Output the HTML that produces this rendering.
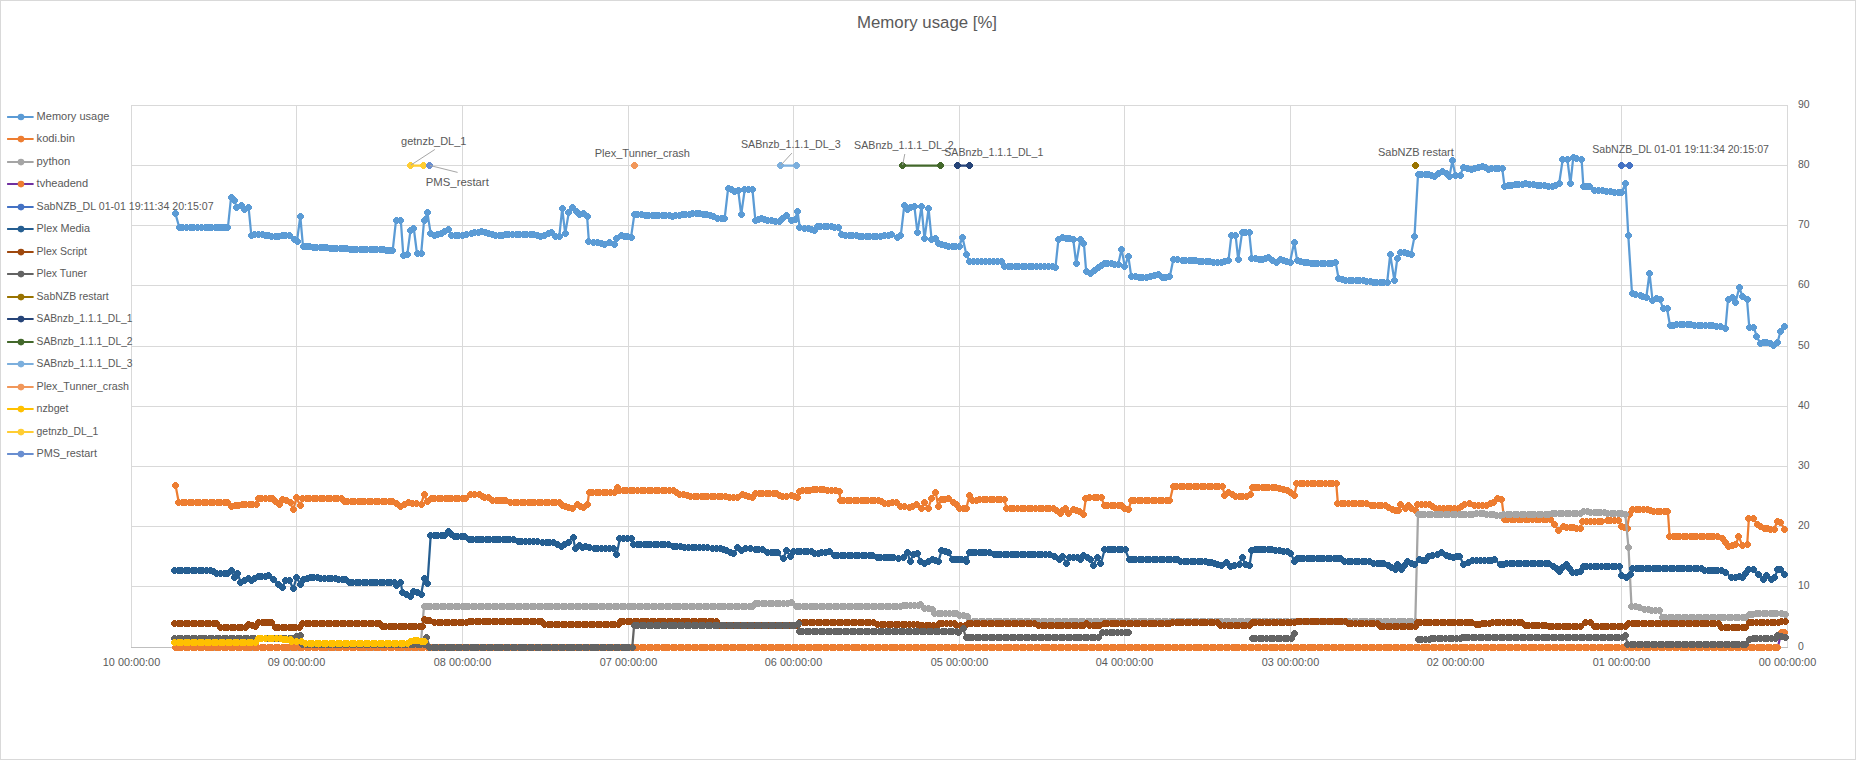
<!DOCTYPE html><html><head><meta charset="utf-8"><style>html,body{margin:0;padding:0;background:#fff;}svg{display:block;}text{font-family:"Liberation Sans", sans-serif;white-space:pre;}</style></head><body>
<svg width="1856" height="760" viewBox="0 0 1856 760">
<rect x="0" y="0" width="1856" height="760" fill="#fff"/>
<rect x="0.5" y="0.5" width="1855" height="759" fill="none" stroke="#D9D9D9" stroke-width="1"/>
<path d="M131 105.5H1788M131 165.5H1788M131 225.5H1788M131 285.5H1788M131 346.5H1788M131 406.5H1788M131 466.5H1788M131 526.5H1788M131 586.5H1788M131.5 105V648M296.5 105V648M462.5 105V648M628.5 105V648M793.5 105V648M959.5 105V648M1124.5 105V648M1290.5 105V648M1455.5 105V648M1621.5 105V648M1787.5 105V648" stroke="#D9D9D9" stroke-width="1" fill="none"/>
<path d="M131 647.5H1788" stroke="#BFBFBF" stroke-width="1" fill="none"/>
<text x="857" y="28.1" font-size="16.8" fill="#595959" text-anchor="start" textLength="140" lengthAdjust="spacingAndGlyphs">Memory usage [%]</text>
<text x="1798" y="108.3" font-size="10.2" fill="#595959" text-anchor="start" textLength="11.6" lengthAdjust="spacingAndGlyphs">90</text>
<text x="1798" y="168.3" font-size="10.2" fill="#595959" text-anchor="start" textLength="11.6" lengthAdjust="spacingAndGlyphs">80</text>
<text x="1798" y="228.3" font-size="10.2" fill="#595959" text-anchor="start" textLength="11.6" lengthAdjust="spacingAndGlyphs">70</text>
<text x="1798" y="288.3" font-size="10.2" fill="#595959" text-anchor="start" textLength="11.6" lengthAdjust="spacingAndGlyphs">60</text>
<text x="1798" y="349.3" font-size="10.2" fill="#595959" text-anchor="start" textLength="11.6" lengthAdjust="spacingAndGlyphs">50</text>
<text x="1798" y="409.3" font-size="10.2" fill="#595959" text-anchor="start" textLength="11.6" lengthAdjust="spacingAndGlyphs">40</text>
<text x="1798" y="469.3" font-size="10.2" fill="#595959" text-anchor="start" textLength="11.6" lengthAdjust="spacingAndGlyphs">30</text>
<text x="1798" y="529.3" font-size="10.2" fill="#595959" text-anchor="start" textLength="11.6" lengthAdjust="spacingAndGlyphs">20</text>
<text x="1798" y="589.3" font-size="10.2" fill="#595959" text-anchor="start" textLength="11.6" lengthAdjust="spacingAndGlyphs">10</text>
<text x="1798" y="650.3" font-size="10.2" fill="#595959" text-anchor="start" textLength="5.8" lengthAdjust="spacingAndGlyphs">0</text>
<text x="102.8" y="665.6" font-size="10.2" fill="#595959" text-anchor="start" textLength="57.4" lengthAdjust="spacingAndGlyphs">10 00:00:00</text>
<text x="267.8" y="665.6" font-size="10.2" fill="#595959" text-anchor="start" textLength="57.4" lengthAdjust="spacingAndGlyphs">09 00:00:00</text>
<text x="433.8" y="665.6" font-size="10.2" fill="#595959" text-anchor="start" textLength="57.4" lengthAdjust="spacingAndGlyphs">08 00:00:00</text>
<text x="599.8" y="665.6" font-size="10.2" fill="#595959" text-anchor="start" textLength="57.4" lengthAdjust="spacingAndGlyphs">07 00:00:00</text>
<text x="764.8" y="665.6" font-size="10.2" fill="#595959" text-anchor="start" textLength="57.4" lengthAdjust="spacingAndGlyphs">06 00:00:00</text>
<text x="930.8" y="665.6" font-size="10.2" fill="#595959" text-anchor="start" textLength="57.4" lengthAdjust="spacingAndGlyphs">05 00:00:00</text>
<text x="1095.8" y="665.6" font-size="10.2" fill="#595959" text-anchor="start" textLength="57.4" lengthAdjust="spacingAndGlyphs">04 00:00:00</text>
<text x="1261.8" y="665.6" font-size="10.2" fill="#595959" text-anchor="start" textLength="57.4" lengthAdjust="spacingAndGlyphs">03 00:00:00</text>
<text x="1426.8" y="665.6" font-size="10.2" fill="#595959" text-anchor="start" textLength="57.4" lengthAdjust="spacingAndGlyphs">02 00:00:00</text>
<text x="1592.8" y="665.6" font-size="10.2" fill="#595959" text-anchor="start" textLength="57.4" lengthAdjust="spacingAndGlyphs">01 00:00:00</text>
<text x="1758.8" y="665.6" font-size="10.2" fill="#595959" text-anchor="start" textLength="57.4" lengthAdjust="spacingAndGlyphs">00 00:00:00</text>
<polyline points="175.4,213.6 179.4,227.7 182.9,227.6 186.5,227.4 190,227.3 193.8,227.4 197.5,227.6 201.2,227.7 205,227.8 208.3,227.6 211.7,227.4 215,227.2 218.2,227.3 221.4,227.3 224.7,227.4 227.9,227.5 231.1,197 234.3,200.2 236.8,207.5 241.6,205.9 244.9,209.9 248.6,207.5 251.3,235 254.9,234.8 258.4,234.7 262,234.5 265.2,235 268.5,235.5 271.8,236 275,236.5 278.6,236.1 282.1,235.8 285.7,235.4 289.3,235 294.2,239.5 297,241 300.3,216.4 303,246.3 306.4,246.5 309.8,246.8 313.2,247 316.6,247.3 320,247.5 323.3,247.7 326.7,247.8 330,248 333.3,248.2 336.7,248.3 340,248.5 343.3,248.7 346.7,248.8 350,249 353.3,249.1 356.7,249.1 360,249.2 363.3,249.2 366.7,249.3 370,249.3 373.3,249.4 376.7,249.4 380,249.5 383.2,249.8 386.4,250.1 389.5,250.3 392.7,250.6 396,220.4 400.8,220.4 403.3,255.2 407.3,254.3 410.5,230.1 413.8,228.5 417,253.5 421.2,253.4 424.1,220.2 425.3,219 427.3,212.3 430.7,233.6 434.2,235 437.8,234 441.3,233 444.9,231.3 448.4,229.7 451.4,235 455.2,235.2 458.9,235.4 462.7,235.6 466.9,234.6 471,233.5 474.5,232.8 478.1,232.2 481.6,231.5 485.2,232.5 488.8,233.6 492.3,234.6 495.9,235.6 499.1,235.3 502.4,235.1 505.6,234.8 508.9,234.5 512.5,234.4 516,234.4 519.6,234.3 523.1,234.2 526.7,234.1 530.2,234.1 533.8,234 537.3,235.4 540.9,236.8 544.5,235.4 548,233.9 551.6,232.5 555.1,236.8 559.3,236.5 562.2,208.4 565.2,233.6 568.8,212.5 572.3,207.2 576.5,211.3 579.4,214.9 583.6,213.7 587.1,216.7 588.9,241.6 593.3,242.1 597.8,242.7 601.3,243.6 604.9,244.5 609.7,242.2 614.4,244.8 616.8,238.6 621.5,235.6 624.7,236.2 627.8,236.8 631,237.4 634.4,214.2 638,214.5 641.5,214.8 645.1,215 648.7,215.3 652.1,215.4 655.5,215.5 658.9,215.6 662.2,215.7 665.6,215.8 669,215.9 672.4,216 675.8,215.6 679.2,215.3 682.6,214.9 685.9,214.6 689.3,214.2 692.7,213.9 696.1,213.5 699.6,213.9 703.2,214.2 706.8,214.6 710.3,215 713.9,216.7 717.5,218.3 721,218.6 724.6,218.9 728.1,188.6 731.1,189.8 734.1,191 738.2,190.2 741.2,214.7 744.7,189.8 748.9,189 752.4,189.2 755.4,220.6 758.3,219.4 761.3,218.3 764.2,219.4 767.2,220.6 771.2,220.8 775.1,221 779.1,221.2 782.7,218.6 786.2,215.9 791,220 795.1,219.5 797.5,211.2 799.8,227.8 804.2,228.1 808.7,228.3 811.7,229.2 814.7,230.1 817,226 820.6,226.2 824.1,226.4 827.7,226.6 831.3,226.8 834.8,227 838.4,227.2 841.9,234.8 845.5,235.2 849.2,235.5 852.8,235.9 856.2,236 859.6,236.1 863,236.2 866.3,236.2 869.7,236.3 873.1,236.4 876.5,236.5 880.4,236.1 884.2,235.6 888,235.1 891.9,234.7 897.2,237.7 900.8,235.3 904.3,205.4 907.3,209.2 910.8,207.8 914.4,206.3 917.4,232.7 921.5,206.6 924.5,238.9 928.6,208.6 931.6,239.5 935.8,238.3 938.1,243 941.7,244 945.2,245 948.8,246 952.4,246 955.9,246 959.5,246 962.4,237.1 966.3,254.3 969.5,261.4 973.4,261.5 977.2,261.6 981.1,261.7 985,261.8 989,261.6 993,261.5 997,261.4 1001,261.2 1004.5,266 1008,266 1011.6,266 1015.1,266.1 1018.7,266.1 1022.2,266.1 1025.8,266.1 1029.3,266.1 1032.9,266.2 1036.5,266.2 1040,266.2 1044,266.2 1048,266.2 1052,266.2 1055.4,267.8 1058.4,239.6 1062.5,237.8 1066.1,238.2 1069.6,238.6 1073.2,239 1076.2,263.6 1080.3,239.6 1083.9,243.7 1086.2,271.6 1090.4,273.3 1094.2,270.4 1098.1,267.4 1101,265.6 1104,263.9 1107.5,263.9 1111.1,263.9 1114.7,264.2 1118.2,264.5 1121.6,249 1124.8,266.8 1128.3,256.2 1131.3,276.7 1135.2,276.9 1139,277.1 1142.8,277.3 1146.7,277.5 1150.6,276.5 1154.6,275.5 1158.5,274.5 1162.1,277.5 1165.9,277.1 1169.8,276.7 1173.4,259.1 1177.8,259.7 1182.2,260.3 1185.6,260.5 1189,260.6 1192.4,260.8 1195.8,261 1199.2,261.2 1202.6,261.3 1206,261.5 1209.8,261.8 1213.7,262.1 1217.6,262.4 1221.4,262.7 1225,261.5 1228.5,260.3 1231.4,235.4 1235.6,235.4 1238.2,259.7 1242.1,232.4 1245.7,232.4 1249.2,232.4 1251.9,258.5 1255.5,258.9 1259.2,259.3 1262.8,259.7 1265.8,258.8 1268.7,257.9 1272.6,260 1276.4,262.1 1280.6,259.7 1283.7,260.5 1286.9,261.3 1290,262.1 1294.2,242.3 1297.2,260.9 1300.8,261.8 1304.3,262.7 1307.7,262.9 1311.1,263 1314.5,263.2 1317.8,263.4 1321.2,263.6 1324.6,263.7 1328,263.9 1331.8,263.1 1335.7,262.4 1338.6,278.7 1342.2,279.6 1345.8,280.5 1349.3,280.5 1352.9,280.5 1356.4,280.5 1360,280.5 1363.5,280.5 1366.8,281.1 1370,281.6 1373.3,282.2 1376.6,282.8 1380.1,282.6 1383.7,282.4 1387.2,282.2 1390.2,254.4 1394.4,280.5 1397.3,258.5 1400.9,252 1404.3,252.8 1407.6,253.6 1411,254.4 1414.5,236.6 1418,174.9 1421.6,174.6 1425.2,174.3 1428.3,174.9 1431.5,175.5 1434.6,176.1 1438.8,173.7 1442.9,171.3 1446.2,173.7 1449.5,176.1 1452.4,160.7 1455.4,175.5 1460.1,175.5 1463.1,167.8 1467.2,168.4 1471.4,169 1474.9,168 1478.5,167 1482,166 1485,167.5 1488,169 1491.5,168.8 1495.1,168.7 1498.7,168.6 1502.2,168.4 1504.6,186.7 1508.2,185.8 1511.7,185 1515.2,184.7 1518.8,184.4 1522.4,184.1 1525.9,183.8 1529.6,184.2 1533.4,184.6 1537.1,185 1540.8,185.5 1544.5,185.9 1548.3,186.3 1552,186.7 1555.5,185.2 1559.1,183.8 1562.7,159.5 1567.4,159.5 1570.4,183.8 1573.3,157.1 1576.9,158.9 1581.6,159.5 1583.4,186.7 1586.7,186.4 1589.9,186.2 1594.7,190.9 1598.6,190.9 1602.6,191 1606.5,191 1610.5,191.6 1614.4,192.1 1618.4,192.7 1621.5,192.5 1625.5,183.8 1628.3,235.5 1632,293.3 1635,294.3 1640,295 1642.5,296.3 1646.3,297.5 1649.5,273 1652.5,300 1656.3,298.8 1660,299.5 1663,308.3 1667,308.3 1670,325.5 1673.3,325.2 1676.7,324.8 1680,324.5 1683.6,324.7 1687.3,324.8 1690.9,325 1694.5,325.2 1698.2,325.3 1701.8,325.5 1705.5,325.6 1709.1,325.8 1712.7,326 1716.4,326.1 1720,326.3 1725.5,328 1728,299.5 1732,297.5 1735.5,302.5 1739.3,287.5 1742.5,296.3 1747,299.5 1749.3,327.5 1753.8,327.5 1756.8,336.3 1760,343 1763.2,342.5 1766.3,342 1770,343.8 1773.8,345.5 1777.5,342.5 1780.5,331.3 1784.3,326.3" fill="none" stroke="#5B9BD5" stroke-width="2.25" stroke-linejoin="round" stroke-linecap="round"/>
<path d="M174 210h3v1h1v1h1v3h-1v1h-1v1h-3v-1h-1v-1h-1v-3h1v-1h1zM178 224h3v1h1v1h1v3h-1v1h-1v1h-3v-1h-1v-1h-1v-3h1v-1h1zM181 224h3v1h1v1h1v3h-1v1h-1v1h-3v-1h-1v-1h-1v-3h1v-1h1zM185 224h3v1h1v1h1v3h-1v1h-1v1h-3v-1h-1v-1h-1v-3h1v-1h1zM189 224h3v1h1v1h1v3h-1v1h-1v1h-3v-1h-1v-1h-1v-3h1v-1h1zM192 224h3v1h1v1h1v3h-1v1h-1v1h-3v-1h-1v-1h-1v-3h1v-1h1zM196 224h3v1h1v1h1v3h-1v1h-1v1h-3v-1h-1v-1h-1v-3h1v-1h1zM200 224h3v1h1v1h1v3h-1v1h-1v1h-3v-1h-1v-1h-1v-3h1v-1h1zM204 224h3v1h1v1h1v3h-1v1h-1v1h-3v-1h-1v-1h-1v-3h1v-1h1zM207 224h3v1h1v1h1v3h-1v1h-1v1h-3v-1h-1v-1h-1v-3h1v-1h1zM210 224h3v1h1v1h1v3h-1v1h-1v1h-3v-1h-1v-1h-1v-3h1v-1h1zM214 224h3v1h1v1h1v3h-1v1h-1v1h-3v-1h-1v-1h-1v-3h1v-1h1zM217 224h3v1h1v1h1v3h-1v1h-1v1h-3v-1h-1v-1h-1v-3h1v-1h1zM220 224h3v1h1v1h1v3h-1v1h-1v1h-3v-1h-1v-1h-1v-3h1v-1h1zM223 224h3v1h1v1h1v3h-1v1h-1v1h-3v-1h-1v-1h-1v-3h1v-1h1zM226 224h3v1h1v1h1v3h-1v1h-1v1h-3v-1h-1v-1h-1v-3h1v-1h1zM230 194h3v1h1v1h1v3h-1v1h-1v1h-3v-1h-1v-1h-1v-3h1v-1h1zM233 197h3v1h1v1h1v3h-1v1h-1v1h-3v-1h-1v-1h-1v-3h1v-1h1zM235 204h3v1h1v1h1v3h-1v1h-1v1h-3v-1h-1v-1h-1v-3h1v-1h1zM240 202h3v1h1v1h1v3h-1v1h-1v1h-3v-1h-1v-1h-1v-3h1v-1h1zM243 206h3v1h1v1h1v3h-1v1h-1v1h-3v-1h-1v-1h-1v-3h1v-1h1zM247 204h3v1h1v1h1v3h-1v1h-1v1h-3v-1h-1v-1h-1v-3h1v-1h1zM250 232h3v1h1v1h1v3h-1v1h-1v1h-3v-1h-1v-1h-1v-3h1v-1h1zM253 231h3v1h1v1h1v3h-1v1h-1v1h-3v-1h-1v-1h-1v-3h1v-1h1zM257 231h3v1h1v1h1v3h-1v1h-1v1h-3v-1h-1v-1h-1v-3h1v-1h1zM261 231h3v1h1v1h1v3h-1v1h-1v1h-3v-1h-1v-1h-1v-3h1v-1h1zM264 232h3v1h1v1h1v3h-1v1h-1v1h-3v-1h-1v-1h-1v-3h1v-1h1zM267 232h3v1h1v1h1v3h-1v1h-1v1h-3v-1h-1v-1h-1v-3h1v-1h1zM270 233h3v1h1v1h1v3h-1v1h-1v1h-3v-1h-1v-1h-1v-3h1v-1h1zM274 233h3v1h1v1h1v3h-1v1h-1v1h-3v-1h-1v-1h-1v-3h1v-1h1zM277 233h3v1h1v1h1v3h-1v1h-1v1h-3v-1h-1v-1h-1v-3h1v-1h1zM281 232h3v1h1v1h1v3h-1v1h-1v1h-3v-1h-1v-1h-1v-3h1v-1h1zM284 232h3v1h1v1h1v3h-1v1h-1v1h-3v-1h-1v-1h-1v-3h1v-1h1zM288 232h3v1h1v1h1v3h-1v1h-1v1h-3v-1h-1v-1h-1v-3h1v-1h1zM293 236h3v1h1v1h1v3h-1v1h-1v1h-3v-1h-1v-1h-1v-3h1v-1h1zM296 238h3v1h1v1h1v3h-1v1h-1v1h-3v-1h-1v-1h-1v-3h1v-1h1zM299 213h3v1h1v1h1v3h-1v1h-1v1h-3v-1h-1v-1h-1v-3h1v-1h1zM302 243h3v1h1v1h1v3h-1v1h-1v1h-3v-1h-1v-1h-1v-3h1v-1h1zM305 243h3v1h1v1h1v3h-1v1h-1v1h-3v-1h-1v-1h-1v-3h1v-1h1zM308 243h3v1h1v1h1v3h-1v1h-1v1h-3v-1h-1v-1h-1v-3h1v-1h1zM312 244h3v1h1v1h1v3h-1v1h-1v1h-3v-1h-1v-1h-1v-3h1v-1h1zM315 244h3v1h1v1h1v3h-1v1h-1v1h-3v-1h-1v-1h-1v-3h1v-1h1zM319 244h3v1h1v1h1v3h-1v1h-1v1h-3v-1h-1v-1h-1v-3h1v-1h1zM322 244h3v1h1v1h1v3h-1v1h-1v1h-3v-1h-1v-1h-1v-3h1v-1h1zM325 244h3v1h1v1h1v3h-1v1h-1v1h-3v-1h-1v-1h-1v-3h1v-1h1zM329 245h3v1h1v1h1v3h-1v1h-1v1h-3v-1h-1v-1h-1v-3h1v-1h1zM332 245h3v1h1v1h1v3h-1v1h-1v1h-3v-1h-1v-1h-1v-3h1v-1h1zM335 245h3v1h1v1h1v3h-1v1h-1v1h-3v-1h-1v-1h-1v-3h1v-1h1zM339 245h3v1h1v1h1v3h-1v1h-1v1h-3v-1h-1v-1h-1v-3h1v-1h1zM342 245h3v1h1v1h1v3h-1v1h-1v1h-3v-1h-1v-1h-1v-3h1v-1h1zM345 245h3v1h1v1h1v3h-1v1h-1v1h-3v-1h-1v-1h-1v-3h1v-1h1zM349 246h3v1h1v1h1v3h-1v1h-1v1h-3v-1h-1v-1h-1v-3h1v-1h1zM352 246h3v1h1v1h1v3h-1v1h-1v1h-3v-1h-1v-1h-1v-3h1v-1h1zM355 246h3v1h1v1h1v3h-1v1h-1v1h-3v-1h-1v-1h-1v-3h1v-1h1zM359 246h3v1h1v1h1v3h-1v1h-1v1h-3v-1h-1v-1h-1v-3h1v-1h1zM362 246h3v1h1v1h1v3h-1v1h-1v1h-3v-1h-1v-1h-1v-3h1v-1h1zM365 246h3v1h1v1h1v3h-1v1h-1v1h-3v-1h-1v-1h-1v-3h1v-1h1zM369 246h3v1h1v1h1v3h-1v1h-1v1h-3v-1h-1v-1h-1v-3h1v-1h1zM372 246h3v1h1v1h1v3h-1v1h-1v1h-3v-1h-1v-1h-1v-3h1v-1h1zM375 246h3v1h1v1h1v3h-1v1h-1v1h-3v-1h-1v-1h-1v-3h1v-1h1zM379 246h3v1h1v1h1v3h-1v1h-1v1h-3v-1h-1v-1h-1v-3h1v-1h1zM382 246h3v1h1v1h1v3h-1v1h-1v1h-3v-1h-1v-1h-1v-3h1v-1h1zM385 247h3v1h1v1h1v3h-1v1h-1v1h-3v-1h-1v-1h-1v-3h1v-1h1zM388 247h3v1h1v1h1v3h-1v1h-1v1h-3v-1h-1v-1h-1v-3h1v-1h1zM391 247h3v1h1v1h1v3h-1v1h-1v1h-3v-1h-1v-1h-1v-3h1v-1h1zM395 217h3v1h1v1h1v3h-1v1h-1v1h-3v-1h-1v-1h-1v-3h1v-1h1zM399 217h3v1h1v1h1v3h-1v1h-1v1h-3v-1h-1v-1h-1v-3h1v-1h1zM402 252h3v1h1v1h1v3h-1v1h-1v1h-3v-1h-1v-1h-1v-3h1v-1h1zM406 251h3v1h1v1h1v3h-1v1h-1v1h-3v-1h-1v-1h-1v-3h1v-1h1zM409 227h3v1h1v1h1v3h-1v1h-1v1h-3v-1h-1v-1h-1v-3h1v-1h1zM412 225h3v1h1v1h1v3h-1v1h-1v1h-3v-1h-1v-1h-1v-3h1v-1h1zM416 250h3v1h1v1h1v3h-1v1h-1v1h-3v-1h-1v-1h-1v-3h1v-1h1zM420 250h3v1h1v1h1v3h-1v1h-1v1h-3v-1h-1v-1h-1v-3h1v-1h1zM423 217h3v1h1v1h1v3h-1v1h-1v1h-3v-1h-1v-1h-1v-3h1v-1h1zM424 216h3v1h1v1h1v3h-1v1h-1v1h-3v-1h-1v-1h-1v-3h1v-1h1zM426 209h3v1h1v1h1v3h-1v1h-1v1h-3v-1h-1v-1h-1v-3h1v-1h1zM429 230h3v1h1v1h1v3h-1v1h-1v1h-3v-1h-1v-1h-1v-3h1v-1h1zM433 232h3v1h1v1h1v3h-1v1h-1v1h-3v-1h-1v-1h-1v-3h1v-1h1zM436 231h3v1h1v1h1v3h-1v1h-1v1h-3v-1h-1v-1h-1v-3h1v-1h1zM440 230h3v1h1v1h1v3h-1v1h-1v1h-3v-1h-1v-1h-1v-3h1v-1h1zM443 228h3v1h1v1h1v3h-1v1h-1v1h-3v-1h-1v-1h-1v-3h1v-1h1zM447 226h3v1h1v1h1v3h-1v1h-1v1h-3v-1h-1v-1h-1v-3h1v-1h1zM450 232h3v1h1v1h1v3h-1v1h-1v1h-3v-1h-1v-1h-1v-3h1v-1h1zM454 232h3v1h1v1h1v3h-1v1h-1v1h-3v-1h-1v-1h-1v-3h1v-1h1zM457 232h3v1h1v1h1v3h-1v1h-1v1h-3v-1h-1v-1h-1v-3h1v-1h1zM461 232h3v1h1v1h1v3h-1v1h-1v1h-3v-1h-1v-1h-1v-3h1v-1h1zM465 231h3v1h1v1h1v3h-1v1h-1v1h-3v-1h-1v-1h-1v-3h1v-1h1zM470 230h3v1h1v1h1v3h-1v1h-1v1h-3v-1h-1v-1h-1v-3h1v-1h1zM473 229h3v1h1v1h1v3h-1v1h-1v1h-3v-1h-1v-1h-1v-3h1v-1h1zM477 229h3v1h1v1h1v3h-1v1h-1v1h-3v-1h-1v-1h-1v-3h1v-1h1zM480 228h3v1h1v1h1v3h-1v1h-1v1h-3v-1h-1v-1h-1v-3h1v-1h1zM484 229h3v1h1v1h1v3h-1v1h-1v1h-3v-1h-1v-1h-1v-3h1v-1h1zM487 230h3v1h1v1h1v3h-1v1h-1v1h-3v-1h-1v-1h-1v-3h1v-1h1zM491 231h3v1h1v1h1v3h-1v1h-1v1h-3v-1h-1v-1h-1v-3h1v-1h1zM494 232h3v1h1v1h1v3h-1v1h-1v1h-3v-1h-1v-1h-1v-3h1v-1h1zM498 232h3v1h1v1h1v3h-1v1h-1v1h-3v-1h-1v-1h-1v-3h1v-1h1zM501 232h3v1h1v1h1v3h-1v1h-1v1h-3v-1h-1v-1h-1v-3h1v-1h1zM504 231h3v1h1v1h1v3h-1v1h-1v1h-3v-1h-1v-1h-1v-3h1v-1h1zM507 231h3v1h1v1h1v3h-1v1h-1v1h-3v-1h-1v-1h-1v-3h1v-1h1zM511 231h3v1h1v1h1v3h-1v1h-1v1h-3v-1h-1v-1h-1v-3h1v-1h1zM515 231h3v1h1v1h1v3h-1v1h-1v1h-3v-1h-1v-1h-1v-3h1v-1h1zM518 231h3v1h1v1h1v3h-1v1h-1v1h-3v-1h-1v-1h-1v-3h1v-1h1zM522 231h3v1h1v1h1v3h-1v1h-1v1h-3v-1h-1v-1h-1v-3h1v-1h1zM525 231h3v1h1v1h1v3h-1v1h-1v1h-3v-1h-1v-1h-1v-3h1v-1h1zM529 231h3v1h1v1h1v3h-1v1h-1v1h-3v-1h-1v-1h-1v-3h1v-1h1zM532 231h3v1h1v1h1v3h-1v1h-1v1h-3v-1h-1v-1h-1v-3h1v-1h1zM536 232h3v1h1v1h1v3h-1v1h-1v1h-3v-1h-1v-1h-1v-3h1v-1h1zM539 233h3v1h1v1h1v3h-1v1h-1v1h-3v-1h-1v-1h-1v-3h1v-1h1zM543 232h3v1h1v1h1v3h-1v1h-1v1h-3v-1h-1v-1h-1v-3h1v-1h1zM547 230h3v1h1v1h1v3h-1v1h-1v1h-3v-1h-1v-1h-1v-3h1v-1h1zM550 229h3v1h1v1h1v3h-1v1h-1v1h-3v-1h-1v-1h-1v-3h1v-1h1zM554 233h3v1h1v1h1v3h-1v1h-1v1h-3v-1h-1v-1h-1v-3h1v-1h1zM558 233h3v1h1v1h1v3h-1v1h-1v1h-3v-1h-1v-1h-1v-3h1v-1h1zM561 205h3v1h1v1h1v3h-1v1h-1v1h-3v-1h-1v-1h-1v-3h1v-1h1zM564 230h3v1h1v1h1v3h-1v1h-1v1h-3v-1h-1v-1h-1v-3h1v-1h1zM567 209h3v1h1v1h1v3h-1v1h-1v1h-3v-1h-1v-1h-1v-3h1v-1h1zM571 204h3v1h1v1h1v3h-1v1h-1v1h-3v-1h-1v-1h-1v-3h1v-1h1zM575 208h3v1h1v1h1v3h-1v1h-1v1h-3v-1h-1v-1h-1v-3h1v-1h1zM578 211h3v1h1v1h1v3h-1v1h-1v1h-3v-1h-1v-1h-1v-3h1v-1h1zM582 210h3v1h1v1h1v3h-1v1h-1v1h-3v-1h-1v-1h-1v-3h1v-1h1zM586 213h3v1h1v1h1v3h-1v1h-1v1h-3v-1h-1v-1h-1v-3h1v-1h1zM587 238h3v1h1v1h1v3h-1v1h-1v1h-3v-1h-1v-1h-1v-3h1v-1h1zM592 239h3v1h1v1h1v3h-1v1h-1v1h-3v-1h-1v-1h-1v-3h1v-1h1zM596 239h3v1h1v1h1v3h-1v1h-1v1h-3v-1h-1v-1h-1v-3h1v-1h1zM600 240h3v1h1v1h1v3h-1v1h-1v1h-3v-1h-1v-1h-1v-3h1v-1h1zM603 241h3v1h1v1h1v3h-1v1h-1v1h-3v-1h-1v-1h-1v-3h1v-1h1zM608 239h3v1h1v1h1v3h-1v1h-1v1h-3v-1h-1v-1h-1v-3h1v-1h1zM613 241h3v1h1v1h1v3h-1v1h-1v1h-3v-1h-1v-1h-1v-3h1v-1h1zM615 235h3v1h1v1h1v3h-1v1h-1v1h-3v-1h-1v-1h-1v-3h1v-1h1zM620 232h3v1h1v1h1v3h-1v1h-1v1h-3v-1h-1v-1h-1v-3h1v-1h1zM623 233h3v1h1v1h1v3h-1v1h-1v1h-3v-1h-1v-1h-1v-3h1v-1h1zM626 233h3v1h1v1h1v3h-1v1h-1v1h-3v-1h-1v-1h-1v-3h1v-1h1zM630 234h3v1h1v1h1v3h-1v1h-1v1h-3v-1h-1v-1h-1v-3h1v-1h1zM633 211h3v1h1v1h1v3h-1v1h-1v1h-3v-1h-1v-1h-1v-3h1v-1h1zM636 211h3v1h1v1h1v3h-1v1h-1v1h-3v-1h-1v-1h-1v-3h1v-1h1zM640 211h3v1h1v1h1v3h-1v1h-1v1h-3v-1h-1v-1h-1v-3h1v-1h1zM644 212h3v1h1v1h1v3h-1v1h-1v1h-3v-1h-1v-1h-1v-3h1v-1h1zM647 212h3v1h1v1h1v3h-1v1h-1v1h-3v-1h-1v-1h-1v-3h1v-1h1zM651 212h3v1h1v1h1v3h-1v1h-1v1h-3v-1h-1v-1h-1v-3h1v-1h1zM654 212h3v1h1v1h1v3h-1v1h-1v1h-3v-1h-1v-1h-1v-3h1v-1h1zM657 212h3v1h1v1h1v3h-1v1h-1v1h-3v-1h-1v-1h-1v-3h1v-1h1zM661 212h3v1h1v1h1v3h-1v1h-1v1h-3v-1h-1v-1h-1v-3h1v-1h1zM664 212h3v1h1v1h1v3h-1v1h-1v1h-3v-1h-1v-1h-1v-3h1v-1h1zM668 212h3v1h1v1h1v3h-1v1h-1v1h-3v-1h-1v-1h-1v-3h1v-1h1zM671 213h3v1h1v1h1v3h-1v1h-1v1h-3v-1h-1v-1h-1v-3h1v-1h1zM674 212h3v1h1v1h1v3h-1v1h-1v1h-3v-1h-1v-1h-1v-3h1v-1h1zM678 212h3v1h1v1h1v3h-1v1h-1v1h-3v-1h-1v-1h-1v-3h1v-1h1zM681 211h3v1h1v1h1v3h-1v1h-1v1h-3v-1h-1v-1h-1v-3h1v-1h1zM684 211h3v1h1v1h1v3h-1v1h-1v1h-3v-1h-1v-1h-1v-3h1v-1h1zM688 211h3v1h1v1h1v3h-1v1h-1v1h-3v-1h-1v-1h-1v-3h1v-1h1zM691 210h3v1h1v1h1v3h-1v1h-1v1h-3v-1h-1v-1h-1v-3h1v-1h1zM695 210h3v1h1v1h1v3h-1v1h-1v1h-3v-1h-1v-1h-1v-3h1v-1h1zM698 210h3v1h1v1h1v3h-1v1h-1v1h-3v-1h-1v-1h-1v-3h1v-1h1zM702 211h3v1h1v1h1v3h-1v1h-1v1h-3v-1h-1v-1h-1v-3h1v-1h1zM705 211h3v1h1v1h1v3h-1v1h-1v1h-3v-1h-1v-1h-1v-3h1v-1h1zM709 212h3v1h1v1h1v3h-1v1h-1v1h-3v-1h-1v-1h-1v-3h1v-1h1zM712 213h3v1h1v1h1v3h-1v1h-1v1h-3v-1h-1v-1h-1v-3h1v-1h1zM716 215h3v1h1v1h1v3h-1v1h-1v1h-3v-1h-1v-1h-1v-3h1v-1h1zM720 215h3v1h1v1h1v3h-1v1h-1v1h-3v-1h-1v-1h-1v-3h1v-1h1zM723 215h3v1h1v1h1v3h-1v1h-1v1h-3v-1h-1v-1h-1v-3h1v-1h1zM727 185h3v1h1v1h1v3h-1v1h-1v1h-3v-1h-1v-1h-1v-3h1v-1h1zM730 186h3v1h1v1h1v3h-1v1h-1v1h-3v-1h-1v-1h-1v-3h1v-1h1zM733 188h3v1h1v1h1v3h-1v1h-1v1h-3v-1h-1v-1h-1v-3h1v-1h1zM737 187h3v1h1v1h1v3h-1v1h-1v1h-3v-1h-1v-1h-1v-3h1v-1h1zM740 211h3v1h1v1h1v3h-1v1h-1v1h-3v-1h-1v-1h-1v-3h1v-1h1zM743 186h3v1h1v1h1v3h-1v1h-1v1h-3v-1h-1v-1h-1v-3h1v-1h1zM747 186h3v1h1v1h1v3h-1v1h-1v1h-3v-1h-1v-1h-1v-3h1v-1h1zM751 186h3v1h1v1h1v3h-1v1h-1v1h-3v-1h-1v-1h-1v-3h1v-1h1zM754 217h3v1h1v1h1v3h-1v1h-1v1h-3v-1h-1v-1h-1v-3h1v-1h1zM757 216h3v1h1v1h1v3h-1v1h-1v1h-3v-1h-1v-1h-1v-3h1v-1h1zM760 215h3v1h1v1h1v3h-1v1h-1v1h-3v-1h-1v-1h-1v-3h1v-1h1zM763 216h3v1h1v1h1v3h-1v1h-1v1h-3v-1h-1v-1h-1v-3h1v-1h1zM766 217h3v1h1v1h1v3h-1v1h-1v1h-3v-1h-1v-1h-1v-3h1v-1h1zM770 217h3v1h1v1h1v3h-1v1h-1v1h-3v-1h-1v-1h-1v-3h1v-1h1zM774 218h3v1h1v1h1v3h-1v1h-1v1h-3v-1h-1v-1h-1v-3h1v-1h1zM778 218h3v1h1v1h1v3h-1v1h-1v1h-3v-1h-1v-1h-1v-3h1v-1h1zM781 215h3v1h1v1h1v3h-1v1h-1v1h-3v-1h-1v-1h-1v-3h1v-1h1zM785 212h3v1h1v1h1v3h-1v1h-1v1h-3v-1h-1v-1h-1v-3h1v-1h1zM790 217h3v1h1v1h1v3h-1v1h-1v1h-3v-1h-1v-1h-1v-3h1v-1h1zM794 216h3v1h1v1h1v3h-1v1h-1v1h-3v-1h-1v-1h-1v-3h1v-1h1zM796 208h3v1h1v1h1v3h-1v1h-1v1h-3v-1h-1v-1h-1v-3h1v-1h1zM798 224h3v1h1v1h1v3h-1v1h-1v1h-3v-1h-1v-1h-1v-3h1v-1h1zM803 225h3v1h1v1h1v3h-1v1h-1v1h-3v-1h-1v-1h-1v-3h1v-1h1zM807 225h3v1h1v1h1v3h-1v1h-1v1h-3v-1h-1v-1h-1v-3h1v-1h1zM810 226h3v1h1v1h1v3h-1v1h-1v1h-3v-1h-1v-1h-1v-3h1v-1h1zM813 227h3v1h1v1h1v3h-1v1h-1v1h-3v-1h-1v-1h-1v-3h1v-1h1zM816 223h3v1h1v1h1v3h-1v1h-1v1h-3v-1h-1v-1h-1v-3h1v-1h1zM819 223h3v1h1v1h1v3h-1v1h-1v1h-3v-1h-1v-1h-1v-3h1v-1h1zM823 223h3v1h1v1h1v3h-1v1h-1v1h-3v-1h-1v-1h-1v-3h1v-1h1zM826 223h3v1h1v1h1v3h-1v1h-1v1h-3v-1h-1v-1h-1v-3h1v-1h1zM830 223h3v1h1v1h1v3h-1v1h-1v1h-3v-1h-1v-1h-1v-3h1v-1h1zM833 224h3v1h1v1h1v3h-1v1h-1v1h-3v-1h-1v-1h-1v-3h1v-1h1zM837 224h3v1h1v1h1v3h-1v1h-1v1h-3v-1h-1v-1h-1v-3h1v-1h1zM840 231h3v1h1v1h1v3h-1v1h-1v1h-3v-1h-1v-1h-1v-3h1v-1h1zM844 232h3v1h1v1h1v3h-1v1h-1v1h-3v-1h-1v-1h-1v-3h1v-1h1zM848 232h3v1h1v1h1v3h-1v1h-1v1h-3v-1h-1v-1h-1v-3h1v-1h1zM851 232h3v1h1v1h1v3h-1v1h-1v1h-3v-1h-1v-1h-1v-3h1v-1h1zM855 232h3v1h1v1h1v3h-1v1h-1v1h-3v-1h-1v-1h-1v-3h1v-1h1zM858 233h3v1h1v1h1v3h-1v1h-1v1h-3v-1h-1v-1h-1v-3h1v-1h1zM861 233h3v1h1v1h1v3h-1v1h-1v1h-3v-1h-1v-1h-1v-3h1v-1h1zM865 233h3v1h1v1h1v3h-1v1h-1v1h-3v-1h-1v-1h-1v-3h1v-1h1zM868 233h3v1h1v1h1v3h-1v1h-1v1h-3v-1h-1v-1h-1v-3h1v-1h1zM872 233h3v1h1v1h1v3h-1v1h-1v1h-3v-1h-1v-1h-1v-3h1v-1h1zM875 233h3v1h1v1h1v3h-1v1h-1v1h-3v-1h-1v-1h-1v-3h1v-1h1zM879 233h3v1h1v1h1v3h-1v1h-1v1h-3v-1h-1v-1h-1v-3h1v-1h1zM883 232h3v1h1v1h1v3h-1v1h-1v1h-3v-1h-1v-1h-1v-3h1v-1h1zM887 232h3v1h1v1h1v3h-1v1h-1v1h-3v-1h-1v-1h-1v-3h1v-1h1zM890 231h3v1h1v1h1v3h-1v1h-1v1h-3v-1h-1v-1h-1v-3h1v-1h1zM896 234h3v1h1v1h1v3h-1v1h-1v1h-3v-1h-1v-1h-1v-3h1v-1h1zM899 232h3v1h1v1h1v3h-1v1h-1v1h-3v-1h-1v-1h-1v-3h1v-1h1zM903 202h3v1h1v1h1v3h-1v1h-1v1h-3v-1h-1v-1h-1v-3h1v-1h1zM906 206h3v1h1v1h1v3h-1v1h-1v1h-3v-1h-1v-1h-1v-3h1v-1h1zM909 204h3v1h1v1h1v3h-1v1h-1v1h-3v-1h-1v-1h-1v-3h1v-1h1zM913 203h3v1h1v1h1v3h-1v1h-1v1h-3v-1h-1v-1h-1v-3h1v-1h1zM916 229h3v1h1v1h1v3h-1v1h-1v1h-3v-1h-1v-1h-1v-3h1v-1h1zM920 203h3v1h1v1h1v3h-1v1h-1v1h-3v-1h-1v-1h-1v-3h1v-1h1zM923 235h3v1h1v1h1v3h-1v1h-1v1h-3v-1h-1v-1h-1v-3h1v-1h1zM927 205h3v1h1v1h1v3h-1v1h-1v1h-3v-1h-1v-1h-1v-3h1v-1h1zM930 236h3v1h1v1h1v3h-1v1h-1v1h-3v-1h-1v-1h-1v-3h1v-1h1zM934 235h3v1h1v1h1v3h-1v1h-1v1h-3v-1h-1v-1h-1v-3h1v-1h1zM937 240h3v1h1v1h1v3h-1v1h-1v1h-3v-1h-1v-1h-1v-3h1v-1h1zM940 241h3v1h1v1h1v3h-1v1h-1v1h-3v-1h-1v-1h-1v-3h1v-1h1zM944 242h3v1h1v1h1v3h-1v1h-1v1h-3v-1h-1v-1h-1v-3h1v-1h1zM947 243h3v1h1v1h1v3h-1v1h-1v1h-3v-1h-1v-1h-1v-3h1v-1h1zM951 243h3v1h1v1h1v3h-1v1h-1v1h-3v-1h-1v-1h-1v-3h1v-1h1zM954 243h3v1h1v1h1v3h-1v1h-1v1h-3v-1h-1v-1h-1v-3h1v-1h1zM958 243h3v1h1v1h1v3h-1v1h-1v1h-3v-1h-1v-1h-1v-3h1v-1h1zM961 234h3v1h1v1h1v3h-1v1h-1v1h-3v-1h-1v-1h-1v-3h1v-1h1zM965 251h3v1h1v1h1v3h-1v1h-1v1h-3v-1h-1v-1h-1v-3h1v-1h1zM968 258h3v1h1v1h1v3h-1v1h-1v1h-3v-1h-1v-1h-1v-3h1v-1h1zM972 258h3v1h1v1h1v3h-1v1h-1v1h-3v-1h-1v-1h-1v-3h1v-1h1zM976 258h3v1h1v1h1v3h-1v1h-1v1h-3v-1h-1v-1h-1v-3h1v-1h1zM980 258h3v1h1v1h1v3h-1v1h-1v1h-3v-1h-1v-1h-1v-3h1v-1h1zM984 258h3v1h1v1h1v3h-1v1h-1v1h-3v-1h-1v-1h-1v-3h1v-1h1zM988 258h3v1h1v1h1v3h-1v1h-1v1h-3v-1h-1v-1h-1v-3h1v-1h1zM992 258h3v1h1v1h1v3h-1v1h-1v1h-3v-1h-1v-1h-1v-3h1v-1h1zM996 258h3v1h1v1h1v3h-1v1h-1v1h-3v-1h-1v-1h-1v-3h1v-1h1zM1000 258h3v1h1v1h1v3h-1v1h-1v1h-3v-1h-1v-1h-1v-3h1v-1h1zM1003 263h3v1h1v1h1v3h-1v1h-1v1h-3v-1h-1v-1h-1v-3h1v-1h1zM1007 263h3v1h1v1h1v3h-1v1h-1v1h-3v-1h-1v-1h-1v-3h1v-1h1zM1010 263h3v1h1v1h1v3h-1v1h-1v1h-3v-1h-1v-1h-1v-3h1v-1h1zM1014 263h3v1h1v1h1v3h-1v1h-1v1h-3v-1h-1v-1h-1v-3h1v-1h1zM1017 263h3v1h1v1h1v3h-1v1h-1v1h-3v-1h-1v-1h-1v-3h1v-1h1zM1021 263h3v1h1v1h1v3h-1v1h-1v1h-3v-1h-1v-1h-1v-3h1v-1h1zM1024 263h3v1h1v1h1v3h-1v1h-1v1h-3v-1h-1v-1h-1v-3h1v-1h1zM1028 263h3v1h1v1h1v3h-1v1h-1v1h-3v-1h-1v-1h-1v-3h1v-1h1zM1031 263h3v1h1v1h1v3h-1v1h-1v1h-3v-1h-1v-1h-1v-3h1v-1h1zM1035 263h3v1h1v1h1v3h-1v1h-1v1h-3v-1h-1v-1h-1v-3h1v-1h1zM1039 263h3v1h1v1h1v3h-1v1h-1v1h-3v-1h-1v-1h-1v-3h1v-1h1zM1043 263h3v1h1v1h1v3h-1v1h-1v1h-3v-1h-1v-1h-1v-3h1v-1h1zM1047 263h3v1h1v1h1v3h-1v1h-1v1h-3v-1h-1v-1h-1v-3h1v-1h1zM1051 263h3v1h1v1h1v3h-1v1h-1v1h-3v-1h-1v-1h-1v-3h1v-1h1zM1054 264h3v1h1v1h1v3h-1v1h-1v1h-3v-1h-1v-1h-1v-3h1v-1h1zM1057 236h3v1h1v1h1v3h-1v1h-1v1h-3v-1h-1v-1h-1v-3h1v-1h1zM1061 234h3v1h1v1h1v3h-1v1h-1v1h-3v-1h-1v-1h-1v-3h1v-1h1zM1065 235h3v1h1v1h1v3h-1v1h-1v1h-3v-1h-1v-1h-1v-3h1v-1h1zM1068 235h3v1h1v1h1v3h-1v1h-1v1h-3v-1h-1v-1h-1v-3h1v-1h1zM1072 236h3v1h1v1h1v3h-1v1h-1v1h-3v-1h-1v-1h-1v-3h1v-1h1zM1075 260h3v1h1v1h1v3h-1v1h-1v1h-3v-1h-1v-1h-1v-3h1v-1h1zM1079 236h3v1h1v1h1v3h-1v1h-1v1h-3v-1h-1v-1h-1v-3h1v-1h1zM1082 240h3v1h1v1h1v3h-1v1h-1v1h-3v-1h-1v-1h-1v-3h1v-1h1zM1085 268h3v1h1v1h1v3h-1v1h-1v1h-3v-1h-1v-1h-1v-3h1v-1h1zM1089 270h3v1h1v1h1v3h-1v1h-1v1h-3v-1h-1v-1h-1v-3h1v-1h1zM1093 267h3v1h1v1h1v3h-1v1h-1v1h-3v-1h-1v-1h-1v-3h1v-1h1zM1097 264h3v1h1v1h1v3h-1v1h-1v1h-3v-1h-1v-1h-1v-3h1v-1h1zM1100 262h3v1h1v1h1v3h-1v1h-1v1h-3v-1h-1v-1h-1v-3h1v-1h1zM1103 260h3v1h1v1h1v3h-1v1h-1v1h-3v-1h-1v-1h-1v-3h1v-1h1zM1106 260h3v1h1v1h1v3h-1v1h-1v1h-3v-1h-1v-1h-1v-3h1v-1h1zM1110 260h3v1h1v1h1v3h-1v1h-1v1h-3v-1h-1v-1h-1v-3h1v-1h1zM1113 261h3v1h1v1h1v3h-1v1h-1v1h-3v-1h-1v-1h-1v-3h1v-1h1zM1117 261h3v1h1v1h1v3h-1v1h-1v1h-3v-1h-1v-1h-1v-3h1v-1h1zM1120 246h3v1h1v1h1v3h-1v1h-1v1h-3v-1h-1v-1h-1v-3h1v-1h1zM1123 263h3v1h1v1h1v3h-1v1h-1v1h-3v-1h-1v-1h-1v-3h1v-1h1zM1127 253h3v1h1v1h1v3h-1v1h-1v1h-3v-1h-1v-1h-1v-3h1v-1h1zM1130 273h3v1h1v1h1v3h-1v1h-1v1h-3v-1h-1v-1h-1v-3h1v-1h1zM1134 273h3v1h1v1h1v3h-1v1h-1v1h-3v-1h-1v-1h-1v-3h1v-1h1zM1138 274h3v1h1v1h1v3h-1v1h-1v1h-3v-1h-1v-1h-1v-3h1v-1h1zM1141 274h3v1h1v1h1v3h-1v1h-1v1h-3v-1h-1v-1h-1v-3h1v-1h1zM1145 274h3v1h1v1h1v3h-1v1h-1v1h-3v-1h-1v-1h-1v-3h1v-1h1zM1149 273h3v1h1v1h1v3h-1v1h-1v1h-3v-1h-1v-1h-1v-3h1v-1h1zM1153 272h3v1h1v1h1v3h-1v1h-1v1h-3v-1h-1v-1h-1v-3h1v-1h1zM1157 271h3v1h1v1h1v3h-1v1h-1v1h-3v-1h-1v-1h-1v-3h1v-1h1zM1161 274h3v1h1v1h1v3h-1v1h-1v1h-3v-1h-1v-1h-1v-3h1v-1h1zM1164 274h3v1h1v1h1v3h-1v1h-1v1h-3v-1h-1v-1h-1v-3h1v-1h1zM1168 273h3v1h1v1h1v3h-1v1h-1v1h-3v-1h-1v-1h-1v-3h1v-1h1zM1172 256h3v1h1v1h1v3h-1v1h-1v1h-3v-1h-1v-1h-1v-3h1v-1h1zM1176 256h3v1h1v1h1v3h-1v1h-1v1h-3v-1h-1v-1h-1v-3h1v-1h1zM1181 257h3v1h1v1h1v3h-1v1h-1v1h-3v-1h-1v-1h-1v-3h1v-1h1zM1184 257h3v1h1v1h1v3h-1v1h-1v1h-3v-1h-1v-1h-1v-3h1v-1h1zM1188 257h3v1h1v1h1v3h-1v1h-1v1h-3v-1h-1v-1h-1v-3h1v-1h1zM1191 257h3v1h1v1h1v3h-1v1h-1v1h-3v-1h-1v-1h-1v-3h1v-1h1zM1194 257h3v1h1v1h1v3h-1v1h-1v1h-3v-1h-1v-1h-1v-3h1v-1h1zM1198 258h3v1h1v1h1v3h-1v1h-1v1h-3v-1h-1v-1h-1v-3h1v-1h1zM1201 258h3v1h1v1h1v3h-1v1h-1v1h-3v-1h-1v-1h-1v-3h1v-1h1zM1205 258h3v1h1v1h1v3h-1v1h-1v1h-3v-1h-1v-1h-1v-3h1v-1h1zM1208 258h3v1h1v1h1v3h-1v1h-1v1h-3v-1h-1v-1h-1v-3h1v-1h1zM1212 259h3v1h1v1h1v3h-1v1h-1v1h-3v-1h-1v-1h-1v-3h1v-1h1zM1216 259h3v1h1v1h1v3h-1v1h-1v1h-3v-1h-1v-1h-1v-3h1v-1h1zM1220 259h3v1h1v1h1v3h-1v1h-1v1h-3v-1h-1v-1h-1v-3h1v-1h1zM1223 258h3v1h1v1h1v3h-1v1h-1v1h-3v-1h-1v-1h-1v-3h1v-1h1zM1227 257h3v1h1v1h1v3h-1v1h-1v1h-3v-1h-1v-1h-1v-3h1v-1h1zM1230 232h3v1h1v1h1v3h-1v1h-1v1h-3v-1h-1v-1h-1v-3h1v-1h1zM1234 232h3v1h1v1h1v3h-1v1h-1v1h-3v-1h-1v-1h-1v-3h1v-1h1zM1237 256h3v1h1v1h1v3h-1v1h-1v1h-3v-1h-1v-1h-1v-3h1v-1h1zM1241 229h3v1h1v1h1v3h-1v1h-1v1h-3v-1h-1v-1h-1v-3h1v-1h1zM1244 229h3v1h1v1h1v3h-1v1h-1v1h-3v-1h-1v-1h-1v-3h1v-1h1zM1248 229h3v1h1v1h1v3h-1v1h-1v1h-3v-1h-1v-1h-1v-3h1v-1h1zM1250 255h3v1h1v1h1v3h-1v1h-1v1h-3v-1h-1v-1h-1v-3h1v-1h1zM1254 255h3v1h1v1h1v3h-1v1h-1v1h-3v-1h-1v-1h-1v-3h1v-1h1zM1258 256h3v1h1v1h1v3h-1v1h-1v1h-3v-1h-1v-1h-1v-3h1v-1h1zM1261 256h3v1h1v1h1v3h-1v1h-1v1h-3v-1h-1v-1h-1v-3h1v-1h1zM1264 255h3v1h1v1h1v3h-1v1h-1v1h-3v-1h-1v-1h-1v-3h1v-1h1zM1267 254h3v1h1v1h1v3h-1v1h-1v1h-3v-1h-1v-1h-1v-3h1v-1h1zM1271 257h3v1h1v1h1v3h-1v1h-1v1h-3v-1h-1v-1h-1v-3h1v-1h1zM1275 259h3v1h1v1h1v3h-1v1h-1v1h-3v-1h-1v-1h-1v-3h1v-1h1zM1279 256h3v1h1v1h1v3h-1v1h-1v1h-3v-1h-1v-1h-1v-3h1v-1h1zM1282 257h3v1h1v1h1v3h-1v1h-1v1h-3v-1h-1v-1h-1v-3h1v-1h1zM1285 258h3v1h1v1h1v3h-1v1h-1v1h-3v-1h-1v-1h-1v-3h1v-1h1zM1289 259h3v1h1v1h1v3h-1v1h-1v1h-3v-1h-1v-1h-1v-3h1v-1h1zM1293 239h3v1h1v1h1v3h-1v1h-1v1h-3v-1h-1v-1h-1v-3h1v-1h1zM1296 257h3v1h1v1h1v3h-1v1h-1v1h-3v-1h-1v-1h-1v-3h1v-1h1zM1299 258h3v1h1v1h1v3h-1v1h-1v1h-3v-1h-1v-1h-1v-3h1v-1h1zM1303 259h3v1h1v1h1v3h-1v1h-1v1h-3v-1h-1v-1h-1v-3h1v-1h1zM1306 259h3v1h1v1h1v3h-1v1h-1v1h-3v-1h-1v-1h-1v-3h1v-1h1zM1310 260h3v1h1v1h1v3h-1v1h-1v1h-3v-1h-1v-1h-1v-3h1v-1h1zM1313 260h3v1h1v1h1v3h-1v1h-1v1h-3v-1h-1v-1h-1v-3h1v-1h1zM1316 260h3v1h1v1h1v3h-1v1h-1v1h-3v-1h-1v-1h-1v-3h1v-1h1zM1320 260h3v1h1v1h1v3h-1v1h-1v1h-3v-1h-1v-1h-1v-3h1v-1h1zM1323 260h3v1h1v1h1v3h-1v1h-1v1h-3v-1h-1v-1h-1v-3h1v-1h1zM1327 260h3v1h1v1h1v3h-1v1h-1v1h-3v-1h-1v-1h-1v-3h1v-1h1zM1330 260h3v1h1v1h1v3h-1v1h-1v1h-3v-1h-1v-1h-1v-3h1v-1h1zM1334 259h3v1h1v1h1v3h-1v1h-1v1h-3v-1h-1v-1h-1v-3h1v-1h1zM1337 275h3v1h1v1h1v3h-1v1h-1v1h-3v-1h-1v-1h-1v-3h1v-1h1zM1341 276h3v1h1v1h1v3h-1v1h-1v1h-3v-1h-1v-1h-1v-3h1v-1h1zM1344 277h3v1h1v1h1v3h-1v1h-1v1h-3v-1h-1v-1h-1v-3h1v-1h1zM1348 277h3v1h1v1h1v3h-1v1h-1v1h-3v-1h-1v-1h-1v-3h1v-1h1zM1351 277h3v1h1v1h1v3h-1v1h-1v1h-3v-1h-1v-1h-1v-3h1v-1h1zM1355 277h3v1h1v1h1v3h-1v1h-1v1h-3v-1h-1v-1h-1v-3h1v-1h1zM1358 277h3v1h1v1h1v3h-1v1h-1v1h-3v-1h-1v-1h-1v-3h1v-1h1zM1362 277h3v1h1v1h1v3h-1v1h-1v1h-3v-1h-1v-1h-1v-3h1v-1h1zM1365 278h3v1h1v1h1v3h-1v1h-1v1h-3v-1h-1v-1h-1v-3h1v-1h1zM1369 278h3v1h1v1h1v3h-1v1h-1v1h-3v-1h-1v-1h-1v-3h1v-1h1zM1372 279h3v1h1v1h1v3h-1v1h-1v1h-3v-1h-1v-1h-1v-3h1v-1h1zM1375 279h3v1h1v1h1v3h-1v1h-1v1h-3v-1h-1v-1h-1v-3h1v-1h1zM1379 279h3v1h1v1h1v3h-1v1h-1v1h-3v-1h-1v-1h-1v-3h1v-1h1zM1382 279h3v1h1v1h1v3h-1v1h-1v1h-3v-1h-1v-1h-1v-3h1v-1h1zM1386 279h3v1h1v1h1v3h-1v1h-1v1h-3v-1h-1v-1h-1v-3h1v-1h1zM1389 251h3v1h1v1h1v3h-1v1h-1v1h-3v-1h-1v-1h-1v-3h1v-1h1zM1393 277h3v1h1v1h1v3h-1v1h-1v1h-3v-1h-1v-1h-1v-3h1v-1h1zM1396 255h3v1h1v1h1v3h-1v1h-1v1h-3v-1h-1v-1h-1v-3h1v-1h1zM1399 249h3v1h1v1h1v3h-1v1h-1v1h-3v-1h-1v-1h-1v-3h1v-1h1zM1403 249h3v1h1v1h1v3h-1v1h-1v1h-3v-1h-1v-1h-1v-3h1v-1h1zM1406 250h3v1h1v1h1v3h-1v1h-1v1h-3v-1h-1v-1h-1v-3h1v-1h1zM1410 251h3v1h1v1h1v3h-1v1h-1v1h-3v-1h-1v-1h-1v-3h1v-1h1zM1413 233h3v1h1v1h1v3h-1v1h-1v1h-3v-1h-1v-1h-1v-3h1v-1h1zM1417 171h3v1h1v1h1v3h-1v1h-1v1h-3v-1h-1v-1h-1v-3h1v-1h1zM1420 171h3v1h1v1h1v3h-1v1h-1v1h-3v-1h-1v-1h-1v-3h1v-1h1zM1424 171h3v1h1v1h1v3h-1v1h-1v1h-3v-1h-1v-1h-1v-3h1v-1h1zM1427 171h3v1h1v1h1v3h-1v1h-1v1h-3v-1h-1v-1h-1v-3h1v-1h1zM1430 172h3v1h1v1h1v3h-1v1h-1v1h-3v-1h-1v-1h-1v-3h1v-1h1zM1433 173h3v1h1v1h1v3h-1v1h-1v1h-3v-1h-1v-1h-1v-3h1v-1h1zM1437 170h3v1h1v1h1v3h-1v1h-1v1h-3v-1h-1v-1h-1v-3h1v-1h1zM1441 168h3v1h1v1h1v3h-1v1h-1v1h-3v-1h-1v-1h-1v-3h1v-1h1zM1445 170h3v1h1v1h1v3h-1v1h-1v1h-3v-1h-1v-1h-1v-3h1v-1h1zM1448 173h3v1h1v1h1v3h-1v1h-1v1h-3v-1h-1v-1h-1v-3h1v-1h1zM1451 157h3v1h1v1h1v3h-1v1h-1v1h-3v-1h-1v-1h-1v-3h1v-1h1zM1454 172h3v1h1v1h1v3h-1v1h-1v1h-3v-1h-1v-1h-1v-3h1v-1h1zM1459 172h3v1h1v1h1v3h-1v1h-1v1h-3v-1h-1v-1h-1v-3h1v-1h1zM1462 164h3v1h1v1h1v3h-1v1h-1v1h-3v-1h-1v-1h-1v-3h1v-1h1zM1466 165h3v1h1v1h1v3h-1v1h-1v1h-3v-1h-1v-1h-1v-3h1v-1h1zM1470 166h3v1h1v1h1v3h-1v1h-1v1h-3v-1h-1v-1h-1v-3h1v-1h1zM1473 165h3v1h1v1h1v3h-1v1h-1v1h-3v-1h-1v-1h-1v-3h1v-1h1zM1477 164h3v1h1v1h1v3h-1v1h-1v1h-3v-1h-1v-1h-1v-3h1v-1h1zM1481 163h3v1h1v1h1v3h-1v1h-1v1h-3v-1h-1v-1h-1v-3h1v-1h1zM1484 164h3v1h1v1h1v3h-1v1h-1v1h-3v-1h-1v-1h-1v-3h1v-1h1zM1487 166h3v1h1v1h1v3h-1v1h-1v1h-3v-1h-1v-1h-1v-3h1v-1h1zM1490 165h3v1h1v1h1v3h-1v1h-1v1h-3v-1h-1v-1h-1v-3h1v-1h1zM1494 165h3v1h1v1h1v3h-1v1h-1v1h-3v-1h-1v-1h-1v-3h1v-1h1zM1497 165h3v1h1v1h1v3h-1v1h-1v1h-3v-1h-1v-1h-1v-3h1v-1h1zM1501 165h3v1h1v1h1v3h-1v1h-1v1h-3v-1h-1v-1h-1v-3h1v-1h1zM1503 183h3v1h1v1h1v3h-1v1h-1v1h-3v-1h-1v-1h-1v-3h1v-1h1zM1507 182h3v1h1v1h1v3h-1v1h-1v1h-3v-1h-1v-1h-1v-3h1v-1h1zM1510 182h3v1h1v1h1v3h-1v1h-1v1h-3v-1h-1v-1h-1v-3h1v-1h1zM1514 181h3v1h1v1h1v3h-1v1h-1v1h-3v-1h-1v-1h-1v-3h1v-1h1zM1517 181h3v1h1v1h1v3h-1v1h-1v1h-3v-1h-1v-1h-1v-3h1v-1h1zM1521 181h3v1h1v1h1v3h-1v1h-1v1h-3v-1h-1v-1h-1v-3h1v-1h1zM1524 180h3v1h1v1h1v3h-1v1h-1v1h-3v-1h-1v-1h-1v-3h1v-1h1zM1528 181h3v1h1v1h1v3h-1v1h-1v1h-3v-1h-1v-1h-1v-3h1v-1h1zM1532 181h3v1h1v1h1v3h-1v1h-1v1h-3v-1h-1v-1h-1v-3h1v-1h1zM1536 182h3v1h1v1h1v3h-1v1h-1v1h-3v-1h-1v-1h-1v-3h1v-1h1zM1539 182h3v1h1v1h1v3h-1v1h-1v1h-3v-1h-1v-1h-1v-3h1v-1h1zM1543 182h3v1h1v1h1v3h-1v1h-1v1h-3v-1h-1v-1h-1v-3h1v-1h1zM1547 183h3v1h1v1h1v3h-1v1h-1v1h-3v-1h-1v-1h-1v-3h1v-1h1zM1551 183h3v1h1v1h1v3h-1v1h-1v1h-3v-1h-1v-1h-1v-3h1v-1h1zM1554 182h3v1h1v1h1v3h-1v1h-1v1h-3v-1h-1v-1h-1v-3h1v-1h1zM1558 180h3v1h1v1h1v3h-1v1h-1v1h-3v-1h-1v-1h-1v-3h1v-1h1zM1561 156h3v1h1v1h1v3h-1v1h-1v1h-3v-1h-1v-1h-1v-3h1v-1h1zM1566 156h3v1h1v1h1v3h-1v1h-1v1h-3v-1h-1v-1h-1v-3h1v-1h1zM1569 180h3v1h1v1h1v3h-1v1h-1v1h-3v-1h-1v-1h-1v-3h1v-1h1zM1572 154h3v1h1v1h1v3h-1v1h-1v1h-3v-1h-1v-1h-1v-3h1v-1h1zM1575 155h3v1h1v1h1v3h-1v1h-1v1h-3v-1h-1v-1h-1v-3h1v-1h1zM1580 156h3v1h1v1h1v3h-1v1h-1v1h-3v-1h-1v-1h-1v-3h1v-1h1zM1582 183h3v1h1v1h1v3h-1v1h-1v1h-3v-1h-1v-1h-1v-3h1v-1h1zM1585 183h3v1h1v1h1v3h-1v1h-1v1h-3v-1h-1v-1h-1v-3h1v-1h1zM1588 183h3v1h1v1h1v3h-1v1h-1v1h-3v-1h-1v-1h-1v-3h1v-1h1zM1593 187h3v1h1v1h1v3h-1v1h-1v1h-3v-1h-1v-1h-1v-3h1v-1h1zM1597 187h3v1h1v1h1v3h-1v1h-1v1h-3v-1h-1v-1h-1v-3h1v-1h1zM1601 187h3v1h1v1h1v3h-1v1h-1v1h-3v-1h-1v-1h-1v-3h1v-1h1zM1605 188h3v1h1v1h1v3h-1v1h-1v1h-3v-1h-1v-1h-1v-3h1v-1h1zM1609 188h3v1h1v1h1v3h-1v1h-1v1h-3v-1h-1v-1h-1v-3h1v-1h1zM1613 189h3v1h1v1h1v3h-1v1h-1v1h-3v-1h-1v-1h-1v-3h1v-1h1zM1617 189h3v1h1v1h1v3h-1v1h-1v1h-3v-1h-1v-1h-1v-3h1v-1h1zM1620 189h3v1h1v1h1v3h-1v1h-1v1h-3v-1h-1v-1h-1v-3h1v-1h1zM1624 180h3v1h1v1h1v3h-1v1h-1v1h-3v-1h-1v-1h-1v-3h1v-1h1zM1627 232h3v1h1v1h1v3h-1v1h-1v1h-3v-1h-1v-1h-1v-3h1v-1h1zM1631 290h3v1h1v1h1v3h-1v1h-1v1h-3v-1h-1v-1h-1v-3h1v-1h1zM1634 291h3v1h1v1h1v3h-1v1h-1v1h-3v-1h-1v-1h-1v-3h1v-1h1zM1639 292h3v1h1v1h1v3h-1v1h-1v1h-3v-1h-1v-1h-1v-3h1v-1h1zM1641 293h3v1h1v1h1v3h-1v1h-1v1h-3v-1h-1v-1h-1v-3h1v-1h1zM1645 294h3v1h1v1h1v3h-1v1h-1v1h-3v-1h-1v-1h-1v-3h1v-1h1zM1648 270h3v1h1v1h1v3h-1v1h-1v1h-3v-1h-1v-1h-1v-3h1v-1h1zM1651 297h3v1h1v1h1v3h-1v1h-1v1h-3v-1h-1v-1h-1v-3h1v-1h1zM1655 295h3v1h1v1h1v3h-1v1h-1v1h-3v-1h-1v-1h-1v-3h1v-1h1zM1659 296h3v1h1v1h1v3h-1v1h-1v1h-3v-1h-1v-1h-1v-3h1v-1h1zM1662 305h3v1h1v1h1v3h-1v1h-1v1h-3v-1h-1v-1h-1v-3h1v-1h1zM1666 305h3v1h1v1h1v3h-1v1h-1v1h-3v-1h-1v-1h-1v-3h1v-1h1zM1669 322h3v1h1v1h1v3h-1v1h-1v1h-3v-1h-1v-1h-1v-3h1v-1h1zM1672 322h3v1h1v1h1v3h-1v1h-1v1h-3v-1h-1v-1h-1v-3h1v-1h1zM1675 321h3v1h1v1h1v3h-1v1h-1v1h-3v-1h-1v-1h-1v-3h1v-1h1zM1679 321h3v1h1v1h1v3h-1v1h-1v1h-3v-1h-1v-1h-1v-3h1v-1h1zM1682 321h3v1h1v1h1v3h-1v1h-1v1h-3v-1h-1v-1h-1v-3h1v-1h1zM1686 321h3v1h1v1h1v3h-1v1h-1v1h-3v-1h-1v-1h-1v-3h1v-1h1zM1689 321h3v1h1v1h1v3h-1v1h-1v1h-3v-1h-1v-1h-1v-3h1v-1h1zM1693 322h3v1h1v1h1v3h-1v1h-1v1h-3v-1h-1v-1h-1v-3h1v-1h1zM1697 322h3v1h1v1h1v3h-1v1h-1v1h-3v-1h-1v-1h-1v-3h1v-1h1zM1700 322h3v1h1v1h1v3h-1v1h-1v1h-3v-1h-1v-1h-1v-3h1v-1h1zM1704 322h3v1h1v1h1v3h-1v1h-1v1h-3v-1h-1v-1h-1v-3h1v-1h1zM1708 322h3v1h1v1h1v3h-1v1h-1v1h-3v-1h-1v-1h-1v-3h1v-1h1zM1711 322h3v1h1v1h1v3h-1v1h-1v1h-3v-1h-1v-1h-1v-3h1v-1h1zM1715 323h3v1h1v1h1v3h-1v1h-1v1h-3v-1h-1v-1h-1v-3h1v-1h1zM1719 323h3v1h1v1h1v3h-1v1h-1v1h-3v-1h-1v-1h-1v-3h1v-1h1zM1724 325h3v1h1v1h1v3h-1v1h-1v1h-3v-1h-1v-1h-1v-3h1v-1h1zM1727 296h3v1h1v1h1v3h-1v1h-1v1h-3v-1h-1v-1h-1v-3h1v-1h1zM1731 294h3v1h1v1h1v3h-1v1h-1v1h-3v-1h-1v-1h-1v-3h1v-1h1zM1734 299h3v1h1v1h1v3h-1v1h-1v1h-3v-1h-1v-1h-1v-3h1v-1h1zM1738 284h3v1h1v1h1v3h-1v1h-1v1h-3v-1h-1v-1h-1v-3h1v-1h1zM1741 293h3v1h1v1h1v3h-1v1h-1v1h-3v-1h-1v-1h-1v-3h1v-1h1zM1746 296h3v1h1v1h1v3h-1v1h-1v1h-3v-1h-1v-1h-1v-3h1v-1h1zM1748 324h3v1h1v1h1v3h-1v1h-1v1h-3v-1h-1v-1h-1v-3h1v-1h1zM1752 324h3v1h1v1h1v3h-1v1h-1v1h-3v-1h-1v-1h-1v-3h1v-1h1zM1755 333h3v1h1v1h1v3h-1v1h-1v1h-3v-1h-1v-1h-1v-3h1v-1h1zM1759 340h3v1h1v1h1v3h-1v1h-1v1h-3v-1h-1v-1h-1v-3h1v-1h1zM1762 339h3v1h1v1h1v3h-1v1h-1v1h-3v-1h-1v-1h-1v-3h1v-1h1zM1765 339h3v1h1v1h1v3h-1v1h-1v1h-3v-1h-1v-1h-1v-3h1v-1h1zM1769 340h3v1h1v1h1v3h-1v1h-1v1h-3v-1h-1v-1h-1v-3h1v-1h1zM1772 342h3v1h1v1h1v3h-1v1h-1v1h-3v-1h-1v-1h-1v-3h1v-1h1zM1776 339h3v1h1v1h1v3h-1v1h-1v1h-3v-1h-1v-1h-1v-3h1v-1h1zM1779 328h3v1h1v1h1v3h-1v1h-1v1h-3v-1h-1v-1h-1v-3h1v-1h1zM1783 323h3v1h1v1h1v3h-1v1h-1v1h-3v-1h-1v-1h-1v-3h1v-1h1z" fill="#5B9BD5"/>
<polyline points="175.6,485.6 178.8,502.5 182.3,502.5 185.8,502.5 189.3,502.5 192.8,502.5 196.3,502.5 199.8,502.5 203.3,502.5 206.8,502.5 210.3,502.5 213.8,502.5 217.3,502.5 220.8,502.5 224.3,502.5 227.8,502.5 231.4,506.2 235.1,505.7 238.7,505.3 242.4,504.8 245.8,504.7 249.3,504.6 252.8,504.4 256.2,504.3 258,498.9 261.7,498.9 265.4,498.9 269,498.9 272.7,498.9 275.9,501.6 279.1,504.3 282.3,499.3 286.1,500.9 290,502.5 293.3,509.4 296.5,497.9 300.1,505.3 302.9,498.6 306.4,498.6 309.8,498.6 313.3,498.5 316.8,498.5 320.2,498.5 323.7,498.5 327.1,498.5 330.6,498.5 334.1,498.4 337.5,498.4 341,498.4 344.2,501.2 347.7,501.2 351.1,501.2 354.6,501.2 358.1,501.2 361.5,501.2 365,501.2 368.4,501.2 371.9,501.2 375.4,501.2 378.8,501.2 382.3,501.2 385.8,501.2 389.2,501.2 392.7,501.2 396.4,503.9 400,506.5 404.4,504.5 408.9,502.5 412.9,503 417,503.6 421,504.1 424.3,494.1 427,501.7 431.5,498.4 434.9,498.4 438.3,498.4 441.7,498.4 445.1,498.4 448.5,498.4 451.9,498.4 455.3,498.4 458.7,498.4 462.1,498.4 465.5,498.4 470.3,494.7 474.8,494.7 479.2,494.7 482,496.1 484.9,497.6 488.1,497.6 492.9,500.9 496.1,500.9 499.4,500.9 502.6,500.9 505.9,500.9 510.7,502.8 514.2,502.8 517.6,502.8 521.1,502.8 524.6,502.8 528,502.8 531.5,502.8 535,502.8 538.4,502.8 541.9,502.8 545.3,502.8 548.8,502.8 552.3,502.8 555.7,502.8 559.2,502.8 562.4,505.7 565.6,506.5 568.9,507.3 572.1,508.1 577,504.9 580.2,506.1 583.5,507.3 587.5,504.9 589.1,492 592.7,492 596.2,492.1 599.8,492.1 603.3,492.2 606.9,492.2 610.4,492.3 614,492.3 617.3,487.1 619.7,490.4 623.3,490.4 626.8,490.4 630.4,490.4 633.9,490.4 637.5,490.4 641,490.4 644.6,490.4 648.1,490.4 651.7,490.4 655.2,490.4 658.8,490.4 662.3,490.4 665.9,490.4 669.4,490.4 673,490.4 676.2,492.4 679.5,494.4 683.3,494.9 687,495.5 690.8,496 694.2,496 697.6,496 701,496 704.4,496 707.9,496 711.3,496 714.7,496 718.1,496 721.5,496 725.5,496.8 729.6,497.6 733.7,497.6 737.7,497.6 742.5,494.4 745.7,495.5 749,496.5 752.2,497.6 755.5,493.6 759,493.6 762.5,493.6 766,493.6 769.5,493.6 773,493.6 776.5,493.6 779.7,495.2 782.9,496.8 787,496 791,495.2 794.2,496.4 797.5,497.6 799.1,491.2 802.6,490.9 806.1,490.5 809.6,490.2 813.1,489.9 816.6,489.5 820.1,489.2 824,489.6 827.9,490 831.7,490.4 835.6,490.8 839.5,491.2 840.3,500.5 843.8,500.5 847.2,500.5 850.7,500.5 854.1,500.5 857.6,500.5 861,500.5 864.5,500.5 867.9,500.5 871.4,500.5 874.8,500.5 878.3,500.5 881.5,501.9 884.8,503.3 888.6,503.1 892.3,503 896.1,502.8 900.9,506.5 905,506.9 909,507.3 912.6,506.1 916.2,504.9 921,508.1 924.2,502.8 928.3,508.1 931.5,498.4 935.6,492 938.3,506.5 941.2,499.2 944.9,499 948.5,498.9 953.3,502.5 956.6,504.1 959.8,508.6 963,508.6 966.3,508.6 969.5,495.2 972.7,500.1 976.2,500 979.7,499.9 983.2,499.8 986.7,499.7 990.3,499.6 993.8,499.5 997.3,499.4 1000.8,499.3 1004.3,499.2 1006.7,508.9 1010.3,508.9 1013.9,508.9 1017.5,508.9 1021.1,508.9 1024.7,508.9 1028.3,508.9 1031.9,508.9 1035.5,508.9 1039.1,508.9 1042.7,508.9 1046.3,508.9 1049.9,508.9 1053.5,508.9 1056.8,510.9 1060,513 1062.8,510.6 1065.7,508.1 1068.9,513 1073.7,509.8 1076.6,510.6 1079.4,511.4 1083.5,514.6 1085.9,498.4 1090,497.9 1094,497.3 1097.6,497.3 1101.2,497.3 1104.5,505.7 1107.9,505.7 1111.3,505.7 1114.6,505.7 1118,505.7 1121.4,505.7 1124.7,508.9 1128.7,509.8 1131.1,500.5 1134.6,500.5 1138.2,500.5 1141.7,500.5 1145.2,500.5 1148.7,500.5 1152.3,500.5 1155.8,500.5 1159.3,500.5 1162.8,500.5 1166.4,500.5 1169.9,500.5 1173.2,486.3 1176.7,486.3 1180.2,486.3 1183.7,486.3 1187.2,486.3 1190.7,486.3 1194.2,486.3 1197.8,486.3 1201.3,486.3 1204.8,486.3 1208.3,486.3 1211.8,486.3 1215.3,486.3 1218.8,486.3 1222.3,486.3 1224.8,495.2 1228.8,492 1232,494 1235.3,496 1239.1,496 1242.8,496 1246.6,496 1250.6,494.1 1252.2,487.9 1255.6,487.9 1258.9,487.9 1262.3,487.9 1265.6,487.9 1269,487.9 1272.3,487.9 1275.7,487.9 1279.5,488.7 1283.2,489.6 1287,490.4 1290.7,492.8 1294.3,495.2 1296.7,483.9 1300.3,483.9 1303.9,483.9 1307.5,483.9 1311.1,483.9 1314.7,483.9 1318.3,483.9 1321.9,483.9 1325.5,483.9 1329.1,483.9 1332.7,483.9 1336.3,483.9 1337.9,503.8 1341.4,503.8 1345,503.8 1348.5,503.8 1352.1,503.8 1355.6,503.8 1359.1,503.8 1362.7,503.8 1366.2,503.8 1371,505.7 1374.7,505.7 1378.3,505.7 1381.9,505.7 1385.6,505.7 1388.8,507.8 1392,509.8 1395.2,510.2 1398.5,510.6 1400.9,504.9 1405,508.9 1408.2,505.7 1411.8,508.1 1415.5,510.6 1417.9,504.9 1421.7,504.9 1425.4,504.9 1429.2,504.9 1432.5,506.5 1435.7,508.1 1439.5,508.1 1443.2,508.1 1447,508.1 1450.8,508.1 1454.5,508.1 1458.3,508.1 1461.5,506.1 1464.8,504.1 1469.6,503.3 1474.5,505.7 1478.6,505.5 1482.6,505.2 1486.7,505 1490.1,503.8 1493.4,502.5 1497.5,498.4 1501.7,499.7 1504.2,519.3 1507.7,519.3 1511.3,519.3 1514.8,519.3 1518.4,519.3 1521.9,519.3 1525.4,519.3 1529,519.3 1532.5,519.3 1536,519.3 1539.6,519.3 1543.1,519.3 1546.7,519.3 1550.2,519.3 1554.3,524.7 1558.5,530.1 1563.5,526.8 1566.8,527.1 1570.2,527.4 1573.5,527.8 1576.9,528.1 1580.2,528.4 1582.7,521.8 1586.5,521.8 1590.4,521.8 1594.2,521.8 1598.1,521.8 1601.9,521.8 1607,520.9 1610.9,520.9 1614.7,520.9 1618.6,520.9 1621.1,526.8 1624,527.6 1627,528.4 1629.5,514.2 1632.8,509.2 1636.3,509.2 1639.9,509.2 1643.5,509.2 1647,509.2 1650.3,510.4 1653.7,511.7 1657.2,511.7 1660.8,511.7 1664.4,511.7 1667.9,511.7 1669.6,536 1673,536 1676.4,536 1679.8,536 1683.2,536 1686.6,536 1690,536 1693.4,536 1696.8,536 1700.2,536 1703.6,536 1707,536 1710.4,536 1713.8,536 1717.2,536 1722.2,538.5 1725.6,542.2 1728.9,546 1732.2,545.1 1735.6,544.3 1738.9,536.8 1742.2,545.1 1747.2,544.3 1748.9,518.4 1753.1,518.4 1757.3,524.3 1760.7,526.3 1764,528.4 1767.3,528.7 1770.7,529 1774,529.3 1777.3,521.8 1780.6,522.6 1784.8,529.3" fill="none" stroke="#ED7D31" stroke-width="2.25" stroke-linejoin="round" stroke-linecap="round"/>
<path d="M174 482h3v1h1v1h1v3h-1v1h-1v1h-3v-1h-1v-1h-1v-3h1v-1h1zM177 499h3v1h1v1h1v3h-1v1h-1v1h-3v-1h-1v-1h-1v-3h1v-1h1zM181 499h3v1h1v1h1v3h-1v1h-1v1h-3v-1h-1v-1h-1v-3h1v-1h1zM184 499h3v1h1v1h1v3h-1v1h-1v1h-3v-1h-1v-1h-1v-3h1v-1h1zM188 499h3v1h1v1h1v3h-1v1h-1v1h-3v-1h-1v-1h-1v-3h1v-1h1zM191 499h3v1h1v1h1v3h-1v1h-1v1h-3v-1h-1v-1h-1v-3h1v-1h1zM195 499h3v1h1v1h1v3h-1v1h-1v1h-3v-1h-1v-1h-1v-3h1v-1h1zM198 499h3v1h1v1h1v3h-1v1h-1v1h-3v-1h-1v-1h-1v-3h1v-1h1zM202 499h3v1h1v1h1v3h-1v1h-1v1h-3v-1h-1v-1h-1v-3h1v-1h1zM205 499h3v1h1v1h1v3h-1v1h-1v1h-3v-1h-1v-1h-1v-3h1v-1h1zM209 499h3v1h1v1h1v3h-1v1h-1v1h-3v-1h-1v-1h-1v-3h1v-1h1zM212 499h3v1h1v1h1v3h-1v1h-1v1h-3v-1h-1v-1h-1v-3h1v-1h1zM216 499h3v1h1v1h1v3h-1v1h-1v1h-3v-1h-1v-1h-1v-3h1v-1h1zM219 499h3v1h1v1h1v3h-1v1h-1v1h-3v-1h-1v-1h-1v-3h1v-1h1zM223 499h3v1h1v1h1v3h-1v1h-1v1h-3v-1h-1v-1h-1v-3h1v-1h1zM226 499h3v1h1v1h1v3h-1v1h-1v1h-3v-1h-1v-1h-1v-3h1v-1h1zM230 503h3v1h1v1h1v3h-1v1h-1v1h-3v-1h-1v-1h-1v-3h1v-1h1zM234 502h3v1h1v1h1v3h-1v1h-1v1h-3v-1h-1v-1h-1v-3h1v-1h1zM237 502h3v1h1v1h1v3h-1v1h-1v1h-3v-1h-1v-1h-1v-3h1v-1h1zM241 501h3v1h1v1h1v3h-1v1h-1v1h-3v-1h-1v-1h-1v-3h1v-1h1zM244 501h3v1h1v1h1v3h-1v1h-1v1h-3v-1h-1v-1h-1v-3h1v-1h1zM248 501h3v1h1v1h1v3h-1v1h-1v1h-3v-1h-1v-1h-1v-3h1v-1h1zM251 501h3v1h1v1h1v3h-1v1h-1v1h-3v-1h-1v-1h-1v-3h1v-1h1zM255 501h3v1h1v1h1v3h-1v1h-1v1h-3v-1h-1v-1h-1v-3h1v-1h1zM257 495h3v1h1v1h1v3h-1v1h-1v1h-3v-1h-1v-1h-1v-3h1v-1h1zM260 495h3v1h1v1h1v3h-1v1h-1v1h-3v-1h-1v-1h-1v-3h1v-1h1zM264 495h3v1h1v1h1v3h-1v1h-1v1h-3v-1h-1v-1h-1v-3h1v-1h1zM268 495h3v1h1v1h1v3h-1v1h-1v1h-3v-1h-1v-1h-1v-3h1v-1h1zM271 495h3v1h1v1h1v3h-1v1h-1v1h-3v-1h-1v-1h-1v-3h1v-1h1zM274 498h3v1h1v1h1v3h-1v1h-1v1h-3v-1h-1v-1h-1v-3h1v-1h1zM278 501h3v1h1v1h1v3h-1v1h-1v1h-3v-1h-1v-1h-1v-3h1v-1h1zM281 496h3v1h1v1h1v3h-1v1h-1v1h-3v-1h-1v-1h-1v-3h1v-1h1zM285 497h3v1h1v1h1v3h-1v1h-1v1h-3v-1h-1v-1h-1v-3h1v-1h1zM289 499h3v1h1v1h1v3h-1v1h-1v1h-3v-1h-1v-1h-1v-3h1v-1h1zM292 506h3v1h1v1h1v3h-1v1h-1v1h-3v-1h-1v-1h-1v-3h1v-1h1zM295 494h3v1h1v1h1v3h-1v1h-1v1h-3v-1h-1v-1h-1v-3h1v-1h1zM299 502h3v1h1v1h1v3h-1v1h-1v1h-3v-1h-1v-1h-1v-3h1v-1h1zM301 495h3v1h1v1h1v3h-1v1h-1v1h-3v-1h-1v-1h-1v-3h1v-1h1zM305 495h3v1h1v1h1v3h-1v1h-1v1h-3v-1h-1v-1h-1v-3h1v-1h1zM308 495h3v1h1v1h1v3h-1v1h-1v1h-3v-1h-1v-1h-1v-3h1v-1h1zM312 495h3v1h1v1h1v3h-1v1h-1v1h-3v-1h-1v-1h-1v-3h1v-1h1zM315 495h3v1h1v1h1v3h-1v1h-1v1h-3v-1h-1v-1h-1v-3h1v-1h1zM319 495h3v1h1v1h1v3h-1v1h-1v1h-3v-1h-1v-1h-1v-3h1v-1h1zM322 495h3v1h1v1h1v3h-1v1h-1v1h-3v-1h-1v-1h-1v-3h1v-1h1zM326 495h3v1h1v1h1v3h-1v1h-1v1h-3v-1h-1v-1h-1v-3h1v-1h1zM329 495h3v1h1v1h1v3h-1v1h-1v1h-3v-1h-1v-1h-1v-3h1v-1h1zM333 495h3v1h1v1h1v3h-1v1h-1v1h-3v-1h-1v-1h-1v-3h1v-1h1zM336 495h3v1h1v1h1v3h-1v1h-1v1h-3v-1h-1v-1h-1v-3h1v-1h1zM340 495h3v1h1v1h1v3h-1v1h-1v1h-3v-1h-1v-1h-1v-3h1v-1h1zM343 498h3v1h1v1h1v3h-1v1h-1v1h-3v-1h-1v-1h-1v-3h1v-1h1zM346 498h3v1h1v1h1v3h-1v1h-1v1h-3v-1h-1v-1h-1v-3h1v-1h1zM350 498h3v1h1v1h1v3h-1v1h-1v1h-3v-1h-1v-1h-1v-3h1v-1h1zM353 498h3v1h1v1h1v3h-1v1h-1v1h-3v-1h-1v-1h-1v-3h1v-1h1zM357 498h3v1h1v1h1v3h-1v1h-1v1h-3v-1h-1v-1h-1v-3h1v-1h1zM360 498h3v1h1v1h1v3h-1v1h-1v1h-3v-1h-1v-1h-1v-3h1v-1h1zM363 498h3v1h1v1h1v3h-1v1h-1v1h-3v-1h-1v-1h-1v-3h1v-1h1zM367 498h3v1h1v1h1v3h-1v1h-1v1h-3v-1h-1v-1h-1v-3h1v-1h1zM370 498h3v1h1v1h1v3h-1v1h-1v1h-3v-1h-1v-1h-1v-3h1v-1h1zM374 498h3v1h1v1h1v3h-1v1h-1v1h-3v-1h-1v-1h-1v-3h1v-1h1zM377 498h3v1h1v1h1v3h-1v1h-1v1h-3v-1h-1v-1h-1v-3h1v-1h1zM381 498h3v1h1v1h1v3h-1v1h-1v1h-3v-1h-1v-1h-1v-3h1v-1h1zM384 498h3v1h1v1h1v3h-1v1h-1v1h-3v-1h-1v-1h-1v-3h1v-1h1zM388 498h3v1h1v1h1v3h-1v1h-1v1h-3v-1h-1v-1h-1v-3h1v-1h1zM391 498h3v1h1v1h1v3h-1v1h-1v1h-3v-1h-1v-1h-1v-3h1v-1h1zM395 500h3v1h1v1h1v3h-1v1h-1v1h-3v-1h-1v-1h-1v-3h1v-1h1zM399 503h3v1h1v1h1v3h-1v1h-1v1h-3v-1h-1v-1h-1v-3h1v-1h1zM403 501h3v1h1v1h1v3h-1v1h-1v1h-3v-1h-1v-1h-1v-3h1v-1h1zM407 499h3v1h1v1h1v3h-1v1h-1v1h-3v-1h-1v-1h-1v-3h1v-1h1zM411 500h3v1h1v1h1v3h-1v1h-1v1h-3v-1h-1v-1h-1v-3h1v-1h1zM415 500h3v1h1v1h1v3h-1v1h-1v1h-3v-1h-1v-1h-1v-3h1v-1h1zM420 501h3v1h1v1h1v3h-1v1h-1v1h-3v-1h-1v-1h-1v-3h1v-1h1zM423 491h3v1h1v1h1v3h-1v1h-1v1h-3v-1h-1v-1h-1v-3h1v-1h1zM426 498h3v1h1v1h1v3h-1v1h-1v1h-3v-1h-1v-1h-1v-3h1v-1h1zM430 495h3v1h1v1h1v3h-1v1h-1v1h-3v-1h-1v-1h-1v-3h1v-1h1zM433 495h3v1h1v1h1v3h-1v1h-1v1h-3v-1h-1v-1h-1v-3h1v-1h1zM437 495h3v1h1v1h1v3h-1v1h-1v1h-3v-1h-1v-1h-1v-3h1v-1h1zM440 495h3v1h1v1h1v3h-1v1h-1v1h-3v-1h-1v-1h-1v-3h1v-1h1zM444 495h3v1h1v1h1v3h-1v1h-1v1h-3v-1h-1v-1h-1v-3h1v-1h1zM447 495h3v1h1v1h1v3h-1v1h-1v1h-3v-1h-1v-1h-1v-3h1v-1h1zM450 495h3v1h1v1h1v3h-1v1h-1v1h-3v-1h-1v-1h-1v-3h1v-1h1zM454 495h3v1h1v1h1v3h-1v1h-1v1h-3v-1h-1v-1h-1v-3h1v-1h1zM457 495h3v1h1v1h1v3h-1v1h-1v1h-3v-1h-1v-1h-1v-3h1v-1h1zM461 495h3v1h1v1h1v3h-1v1h-1v1h-3v-1h-1v-1h-1v-3h1v-1h1zM464 495h3v1h1v1h1v3h-1v1h-1v1h-3v-1h-1v-1h-1v-3h1v-1h1zM469 491h3v1h1v1h1v3h-1v1h-1v1h-3v-1h-1v-1h-1v-3h1v-1h1zM473 491h3v1h1v1h1v3h-1v1h-1v1h-3v-1h-1v-1h-1v-3h1v-1h1zM478 491h3v1h1v1h1v3h-1v1h-1v1h-3v-1h-1v-1h-1v-3h1v-1h1zM481 493h3v1h1v1h1v3h-1v1h-1v1h-3v-1h-1v-1h-1v-3h1v-1h1zM483 494h3v1h1v1h1v3h-1v1h-1v1h-3v-1h-1v-1h-1v-3h1v-1h1zM487 494h3v1h1v1h1v3h-1v1h-1v1h-3v-1h-1v-1h-1v-3h1v-1h1zM491 497h3v1h1v1h1v3h-1v1h-1v1h-3v-1h-1v-1h-1v-3h1v-1h1zM495 497h3v1h1v1h1v3h-1v1h-1v1h-3v-1h-1v-1h-1v-3h1v-1h1zM498 497h3v1h1v1h1v3h-1v1h-1v1h-3v-1h-1v-1h-1v-3h1v-1h1zM501 497h3v1h1v1h1v3h-1v1h-1v1h-3v-1h-1v-1h-1v-3h1v-1h1zM504 497h3v1h1v1h1v3h-1v1h-1v1h-3v-1h-1v-1h-1v-3h1v-1h1zM509 499h3v1h1v1h1v3h-1v1h-1v1h-3v-1h-1v-1h-1v-3h1v-1h1zM513 499h3v1h1v1h1v3h-1v1h-1v1h-3v-1h-1v-1h-1v-3h1v-1h1zM516 499h3v1h1v1h1v3h-1v1h-1v1h-3v-1h-1v-1h-1v-3h1v-1h1zM520 499h3v1h1v1h1v3h-1v1h-1v1h-3v-1h-1v-1h-1v-3h1v-1h1zM523 499h3v1h1v1h1v3h-1v1h-1v1h-3v-1h-1v-1h-1v-3h1v-1h1zM527 499h3v1h1v1h1v3h-1v1h-1v1h-3v-1h-1v-1h-1v-3h1v-1h1zM530 499h3v1h1v1h1v3h-1v1h-1v1h-3v-1h-1v-1h-1v-3h1v-1h1zM533 499h3v1h1v1h1v3h-1v1h-1v1h-3v-1h-1v-1h-1v-3h1v-1h1zM537 499h3v1h1v1h1v3h-1v1h-1v1h-3v-1h-1v-1h-1v-3h1v-1h1zM540 499h3v1h1v1h1v3h-1v1h-1v1h-3v-1h-1v-1h-1v-3h1v-1h1zM544 499h3v1h1v1h1v3h-1v1h-1v1h-3v-1h-1v-1h-1v-3h1v-1h1zM547 499h3v1h1v1h1v3h-1v1h-1v1h-3v-1h-1v-1h-1v-3h1v-1h1zM551 499h3v1h1v1h1v3h-1v1h-1v1h-3v-1h-1v-1h-1v-3h1v-1h1zM554 499h3v1h1v1h1v3h-1v1h-1v1h-3v-1h-1v-1h-1v-3h1v-1h1zM558 499h3v1h1v1h1v3h-1v1h-1v1h-3v-1h-1v-1h-1v-3h1v-1h1zM561 502h3v1h1v1h1v3h-1v1h-1v1h-3v-1h-1v-1h-1v-3h1v-1h1zM564 503h3v1h1v1h1v3h-1v1h-1v1h-3v-1h-1v-1h-1v-3h1v-1h1zM567 504h3v1h1v1h1v3h-1v1h-1v1h-3v-1h-1v-1h-1v-3h1v-1h1zM571 505h3v1h1v1h1v3h-1v1h-1v1h-3v-1h-1v-1h-1v-3h1v-1h1zM576 501h3v1h1v1h1v3h-1v1h-1v1h-3v-1h-1v-1h-1v-3h1v-1h1zM579 503h3v1h1v1h1v3h-1v1h-1v1h-3v-1h-1v-1h-1v-3h1v-1h1zM582 504h3v1h1v1h1v3h-1v1h-1v1h-3v-1h-1v-1h-1v-3h1v-1h1zM586 501h3v1h1v1h1v3h-1v1h-1v1h-3v-1h-1v-1h-1v-3h1v-1h1zM588 489h3v1h1v1h1v3h-1v1h-1v1h-3v-1h-1v-1h-1v-3h1v-1h1zM591 489h3v1h1v1h1v3h-1v1h-1v1h-3v-1h-1v-1h-1v-3h1v-1h1zM595 489h3v1h1v1h1v3h-1v1h-1v1h-3v-1h-1v-1h-1v-3h1v-1h1zM598 489h3v1h1v1h1v3h-1v1h-1v1h-3v-1h-1v-1h-1v-3h1v-1h1zM602 489h3v1h1v1h1v3h-1v1h-1v1h-3v-1h-1v-1h-1v-3h1v-1h1zM605 489h3v1h1v1h1v3h-1v1h-1v1h-3v-1h-1v-1h-1v-3h1v-1h1zM609 489h3v1h1v1h1v3h-1v1h-1v1h-3v-1h-1v-1h-1v-3h1v-1h1zM613 489h3v1h1v1h1v3h-1v1h-1v1h-3v-1h-1v-1h-1v-3h1v-1h1zM616 484h3v1h1v1h1v3h-1v1h-1v1h-3v-1h-1v-1h-1v-3h1v-1h1zM618 487h3v1h1v1h1v3h-1v1h-1v1h-3v-1h-1v-1h-1v-3h1v-1h1zM622 487h3v1h1v1h1v3h-1v1h-1v1h-3v-1h-1v-1h-1v-3h1v-1h1zM625 487h3v1h1v1h1v3h-1v1h-1v1h-3v-1h-1v-1h-1v-3h1v-1h1zM629 487h3v1h1v1h1v3h-1v1h-1v1h-3v-1h-1v-1h-1v-3h1v-1h1zM632 487h3v1h1v1h1v3h-1v1h-1v1h-3v-1h-1v-1h-1v-3h1v-1h1zM636 487h3v1h1v1h1v3h-1v1h-1v1h-3v-1h-1v-1h-1v-3h1v-1h1zM640 487h3v1h1v1h1v3h-1v1h-1v1h-3v-1h-1v-1h-1v-3h1v-1h1zM643 487h3v1h1v1h1v3h-1v1h-1v1h-3v-1h-1v-1h-1v-3h1v-1h1zM647 487h3v1h1v1h1v3h-1v1h-1v1h-3v-1h-1v-1h-1v-3h1v-1h1zM650 487h3v1h1v1h1v3h-1v1h-1v1h-3v-1h-1v-1h-1v-3h1v-1h1zM654 487h3v1h1v1h1v3h-1v1h-1v1h-3v-1h-1v-1h-1v-3h1v-1h1zM657 487h3v1h1v1h1v3h-1v1h-1v1h-3v-1h-1v-1h-1v-3h1v-1h1zM661 487h3v1h1v1h1v3h-1v1h-1v1h-3v-1h-1v-1h-1v-3h1v-1h1zM664 487h3v1h1v1h1v3h-1v1h-1v1h-3v-1h-1v-1h-1v-3h1v-1h1zM668 487h3v1h1v1h1v3h-1v1h-1v1h-3v-1h-1v-1h-1v-3h1v-1h1zM672 487h3v1h1v1h1v3h-1v1h-1v1h-3v-1h-1v-1h-1v-3h1v-1h1zM675 489h3v1h1v1h1v3h-1v1h-1v1h-3v-1h-1v-1h-1v-3h1v-1h1zM678 491h3v1h1v1h1v3h-1v1h-1v1h-3v-1h-1v-1h-1v-3h1v-1h1zM682 491h3v1h1v1h1v3h-1v1h-1v1h-3v-1h-1v-1h-1v-3h1v-1h1zM686 492h3v1h1v1h1v3h-1v1h-1v1h-3v-1h-1v-1h-1v-3h1v-1h1zM689 493h3v1h1v1h1v3h-1v1h-1v1h-3v-1h-1v-1h-1v-3h1v-1h1zM693 493h3v1h1v1h1v3h-1v1h-1v1h-3v-1h-1v-1h-1v-3h1v-1h1zM696 493h3v1h1v1h1v3h-1v1h-1v1h-3v-1h-1v-1h-1v-3h1v-1h1zM700 493h3v1h1v1h1v3h-1v1h-1v1h-3v-1h-1v-1h-1v-3h1v-1h1zM703 493h3v1h1v1h1v3h-1v1h-1v1h-3v-1h-1v-1h-1v-3h1v-1h1zM706 493h3v1h1v1h1v3h-1v1h-1v1h-3v-1h-1v-1h-1v-3h1v-1h1zM710 493h3v1h1v1h1v3h-1v1h-1v1h-3v-1h-1v-1h-1v-3h1v-1h1zM713 493h3v1h1v1h1v3h-1v1h-1v1h-3v-1h-1v-1h-1v-3h1v-1h1zM717 493h3v1h1v1h1v3h-1v1h-1v1h-3v-1h-1v-1h-1v-3h1v-1h1zM720 493h3v1h1v1h1v3h-1v1h-1v1h-3v-1h-1v-1h-1v-3h1v-1h1zM724 493h3v1h1v1h1v3h-1v1h-1v1h-3v-1h-1v-1h-1v-3h1v-1h1zM728 494h3v1h1v1h1v3h-1v1h-1v1h-3v-1h-1v-1h-1v-3h1v-1h1zM732 494h3v1h1v1h1v3h-1v1h-1v1h-3v-1h-1v-1h-1v-3h1v-1h1zM736 494h3v1h1v1h1v3h-1v1h-1v1h-3v-1h-1v-1h-1v-3h1v-1h1zM741 491h3v1h1v1h1v3h-1v1h-1v1h-3v-1h-1v-1h-1v-3h1v-1h1zM744 492h3v1h1v1h1v3h-1v1h-1v1h-3v-1h-1v-1h-1v-3h1v-1h1zM747 493h3v1h1v1h1v3h-1v1h-1v1h-3v-1h-1v-1h-1v-3h1v-1h1zM751 494h3v1h1v1h1v3h-1v1h-1v1h-3v-1h-1v-1h-1v-3h1v-1h1zM754 490h3v1h1v1h1v3h-1v1h-1v1h-3v-1h-1v-1h-1v-3h1v-1h1zM758 490h3v1h1v1h1v3h-1v1h-1v1h-3v-1h-1v-1h-1v-3h1v-1h1zM761 490h3v1h1v1h1v3h-1v1h-1v1h-3v-1h-1v-1h-1v-3h1v-1h1zM765 490h3v1h1v1h1v3h-1v1h-1v1h-3v-1h-1v-1h-1v-3h1v-1h1zM768 490h3v1h1v1h1v3h-1v1h-1v1h-3v-1h-1v-1h-1v-3h1v-1h1zM772 490h3v1h1v1h1v3h-1v1h-1v1h-3v-1h-1v-1h-1v-3h1v-1h1zM775 490h3v1h1v1h1v3h-1v1h-1v1h-3v-1h-1v-1h-1v-3h1v-1h1zM778 492h3v1h1v1h1v3h-1v1h-1v1h-3v-1h-1v-1h-1v-3h1v-1h1zM781 493h3v1h1v1h1v3h-1v1h-1v1h-3v-1h-1v-1h-1v-3h1v-1h1zM785 493h3v1h1v1h1v3h-1v1h-1v1h-3v-1h-1v-1h-1v-3h1v-1h1zM790 492h3v1h1v1h1v3h-1v1h-1v1h-3v-1h-1v-1h-1v-3h1v-1h1zM793 493h3v1h1v1h1v3h-1v1h-1v1h-3v-1h-1v-1h-1v-3h1v-1h1zM796 494h3v1h1v1h1v3h-1v1h-1v1h-3v-1h-1v-1h-1v-3h1v-1h1zM798 488h3v1h1v1h1v3h-1v1h-1v1h-3v-1h-1v-1h-1v-3h1v-1h1zM801 487h3v1h1v1h1v3h-1v1h-1v1h-3v-1h-1v-1h-1v-3h1v-1h1zM805 487h3v1h1v1h1v3h-1v1h-1v1h-3v-1h-1v-1h-1v-3h1v-1h1zM808 487h3v1h1v1h1v3h-1v1h-1v1h-3v-1h-1v-1h-1v-3h1v-1h1zM812 486h3v1h1v1h1v3h-1v1h-1v1h-3v-1h-1v-1h-1v-3h1v-1h1zM815 486h3v1h1v1h1v3h-1v1h-1v1h-3v-1h-1v-1h-1v-3h1v-1h1zM819 486h3v1h1v1h1v3h-1v1h-1v1h-3v-1h-1v-1h-1v-3h1v-1h1zM822 486h3v1h1v1h1v3h-1v1h-1v1h-3v-1h-1v-1h-1v-3h1v-1h1zM826 487h3v1h1v1h1v3h-1v1h-1v1h-3v-1h-1v-1h-1v-3h1v-1h1zM830 487h3v1h1v1h1v3h-1v1h-1v1h-3v-1h-1v-1h-1v-3h1v-1h1zM834 487h3v1h1v1h1v3h-1v1h-1v1h-3v-1h-1v-1h-1v-3h1v-1h1zM838 488h3v1h1v1h1v3h-1v1h-1v1h-3v-1h-1v-1h-1v-3h1v-1h1zM839 497h3v1h1v1h1v3h-1v1h-1v1h-3v-1h-1v-1h-1v-3h1v-1h1zM842 497h3v1h1v1h1v3h-1v1h-1v1h-3v-1h-1v-1h-1v-3h1v-1h1zM846 497h3v1h1v1h1v3h-1v1h-1v1h-3v-1h-1v-1h-1v-3h1v-1h1zM849 497h3v1h1v1h1v3h-1v1h-1v1h-3v-1h-1v-1h-1v-3h1v-1h1zM853 497h3v1h1v1h1v3h-1v1h-1v1h-3v-1h-1v-1h-1v-3h1v-1h1zM856 497h3v1h1v1h1v3h-1v1h-1v1h-3v-1h-1v-1h-1v-3h1v-1h1zM860 497h3v1h1v1h1v3h-1v1h-1v1h-3v-1h-1v-1h-1v-3h1v-1h1zM863 497h3v1h1v1h1v3h-1v1h-1v1h-3v-1h-1v-1h-1v-3h1v-1h1zM866 497h3v1h1v1h1v3h-1v1h-1v1h-3v-1h-1v-1h-1v-3h1v-1h1zM870 497h3v1h1v1h1v3h-1v1h-1v1h-3v-1h-1v-1h-1v-3h1v-1h1zM873 497h3v1h1v1h1v3h-1v1h-1v1h-3v-1h-1v-1h-1v-3h1v-1h1zM877 497h3v1h1v1h1v3h-1v1h-1v1h-3v-1h-1v-1h-1v-3h1v-1h1zM880 498h3v1h1v1h1v3h-1v1h-1v1h-3v-1h-1v-1h-1v-3h1v-1h1zM883 500h3v1h1v1h1v3h-1v1h-1v1h-3v-1h-1v-1h-1v-3h1v-1h1zM887 500h3v1h1v1h1v3h-1v1h-1v1h-3v-1h-1v-1h-1v-3h1v-1h1zM891 499h3v1h1v1h1v3h-1v1h-1v1h-3v-1h-1v-1h-1v-3h1v-1h1zM895 499h3v1h1v1h1v3h-1v1h-1v1h-3v-1h-1v-1h-1v-3h1v-1h1zM899 503h3v1h1v1h1v3h-1v1h-1v1h-3v-1h-1v-1h-1v-3h1v-1h1zM903 503h3v1h1v1h1v3h-1v1h-1v1h-3v-1h-1v-1h-1v-3h1v-1h1zM908 504h3v1h1v1h1v3h-1v1h-1v1h-3v-1h-1v-1h-1v-3h1v-1h1zM911 503h3v1h1v1h1v3h-1v1h-1v1h-3v-1h-1v-1h-1v-3h1v-1h1zM915 501h3v1h1v1h1v3h-1v1h-1v1h-3v-1h-1v-1h-1v-3h1v-1h1zM920 505h3v1h1v1h1v3h-1v1h-1v1h-3v-1h-1v-1h-1v-3h1v-1h1zM923 499h3v1h1v1h1v3h-1v1h-1v1h-3v-1h-1v-1h-1v-3h1v-1h1zM927 505h3v1h1v1h1v3h-1v1h-1v1h-3v-1h-1v-1h-1v-3h1v-1h1zM930 495h3v1h1v1h1v3h-1v1h-1v1h-3v-1h-1v-1h-1v-3h1v-1h1zM934 489h3v1h1v1h1v3h-1v1h-1v1h-3v-1h-1v-1h-1v-3h1v-1h1zM937 503h3v1h1v1h1v3h-1v1h-1v1h-3v-1h-1v-1h-1v-3h1v-1h1zM940 496h3v1h1v1h1v3h-1v1h-1v1h-3v-1h-1v-1h-1v-3h1v-1h1zM943 496h3v1h1v1h1v3h-1v1h-1v1h-3v-1h-1v-1h-1v-3h1v-1h1zM947 495h3v1h1v1h1v3h-1v1h-1v1h-3v-1h-1v-1h-1v-3h1v-1h1zM952 499h3v1h1v1h1v3h-1v1h-1v1h-3v-1h-1v-1h-1v-3h1v-1h1zM955 501h3v1h1v1h1v3h-1v1h-1v1h-3v-1h-1v-1h-1v-3h1v-1h1zM958 505h3v1h1v1h1v3h-1v1h-1v1h-3v-1h-1v-1h-1v-3h1v-1h1zM962 505h3v1h1v1h1v3h-1v1h-1v1h-3v-1h-1v-1h-1v-3h1v-1h1zM965 505h3v1h1v1h1v3h-1v1h-1v1h-3v-1h-1v-1h-1v-3h1v-1h1zM968 492h3v1h1v1h1v3h-1v1h-1v1h-3v-1h-1v-1h-1v-3h1v-1h1zM971 497h3v1h1v1h1v3h-1v1h-1v1h-3v-1h-1v-1h-1v-3h1v-1h1zM975 497h3v1h1v1h1v3h-1v1h-1v1h-3v-1h-1v-1h-1v-3h1v-1h1zM978 496h3v1h1v1h1v3h-1v1h-1v1h-3v-1h-1v-1h-1v-3h1v-1h1zM982 496h3v1h1v1h1v3h-1v1h-1v1h-3v-1h-1v-1h-1v-3h1v-1h1zM985 496h3v1h1v1h1v3h-1v1h-1v1h-3v-1h-1v-1h-1v-3h1v-1h1zM989 496h3v1h1v1h1v3h-1v1h-1v1h-3v-1h-1v-1h-1v-3h1v-1h1zM992 496h3v1h1v1h1v3h-1v1h-1v1h-3v-1h-1v-1h-1v-3h1v-1h1zM996 496h3v1h1v1h1v3h-1v1h-1v1h-3v-1h-1v-1h-1v-3h1v-1h1zM999 496h3v1h1v1h1v3h-1v1h-1v1h-3v-1h-1v-1h-1v-3h1v-1h1zM1003 496h3v1h1v1h1v3h-1v1h-1v1h-3v-1h-1v-1h-1v-3h1v-1h1zM1005 505h3v1h1v1h1v3h-1v1h-1v1h-3v-1h-1v-1h-1v-3h1v-1h1zM1009 505h3v1h1v1h1v3h-1v1h-1v1h-3v-1h-1v-1h-1v-3h1v-1h1zM1012 505h3v1h1v1h1v3h-1v1h-1v1h-3v-1h-1v-1h-1v-3h1v-1h1zM1016 505h3v1h1v1h1v3h-1v1h-1v1h-3v-1h-1v-1h-1v-3h1v-1h1zM1020 505h3v1h1v1h1v3h-1v1h-1v1h-3v-1h-1v-1h-1v-3h1v-1h1zM1023 505h3v1h1v1h1v3h-1v1h-1v1h-3v-1h-1v-1h-1v-3h1v-1h1zM1027 505h3v1h1v1h1v3h-1v1h-1v1h-3v-1h-1v-1h-1v-3h1v-1h1zM1030 505h3v1h1v1h1v3h-1v1h-1v1h-3v-1h-1v-1h-1v-3h1v-1h1zM1034 505h3v1h1v1h1v3h-1v1h-1v1h-3v-1h-1v-1h-1v-3h1v-1h1zM1038 505h3v1h1v1h1v3h-1v1h-1v1h-3v-1h-1v-1h-1v-3h1v-1h1zM1041 505h3v1h1v1h1v3h-1v1h-1v1h-3v-1h-1v-1h-1v-3h1v-1h1zM1045 505h3v1h1v1h1v3h-1v1h-1v1h-3v-1h-1v-1h-1v-3h1v-1h1zM1048 505h3v1h1v1h1v3h-1v1h-1v1h-3v-1h-1v-1h-1v-3h1v-1h1zM1052 505h3v1h1v1h1v3h-1v1h-1v1h-3v-1h-1v-1h-1v-3h1v-1h1zM1055 507h3v1h1v1h1v3h-1v1h-1v1h-3v-1h-1v-1h-1v-3h1v-1h1zM1059 510h3v1h1v1h1v3h-1v1h-1v1h-3v-1h-1v-1h-1v-3h1v-1h1zM1061 507h3v1h1v1h1v3h-1v1h-1v1h-3v-1h-1v-1h-1v-3h1v-1h1zM1064 505h3v1h1v1h1v3h-1v1h-1v1h-3v-1h-1v-1h-1v-3h1v-1h1zM1067 510h3v1h1v1h1v3h-1v1h-1v1h-3v-1h-1v-1h-1v-3h1v-1h1zM1072 506h3v1h1v1h1v3h-1v1h-1v1h-3v-1h-1v-1h-1v-3h1v-1h1zM1075 507h3v1h1v1h1v3h-1v1h-1v1h-3v-1h-1v-1h-1v-3h1v-1h1zM1078 508h3v1h1v1h1v3h-1v1h-1v1h-3v-1h-1v-1h-1v-3h1v-1h1zM1082 511h3v1h1v1h1v3h-1v1h-1v1h-3v-1h-1v-1h-1v-3h1v-1h1zM1084 495h3v1h1v1h1v3h-1v1h-1v1h-3v-1h-1v-1h-1v-3h1v-1h1zM1088 494h3v1h1v1h1v3h-1v1h-1v1h-3v-1h-1v-1h-1v-3h1v-1h1zM1093 494h3v1h1v1h1v3h-1v1h-1v1h-3v-1h-1v-1h-1v-3h1v-1h1zM1096 494h3v1h1v1h1v3h-1v1h-1v1h-3v-1h-1v-1h-1v-3h1v-1h1zM1100 494h3v1h1v1h1v3h-1v1h-1v1h-3v-1h-1v-1h-1v-3h1v-1h1zM1103 502h3v1h1v1h1v3h-1v1h-1v1h-3v-1h-1v-1h-1v-3h1v-1h1zM1106 502h3v1h1v1h1v3h-1v1h-1v1h-3v-1h-1v-1h-1v-3h1v-1h1zM1110 502h3v1h1v1h1v3h-1v1h-1v1h-3v-1h-1v-1h-1v-3h1v-1h1zM1113 502h3v1h1v1h1v3h-1v1h-1v1h-3v-1h-1v-1h-1v-3h1v-1h1zM1117 502h3v1h1v1h1v3h-1v1h-1v1h-3v-1h-1v-1h-1v-3h1v-1h1zM1120 502h3v1h1v1h1v3h-1v1h-1v1h-3v-1h-1v-1h-1v-3h1v-1h1zM1123 505h3v1h1v1h1v3h-1v1h-1v1h-3v-1h-1v-1h-1v-3h1v-1h1zM1127 506h3v1h1v1h1v3h-1v1h-1v1h-3v-1h-1v-1h-1v-3h1v-1h1zM1130 497h3v1h1v1h1v3h-1v1h-1v1h-3v-1h-1v-1h-1v-3h1v-1h1zM1133 497h3v1h1v1h1v3h-1v1h-1v1h-3v-1h-1v-1h-1v-3h1v-1h1zM1137 497h3v1h1v1h1v3h-1v1h-1v1h-3v-1h-1v-1h-1v-3h1v-1h1zM1140 497h3v1h1v1h1v3h-1v1h-1v1h-3v-1h-1v-1h-1v-3h1v-1h1zM1144 497h3v1h1v1h1v3h-1v1h-1v1h-3v-1h-1v-1h-1v-3h1v-1h1zM1147 497h3v1h1v1h1v3h-1v1h-1v1h-3v-1h-1v-1h-1v-3h1v-1h1zM1151 497h3v1h1v1h1v3h-1v1h-1v1h-3v-1h-1v-1h-1v-3h1v-1h1zM1154 497h3v1h1v1h1v3h-1v1h-1v1h-3v-1h-1v-1h-1v-3h1v-1h1zM1158 497h3v1h1v1h1v3h-1v1h-1v1h-3v-1h-1v-1h-1v-3h1v-1h1zM1161 497h3v1h1v1h1v3h-1v1h-1v1h-3v-1h-1v-1h-1v-3h1v-1h1zM1165 497h3v1h1v1h1v3h-1v1h-1v1h-3v-1h-1v-1h-1v-3h1v-1h1zM1168 497h3v1h1v1h1v3h-1v1h-1v1h-3v-1h-1v-1h-1v-3h1v-1h1zM1172 483h3v1h1v1h1v3h-1v1h-1v1h-3v-1h-1v-1h-1v-3h1v-1h1zM1175 483h3v1h1v1h1v3h-1v1h-1v1h-3v-1h-1v-1h-1v-3h1v-1h1zM1179 483h3v1h1v1h1v3h-1v1h-1v1h-3v-1h-1v-1h-1v-3h1v-1h1zM1182 483h3v1h1v1h1v3h-1v1h-1v1h-3v-1h-1v-1h-1v-3h1v-1h1zM1186 483h3v1h1v1h1v3h-1v1h-1v1h-3v-1h-1v-1h-1v-3h1v-1h1zM1189 483h3v1h1v1h1v3h-1v1h-1v1h-3v-1h-1v-1h-1v-3h1v-1h1zM1193 483h3v1h1v1h1v3h-1v1h-1v1h-3v-1h-1v-1h-1v-3h1v-1h1zM1196 483h3v1h1v1h1v3h-1v1h-1v1h-3v-1h-1v-1h-1v-3h1v-1h1zM1200 483h3v1h1v1h1v3h-1v1h-1v1h-3v-1h-1v-1h-1v-3h1v-1h1zM1203 483h3v1h1v1h1v3h-1v1h-1v1h-3v-1h-1v-1h-1v-3h1v-1h1zM1207 483h3v1h1v1h1v3h-1v1h-1v1h-3v-1h-1v-1h-1v-3h1v-1h1zM1210 483h3v1h1v1h1v3h-1v1h-1v1h-3v-1h-1v-1h-1v-3h1v-1h1zM1214 483h3v1h1v1h1v3h-1v1h-1v1h-3v-1h-1v-1h-1v-3h1v-1h1zM1217 483h3v1h1v1h1v3h-1v1h-1v1h-3v-1h-1v-1h-1v-3h1v-1h1zM1221 483h3v1h1v1h1v3h-1v1h-1v1h-3v-1h-1v-1h-1v-3h1v-1h1zM1223 492h3v1h1v1h1v3h-1v1h-1v1h-3v-1h-1v-1h-1v-3h1v-1h1zM1227 489h3v1h1v1h1v3h-1v1h-1v1h-3v-1h-1v-1h-1v-3h1v-1h1zM1231 491h3v1h1v1h1v3h-1v1h-1v1h-3v-1h-1v-1h-1v-3h1v-1h1zM1234 493h3v1h1v1h1v3h-1v1h-1v1h-3v-1h-1v-1h-1v-3h1v-1h1zM1238 493h3v1h1v1h1v3h-1v1h-1v1h-3v-1h-1v-1h-1v-3h1v-1h1zM1241 493h3v1h1v1h1v3h-1v1h-1v1h-3v-1h-1v-1h-1v-3h1v-1h1zM1245 493h3v1h1v1h1v3h-1v1h-1v1h-3v-1h-1v-1h-1v-3h1v-1h1zM1249 491h3v1h1v1h1v3h-1v1h-1v1h-3v-1h-1v-1h-1v-3h1v-1h1zM1251 484h3v1h1v1h1v3h-1v1h-1v1h-3v-1h-1v-1h-1v-3h1v-1h1zM1254 484h3v1h1v1h1v3h-1v1h-1v1h-3v-1h-1v-1h-1v-3h1v-1h1zM1257 484h3v1h1v1h1v3h-1v1h-1v1h-3v-1h-1v-1h-1v-3h1v-1h1zM1261 484h3v1h1v1h1v3h-1v1h-1v1h-3v-1h-1v-1h-1v-3h1v-1h1zM1264 484h3v1h1v1h1v3h-1v1h-1v1h-3v-1h-1v-1h-1v-3h1v-1h1zM1267 484h3v1h1v1h1v3h-1v1h-1v1h-3v-1h-1v-1h-1v-3h1v-1h1zM1271 484h3v1h1v1h1v3h-1v1h-1v1h-3v-1h-1v-1h-1v-3h1v-1h1zM1274 484h3v1h1v1h1v3h-1v1h-1v1h-3v-1h-1v-1h-1v-3h1v-1h1zM1278 485h3v1h1v1h1v3h-1v1h-1v1h-3v-1h-1v-1h-1v-3h1v-1h1zM1282 486h3v1h1v1h1v3h-1v1h-1v1h-3v-1h-1v-1h-1v-3h1v-1h1zM1286 487h3v1h1v1h1v3h-1v1h-1v1h-3v-1h-1v-1h-1v-3h1v-1h1zM1289 489h3v1h1v1h1v3h-1v1h-1v1h-3v-1h-1v-1h-1v-3h1v-1h1zM1293 492h3v1h1v1h1v3h-1v1h-1v1h-3v-1h-1v-1h-1v-3h1v-1h1zM1295 480h3v1h1v1h1v3h-1v1h-1v1h-3v-1h-1v-1h-1v-3h1v-1h1zM1299 480h3v1h1v1h1v3h-1v1h-1v1h-3v-1h-1v-1h-1v-3h1v-1h1zM1302 480h3v1h1v1h1v3h-1v1h-1v1h-3v-1h-1v-1h-1v-3h1v-1h1zM1306 480h3v1h1v1h1v3h-1v1h-1v1h-3v-1h-1v-1h-1v-3h1v-1h1zM1310 480h3v1h1v1h1v3h-1v1h-1v1h-3v-1h-1v-1h-1v-3h1v-1h1zM1313 480h3v1h1v1h1v3h-1v1h-1v1h-3v-1h-1v-1h-1v-3h1v-1h1zM1317 480h3v1h1v1h1v3h-1v1h-1v1h-3v-1h-1v-1h-1v-3h1v-1h1zM1320 480h3v1h1v1h1v3h-1v1h-1v1h-3v-1h-1v-1h-1v-3h1v-1h1zM1324 480h3v1h1v1h1v3h-1v1h-1v1h-3v-1h-1v-1h-1v-3h1v-1h1zM1328 480h3v1h1v1h1v3h-1v1h-1v1h-3v-1h-1v-1h-1v-3h1v-1h1zM1331 480h3v1h1v1h1v3h-1v1h-1v1h-3v-1h-1v-1h-1v-3h1v-1h1zM1335 480h3v1h1v1h1v3h-1v1h-1v1h-3v-1h-1v-1h-1v-3h1v-1h1zM1336 500h3v1h1v1h1v3h-1v1h-1v1h-3v-1h-1v-1h-1v-3h1v-1h1zM1340 500h3v1h1v1h1v3h-1v1h-1v1h-3v-1h-1v-1h-1v-3h1v-1h1zM1343 500h3v1h1v1h1v3h-1v1h-1v1h-3v-1h-1v-1h-1v-3h1v-1h1zM1347 500h3v1h1v1h1v3h-1v1h-1v1h-3v-1h-1v-1h-1v-3h1v-1h1zM1351 500h3v1h1v1h1v3h-1v1h-1v1h-3v-1h-1v-1h-1v-3h1v-1h1zM1354 500h3v1h1v1h1v3h-1v1h-1v1h-3v-1h-1v-1h-1v-3h1v-1h1zM1358 500h3v1h1v1h1v3h-1v1h-1v1h-3v-1h-1v-1h-1v-3h1v-1h1zM1361 500h3v1h1v1h1v3h-1v1h-1v1h-3v-1h-1v-1h-1v-3h1v-1h1zM1365 500h3v1h1v1h1v3h-1v1h-1v1h-3v-1h-1v-1h-1v-3h1v-1h1zM1370 502h3v1h1v1h1v3h-1v1h-1v1h-3v-1h-1v-1h-1v-3h1v-1h1zM1373 502h3v1h1v1h1v3h-1v1h-1v1h-3v-1h-1v-1h-1v-3h1v-1h1zM1377 502h3v1h1v1h1v3h-1v1h-1v1h-3v-1h-1v-1h-1v-3h1v-1h1zM1380 502h3v1h1v1h1v3h-1v1h-1v1h-3v-1h-1v-1h-1v-3h1v-1h1zM1384 502h3v1h1v1h1v3h-1v1h-1v1h-3v-1h-1v-1h-1v-3h1v-1h1zM1387 504h3v1h1v1h1v3h-1v1h-1v1h-3v-1h-1v-1h-1v-3h1v-1h1zM1391 506h3v1h1v1h1v3h-1v1h-1v1h-3v-1h-1v-1h-1v-3h1v-1h1zM1394 507h3v1h1v1h1v3h-1v1h-1v1h-3v-1h-1v-1h-1v-3h1v-1h1zM1397 507h3v1h1v1h1v3h-1v1h-1v1h-3v-1h-1v-1h-1v-3h1v-1h1zM1399 501h3v1h1v1h1v3h-1v1h-1v1h-3v-1h-1v-1h-1v-3h1v-1h1zM1404 505h3v1h1v1h1v3h-1v1h-1v1h-3v-1h-1v-1h-1v-3h1v-1h1zM1407 502h3v1h1v1h1v3h-1v1h-1v1h-3v-1h-1v-1h-1v-3h1v-1h1zM1410 505h3v1h1v1h1v3h-1v1h-1v1h-3v-1h-1v-1h-1v-3h1v-1h1zM1414 507h3v1h1v1h1v3h-1v1h-1v1h-3v-1h-1v-1h-1v-3h1v-1h1zM1416 501h3v1h1v1h1v3h-1v1h-1v1h-3v-1h-1v-1h-1v-3h1v-1h1zM1420 501h3v1h1v1h1v3h-1v1h-1v1h-3v-1h-1v-1h-1v-3h1v-1h1zM1424 501h3v1h1v1h1v3h-1v1h-1v1h-3v-1h-1v-1h-1v-3h1v-1h1zM1428 501h3v1h1v1h1v3h-1v1h-1v1h-3v-1h-1v-1h-1v-3h1v-1h1zM1431 503h3v1h1v1h1v3h-1v1h-1v1h-3v-1h-1v-1h-1v-3h1v-1h1zM1434 505h3v1h1v1h1v3h-1v1h-1v1h-3v-1h-1v-1h-1v-3h1v-1h1zM1438 505h3v1h1v1h1v3h-1v1h-1v1h-3v-1h-1v-1h-1v-3h1v-1h1zM1442 505h3v1h1v1h1v3h-1v1h-1v1h-3v-1h-1v-1h-1v-3h1v-1h1zM1446 505h3v1h1v1h1v3h-1v1h-1v1h-3v-1h-1v-1h-1v-3h1v-1h1zM1449 505h3v1h1v1h1v3h-1v1h-1v1h-3v-1h-1v-1h-1v-3h1v-1h1zM1453 505h3v1h1v1h1v3h-1v1h-1v1h-3v-1h-1v-1h-1v-3h1v-1h1zM1457 505h3v1h1v1h1v3h-1v1h-1v1h-3v-1h-1v-1h-1v-3h1v-1h1zM1460 503h3v1h1v1h1v3h-1v1h-1v1h-3v-1h-1v-1h-1v-3h1v-1h1zM1463 501h3v1h1v1h1v3h-1v1h-1v1h-3v-1h-1v-1h-1v-3h1v-1h1zM1468 500h3v1h1v1h1v3h-1v1h-1v1h-3v-1h-1v-1h-1v-3h1v-1h1zM1473 502h3v1h1v1h1v3h-1v1h-1v1h-3v-1h-1v-1h-1v-3h1v-1h1zM1477 502h3v1h1v1h1v3h-1v1h-1v1h-3v-1h-1v-1h-1v-3h1v-1h1zM1481 502h3v1h1v1h1v3h-1v1h-1v1h-3v-1h-1v-1h-1v-3h1v-1h1zM1485 502h3v1h1v1h1v3h-1v1h-1v1h-3v-1h-1v-1h-1v-3h1v-1h1zM1489 500h3v1h1v1h1v3h-1v1h-1v1h-3v-1h-1v-1h-1v-3h1v-1h1zM1492 499h3v1h1v1h1v3h-1v1h-1v1h-3v-1h-1v-1h-1v-3h1v-1h1zM1496 495h3v1h1v1h1v3h-1v1h-1v1h-3v-1h-1v-1h-1v-3h1v-1h1zM1500 496h3v1h1v1h1v3h-1v1h-1v1h-3v-1h-1v-1h-1v-3h1v-1h1zM1503 516h3v1h1v1h1v3h-1v1h-1v1h-3v-1h-1v-1h-1v-3h1v-1h1zM1506 516h3v1h1v1h1v3h-1v1h-1v1h-3v-1h-1v-1h-1v-3h1v-1h1zM1510 516h3v1h1v1h1v3h-1v1h-1v1h-3v-1h-1v-1h-1v-3h1v-1h1zM1513 516h3v1h1v1h1v3h-1v1h-1v1h-3v-1h-1v-1h-1v-3h1v-1h1zM1517 516h3v1h1v1h1v3h-1v1h-1v1h-3v-1h-1v-1h-1v-3h1v-1h1zM1520 516h3v1h1v1h1v3h-1v1h-1v1h-3v-1h-1v-1h-1v-3h1v-1h1zM1524 516h3v1h1v1h1v3h-1v1h-1v1h-3v-1h-1v-1h-1v-3h1v-1h1zM1527 516h3v1h1v1h1v3h-1v1h-1v1h-3v-1h-1v-1h-1v-3h1v-1h1zM1531 516h3v1h1v1h1v3h-1v1h-1v1h-3v-1h-1v-1h-1v-3h1v-1h1zM1535 516h3v1h1v1h1v3h-1v1h-1v1h-3v-1h-1v-1h-1v-3h1v-1h1zM1538 516h3v1h1v1h1v3h-1v1h-1v1h-3v-1h-1v-1h-1v-3h1v-1h1zM1542 516h3v1h1v1h1v3h-1v1h-1v1h-3v-1h-1v-1h-1v-3h1v-1h1zM1545 516h3v1h1v1h1v3h-1v1h-1v1h-3v-1h-1v-1h-1v-3h1v-1h1zM1549 516h3v1h1v1h1v3h-1v1h-1v1h-3v-1h-1v-1h-1v-3h1v-1h1zM1553 521h3v1h1v1h1v3h-1v1h-1v1h-3v-1h-1v-1h-1v-3h1v-1h1zM1557 527h3v1h1v1h1v3h-1v1h-1v1h-3v-1h-1v-1h-1v-3h1v-1h1zM1562 523h3v1h1v1h1v3h-1v1h-1v1h-3v-1h-1v-1h-1v-3h1v-1h1zM1565 524h3v1h1v1h1v3h-1v1h-1v1h-3v-1h-1v-1h-1v-3h1v-1h1zM1569 524h3v1h1v1h1v3h-1v1h-1v1h-3v-1h-1v-1h-1v-3h1v-1h1zM1572 524h3v1h1v1h1v3h-1v1h-1v1h-3v-1h-1v-1h-1v-3h1v-1h1zM1575 525h3v1h1v1h1v3h-1v1h-1v1h-3v-1h-1v-1h-1v-3h1v-1h1zM1579 525h3v1h1v1h1v3h-1v1h-1v1h-3v-1h-1v-1h-1v-3h1v-1h1zM1581 518h3v1h1v1h1v3h-1v1h-1v1h-3v-1h-1v-1h-1v-3h1v-1h1zM1585 518h3v1h1v1h1v3h-1v1h-1v1h-3v-1h-1v-1h-1v-3h1v-1h1zM1589 518h3v1h1v1h1v3h-1v1h-1v1h-3v-1h-1v-1h-1v-3h1v-1h1zM1593 518h3v1h1v1h1v3h-1v1h-1v1h-3v-1h-1v-1h-1v-3h1v-1h1zM1597 518h3v1h1v1h1v3h-1v1h-1v1h-3v-1h-1v-1h-1v-3h1v-1h1zM1600 518h3v1h1v1h1v3h-1v1h-1v1h-3v-1h-1v-1h-1v-3h1v-1h1zM1606 517h3v1h1v1h1v3h-1v1h-1v1h-3v-1h-1v-1h-1v-3h1v-1h1zM1609 517h3v1h1v1h1v3h-1v1h-1v1h-3v-1h-1v-1h-1v-3h1v-1h1zM1613 517h3v1h1v1h1v3h-1v1h-1v1h-3v-1h-1v-1h-1v-3h1v-1h1zM1617 517h3v1h1v1h1v3h-1v1h-1v1h-3v-1h-1v-1h-1v-3h1v-1h1zM1620 523h3v1h1v1h1v3h-1v1h-1v1h-3v-1h-1v-1h-1v-3h1v-1h1zM1623 524h3v1h1v1h1v3h-1v1h-1v1h-3v-1h-1v-1h-1v-3h1v-1h1zM1626 525h3v1h1v1h1v3h-1v1h-1v1h-3v-1h-1v-1h-1v-3h1v-1h1zM1628 511h3v1h1v1h1v3h-1v1h-1v1h-3v-1h-1v-1h-1v-3h1v-1h1zM1631 506h3v1h1v1h1v3h-1v1h-1v1h-3v-1h-1v-1h-1v-3h1v-1h1zM1635 506h3v1h1v1h1v3h-1v1h-1v1h-3v-1h-1v-1h-1v-3h1v-1h1zM1638 506h3v1h1v1h1v3h-1v1h-1v1h-3v-1h-1v-1h-1v-3h1v-1h1zM1642 506h3v1h1v1h1v3h-1v1h-1v1h-3v-1h-1v-1h-1v-3h1v-1h1zM1646 506h3v1h1v1h1v3h-1v1h-1v1h-3v-1h-1v-1h-1v-3h1v-1h1zM1649 507h3v1h1v1h1v3h-1v1h-1v1h-3v-1h-1v-1h-1v-3h1v-1h1zM1652 508h3v1h1v1h1v3h-1v1h-1v1h-3v-1h-1v-1h-1v-3h1v-1h1zM1656 508h3v1h1v1h1v3h-1v1h-1v1h-3v-1h-1v-1h-1v-3h1v-1h1zM1659 508h3v1h1v1h1v3h-1v1h-1v1h-3v-1h-1v-1h-1v-3h1v-1h1zM1663 508h3v1h1v1h1v3h-1v1h-1v1h-3v-1h-1v-1h-1v-3h1v-1h1zM1666 508h3v1h1v1h1v3h-1v1h-1v1h-3v-1h-1v-1h-1v-3h1v-1h1zM1668 533h3v1h1v1h1v3h-1v1h-1v1h-3v-1h-1v-1h-1v-3h1v-1h1zM1672 533h3v1h1v1h1v3h-1v1h-1v1h-3v-1h-1v-1h-1v-3h1v-1h1zM1675 533h3v1h1v1h1v3h-1v1h-1v1h-3v-1h-1v-1h-1v-3h1v-1h1zM1678 533h3v1h1v1h1v3h-1v1h-1v1h-3v-1h-1v-1h-1v-3h1v-1h1zM1682 533h3v1h1v1h1v3h-1v1h-1v1h-3v-1h-1v-1h-1v-3h1v-1h1zM1685 533h3v1h1v1h1v3h-1v1h-1v1h-3v-1h-1v-1h-1v-3h1v-1h1zM1689 533h3v1h1v1h1v3h-1v1h-1v1h-3v-1h-1v-1h-1v-3h1v-1h1zM1692 533h3v1h1v1h1v3h-1v1h-1v1h-3v-1h-1v-1h-1v-3h1v-1h1zM1695 533h3v1h1v1h1v3h-1v1h-1v1h-3v-1h-1v-1h-1v-3h1v-1h1zM1699 533h3v1h1v1h1v3h-1v1h-1v1h-3v-1h-1v-1h-1v-3h1v-1h1zM1702 533h3v1h1v1h1v3h-1v1h-1v1h-3v-1h-1v-1h-1v-3h1v-1h1zM1706 533h3v1h1v1h1v3h-1v1h-1v1h-3v-1h-1v-1h-1v-3h1v-1h1zM1709 533h3v1h1v1h1v3h-1v1h-1v1h-3v-1h-1v-1h-1v-3h1v-1h1zM1712 533h3v1h1v1h1v3h-1v1h-1v1h-3v-1h-1v-1h-1v-3h1v-1h1zM1716 533h3v1h1v1h1v3h-1v1h-1v1h-3v-1h-1v-1h-1v-3h1v-1h1zM1721 535h3v1h1v1h1v3h-1v1h-1v1h-3v-1h-1v-1h-1v-3h1v-1h1zM1724 539h3v1h1v1h1v3h-1v1h-1v1h-3v-1h-1v-1h-1v-3h1v-1h1zM1727 543h3v1h1v1h1v3h-1v1h-1v1h-3v-1h-1v-1h-1v-3h1v-1h1zM1731 542h3v1h1v1h1v3h-1v1h-1v1h-3v-1h-1v-1h-1v-3h1v-1h1zM1734 541h3v1h1v1h1v3h-1v1h-1v1h-3v-1h-1v-1h-1v-3h1v-1h1zM1737 533h3v1h1v1h1v3h-1v1h-1v1h-3v-1h-1v-1h-1v-3h1v-1h1zM1741 542h3v1h1v1h1v3h-1v1h-1v1h-3v-1h-1v-1h-1v-3h1v-1h1zM1746 541h3v1h1v1h1v3h-1v1h-1v1h-3v-1h-1v-1h-1v-3h1v-1h1zM1747 515h3v1h1v1h1v3h-1v1h-1v1h-3v-1h-1v-1h-1v-3h1v-1h1zM1752 515h3v1h1v1h1v3h-1v1h-1v1h-3v-1h-1v-1h-1v-3h1v-1h1zM1756 521h3v1h1v1h1v3h-1v1h-1v1h-3v-1h-1v-1h-1v-3h1v-1h1zM1759 523h3v1h1v1h1v3h-1v1h-1v1h-3v-1h-1v-1h-1v-3h1v-1h1zM1763 525h3v1h1v1h1v3h-1v1h-1v1h-3v-1h-1v-1h-1v-3h1v-1h1zM1766 525h3v1h1v1h1v3h-1v1h-1v1h-3v-1h-1v-1h-1v-3h1v-1h1zM1769 526h3v1h1v1h1v3h-1v1h-1v1h-3v-1h-1v-1h-1v-3h1v-1h1zM1773 526h3v1h1v1h1v3h-1v1h-1v1h-3v-1h-1v-1h-1v-3h1v-1h1zM1776 518h3v1h1v1h1v3h-1v1h-1v1h-3v-1h-1v-1h-1v-3h1v-1h1zM1779 519h3v1h1v1h1v3h-1v1h-1v1h-3v-1h-1v-1h-1v-3h1v-1h1zM1783 526h3v1h1v1h1v3h-1v1h-1v1h-3v-1h-1v-1h-1v-3h1v-1h1z" fill="#ED7D31"/>
<polyline points="175,647.5 178.5,647.5 181.9,647.5 185.4,647.5 188.8,647.5 192.3,647.5 195.7,647.5 199.2,647.5 202.7,647.5 206.1,647.5 209.6,647.5 213,647.5 216.5,647.5 220,647.5 223.4,647.5 226.9,647.5 230.3,647.5 233.8,647.5 237.2,647.5 240.7,647.5 244.2,647.5 247.6,647.5 251.1,647.5 254.5,647.5 258,647.5 261.4,647.5 264.9,647.5 268.4,647.5 271.8,647.5 275.3,647.5 278.7,647.5 282.2,647.5 285.6,647.5 289.1,647.5 292.6,647.5 296,647.5 299.5,647.5 302.9,647.5 306.4,647.5 309.9,647.5 313.3,647.5 316.8,647.5 320.2,647.5 323.7,647.5 327.1,647.5 330.6,647.5 334.1,647.5 337.5,647.5 341,647.5 344.4,647.5 347.9,647.5 351.3,647.5 354.8,647.5 358.3,647.5 361.7,647.5 365.2,647.5 368.6,647.5 372.1,647.5 375.5,647.5 379,647.5 382.5,647.5 385.9,647.5 389.4,647.5 392.8,647.5 396.3,647.5 399.8,647.5 403.2,647.5 406.7,647.5 410.1,647.5 413.6,647.5 417,647.5 420.5,647.5 424,606.4 427.5,606.4 430.9,606.4 434.4,606.4 437.8,606.4 441.3,606.4 444.8,606.4 448.2,606.4 451.7,606.4 455.1,606.4 458.6,606.4 462,606.4 465.5,606.4 469,606.4 472.4,606.4 475.9,606.4 479.3,606.4 482.8,606.4 486.3,606.4 489.7,606.4 493.2,606.4 496.6,606.4 500.1,606.4 503.6,606.4 507,606.3 510.5,606.3 513.9,606.3 517.4,606.3 520.9,606.3 524.3,606.3 527.8,606.3 531.2,606.3 534.7,606.3 538.1,606.3 541.6,606.3 545.1,606.3 548.5,606.3 552,606.3 555.4,606.3 558.9,606.3 562.4,606.3 565.8,606.3 569.3,606.3 572.7,606.3 576.2,606.3 579.7,606.3 583.1,606.3 586.6,606.3 590,606.3 593.5,606.3 596.9,606.3 600.4,606.3 603.9,606.3 607.3,606.3 610.8,606.3 614.2,606.3 617.7,606.3 621.2,606.3 624.6,606.3 628.1,606.3 631.5,606.3 635,606.3 638.5,606.3 641.9,606.3 645.4,606.3 648.8,606.3 652.3,606.3 655.7,606.3 659.2,606.3 662.7,606.3 666.1,606.3 669.6,606.3 673,606.2 676.5,606.2 680,606.2 683.4,606.2 686.9,606.2 690.3,606.2 693.8,606.2 697.3,606.2 700.7,606.2 704.2,606.2 707.6,606.2 711.1,606.2 714.6,606.2 718,606.2 721.5,606.2 724.9,606.2 728.4,606.2 731.8,606.2 735.3,606.2 738.8,606.2 742.2,606.2 745.7,606.2 749.1,606.2 752.6,606.2 755.5,603.8 759,603.8 762.4,603.8 765.9,603.8 769.3,603.8 772.8,603.8 776.2,603.8 779.6,603.8 783.1,603.8 787.5,603.1 791.8,602.4 796.2,606.7 799.7,606.7 803.1,606.7 806.6,606.6 810,606.6 813.5,606.6 817,606.6 820.4,606.5 823.9,606.5 827.3,606.5 830.8,606.5 834.3,606.4 837.7,606.4 841.2,606.4 844.6,606.4 848.1,606.4 851.6,606.3 855,606.3 858.5,606.3 861.9,606.3 865.4,606.2 868.9,606.2 872.3,606.2 875.8,606.2 879.2,606.1 882.7,606.1 886.2,606.1 889.6,606.1 893.1,606 896.5,606 900,606 903,605.1 906.8,605.1 910.5,605.1 914.2,605.1 918,605.1 920.5,604.6 924.9,608.3 928.8,608.9 932.6,609.5 934.3,613.4 938,613.4 941.8,613.4 945.5,613.4 949.3,613.4 953,613.4 956.8,613.4 959.2,615.1 963.4,615.5 967.5,616 969.9,621.5 973.4,621.5 976.8,621.5 980.3,621.5 983.7,621.5 987.2,621.5 990.6,621.5 994.1,621.5 997.5,621.5 1001,621.5 1004.4,621.5 1007.9,621.5 1011.3,621.5 1014.8,621.5 1018.2,621.5 1021.7,621.5 1025.1,621.5 1028.6,621.5 1032,621.5 1035.5,621.5 1039,621.5 1042.4,621.5 1045.9,621.5 1049.3,621.5 1052.8,621.5 1056.2,621.5 1059.7,621.5 1063.1,621.5 1066.6,621.5 1070,621.5 1073.5,621.5 1076.9,621.5 1080.4,621.5 1083.8,621.5 1087.3,621.5 1090.7,621.5 1094.2,621.5 1097.7,621.5 1101.1,621.5 1104.6,621.5 1108,621.5 1111.5,621.5 1114.9,621.5 1118.4,621.5 1121.8,621.5 1125.3,621.5 1128.7,621.5 1132.2,621.5 1135.6,621.5 1139.1,621.5 1142.5,621.5 1146,621.5 1149.4,621.5 1152.9,621.5 1156.3,621.5 1159.8,621.5 1163.3,621.5 1166.7,621.5 1170.2,621.5 1173.6,621.5 1177.1,621.5 1180.5,621.5 1184,621.5 1187.4,621.5 1190.9,621.5 1194.3,621.5 1197.8,621.5 1201.2,621.5 1204.7,621.5 1208.1,621.5 1211.6,621.5 1215,621.5 1218.5,621.5 1221.9,621.5 1225.4,621.5 1228.9,621.5 1232.3,621.5 1235.8,621.5 1239.2,621.5 1242.7,621.5 1246.1,621.5 1249.6,621.5 1253,621.5 1256.5,621.5 1259.9,621.5 1263.4,621.5 1266.8,621.5 1270.3,621.5 1273.7,621.5 1277.2,621.5 1280.6,621.5 1284.1,621.5 1287.5,621.5 1291,621.5 1294.5,621.5 1297.9,621.5 1301.4,621.5 1304.8,621.5 1308.3,621.5 1311.7,621.5 1315.2,621.5 1318.6,621.5 1322.1,621.5 1325.5,621.5 1329,621.5 1332.4,621.5 1335.9,621.5 1339.3,621.5 1342.8,621.5 1346.2,621.5 1349.7,621.5 1353.2,621.5 1356.6,621.5 1360.1,621.5 1363.5,621.5 1367,621.5 1370.4,621.5 1373.9,621.5 1377.3,621.5 1380.8,621.5 1384.2,621.5 1387.7,621.5 1391.1,621.5 1394.6,621.5 1398,621.5 1401.5,621.5 1404.9,621.5 1408.4,621.5 1411.8,621.5 1415.3,621.5 1418,514 1421.4,514 1424.8,514 1428.3,514 1431.7,514 1435.1,514 1438.5,514 1442,514 1445.4,514 1448.8,514 1452.2,514 1455.7,514 1459.1,514 1462.5,514 1466,514 1469.4,514 1472.8,514 1476.4,513.7 1480,513.4 1483.3,513.7 1486.7,514.1 1490,514.4 1493.4,514.8 1496.7,515.1 1500.2,515 1503.7,515 1507.1,514.9 1510.6,514.8 1514.1,514.7 1517.6,514.7 1521.1,514.6 1524.5,514.5 1528,514.5 1531.5,514.4 1535,514.3 1538.5,514.2 1541.9,514.2 1545.4,514.1 1548.9,514 1552.4,514 1555.8,513.9 1559.3,513.8 1562.8,513.8 1566.3,513.7 1569.8,513.6 1573.2,513.5 1576.7,513.5 1580.2,513.4 1583.6,511.7 1587.1,511.9 1590.5,512.1 1594,512.3 1597.5,512.5 1601,512.7 1604.4,513 1607.9,513.2 1611.4,513.4 1614.9,513.6 1618.3,513.8 1621.8,514 1625.3,514.2 1628.5,547.5 1631.5,606 1635.2,606.6 1639,607.2 1644.1,609.8 1648,609.9 1651.9,610 1655.8,610.2 1659.7,610.3 1662.2,617.6 1665.7,617.6 1669.2,617.6 1672.7,617.6 1676.2,617.6 1679.6,617.6 1683.1,617.6 1686.6,617.6 1690.1,617.6 1693.6,617.6 1697.1,617.6 1700.6,617.6 1704.1,617.6 1707.5,617.6 1711,617.6 1714.5,617.6 1718,617.6 1721.5,617.6 1725,617.6 1728.5,617.6 1732,617.6 1735.4,617.6 1738.9,617.6 1742.4,617.6 1745.9,617.6 1749.3,614.1 1752.8,614 1756.2,613.9 1759.7,613.8 1763.1,613.7 1766.5,613.6 1770,613.5 1773.5,613.4 1776.9,613.3 1781.2,613.7 1785.5,614.1" fill="none" stroke="#A5A5A5" stroke-width="2.25" stroke-linejoin="round" stroke-linecap="round"/>
<path d="M174 644h3v1h1v1h1v3h-1v1h-1v1h-3v-1h-1v-1h-1v-3h1v-1h1zM177 644h3v1h1v1h1v3h-1v1h-1v1h-3v-1h-1v-1h-1v-3h1v-1h1zM180 644h3v1h1v1h1v3h-1v1h-1v1h-3v-1h-1v-1h-1v-3h1v-1h1zM184 644h3v1h1v1h1v3h-1v1h-1v1h-3v-1h-1v-1h-1v-3h1v-1h1zM187 644h3v1h1v1h1v3h-1v1h-1v1h-3v-1h-1v-1h-1v-3h1v-1h1zM191 644h3v1h1v1h1v3h-1v1h-1v1h-3v-1h-1v-1h-1v-3h1v-1h1zM194 644h3v1h1v1h1v3h-1v1h-1v1h-3v-1h-1v-1h-1v-3h1v-1h1zM198 644h3v1h1v1h1v3h-1v1h-1v1h-3v-1h-1v-1h-1v-3h1v-1h1zM201 644h3v1h1v1h1v3h-1v1h-1v1h-3v-1h-1v-1h-1v-3h1v-1h1zM205 644h3v1h1v1h1v3h-1v1h-1v1h-3v-1h-1v-1h-1v-3h1v-1h1zM208 644h3v1h1v1h1v3h-1v1h-1v1h-3v-1h-1v-1h-1v-3h1v-1h1zM212 644h3v1h1v1h1v3h-1v1h-1v1h-3v-1h-1v-1h-1v-3h1v-1h1zM215 644h3v1h1v1h1v3h-1v1h-1v1h-3v-1h-1v-1h-1v-3h1v-1h1zM218 644h3v1h1v1h1v3h-1v1h-1v1h-3v-1h-1v-1h-1v-3h1v-1h1zM222 644h3v1h1v1h1v3h-1v1h-1v1h-3v-1h-1v-1h-1v-3h1v-1h1zM225 644h3v1h1v1h1v3h-1v1h-1v1h-3v-1h-1v-1h-1v-3h1v-1h1zM229 644h3v1h1v1h1v3h-1v1h-1v1h-3v-1h-1v-1h-1v-3h1v-1h1zM232 644h3v1h1v1h1v3h-1v1h-1v1h-3v-1h-1v-1h-1v-3h1v-1h1zM236 644h3v1h1v1h1v3h-1v1h-1v1h-3v-1h-1v-1h-1v-3h1v-1h1zM239 644h3v1h1v1h1v3h-1v1h-1v1h-3v-1h-1v-1h-1v-3h1v-1h1zM243 644h3v1h1v1h1v3h-1v1h-1v1h-3v-1h-1v-1h-1v-3h1v-1h1zM246 644h3v1h1v1h1v3h-1v1h-1v1h-3v-1h-1v-1h-1v-3h1v-1h1zM250 644h3v1h1v1h1v3h-1v1h-1v1h-3v-1h-1v-1h-1v-3h1v-1h1zM253 644h3v1h1v1h1v3h-1v1h-1v1h-3v-1h-1v-1h-1v-3h1v-1h1zM256 644h3v1h1v1h1v3h-1v1h-1v1h-3v-1h-1v-1h-1v-3h1v-1h1zM260 644h3v1h1v1h1v3h-1v1h-1v1h-3v-1h-1v-1h-1v-3h1v-1h1zM263 644h3v1h1v1h1v3h-1v1h-1v1h-3v-1h-1v-1h-1v-3h1v-1h1zM267 644h3v1h1v1h1v3h-1v1h-1v1h-3v-1h-1v-1h-1v-3h1v-1h1zM270 644h3v1h1v1h1v3h-1v1h-1v1h-3v-1h-1v-1h-1v-3h1v-1h1zM274 644h3v1h1v1h1v3h-1v1h-1v1h-3v-1h-1v-1h-1v-3h1v-1h1zM277 644h3v1h1v1h1v3h-1v1h-1v1h-3v-1h-1v-1h-1v-3h1v-1h1zM281 644h3v1h1v1h1v3h-1v1h-1v1h-3v-1h-1v-1h-1v-3h1v-1h1zM284 644h3v1h1v1h1v3h-1v1h-1v1h-3v-1h-1v-1h-1v-3h1v-1h1zM288 644h3v1h1v1h1v3h-1v1h-1v1h-3v-1h-1v-1h-1v-3h1v-1h1zM291 644h3v1h1v1h1v3h-1v1h-1v1h-3v-1h-1v-1h-1v-3h1v-1h1zM295 644h3v1h1v1h1v3h-1v1h-1v1h-3v-1h-1v-1h-1v-3h1v-1h1zM298 644h3v1h1v1h1v3h-1v1h-1v1h-3v-1h-1v-1h-1v-3h1v-1h1zM301 644h3v1h1v1h1v3h-1v1h-1v1h-3v-1h-1v-1h-1v-3h1v-1h1zM305 644h3v1h1v1h1v3h-1v1h-1v1h-3v-1h-1v-1h-1v-3h1v-1h1zM308 644h3v1h1v1h1v3h-1v1h-1v1h-3v-1h-1v-1h-1v-3h1v-1h1zM312 644h3v1h1v1h1v3h-1v1h-1v1h-3v-1h-1v-1h-1v-3h1v-1h1zM315 644h3v1h1v1h1v3h-1v1h-1v1h-3v-1h-1v-1h-1v-3h1v-1h1zM319 644h3v1h1v1h1v3h-1v1h-1v1h-3v-1h-1v-1h-1v-3h1v-1h1zM322 644h3v1h1v1h1v3h-1v1h-1v1h-3v-1h-1v-1h-1v-3h1v-1h1zM326 644h3v1h1v1h1v3h-1v1h-1v1h-3v-1h-1v-1h-1v-3h1v-1h1zM329 644h3v1h1v1h1v3h-1v1h-1v1h-3v-1h-1v-1h-1v-3h1v-1h1zM333 644h3v1h1v1h1v3h-1v1h-1v1h-3v-1h-1v-1h-1v-3h1v-1h1zM336 644h3v1h1v1h1v3h-1v1h-1v1h-3v-1h-1v-1h-1v-3h1v-1h1zM339 644h3v1h1v1h1v3h-1v1h-1v1h-3v-1h-1v-1h-1v-3h1v-1h1zM343 644h3v1h1v1h1v3h-1v1h-1v1h-3v-1h-1v-1h-1v-3h1v-1h1zM346 644h3v1h1v1h1v3h-1v1h-1v1h-3v-1h-1v-1h-1v-3h1v-1h1zM350 644h3v1h1v1h1v3h-1v1h-1v1h-3v-1h-1v-1h-1v-3h1v-1h1zM353 644h3v1h1v1h1v3h-1v1h-1v1h-3v-1h-1v-1h-1v-3h1v-1h1zM357 644h3v1h1v1h1v3h-1v1h-1v1h-3v-1h-1v-1h-1v-3h1v-1h1zM360 644h3v1h1v1h1v3h-1v1h-1v1h-3v-1h-1v-1h-1v-3h1v-1h1zM364 644h3v1h1v1h1v3h-1v1h-1v1h-3v-1h-1v-1h-1v-3h1v-1h1zM367 644h3v1h1v1h1v3h-1v1h-1v1h-3v-1h-1v-1h-1v-3h1v-1h1zM371 644h3v1h1v1h1v3h-1v1h-1v1h-3v-1h-1v-1h-1v-3h1v-1h1zM374 644h3v1h1v1h1v3h-1v1h-1v1h-3v-1h-1v-1h-1v-3h1v-1h1zM378 644h3v1h1v1h1v3h-1v1h-1v1h-3v-1h-1v-1h-1v-3h1v-1h1zM381 644h3v1h1v1h1v3h-1v1h-1v1h-3v-1h-1v-1h-1v-3h1v-1h1zM384 644h3v1h1v1h1v3h-1v1h-1v1h-3v-1h-1v-1h-1v-3h1v-1h1zM388 644h3v1h1v1h1v3h-1v1h-1v1h-3v-1h-1v-1h-1v-3h1v-1h1zM391 644h3v1h1v1h1v3h-1v1h-1v1h-3v-1h-1v-1h-1v-3h1v-1h1zM395 644h3v1h1v1h1v3h-1v1h-1v1h-3v-1h-1v-1h-1v-3h1v-1h1zM398 644h3v1h1v1h1v3h-1v1h-1v1h-3v-1h-1v-1h-1v-3h1v-1h1zM402 644h3v1h1v1h1v3h-1v1h-1v1h-3v-1h-1v-1h-1v-3h1v-1h1zM405 644h3v1h1v1h1v3h-1v1h-1v1h-3v-1h-1v-1h-1v-3h1v-1h1zM409 644h3v1h1v1h1v3h-1v1h-1v1h-3v-1h-1v-1h-1v-3h1v-1h1zM412 644h3v1h1v1h1v3h-1v1h-1v1h-3v-1h-1v-1h-1v-3h1v-1h1zM416 644h3v1h1v1h1v3h-1v1h-1v1h-3v-1h-1v-1h-1v-3h1v-1h1zM419 644h3v1h1v1h1v3h-1v1h-1v1h-3v-1h-1v-1h-1v-3h1v-1h1zM423 603h3v1h1v1h1v3h-1v1h-1v1h-3v-1h-1v-1h-1v-3h1v-1h1zM426 603h3v1h1v1h1v3h-1v1h-1v1h-3v-1h-1v-1h-1v-3h1v-1h1zM429 603h3v1h1v1h1v3h-1v1h-1v1h-3v-1h-1v-1h-1v-3h1v-1h1zM433 603h3v1h1v1h1v3h-1v1h-1v1h-3v-1h-1v-1h-1v-3h1v-1h1zM436 603h3v1h1v1h1v3h-1v1h-1v1h-3v-1h-1v-1h-1v-3h1v-1h1zM440 603h3v1h1v1h1v3h-1v1h-1v1h-3v-1h-1v-1h-1v-3h1v-1h1zM443 603h3v1h1v1h1v3h-1v1h-1v1h-3v-1h-1v-1h-1v-3h1v-1h1zM447 603h3v1h1v1h1v3h-1v1h-1v1h-3v-1h-1v-1h-1v-3h1v-1h1zM450 603h3v1h1v1h1v3h-1v1h-1v1h-3v-1h-1v-1h-1v-3h1v-1h1zM454 603h3v1h1v1h1v3h-1v1h-1v1h-3v-1h-1v-1h-1v-3h1v-1h1zM457 603h3v1h1v1h1v3h-1v1h-1v1h-3v-1h-1v-1h-1v-3h1v-1h1zM461 603h3v1h1v1h1v3h-1v1h-1v1h-3v-1h-1v-1h-1v-3h1v-1h1zM464 603h3v1h1v1h1v3h-1v1h-1v1h-3v-1h-1v-1h-1v-3h1v-1h1zM467 603h3v1h1v1h1v3h-1v1h-1v1h-3v-1h-1v-1h-1v-3h1v-1h1zM471 603h3v1h1v1h1v3h-1v1h-1v1h-3v-1h-1v-1h-1v-3h1v-1h1zM474 603h3v1h1v1h1v3h-1v1h-1v1h-3v-1h-1v-1h-1v-3h1v-1h1zM478 603h3v1h1v1h1v3h-1v1h-1v1h-3v-1h-1v-1h-1v-3h1v-1h1zM481 603h3v1h1v1h1v3h-1v1h-1v1h-3v-1h-1v-1h-1v-3h1v-1h1zM485 603h3v1h1v1h1v3h-1v1h-1v1h-3v-1h-1v-1h-1v-3h1v-1h1zM488 603h3v1h1v1h1v3h-1v1h-1v1h-3v-1h-1v-1h-1v-3h1v-1h1zM492 603h3v1h1v1h1v3h-1v1h-1v1h-3v-1h-1v-1h-1v-3h1v-1h1zM495 603h3v1h1v1h1v3h-1v1h-1v1h-3v-1h-1v-1h-1v-3h1v-1h1zM499 603h3v1h1v1h1v3h-1v1h-1v1h-3v-1h-1v-1h-1v-3h1v-1h1zM502 603h3v1h1v1h1v3h-1v1h-1v1h-3v-1h-1v-1h-1v-3h1v-1h1zM506 603h3v1h1v1h1v3h-1v1h-1v1h-3v-1h-1v-1h-1v-3h1v-1h1zM509 603h3v1h1v1h1v3h-1v1h-1v1h-3v-1h-1v-1h-1v-3h1v-1h1zM512 603h3v1h1v1h1v3h-1v1h-1v1h-3v-1h-1v-1h-1v-3h1v-1h1zM516 603h3v1h1v1h1v3h-1v1h-1v1h-3v-1h-1v-1h-1v-3h1v-1h1zM519 603h3v1h1v1h1v3h-1v1h-1v1h-3v-1h-1v-1h-1v-3h1v-1h1zM523 603h3v1h1v1h1v3h-1v1h-1v1h-3v-1h-1v-1h-1v-3h1v-1h1zM526 603h3v1h1v1h1v3h-1v1h-1v1h-3v-1h-1v-1h-1v-3h1v-1h1zM530 603h3v1h1v1h1v3h-1v1h-1v1h-3v-1h-1v-1h-1v-3h1v-1h1zM533 603h3v1h1v1h1v3h-1v1h-1v1h-3v-1h-1v-1h-1v-3h1v-1h1zM537 603h3v1h1v1h1v3h-1v1h-1v1h-3v-1h-1v-1h-1v-3h1v-1h1zM540 603h3v1h1v1h1v3h-1v1h-1v1h-3v-1h-1v-1h-1v-3h1v-1h1zM544 603h3v1h1v1h1v3h-1v1h-1v1h-3v-1h-1v-1h-1v-3h1v-1h1zM547 603h3v1h1v1h1v3h-1v1h-1v1h-3v-1h-1v-1h-1v-3h1v-1h1zM550 603h3v1h1v1h1v3h-1v1h-1v1h-3v-1h-1v-1h-1v-3h1v-1h1zM554 603h3v1h1v1h1v3h-1v1h-1v1h-3v-1h-1v-1h-1v-3h1v-1h1zM557 603h3v1h1v1h1v3h-1v1h-1v1h-3v-1h-1v-1h-1v-3h1v-1h1zM561 603h3v1h1v1h1v3h-1v1h-1v1h-3v-1h-1v-1h-1v-3h1v-1h1zM564 603h3v1h1v1h1v3h-1v1h-1v1h-3v-1h-1v-1h-1v-3h1v-1h1zM568 603h3v1h1v1h1v3h-1v1h-1v1h-3v-1h-1v-1h-1v-3h1v-1h1zM571 603h3v1h1v1h1v3h-1v1h-1v1h-3v-1h-1v-1h-1v-3h1v-1h1zM575 603h3v1h1v1h1v3h-1v1h-1v1h-3v-1h-1v-1h-1v-3h1v-1h1zM578 603h3v1h1v1h1v3h-1v1h-1v1h-3v-1h-1v-1h-1v-3h1v-1h1zM582 603h3v1h1v1h1v3h-1v1h-1v1h-3v-1h-1v-1h-1v-3h1v-1h1zM585 603h3v1h1v1h1v3h-1v1h-1v1h-3v-1h-1v-1h-1v-3h1v-1h1zM589 603h3v1h1v1h1v3h-1v1h-1v1h-3v-1h-1v-1h-1v-3h1v-1h1zM592 603h3v1h1v1h1v3h-1v1h-1v1h-3v-1h-1v-1h-1v-3h1v-1h1zM595 603h3v1h1v1h1v3h-1v1h-1v1h-3v-1h-1v-1h-1v-3h1v-1h1zM599 603h3v1h1v1h1v3h-1v1h-1v1h-3v-1h-1v-1h-1v-3h1v-1h1zM602 603h3v1h1v1h1v3h-1v1h-1v1h-3v-1h-1v-1h-1v-3h1v-1h1zM606 603h3v1h1v1h1v3h-1v1h-1v1h-3v-1h-1v-1h-1v-3h1v-1h1zM609 603h3v1h1v1h1v3h-1v1h-1v1h-3v-1h-1v-1h-1v-3h1v-1h1zM613 603h3v1h1v1h1v3h-1v1h-1v1h-3v-1h-1v-1h-1v-3h1v-1h1zM616 603h3v1h1v1h1v3h-1v1h-1v1h-3v-1h-1v-1h-1v-3h1v-1h1zM620 603h3v1h1v1h1v3h-1v1h-1v1h-3v-1h-1v-1h-1v-3h1v-1h1zM623 603h3v1h1v1h1v3h-1v1h-1v1h-3v-1h-1v-1h-1v-3h1v-1h1zM627 603h3v1h1v1h1v3h-1v1h-1v1h-3v-1h-1v-1h-1v-3h1v-1h1zM630 603h3v1h1v1h1v3h-1v1h-1v1h-3v-1h-1v-1h-1v-3h1v-1h1zM633 603h3v1h1v1h1v3h-1v1h-1v1h-3v-1h-1v-1h-1v-3h1v-1h1zM637 603h3v1h1v1h1v3h-1v1h-1v1h-3v-1h-1v-1h-1v-3h1v-1h1zM640 603h3v1h1v1h1v3h-1v1h-1v1h-3v-1h-1v-1h-1v-3h1v-1h1zM644 603h3v1h1v1h1v3h-1v1h-1v1h-3v-1h-1v-1h-1v-3h1v-1h1zM647 603h3v1h1v1h1v3h-1v1h-1v1h-3v-1h-1v-1h-1v-3h1v-1h1zM651 603h3v1h1v1h1v3h-1v1h-1v1h-3v-1h-1v-1h-1v-3h1v-1h1zM654 603h3v1h1v1h1v3h-1v1h-1v1h-3v-1h-1v-1h-1v-3h1v-1h1zM658 603h3v1h1v1h1v3h-1v1h-1v1h-3v-1h-1v-1h-1v-3h1v-1h1zM661 603h3v1h1v1h1v3h-1v1h-1v1h-3v-1h-1v-1h-1v-3h1v-1h1zM665 603h3v1h1v1h1v3h-1v1h-1v1h-3v-1h-1v-1h-1v-3h1v-1h1zM668 603h3v1h1v1h1v3h-1v1h-1v1h-3v-1h-1v-1h-1v-3h1v-1h1zM672 603h3v1h1v1h1v3h-1v1h-1v1h-3v-1h-1v-1h-1v-3h1v-1h1zM675 603h3v1h1v1h1v3h-1v1h-1v1h-3v-1h-1v-1h-1v-3h1v-1h1zM678 603h3v1h1v1h1v3h-1v1h-1v1h-3v-1h-1v-1h-1v-3h1v-1h1zM682 603h3v1h1v1h1v3h-1v1h-1v1h-3v-1h-1v-1h-1v-3h1v-1h1zM685 603h3v1h1v1h1v3h-1v1h-1v1h-3v-1h-1v-1h-1v-3h1v-1h1zM689 603h3v1h1v1h1v3h-1v1h-1v1h-3v-1h-1v-1h-1v-3h1v-1h1zM692 603h3v1h1v1h1v3h-1v1h-1v1h-3v-1h-1v-1h-1v-3h1v-1h1zM696 603h3v1h1v1h1v3h-1v1h-1v1h-3v-1h-1v-1h-1v-3h1v-1h1zM699 603h3v1h1v1h1v3h-1v1h-1v1h-3v-1h-1v-1h-1v-3h1v-1h1zM703 603h3v1h1v1h1v3h-1v1h-1v1h-3v-1h-1v-1h-1v-3h1v-1h1zM706 603h3v1h1v1h1v3h-1v1h-1v1h-3v-1h-1v-1h-1v-3h1v-1h1zM710 603h3v1h1v1h1v3h-1v1h-1v1h-3v-1h-1v-1h-1v-3h1v-1h1zM713 603h3v1h1v1h1v3h-1v1h-1v1h-3v-1h-1v-1h-1v-3h1v-1h1zM717 603h3v1h1v1h1v3h-1v1h-1v1h-3v-1h-1v-1h-1v-3h1v-1h1zM720 603h3v1h1v1h1v3h-1v1h-1v1h-3v-1h-1v-1h-1v-3h1v-1h1zM723 603h3v1h1v1h1v3h-1v1h-1v1h-3v-1h-1v-1h-1v-3h1v-1h1zM727 603h3v1h1v1h1v3h-1v1h-1v1h-3v-1h-1v-1h-1v-3h1v-1h1zM730 603h3v1h1v1h1v3h-1v1h-1v1h-3v-1h-1v-1h-1v-3h1v-1h1zM734 603h3v1h1v1h1v3h-1v1h-1v1h-3v-1h-1v-1h-1v-3h1v-1h1zM737 603h3v1h1v1h1v3h-1v1h-1v1h-3v-1h-1v-1h-1v-3h1v-1h1zM741 603h3v1h1v1h1v3h-1v1h-1v1h-3v-1h-1v-1h-1v-3h1v-1h1zM744 603h3v1h1v1h1v3h-1v1h-1v1h-3v-1h-1v-1h-1v-3h1v-1h1zM748 603h3v1h1v1h1v3h-1v1h-1v1h-3v-1h-1v-1h-1v-3h1v-1h1zM751 603h3v1h1v1h1v3h-1v1h-1v1h-3v-1h-1v-1h-1v-3h1v-1h1zM754 600h3v1h1v1h1v3h-1v1h-1v1h-3v-1h-1v-1h-1v-3h1v-1h1zM757 600h3v1h1v1h1v3h-1v1h-1v1h-3v-1h-1v-1h-1v-3h1v-1h1zM761 600h3v1h1v1h1v3h-1v1h-1v1h-3v-1h-1v-1h-1v-3h1v-1h1zM764 600h3v1h1v1h1v3h-1v1h-1v1h-3v-1h-1v-1h-1v-3h1v-1h1zM768 600h3v1h1v1h1v3h-1v1h-1v1h-3v-1h-1v-1h-1v-3h1v-1h1zM771 600h3v1h1v1h1v3h-1v1h-1v1h-3v-1h-1v-1h-1v-3h1v-1h1zM775 600h3v1h1v1h1v3h-1v1h-1v1h-3v-1h-1v-1h-1v-3h1v-1h1zM778 600h3v1h1v1h1v3h-1v1h-1v1h-3v-1h-1v-1h-1v-3h1v-1h1zM782 600h3v1h1v1h1v3h-1v1h-1v1h-3v-1h-1v-1h-1v-3h1v-1h1zM786 600h3v1h1v1h1v3h-1v1h-1v1h-3v-1h-1v-1h-1v-3h1v-1h1zM790 599h3v1h1v1h1v3h-1v1h-1v1h-3v-1h-1v-1h-1v-3h1v-1h1zM795 603h3v1h1v1h1v3h-1v1h-1v1h-3v-1h-1v-1h-1v-3h1v-1h1zM798 603h3v1h1v1h1v3h-1v1h-1v1h-3v-1h-1v-1h-1v-3h1v-1h1zM802 603h3v1h1v1h1v3h-1v1h-1v1h-3v-1h-1v-1h-1v-3h1v-1h1zM805 603h3v1h1v1h1v3h-1v1h-1v1h-3v-1h-1v-1h-1v-3h1v-1h1zM809 603h3v1h1v1h1v3h-1v1h-1v1h-3v-1h-1v-1h-1v-3h1v-1h1zM812 603h3v1h1v1h1v3h-1v1h-1v1h-3v-1h-1v-1h-1v-3h1v-1h1zM815 603h3v1h1v1h1v3h-1v1h-1v1h-3v-1h-1v-1h-1v-3h1v-1h1zM819 603h3v1h1v1h1v3h-1v1h-1v1h-3v-1h-1v-1h-1v-3h1v-1h1zM822 603h3v1h1v1h1v3h-1v1h-1v1h-3v-1h-1v-1h-1v-3h1v-1h1zM826 603h3v1h1v1h1v3h-1v1h-1v1h-3v-1h-1v-1h-1v-3h1v-1h1zM829 603h3v1h1v1h1v3h-1v1h-1v1h-3v-1h-1v-1h-1v-3h1v-1h1zM833 603h3v1h1v1h1v3h-1v1h-1v1h-3v-1h-1v-1h-1v-3h1v-1h1zM836 603h3v1h1v1h1v3h-1v1h-1v1h-3v-1h-1v-1h-1v-3h1v-1h1zM840 603h3v1h1v1h1v3h-1v1h-1v1h-3v-1h-1v-1h-1v-3h1v-1h1zM843 603h3v1h1v1h1v3h-1v1h-1v1h-3v-1h-1v-1h-1v-3h1v-1h1zM847 603h3v1h1v1h1v3h-1v1h-1v1h-3v-1h-1v-1h-1v-3h1v-1h1zM850 603h3v1h1v1h1v3h-1v1h-1v1h-3v-1h-1v-1h-1v-3h1v-1h1zM854 603h3v1h1v1h1v3h-1v1h-1v1h-3v-1h-1v-1h-1v-3h1v-1h1zM857 603h3v1h1v1h1v3h-1v1h-1v1h-3v-1h-1v-1h-1v-3h1v-1h1zM860 603h3v1h1v1h1v3h-1v1h-1v1h-3v-1h-1v-1h-1v-3h1v-1h1zM864 603h3v1h1v1h1v3h-1v1h-1v1h-3v-1h-1v-1h-1v-3h1v-1h1zM867 603h3v1h1v1h1v3h-1v1h-1v1h-3v-1h-1v-1h-1v-3h1v-1h1zM871 603h3v1h1v1h1v3h-1v1h-1v1h-3v-1h-1v-1h-1v-3h1v-1h1zM874 603h3v1h1v1h1v3h-1v1h-1v1h-3v-1h-1v-1h-1v-3h1v-1h1zM878 603h3v1h1v1h1v3h-1v1h-1v1h-3v-1h-1v-1h-1v-3h1v-1h1zM881 603h3v1h1v1h1v3h-1v1h-1v1h-3v-1h-1v-1h-1v-3h1v-1h1zM885 603h3v1h1v1h1v3h-1v1h-1v1h-3v-1h-1v-1h-1v-3h1v-1h1zM888 603h3v1h1v1h1v3h-1v1h-1v1h-3v-1h-1v-1h-1v-3h1v-1h1zM892 603h3v1h1v1h1v3h-1v1h-1v1h-3v-1h-1v-1h-1v-3h1v-1h1zM895 603h3v1h1v1h1v3h-1v1h-1v1h-3v-1h-1v-1h-1v-3h1v-1h1zM899 603h3v1h1v1h1v3h-1v1h-1v1h-3v-1h-1v-1h-1v-3h1v-1h1zM902 602h3v1h1v1h1v3h-1v1h-1v1h-3v-1h-1v-1h-1v-3h1v-1h1zM905 602h3v1h1v1h1v3h-1v1h-1v1h-3v-1h-1v-1h-1v-3h1v-1h1zM909 602h3v1h1v1h1v3h-1v1h-1v1h-3v-1h-1v-1h-1v-3h1v-1h1zM913 602h3v1h1v1h1v3h-1v1h-1v1h-3v-1h-1v-1h-1v-3h1v-1h1zM917 602h3v1h1v1h1v3h-1v1h-1v1h-3v-1h-1v-1h-1v-3h1v-1h1zM919 601h3v1h1v1h1v3h-1v1h-1v1h-3v-1h-1v-1h-1v-3h1v-1h1zM923 605h3v1h1v1h1v3h-1v1h-1v1h-3v-1h-1v-1h-1v-3h1v-1h1zM927 605h3v1h1v1h1v3h-1v1h-1v1h-3v-1h-1v-1h-1v-3h1v-1h1zM931 606h3v1h1v1h1v3h-1v1h-1v1h-3v-1h-1v-1h-1v-3h1v-1h1zM933 610h3v1h1v1h1v3h-1v1h-1v1h-3v-1h-1v-1h-1v-3h1v-1h1zM937 610h3v1h1v1h1v3h-1v1h-1v1h-3v-1h-1v-1h-1v-3h1v-1h1zM940 610h3v1h1v1h1v3h-1v1h-1v1h-3v-1h-1v-1h-1v-3h1v-1h1zM944 610h3v1h1v1h1v3h-1v1h-1v1h-3v-1h-1v-1h-1v-3h1v-1h1zM948 610h3v1h1v1h1v3h-1v1h-1v1h-3v-1h-1v-1h-1v-3h1v-1h1zM952 610h3v1h1v1h1v3h-1v1h-1v1h-3v-1h-1v-1h-1v-3h1v-1h1zM955 610h3v1h1v1h1v3h-1v1h-1v1h-3v-1h-1v-1h-1v-3h1v-1h1zM958 612h3v1h1v1h1v3h-1v1h-1v1h-3v-1h-1v-1h-1v-3h1v-1h1zM962 612h3v1h1v1h1v3h-1v1h-1v1h-3v-1h-1v-1h-1v-3h1v-1h1zM966 613h3v1h1v1h1v3h-1v1h-1v1h-3v-1h-1v-1h-1v-3h1v-1h1zM968 618h3v1h1v1h1v3h-1v1h-1v1h-3v-1h-1v-1h-1v-3h1v-1h1zM972 618h3v1h1v1h1v3h-1v1h-1v1h-3v-1h-1v-1h-1v-3h1v-1h1zM975 618h3v1h1v1h1v3h-1v1h-1v1h-3v-1h-1v-1h-1v-3h1v-1h1zM979 618h3v1h1v1h1v3h-1v1h-1v1h-3v-1h-1v-1h-1v-3h1v-1h1zM982 618h3v1h1v1h1v3h-1v1h-1v1h-3v-1h-1v-1h-1v-3h1v-1h1zM986 618h3v1h1v1h1v3h-1v1h-1v1h-3v-1h-1v-1h-1v-3h1v-1h1zM989 618h3v1h1v1h1v3h-1v1h-1v1h-3v-1h-1v-1h-1v-3h1v-1h1zM993 618h3v1h1v1h1v3h-1v1h-1v1h-3v-1h-1v-1h-1v-3h1v-1h1zM996 618h3v1h1v1h1v3h-1v1h-1v1h-3v-1h-1v-1h-1v-3h1v-1h1zM999 618h3v1h1v1h1v3h-1v1h-1v1h-3v-1h-1v-1h-1v-3h1v-1h1zM1003 618h3v1h1v1h1v3h-1v1h-1v1h-3v-1h-1v-1h-1v-3h1v-1h1zM1006 618h3v1h1v1h1v3h-1v1h-1v1h-3v-1h-1v-1h-1v-3h1v-1h1zM1010 618h3v1h1v1h1v3h-1v1h-1v1h-3v-1h-1v-1h-1v-3h1v-1h1zM1013 618h3v1h1v1h1v3h-1v1h-1v1h-3v-1h-1v-1h-1v-3h1v-1h1zM1017 618h3v1h1v1h1v3h-1v1h-1v1h-3v-1h-1v-1h-1v-3h1v-1h1zM1020 618h3v1h1v1h1v3h-1v1h-1v1h-3v-1h-1v-1h-1v-3h1v-1h1zM1024 618h3v1h1v1h1v3h-1v1h-1v1h-3v-1h-1v-1h-1v-3h1v-1h1zM1027 618h3v1h1v1h1v3h-1v1h-1v1h-3v-1h-1v-1h-1v-3h1v-1h1zM1031 618h3v1h1v1h1v3h-1v1h-1v1h-3v-1h-1v-1h-1v-3h1v-1h1zM1034 618h3v1h1v1h1v3h-1v1h-1v1h-3v-1h-1v-1h-1v-3h1v-1h1zM1037 618h3v1h1v1h1v3h-1v1h-1v1h-3v-1h-1v-1h-1v-3h1v-1h1zM1041 618h3v1h1v1h1v3h-1v1h-1v1h-3v-1h-1v-1h-1v-3h1v-1h1zM1044 618h3v1h1v1h1v3h-1v1h-1v1h-3v-1h-1v-1h-1v-3h1v-1h1zM1048 618h3v1h1v1h1v3h-1v1h-1v1h-3v-1h-1v-1h-1v-3h1v-1h1zM1051 618h3v1h1v1h1v3h-1v1h-1v1h-3v-1h-1v-1h-1v-3h1v-1h1zM1055 618h3v1h1v1h1v3h-1v1h-1v1h-3v-1h-1v-1h-1v-3h1v-1h1zM1058 618h3v1h1v1h1v3h-1v1h-1v1h-3v-1h-1v-1h-1v-3h1v-1h1zM1062 618h3v1h1v1h1v3h-1v1h-1v1h-3v-1h-1v-1h-1v-3h1v-1h1zM1065 618h3v1h1v1h1v3h-1v1h-1v1h-3v-1h-1v-1h-1v-3h1v-1h1zM1069 618h3v1h1v1h1v3h-1v1h-1v1h-3v-1h-1v-1h-1v-3h1v-1h1zM1072 618h3v1h1v1h1v3h-1v1h-1v1h-3v-1h-1v-1h-1v-3h1v-1h1zM1075 618h3v1h1v1h1v3h-1v1h-1v1h-3v-1h-1v-1h-1v-3h1v-1h1zM1079 618h3v1h1v1h1v3h-1v1h-1v1h-3v-1h-1v-1h-1v-3h1v-1h1zM1082 618h3v1h1v1h1v3h-1v1h-1v1h-3v-1h-1v-1h-1v-3h1v-1h1zM1086 618h3v1h1v1h1v3h-1v1h-1v1h-3v-1h-1v-1h-1v-3h1v-1h1zM1089 618h3v1h1v1h1v3h-1v1h-1v1h-3v-1h-1v-1h-1v-3h1v-1h1zM1093 618h3v1h1v1h1v3h-1v1h-1v1h-3v-1h-1v-1h-1v-3h1v-1h1zM1096 618h3v1h1v1h1v3h-1v1h-1v1h-3v-1h-1v-1h-1v-3h1v-1h1zM1100 618h3v1h1v1h1v3h-1v1h-1v1h-3v-1h-1v-1h-1v-3h1v-1h1zM1103 618h3v1h1v1h1v3h-1v1h-1v1h-3v-1h-1v-1h-1v-3h1v-1h1zM1107 618h3v1h1v1h1v3h-1v1h-1v1h-3v-1h-1v-1h-1v-3h1v-1h1zM1110 618h3v1h1v1h1v3h-1v1h-1v1h-3v-1h-1v-1h-1v-3h1v-1h1zM1113 618h3v1h1v1h1v3h-1v1h-1v1h-3v-1h-1v-1h-1v-3h1v-1h1zM1117 618h3v1h1v1h1v3h-1v1h-1v1h-3v-1h-1v-1h-1v-3h1v-1h1zM1120 618h3v1h1v1h1v3h-1v1h-1v1h-3v-1h-1v-1h-1v-3h1v-1h1zM1124 618h3v1h1v1h1v3h-1v1h-1v1h-3v-1h-1v-1h-1v-3h1v-1h1zM1127 618h3v1h1v1h1v3h-1v1h-1v1h-3v-1h-1v-1h-1v-3h1v-1h1zM1131 618h3v1h1v1h1v3h-1v1h-1v1h-3v-1h-1v-1h-1v-3h1v-1h1zM1134 618h3v1h1v1h1v3h-1v1h-1v1h-3v-1h-1v-1h-1v-3h1v-1h1zM1138 618h3v1h1v1h1v3h-1v1h-1v1h-3v-1h-1v-1h-1v-3h1v-1h1zM1141 618h3v1h1v1h1v3h-1v1h-1v1h-3v-1h-1v-1h-1v-3h1v-1h1zM1144 618h3v1h1v1h1v3h-1v1h-1v1h-3v-1h-1v-1h-1v-3h1v-1h1zM1148 618h3v1h1v1h1v3h-1v1h-1v1h-3v-1h-1v-1h-1v-3h1v-1h1zM1151 618h3v1h1v1h1v3h-1v1h-1v1h-3v-1h-1v-1h-1v-3h1v-1h1zM1155 618h3v1h1v1h1v3h-1v1h-1v1h-3v-1h-1v-1h-1v-3h1v-1h1zM1158 618h3v1h1v1h1v3h-1v1h-1v1h-3v-1h-1v-1h-1v-3h1v-1h1zM1162 618h3v1h1v1h1v3h-1v1h-1v1h-3v-1h-1v-1h-1v-3h1v-1h1zM1165 618h3v1h1v1h1v3h-1v1h-1v1h-3v-1h-1v-1h-1v-3h1v-1h1zM1169 618h3v1h1v1h1v3h-1v1h-1v1h-3v-1h-1v-1h-1v-3h1v-1h1zM1172 618h3v1h1v1h1v3h-1v1h-1v1h-3v-1h-1v-1h-1v-3h1v-1h1zM1176 618h3v1h1v1h1v3h-1v1h-1v1h-3v-1h-1v-1h-1v-3h1v-1h1zM1179 618h3v1h1v1h1v3h-1v1h-1v1h-3v-1h-1v-1h-1v-3h1v-1h1zM1182 618h3v1h1v1h1v3h-1v1h-1v1h-3v-1h-1v-1h-1v-3h1v-1h1zM1186 618h3v1h1v1h1v3h-1v1h-1v1h-3v-1h-1v-1h-1v-3h1v-1h1zM1189 618h3v1h1v1h1v3h-1v1h-1v1h-3v-1h-1v-1h-1v-3h1v-1h1zM1193 618h3v1h1v1h1v3h-1v1h-1v1h-3v-1h-1v-1h-1v-3h1v-1h1zM1196 618h3v1h1v1h1v3h-1v1h-1v1h-3v-1h-1v-1h-1v-3h1v-1h1zM1200 618h3v1h1v1h1v3h-1v1h-1v1h-3v-1h-1v-1h-1v-3h1v-1h1zM1203 618h3v1h1v1h1v3h-1v1h-1v1h-3v-1h-1v-1h-1v-3h1v-1h1zM1207 618h3v1h1v1h1v3h-1v1h-1v1h-3v-1h-1v-1h-1v-3h1v-1h1zM1210 618h3v1h1v1h1v3h-1v1h-1v1h-3v-1h-1v-1h-1v-3h1v-1h1zM1214 618h3v1h1v1h1v3h-1v1h-1v1h-3v-1h-1v-1h-1v-3h1v-1h1zM1217 618h3v1h1v1h1v3h-1v1h-1v1h-3v-1h-1v-1h-1v-3h1v-1h1zM1220 618h3v1h1v1h1v3h-1v1h-1v1h-3v-1h-1v-1h-1v-3h1v-1h1zM1224 618h3v1h1v1h1v3h-1v1h-1v1h-3v-1h-1v-1h-1v-3h1v-1h1zM1227 618h3v1h1v1h1v3h-1v1h-1v1h-3v-1h-1v-1h-1v-3h1v-1h1zM1231 618h3v1h1v1h1v3h-1v1h-1v1h-3v-1h-1v-1h-1v-3h1v-1h1zM1234 618h3v1h1v1h1v3h-1v1h-1v1h-3v-1h-1v-1h-1v-3h1v-1h1zM1238 618h3v1h1v1h1v3h-1v1h-1v1h-3v-1h-1v-1h-1v-3h1v-1h1zM1241 618h3v1h1v1h1v3h-1v1h-1v1h-3v-1h-1v-1h-1v-3h1v-1h1zM1245 618h3v1h1v1h1v3h-1v1h-1v1h-3v-1h-1v-1h-1v-3h1v-1h1zM1248 618h3v1h1v1h1v3h-1v1h-1v1h-3v-1h-1v-1h-1v-3h1v-1h1zM1252 618h3v1h1v1h1v3h-1v1h-1v1h-3v-1h-1v-1h-1v-3h1v-1h1zM1255 618h3v1h1v1h1v3h-1v1h-1v1h-3v-1h-1v-1h-1v-3h1v-1h1zM1258 618h3v1h1v1h1v3h-1v1h-1v1h-3v-1h-1v-1h-1v-3h1v-1h1zM1262 618h3v1h1v1h1v3h-1v1h-1v1h-3v-1h-1v-1h-1v-3h1v-1h1zM1265 618h3v1h1v1h1v3h-1v1h-1v1h-3v-1h-1v-1h-1v-3h1v-1h1zM1269 618h3v1h1v1h1v3h-1v1h-1v1h-3v-1h-1v-1h-1v-3h1v-1h1zM1272 618h3v1h1v1h1v3h-1v1h-1v1h-3v-1h-1v-1h-1v-3h1v-1h1zM1276 618h3v1h1v1h1v3h-1v1h-1v1h-3v-1h-1v-1h-1v-3h1v-1h1zM1279 618h3v1h1v1h1v3h-1v1h-1v1h-3v-1h-1v-1h-1v-3h1v-1h1zM1283 618h3v1h1v1h1v3h-1v1h-1v1h-3v-1h-1v-1h-1v-3h1v-1h1zM1286 618h3v1h1v1h1v3h-1v1h-1v1h-3v-1h-1v-1h-1v-3h1v-1h1zM1290 618h3v1h1v1h1v3h-1v1h-1v1h-3v-1h-1v-1h-1v-3h1v-1h1zM1293 618h3v1h1v1h1v3h-1v1h-1v1h-3v-1h-1v-1h-1v-3h1v-1h1zM1296 618h3v1h1v1h1v3h-1v1h-1v1h-3v-1h-1v-1h-1v-3h1v-1h1zM1300 618h3v1h1v1h1v3h-1v1h-1v1h-3v-1h-1v-1h-1v-3h1v-1h1zM1303 618h3v1h1v1h1v3h-1v1h-1v1h-3v-1h-1v-1h-1v-3h1v-1h1zM1307 618h3v1h1v1h1v3h-1v1h-1v1h-3v-1h-1v-1h-1v-3h1v-1h1zM1310 618h3v1h1v1h1v3h-1v1h-1v1h-3v-1h-1v-1h-1v-3h1v-1h1zM1314 618h3v1h1v1h1v3h-1v1h-1v1h-3v-1h-1v-1h-1v-3h1v-1h1zM1317 618h3v1h1v1h1v3h-1v1h-1v1h-3v-1h-1v-1h-1v-3h1v-1h1zM1321 618h3v1h1v1h1v3h-1v1h-1v1h-3v-1h-1v-1h-1v-3h1v-1h1zM1324 618h3v1h1v1h1v3h-1v1h-1v1h-3v-1h-1v-1h-1v-3h1v-1h1zM1327 618h3v1h1v1h1v3h-1v1h-1v1h-3v-1h-1v-1h-1v-3h1v-1h1zM1331 618h3v1h1v1h1v3h-1v1h-1v1h-3v-1h-1v-1h-1v-3h1v-1h1zM1334 618h3v1h1v1h1v3h-1v1h-1v1h-3v-1h-1v-1h-1v-3h1v-1h1zM1338 618h3v1h1v1h1v3h-1v1h-1v1h-3v-1h-1v-1h-1v-3h1v-1h1zM1341 618h3v1h1v1h1v3h-1v1h-1v1h-3v-1h-1v-1h-1v-3h1v-1h1zM1345 618h3v1h1v1h1v3h-1v1h-1v1h-3v-1h-1v-1h-1v-3h1v-1h1zM1348 618h3v1h1v1h1v3h-1v1h-1v1h-3v-1h-1v-1h-1v-3h1v-1h1zM1352 618h3v1h1v1h1v3h-1v1h-1v1h-3v-1h-1v-1h-1v-3h1v-1h1zM1355 618h3v1h1v1h1v3h-1v1h-1v1h-3v-1h-1v-1h-1v-3h1v-1h1zM1359 618h3v1h1v1h1v3h-1v1h-1v1h-3v-1h-1v-1h-1v-3h1v-1h1zM1362 618h3v1h1v1h1v3h-1v1h-1v1h-3v-1h-1v-1h-1v-3h1v-1h1zM1365 618h3v1h1v1h1v3h-1v1h-1v1h-3v-1h-1v-1h-1v-3h1v-1h1zM1369 618h3v1h1v1h1v3h-1v1h-1v1h-3v-1h-1v-1h-1v-3h1v-1h1zM1372 618h3v1h1v1h1v3h-1v1h-1v1h-3v-1h-1v-1h-1v-3h1v-1h1zM1376 618h3v1h1v1h1v3h-1v1h-1v1h-3v-1h-1v-1h-1v-3h1v-1h1zM1379 618h3v1h1v1h1v3h-1v1h-1v1h-3v-1h-1v-1h-1v-3h1v-1h1zM1383 618h3v1h1v1h1v3h-1v1h-1v1h-3v-1h-1v-1h-1v-3h1v-1h1zM1386 618h3v1h1v1h1v3h-1v1h-1v1h-3v-1h-1v-1h-1v-3h1v-1h1zM1390 618h3v1h1v1h1v3h-1v1h-1v1h-3v-1h-1v-1h-1v-3h1v-1h1zM1393 618h3v1h1v1h1v3h-1v1h-1v1h-3v-1h-1v-1h-1v-3h1v-1h1zM1397 618h3v1h1v1h1v3h-1v1h-1v1h-3v-1h-1v-1h-1v-3h1v-1h1zM1400 618h3v1h1v1h1v3h-1v1h-1v1h-3v-1h-1v-1h-1v-3h1v-1h1zM1403 618h3v1h1v1h1v3h-1v1h-1v1h-3v-1h-1v-1h-1v-3h1v-1h1zM1407 618h3v1h1v1h1v3h-1v1h-1v1h-3v-1h-1v-1h-1v-3h1v-1h1zM1410 618h3v1h1v1h1v3h-1v1h-1v1h-3v-1h-1v-1h-1v-3h1v-1h1zM1414 618h3v1h1v1h1v3h-1v1h-1v1h-3v-1h-1v-1h-1v-3h1v-1h1zM1417 511h3v1h1v1h1v3h-1v1h-1v1h-3v-1h-1v-1h-1v-3h1v-1h1zM1420 511h3v1h1v1h1v3h-1v1h-1v1h-3v-1h-1v-1h-1v-3h1v-1h1zM1423 511h3v1h1v1h1v3h-1v1h-1v1h-3v-1h-1v-1h-1v-3h1v-1h1zM1427 511h3v1h1v1h1v3h-1v1h-1v1h-3v-1h-1v-1h-1v-3h1v-1h1zM1430 511h3v1h1v1h1v3h-1v1h-1v1h-3v-1h-1v-1h-1v-3h1v-1h1zM1434 511h3v1h1v1h1v3h-1v1h-1v1h-3v-1h-1v-1h-1v-3h1v-1h1zM1437 511h3v1h1v1h1v3h-1v1h-1v1h-3v-1h-1v-1h-1v-3h1v-1h1zM1440 511h3v1h1v1h1v3h-1v1h-1v1h-3v-1h-1v-1h-1v-3h1v-1h1zM1444 511h3v1h1v1h1v3h-1v1h-1v1h-3v-1h-1v-1h-1v-3h1v-1h1zM1447 511h3v1h1v1h1v3h-1v1h-1v1h-3v-1h-1v-1h-1v-3h1v-1h1zM1451 511h3v1h1v1h1v3h-1v1h-1v1h-3v-1h-1v-1h-1v-3h1v-1h1zM1454 511h3v1h1v1h1v3h-1v1h-1v1h-3v-1h-1v-1h-1v-3h1v-1h1zM1458 511h3v1h1v1h1v3h-1v1h-1v1h-3v-1h-1v-1h-1v-3h1v-1h1zM1461 511h3v1h1v1h1v3h-1v1h-1v1h-3v-1h-1v-1h-1v-3h1v-1h1zM1464 511h3v1h1v1h1v3h-1v1h-1v1h-3v-1h-1v-1h-1v-3h1v-1h1zM1468 511h3v1h1v1h1v3h-1v1h-1v1h-3v-1h-1v-1h-1v-3h1v-1h1zM1471 511h3v1h1v1h1v3h-1v1h-1v1h-3v-1h-1v-1h-1v-3h1v-1h1zM1475 510h3v1h1v1h1v3h-1v1h-1v1h-3v-1h-1v-1h-1v-3h1v-1h1zM1479 510h3v1h1v1h1v3h-1v1h-1v1h-3v-1h-1v-1h-1v-3h1v-1h1zM1482 510h3v1h1v1h1v3h-1v1h-1v1h-3v-1h-1v-1h-1v-3h1v-1h1zM1485 511h3v1h1v1h1v3h-1v1h-1v1h-3v-1h-1v-1h-1v-3h1v-1h1zM1489 511h3v1h1v1h1v3h-1v1h-1v1h-3v-1h-1v-1h-1v-3h1v-1h1zM1492 511h3v1h1v1h1v3h-1v1h-1v1h-3v-1h-1v-1h-1v-3h1v-1h1zM1495 512h3v1h1v1h1v3h-1v1h-1v1h-3v-1h-1v-1h-1v-3h1v-1h1zM1499 512h3v1h1v1h1v3h-1v1h-1v1h-3v-1h-1v-1h-1v-3h1v-1h1zM1502 511h3v1h1v1h1v3h-1v1h-1v1h-3v-1h-1v-1h-1v-3h1v-1h1zM1506 511h3v1h1v1h1v3h-1v1h-1v1h-3v-1h-1v-1h-1v-3h1v-1h1zM1509 511h3v1h1v1h1v3h-1v1h-1v1h-3v-1h-1v-1h-1v-3h1v-1h1zM1513 511h3v1h1v1h1v3h-1v1h-1v1h-3v-1h-1v-1h-1v-3h1v-1h1zM1516 511h3v1h1v1h1v3h-1v1h-1v1h-3v-1h-1v-1h-1v-3h1v-1h1zM1520 511h3v1h1v1h1v3h-1v1h-1v1h-3v-1h-1v-1h-1v-3h1v-1h1zM1523 511h3v1h1v1h1v3h-1v1h-1v1h-3v-1h-1v-1h-1v-3h1v-1h1zM1527 511h3v1h1v1h1v3h-1v1h-1v1h-3v-1h-1v-1h-1v-3h1v-1h1zM1530 511h3v1h1v1h1v3h-1v1h-1v1h-3v-1h-1v-1h-1v-3h1v-1h1zM1533 511h3v1h1v1h1v3h-1v1h-1v1h-3v-1h-1v-1h-1v-3h1v-1h1zM1537 511h3v1h1v1h1v3h-1v1h-1v1h-3v-1h-1v-1h-1v-3h1v-1h1zM1540 511h3v1h1v1h1v3h-1v1h-1v1h-3v-1h-1v-1h-1v-3h1v-1h1zM1544 511h3v1h1v1h1v3h-1v1h-1v1h-3v-1h-1v-1h-1v-3h1v-1h1zM1547 511h3v1h1v1h1v3h-1v1h-1v1h-3v-1h-1v-1h-1v-3h1v-1h1zM1551 510h3v1h1v1h1v3h-1v1h-1v1h-3v-1h-1v-1h-1v-3h1v-1h1zM1554 510h3v1h1v1h1v3h-1v1h-1v1h-3v-1h-1v-1h-1v-3h1v-1h1zM1558 510h3v1h1v1h1v3h-1v1h-1v1h-3v-1h-1v-1h-1v-3h1v-1h1zM1561 510h3v1h1v1h1v3h-1v1h-1v1h-3v-1h-1v-1h-1v-3h1v-1h1zM1565 510h3v1h1v1h1v3h-1v1h-1v1h-3v-1h-1v-1h-1v-3h1v-1h1zM1568 510h3v1h1v1h1v3h-1v1h-1v1h-3v-1h-1v-1h-1v-3h1v-1h1zM1572 510h3v1h1v1h1v3h-1v1h-1v1h-3v-1h-1v-1h-1v-3h1v-1h1zM1575 510h3v1h1v1h1v3h-1v1h-1v1h-3v-1h-1v-1h-1v-3h1v-1h1zM1579 510h3v1h1v1h1v3h-1v1h-1v1h-3v-1h-1v-1h-1v-3h1v-1h1zM1582 508h3v1h1v1h1v3h-1v1h-1v1h-3v-1h-1v-1h-1v-3h1v-1h1zM1586 508h3v1h1v1h1v3h-1v1h-1v1h-3v-1h-1v-1h-1v-3h1v-1h1zM1589 509h3v1h1v1h1v3h-1v1h-1v1h-3v-1h-1v-1h-1v-3h1v-1h1zM1593 509h3v1h1v1h1v3h-1v1h-1v1h-3v-1h-1v-1h-1v-3h1v-1h1zM1596 509h3v1h1v1h1v3h-1v1h-1v1h-3v-1h-1v-1h-1v-3h1v-1h1zM1599 509h3v1h1v1h1v3h-1v1h-1v1h-3v-1h-1v-1h-1v-3h1v-1h1zM1603 509h3v1h1v1h1v3h-1v1h-1v1h-3v-1h-1v-1h-1v-3h1v-1h1zM1606 510h3v1h1v1h1v3h-1v1h-1v1h-3v-1h-1v-1h-1v-3h1v-1h1zM1610 510h3v1h1v1h1v3h-1v1h-1v1h-3v-1h-1v-1h-1v-3h1v-1h1zM1613 510h3v1h1v1h1v3h-1v1h-1v1h-3v-1h-1v-1h-1v-3h1v-1h1zM1617 510h3v1h1v1h1v3h-1v1h-1v1h-3v-1h-1v-1h-1v-3h1v-1h1zM1620 510h3v1h1v1h1v3h-1v1h-1v1h-3v-1h-1v-1h-1v-3h1v-1h1zM1624 511h3v1h1v1h1v3h-1v1h-1v1h-3v-1h-1v-1h-1v-3h1v-1h1zM1627 544h3v1h1v1h1v3h-1v1h-1v1h-3v-1h-1v-1h-1v-3h1v-1h1zM1630 603h3v1h1v1h1v3h-1v1h-1v1h-3v-1h-1v-1h-1v-3h1v-1h1zM1634 603h3v1h1v1h1v3h-1v1h-1v1h-3v-1h-1v-1h-1v-3h1v-1h1zM1638 604h3v1h1v1h1v3h-1v1h-1v1h-3v-1h-1v-1h-1v-3h1v-1h1zM1643 606h3v1h1v1h1v3h-1v1h-1v1h-3v-1h-1v-1h-1v-3h1v-1h1zM1647 606h3v1h1v1h1v3h-1v1h-1v1h-3v-1h-1v-1h-1v-3h1v-1h1zM1650 607h3v1h1v1h1v3h-1v1h-1v1h-3v-1h-1v-1h-1v-3h1v-1h1zM1654 607h3v1h1v1h1v3h-1v1h-1v1h-3v-1h-1v-1h-1v-3h1v-1h1zM1658 607h3v1h1v1h1v3h-1v1h-1v1h-3v-1h-1v-1h-1v-3h1v-1h1zM1661 614h3v1h1v1h1v3h-1v1h-1v1h-3v-1h-1v-1h-1v-3h1v-1h1zM1664 614h3v1h1v1h1v3h-1v1h-1v1h-3v-1h-1v-1h-1v-3h1v-1h1zM1668 614h3v1h1v1h1v3h-1v1h-1v1h-3v-1h-1v-1h-1v-3h1v-1h1zM1671 614h3v1h1v1h1v3h-1v1h-1v1h-3v-1h-1v-1h-1v-3h1v-1h1zM1675 614h3v1h1v1h1v3h-1v1h-1v1h-3v-1h-1v-1h-1v-3h1v-1h1zM1678 614h3v1h1v1h1v3h-1v1h-1v1h-3v-1h-1v-1h-1v-3h1v-1h1zM1682 614h3v1h1v1h1v3h-1v1h-1v1h-3v-1h-1v-1h-1v-3h1v-1h1zM1685 614h3v1h1v1h1v3h-1v1h-1v1h-3v-1h-1v-1h-1v-3h1v-1h1zM1689 614h3v1h1v1h1v3h-1v1h-1v1h-3v-1h-1v-1h-1v-3h1v-1h1zM1692 614h3v1h1v1h1v3h-1v1h-1v1h-3v-1h-1v-1h-1v-3h1v-1h1zM1696 614h3v1h1v1h1v3h-1v1h-1v1h-3v-1h-1v-1h-1v-3h1v-1h1zM1699 614h3v1h1v1h1v3h-1v1h-1v1h-3v-1h-1v-1h-1v-3h1v-1h1zM1703 614h3v1h1v1h1v3h-1v1h-1v1h-3v-1h-1v-1h-1v-3h1v-1h1zM1706 614h3v1h1v1h1v3h-1v1h-1v1h-3v-1h-1v-1h-1v-3h1v-1h1zM1710 614h3v1h1v1h1v3h-1v1h-1v1h-3v-1h-1v-1h-1v-3h1v-1h1zM1713 614h3v1h1v1h1v3h-1v1h-1v1h-3v-1h-1v-1h-1v-3h1v-1h1zM1717 614h3v1h1v1h1v3h-1v1h-1v1h-3v-1h-1v-1h-1v-3h1v-1h1zM1720 614h3v1h1v1h1v3h-1v1h-1v1h-3v-1h-1v-1h-1v-3h1v-1h1zM1723 614h3v1h1v1h1v3h-1v1h-1v1h-3v-1h-1v-1h-1v-3h1v-1h1zM1727 614h3v1h1v1h1v3h-1v1h-1v1h-3v-1h-1v-1h-1v-3h1v-1h1zM1730 614h3v1h1v1h1v3h-1v1h-1v1h-3v-1h-1v-1h-1v-3h1v-1h1zM1734 614h3v1h1v1h1v3h-1v1h-1v1h-3v-1h-1v-1h-1v-3h1v-1h1zM1737 614h3v1h1v1h1v3h-1v1h-1v1h-3v-1h-1v-1h-1v-3h1v-1h1zM1741 614h3v1h1v1h1v3h-1v1h-1v1h-3v-1h-1v-1h-1v-3h1v-1h1zM1744 614h3v1h1v1h1v3h-1v1h-1v1h-3v-1h-1v-1h-1v-3h1v-1h1zM1748 611h3v1h1v1h1v3h-1v1h-1v1h-3v-1h-1v-1h-1v-3h1v-1h1zM1751 611h3v1h1v1h1v3h-1v1h-1v1h-3v-1h-1v-1h-1v-3h1v-1h1zM1755 610h3v1h1v1h1v3h-1v1h-1v1h-3v-1h-1v-1h-1v-3h1v-1h1zM1758 610h3v1h1v1h1v3h-1v1h-1v1h-3v-1h-1v-1h-1v-3h1v-1h1zM1762 610h3v1h1v1h1v3h-1v1h-1v1h-3v-1h-1v-1h-1v-3h1v-1h1zM1765 610h3v1h1v1h1v3h-1v1h-1v1h-3v-1h-1v-1h-1v-3h1v-1h1zM1769 610h3v1h1v1h1v3h-1v1h-1v1h-3v-1h-1v-1h-1v-3h1v-1h1zM1772 610h3v1h1v1h1v3h-1v1h-1v1h-3v-1h-1v-1h-1v-3h1v-1h1zM1775 610h3v1h1v1h1v3h-1v1h-1v1h-3v-1h-1v-1h-1v-3h1v-1h1zM1780 610h3v1h1v1h1v3h-1v1h-1v1h-3v-1h-1v-1h-1v-3h1v-1h1zM1784 611h3v1h1v1h1v3h-1v1h-1v1h-3v-1h-1v-1h-1v-3h1v-1h1z" fill="#A5A5A5"/>
<polyline points="175,647.5 178.5,647.5 181.9,647.5 185.4,647.5 188.8,647.5 192.3,647.5 195.7,647.5 199.2,647.5 202.6,647.5 206.1,647.5 209.5,647.5 213,647.5 216.5,647.5 219.9,647.5 223.4,647.5 226.8,647.5 230.3,647.5 233.7,647.5 237.2,647.5 240.6,647.5 244.1,647.5 247.5,647.5 251,647.5 254.4,647.5 257.9,647.5 261.4,647.5 264.8,647.5 268.3,647.5 271.7,647.5 275.2,647.5 278.6,647.5 282.1,647.5 285.5,647.5 289,647.5 292.4,647.5 295.9,647.5 299.4,647.5 302.8,647.5 306.3,647.5 309.7,647.5 313.2,647.5 316.6,647.5 320.1,647.5 323.5,647.5 327,647.5 330.4,647.5 333.9,647.5 337.4,647.5 340.8,647.5 344.3,647.5 347.7,647.5 351.2,647.5 354.6,647.5 358.1,647.5 361.5,647.5 365,647.5 368.4,647.5 371.9,647.5 375.4,647.5 378.8,647.5 382.3,647.5 385.7,647.5 389.2,647.5 392.6,647.5 396.1,647.5 399.5,647.5 403,647.5 406.4,647.5 409.9,647.5 413.3,647.5 416.8,647.5 420.3,647.5 423.7,647.5 427.2,647.5 430.6,647.5 434.1,647.5 437.5,647.5 441,647.5 444.4,647.5 447.9,647.5 451.3,647.5 454.8,647.5 458.3,647.5 461.7,647.5 465.2,647.5 468.6,647.5 472.1,647.5 475.5,647.5 479,647.5 482.4,647.5 485.9,647.5 489.3,647.5 492.8,647.5 496.3,647.5 499.7,647.5 503.2,647.5 506.6,647.5 510.1,647.5 513.5,647.5 517,647.5 520.4,647.5 523.9,647.5 527.3,647.5 530.8,647.5 534.2,647.5 537.7,647.5 541.2,647.5 544.6,647.5 548.1,647.5 551.5,647.5 555,647.5 558.4,647.5 561.9,647.5 565.3,647.5 568.8,647.5 572.2,647.5 575.7,647.5 579.2,647.5 582.6,647.5 586.1,647.5 589.5,647.5 593,647.5 596.4,647.5 599.9,647.5 603.3,647.5 606.8,647.5 610.2,647.5 613.7,647.5 617.2,647.5 620.6,647.5 624.1,647.5 627.5,647.5 631,647.5 634.4,647.5 637.9,647.5 641.3,647.5 644.8,647.5 648.2,647.5 651.7,647.5 655.1,647.5 658.6,647.5 662.1,647.5 665.5,647.5 669,647.5 672.4,647.5 675.9,647.5 679.3,647.5 682.8,647.5 686.2,647.5 689.7,647.5 693.1,647.5 696.6,647.5 700.1,647.5 703.5,647.5 707,647.5 710.4,647.5 713.9,647.5 717.3,647.5 720.8,647.5 724.2,647.5 727.7,647.5 731.1,647.5 734.6,647.5 738.1,647.5 741.5,647.5 745,647.5 748.4,647.5 751.9,647.5 755.3,647.5 758.8,647.5 762.2,647.5 765.7,647.5 769.1,647.5 772.6,647.5 776,647.5 779.5,647.5 783,647.5 786.4,647.5 789.9,647.5 793.3,647.5 796.8,647.5 800.2,647.5 803.7,647.5 807.1,647.5 810.6,647.5 814,647.5 817.5,647.5 821,647.5 824.4,647.5 827.9,647.5 831.3,647.5 834.8,647.5 838.2,647.5 841.7,647.5 845.1,647.5 848.6,647.5 852,647.5 855.5,647.5 859,647.5 862.4,647.5 865.9,647.5 869.3,647.5 872.8,647.5 876.2,647.5 879.7,647.5 883.1,647.5 886.6,647.5 890,647.5 893.5,647.5 897,647.5 900.4,647.5 903.9,647.5 907.3,647.5 910.8,647.5 914.2,647.5 917.7,647.5 921.1,647.5 924.6,647.5 928,647.5 931.5,647.5 934.9,647.5 938.4,647.5 941.9,647.5 945.3,647.5 948.8,647.5 952.2,647.5 955.7,647.5 959.1,647.5 962.6,647.5 966,647.5 969.5,647.5 972.9,647.5 976.4,647.5 979.9,647.5 983.3,647.5 986.8,647.5 990.2,647.5 993.7,647.5 997.1,647.5 1000.6,647.5 1004,647.5 1007.5,647.5 1010.9,647.5 1014.4,647.5 1017.9,647.5 1021.3,647.5 1024.8,647.5 1028.2,647.5 1031.7,647.5 1035.1,647.5 1038.6,647.5 1042,647.5 1045.5,647.5 1048.9,647.5 1052.4,647.5 1055.8,647.5 1059.3,647.5 1062.8,647.5 1066.2,647.5 1069.7,647.5 1073.1,647.5 1076.6,647.5 1080,647.5 1083.5,647.5 1086.9,647.5 1090.4,647.5 1093.8,647.5 1097.3,647.5 1100.8,647.5 1104.2,647.5 1107.7,647.5 1111.1,647.5 1114.6,647.5 1118,647.5 1121.5,647.5 1124.9,647.5 1128.4,647.5 1131.8,647.5 1135.3,647.5 1138.8,647.5 1142.2,647.5 1145.7,647.5 1149.1,647.5 1152.6,647.5 1156,647.5 1159.5,647.5 1162.9,647.5 1166.4,647.5 1169.8,647.5 1173.3,647.5 1176.8,647.5 1180.2,647.5 1183.7,647.5 1187.1,647.5 1190.6,647.5 1194,647.5 1197.5,647.5 1200.9,647.5 1204.4,647.5 1207.8,647.5 1211.3,647.5 1214.7,647.5 1218.2,647.5 1221.7,647.5 1225.1,647.5 1228.6,647.5 1232,647.5 1235.5,647.5 1238.9,647.5 1242.4,647.5 1245.8,647.5 1249.3,647.5 1252.7,647.5 1256.2,647.5 1259.7,647.5 1263.1,647.5 1266.6,647.5 1270,647.5 1273.5,647.5 1276.9,647.5 1280.4,647.5 1283.8,647.5 1287.3,647.5 1290.7,647.5 1294.2,647.5 1297.7,647.5 1301.1,647.5 1304.6,647.5 1308,647.5 1311.5,647.5 1314.9,647.5 1318.4,647.5 1321.8,647.5 1325.3,647.5 1328.7,647.5 1332.2,647.5 1335.6,647.5 1339.1,647.5 1342.6,647.5 1346,647.5 1349.5,647.5 1352.9,647.5 1356.4,647.5 1359.8,647.5 1363.3,647.5 1366.7,647.5 1370.2,647.5 1373.6,647.5 1377.1,647.5 1380.6,647.5 1384,647.5 1387.5,647.5 1390.9,647.5 1394.4,647.5 1397.8,647.5 1401.3,647.5 1404.7,647.5 1408.2,647.5 1411.6,647.5 1415.1,647.5 1418.6,647.5 1422,647.5 1425.5,647.5 1428.9,647.5 1432.4,647.5 1435.8,647.5 1439.3,647.5 1442.7,647.5 1446.2,647.5 1449.6,647.5 1453.1,647.5 1456.5,647.5 1460,647.5 1463.5,647.5 1466.9,647.5 1470.4,647.5 1473.8,647.5 1477.3,647.5 1480.7,647.5 1484.2,647.5 1487.6,647.5 1491.1,647.5 1494.5,647.5 1498,647.5 1501.5,647.5 1504.9,647.5 1508.4,647.5 1511.8,647.5 1515.3,647.5 1518.7,647.5 1522.2,647.5 1525.6,647.5 1529.1,647.5 1532.5,647.5 1536,647.5 1539.5,647.5 1542.9,647.5 1546.4,647.5 1549.8,647.5 1553.3,647.5 1556.7,647.5 1560.2,647.5 1563.6,647.5 1567.1,647.5 1570.5,647.5 1574,647.5 1577.5,647.5 1580.9,647.5 1584.4,647.5 1587.8,647.5 1591.3,647.5 1594.7,647.5 1598.2,647.5 1601.6,647.5 1605.1,647.5 1608.5,647.5 1612,647.5 1615.4,647.5 1618.9,647.5 1622.4,647.5 1625.8,647.5 1629.3,647.5 1632.7,647.5 1636.2,647.5 1639.6,647.5 1643.1,647.5 1646.5,647.5 1650,647.5 1653.4,647.5 1656.9,647.5 1660.4,647.5 1663.8,647.5 1667.3,647.5 1670.7,647.5 1674.2,647.5 1677.6,647.5 1681.1,647.5 1684.5,647.5 1688,647.5 1691.4,647.5 1694.9,647.5 1698.4,647.5 1701.8,647.5 1705.3,647.5 1708.7,647.5 1712.2,647.5 1715.6,647.5 1719.1,647.5 1722.5,647.5 1726,647.5 1729.4,647.5 1732.9,647.5 1736.3,647.5 1739.8,647.5 1743.3,647.5 1746.7,647.5 1750.2,647.5 1753.6,647.5 1757.1,647.5 1760.5,647.5 1764,647.5 1767.4,647.5 1770.9,647.5 1774.3,647.5 1777.8,647.5 1781.2,632.5 1784.6,632.5" fill="none" stroke="#7030A0" stroke-width="2.25" stroke-linejoin="round" stroke-linecap="round"/>
<path d="M174 644h3v1h1v1h1v3h-1v1h-1v1h-3v-1h-1v-1h-1v-3h1v-1h1zM177 644h3v1h1v1h1v3h-1v1h-1v1h-3v-1h-1v-1h-1v-3h1v-1h1zM180 644h3v1h1v1h1v3h-1v1h-1v1h-3v-1h-1v-1h-1v-3h1v-1h1zM184 644h3v1h1v1h1v3h-1v1h-1v1h-3v-1h-1v-1h-1v-3h1v-1h1zM187 644h3v1h1v1h1v3h-1v1h-1v1h-3v-1h-1v-1h-1v-3h1v-1h1zM191 644h3v1h1v1h1v3h-1v1h-1v1h-3v-1h-1v-1h-1v-3h1v-1h1zM194 644h3v1h1v1h1v3h-1v1h-1v1h-3v-1h-1v-1h-1v-3h1v-1h1zM198 644h3v1h1v1h1v3h-1v1h-1v1h-3v-1h-1v-1h-1v-3h1v-1h1zM201 644h3v1h1v1h1v3h-1v1h-1v1h-3v-1h-1v-1h-1v-3h1v-1h1zM205 644h3v1h1v1h1v3h-1v1h-1v1h-3v-1h-1v-1h-1v-3h1v-1h1zM208 644h3v1h1v1h1v3h-1v1h-1v1h-3v-1h-1v-1h-1v-3h1v-1h1zM211 644h3v1h1v1h1v3h-1v1h-1v1h-3v-1h-1v-1h-1v-3h1v-1h1zM215 644h3v1h1v1h1v3h-1v1h-1v1h-3v-1h-1v-1h-1v-3h1v-1h1zM218 644h3v1h1v1h1v3h-1v1h-1v1h-3v-1h-1v-1h-1v-3h1v-1h1zM222 644h3v1h1v1h1v3h-1v1h-1v1h-3v-1h-1v-1h-1v-3h1v-1h1zM225 644h3v1h1v1h1v3h-1v1h-1v1h-3v-1h-1v-1h-1v-3h1v-1h1zM229 644h3v1h1v1h1v3h-1v1h-1v1h-3v-1h-1v-1h-1v-3h1v-1h1zM232 644h3v1h1v1h1v3h-1v1h-1v1h-3v-1h-1v-1h-1v-3h1v-1h1zM236 644h3v1h1v1h1v3h-1v1h-1v1h-3v-1h-1v-1h-1v-3h1v-1h1zM239 644h3v1h1v1h1v3h-1v1h-1v1h-3v-1h-1v-1h-1v-3h1v-1h1zM243 644h3v1h1v1h1v3h-1v1h-1v1h-3v-1h-1v-1h-1v-3h1v-1h1zM246 644h3v1h1v1h1v3h-1v1h-1v1h-3v-1h-1v-1h-1v-3h1v-1h1zM249 644h3v1h1v1h1v3h-1v1h-1v1h-3v-1h-1v-1h-1v-3h1v-1h1zM253 644h3v1h1v1h1v3h-1v1h-1v1h-3v-1h-1v-1h-1v-3h1v-1h1zM256 644h3v1h1v1h1v3h-1v1h-1v1h-3v-1h-1v-1h-1v-3h1v-1h1zM260 644h3v1h1v1h1v3h-1v1h-1v1h-3v-1h-1v-1h-1v-3h1v-1h1zM263 644h3v1h1v1h1v3h-1v1h-1v1h-3v-1h-1v-1h-1v-3h1v-1h1zM267 644h3v1h1v1h1v3h-1v1h-1v1h-3v-1h-1v-1h-1v-3h1v-1h1zM270 644h3v1h1v1h1v3h-1v1h-1v1h-3v-1h-1v-1h-1v-3h1v-1h1zM274 644h3v1h1v1h1v3h-1v1h-1v1h-3v-1h-1v-1h-1v-3h1v-1h1zM277 644h3v1h1v1h1v3h-1v1h-1v1h-3v-1h-1v-1h-1v-3h1v-1h1zM281 644h3v1h1v1h1v3h-1v1h-1v1h-3v-1h-1v-1h-1v-3h1v-1h1zM284 644h3v1h1v1h1v3h-1v1h-1v1h-3v-1h-1v-1h-1v-3h1v-1h1zM287 644h3v1h1v1h1v3h-1v1h-1v1h-3v-1h-1v-1h-1v-3h1v-1h1zM291 644h3v1h1v1h1v3h-1v1h-1v1h-3v-1h-1v-1h-1v-3h1v-1h1zM294 644h3v1h1v1h1v3h-1v1h-1v1h-3v-1h-1v-1h-1v-3h1v-1h1zM298 644h3v1h1v1h1v3h-1v1h-1v1h-3v-1h-1v-1h-1v-3h1v-1h1zM301 644h3v1h1v1h1v3h-1v1h-1v1h-3v-1h-1v-1h-1v-3h1v-1h1zM305 644h3v1h1v1h1v3h-1v1h-1v1h-3v-1h-1v-1h-1v-3h1v-1h1zM308 644h3v1h1v1h1v3h-1v1h-1v1h-3v-1h-1v-1h-1v-3h1v-1h1zM312 644h3v1h1v1h1v3h-1v1h-1v1h-3v-1h-1v-1h-1v-3h1v-1h1zM315 644h3v1h1v1h1v3h-1v1h-1v1h-3v-1h-1v-1h-1v-3h1v-1h1zM319 644h3v1h1v1h1v3h-1v1h-1v1h-3v-1h-1v-1h-1v-3h1v-1h1zM322 644h3v1h1v1h1v3h-1v1h-1v1h-3v-1h-1v-1h-1v-3h1v-1h1zM325 644h3v1h1v1h1v3h-1v1h-1v1h-3v-1h-1v-1h-1v-3h1v-1h1zM329 644h3v1h1v1h1v3h-1v1h-1v1h-3v-1h-1v-1h-1v-3h1v-1h1zM332 644h3v1h1v1h1v3h-1v1h-1v1h-3v-1h-1v-1h-1v-3h1v-1h1zM336 644h3v1h1v1h1v3h-1v1h-1v1h-3v-1h-1v-1h-1v-3h1v-1h1zM339 644h3v1h1v1h1v3h-1v1h-1v1h-3v-1h-1v-1h-1v-3h1v-1h1zM343 644h3v1h1v1h1v3h-1v1h-1v1h-3v-1h-1v-1h-1v-3h1v-1h1zM346 644h3v1h1v1h1v3h-1v1h-1v1h-3v-1h-1v-1h-1v-3h1v-1h1zM350 644h3v1h1v1h1v3h-1v1h-1v1h-3v-1h-1v-1h-1v-3h1v-1h1zM353 644h3v1h1v1h1v3h-1v1h-1v1h-3v-1h-1v-1h-1v-3h1v-1h1zM357 644h3v1h1v1h1v3h-1v1h-1v1h-3v-1h-1v-1h-1v-3h1v-1h1zM360 644h3v1h1v1h1v3h-1v1h-1v1h-3v-1h-1v-1h-1v-3h1v-1h1zM363 644h3v1h1v1h1v3h-1v1h-1v1h-3v-1h-1v-1h-1v-3h1v-1h1zM367 644h3v1h1v1h1v3h-1v1h-1v1h-3v-1h-1v-1h-1v-3h1v-1h1zM370 644h3v1h1v1h1v3h-1v1h-1v1h-3v-1h-1v-1h-1v-3h1v-1h1zM374 644h3v1h1v1h1v3h-1v1h-1v1h-3v-1h-1v-1h-1v-3h1v-1h1zM377 644h3v1h1v1h1v3h-1v1h-1v1h-3v-1h-1v-1h-1v-3h1v-1h1zM381 644h3v1h1v1h1v3h-1v1h-1v1h-3v-1h-1v-1h-1v-3h1v-1h1zM384 644h3v1h1v1h1v3h-1v1h-1v1h-3v-1h-1v-1h-1v-3h1v-1h1zM388 644h3v1h1v1h1v3h-1v1h-1v1h-3v-1h-1v-1h-1v-3h1v-1h1zM391 644h3v1h1v1h1v3h-1v1h-1v1h-3v-1h-1v-1h-1v-3h1v-1h1zM395 644h3v1h1v1h1v3h-1v1h-1v1h-3v-1h-1v-1h-1v-3h1v-1h1zM398 644h3v1h1v1h1v3h-1v1h-1v1h-3v-1h-1v-1h-1v-3h1v-1h1zM401 644h3v1h1v1h1v3h-1v1h-1v1h-3v-1h-1v-1h-1v-3h1v-1h1zM405 644h3v1h1v1h1v3h-1v1h-1v1h-3v-1h-1v-1h-1v-3h1v-1h1zM408 644h3v1h1v1h1v3h-1v1h-1v1h-3v-1h-1v-1h-1v-3h1v-1h1zM412 644h3v1h1v1h1v3h-1v1h-1v1h-3v-1h-1v-1h-1v-3h1v-1h1zM415 644h3v1h1v1h1v3h-1v1h-1v1h-3v-1h-1v-1h-1v-3h1v-1h1zM419 644h3v1h1v1h1v3h-1v1h-1v1h-3v-1h-1v-1h-1v-3h1v-1h1zM422 644h3v1h1v1h1v3h-1v1h-1v1h-3v-1h-1v-1h-1v-3h1v-1h1zM426 644h3v1h1v1h1v3h-1v1h-1v1h-3v-1h-1v-1h-1v-3h1v-1h1zM429 644h3v1h1v1h1v3h-1v1h-1v1h-3v-1h-1v-1h-1v-3h1v-1h1zM433 644h3v1h1v1h1v3h-1v1h-1v1h-3v-1h-1v-1h-1v-3h1v-1h1zM436 644h3v1h1v1h1v3h-1v1h-1v1h-3v-1h-1v-1h-1v-3h1v-1h1zM439 644h3v1h1v1h1v3h-1v1h-1v1h-3v-1h-1v-1h-1v-3h1v-1h1zM443 644h3v1h1v1h1v3h-1v1h-1v1h-3v-1h-1v-1h-1v-3h1v-1h1zM446 644h3v1h1v1h1v3h-1v1h-1v1h-3v-1h-1v-1h-1v-3h1v-1h1zM450 644h3v1h1v1h1v3h-1v1h-1v1h-3v-1h-1v-1h-1v-3h1v-1h1zM453 644h3v1h1v1h1v3h-1v1h-1v1h-3v-1h-1v-1h-1v-3h1v-1h1zM457 644h3v1h1v1h1v3h-1v1h-1v1h-3v-1h-1v-1h-1v-3h1v-1h1zM460 644h3v1h1v1h1v3h-1v1h-1v1h-3v-1h-1v-1h-1v-3h1v-1h1zM464 644h3v1h1v1h1v3h-1v1h-1v1h-3v-1h-1v-1h-1v-3h1v-1h1zM467 644h3v1h1v1h1v3h-1v1h-1v1h-3v-1h-1v-1h-1v-3h1v-1h1zM471 644h3v1h1v1h1v3h-1v1h-1v1h-3v-1h-1v-1h-1v-3h1v-1h1zM474 644h3v1h1v1h1v3h-1v1h-1v1h-3v-1h-1v-1h-1v-3h1v-1h1zM477 644h3v1h1v1h1v3h-1v1h-1v1h-3v-1h-1v-1h-1v-3h1v-1h1zM481 644h3v1h1v1h1v3h-1v1h-1v1h-3v-1h-1v-1h-1v-3h1v-1h1zM484 644h3v1h1v1h1v3h-1v1h-1v1h-3v-1h-1v-1h-1v-3h1v-1h1zM488 644h3v1h1v1h1v3h-1v1h-1v1h-3v-1h-1v-1h-1v-3h1v-1h1zM491 644h3v1h1v1h1v3h-1v1h-1v1h-3v-1h-1v-1h-1v-3h1v-1h1zM495 644h3v1h1v1h1v3h-1v1h-1v1h-3v-1h-1v-1h-1v-3h1v-1h1zM498 644h3v1h1v1h1v3h-1v1h-1v1h-3v-1h-1v-1h-1v-3h1v-1h1zM502 644h3v1h1v1h1v3h-1v1h-1v1h-3v-1h-1v-1h-1v-3h1v-1h1zM505 644h3v1h1v1h1v3h-1v1h-1v1h-3v-1h-1v-1h-1v-3h1v-1h1zM509 644h3v1h1v1h1v3h-1v1h-1v1h-3v-1h-1v-1h-1v-3h1v-1h1zM512 644h3v1h1v1h1v3h-1v1h-1v1h-3v-1h-1v-1h-1v-3h1v-1h1zM515 644h3v1h1v1h1v3h-1v1h-1v1h-3v-1h-1v-1h-1v-3h1v-1h1zM519 644h3v1h1v1h1v3h-1v1h-1v1h-3v-1h-1v-1h-1v-3h1v-1h1zM522 644h3v1h1v1h1v3h-1v1h-1v1h-3v-1h-1v-1h-1v-3h1v-1h1zM526 644h3v1h1v1h1v3h-1v1h-1v1h-3v-1h-1v-1h-1v-3h1v-1h1zM529 644h3v1h1v1h1v3h-1v1h-1v1h-3v-1h-1v-1h-1v-3h1v-1h1zM533 644h3v1h1v1h1v3h-1v1h-1v1h-3v-1h-1v-1h-1v-3h1v-1h1zM536 644h3v1h1v1h1v3h-1v1h-1v1h-3v-1h-1v-1h-1v-3h1v-1h1zM540 644h3v1h1v1h1v3h-1v1h-1v1h-3v-1h-1v-1h-1v-3h1v-1h1zM543 644h3v1h1v1h1v3h-1v1h-1v1h-3v-1h-1v-1h-1v-3h1v-1h1zM547 644h3v1h1v1h1v3h-1v1h-1v1h-3v-1h-1v-1h-1v-3h1v-1h1zM550 644h3v1h1v1h1v3h-1v1h-1v1h-3v-1h-1v-1h-1v-3h1v-1h1zM553 644h3v1h1v1h1v3h-1v1h-1v1h-3v-1h-1v-1h-1v-3h1v-1h1zM557 644h3v1h1v1h1v3h-1v1h-1v1h-3v-1h-1v-1h-1v-3h1v-1h1zM560 644h3v1h1v1h1v3h-1v1h-1v1h-3v-1h-1v-1h-1v-3h1v-1h1zM564 644h3v1h1v1h1v3h-1v1h-1v1h-3v-1h-1v-1h-1v-3h1v-1h1zM567 644h3v1h1v1h1v3h-1v1h-1v1h-3v-1h-1v-1h-1v-3h1v-1h1zM571 644h3v1h1v1h1v3h-1v1h-1v1h-3v-1h-1v-1h-1v-3h1v-1h1zM574 644h3v1h1v1h1v3h-1v1h-1v1h-3v-1h-1v-1h-1v-3h1v-1h1zM578 644h3v1h1v1h1v3h-1v1h-1v1h-3v-1h-1v-1h-1v-3h1v-1h1zM581 644h3v1h1v1h1v3h-1v1h-1v1h-3v-1h-1v-1h-1v-3h1v-1h1zM585 644h3v1h1v1h1v3h-1v1h-1v1h-3v-1h-1v-1h-1v-3h1v-1h1zM588 644h3v1h1v1h1v3h-1v1h-1v1h-3v-1h-1v-1h-1v-3h1v-1h1zM591 644h3v1h1v1h1v3h-1v1h-1v1h-3v-1h-1v-1h-1v-3h1v-1h1zM595 644h3v1h1v1h1v3h-1v1h-1v1h-3v-1h-1v-1h-1v-3h1v-1h1zM598 644h3v1h1v1h1v3h-1v1h-1v1h-3v-1h-1v-1h-1v-3h1v-1h1zM602 644h3v1h1v1h1v3h-1v1h-1v1h-3v-1h-1v-1h-1v-3h1v-1h1zM605 644h3v1h1v1h1v3h-1v1h-1v1h-3v-1h-1v-1h-1v-3h1v-1h1zM609 644h3v1h1v1h1v3h-1v1h-1v1h-3v-1h-1v-1h-1v-3h1v-1h1zM612 644h3v1h1v1h1v3h-1v1h-1v1h-3v-1h-1v-1h-1v-3h1v-1h1zM616 644h3v1h1v1h1v3h-1v1h-1v1h-3v-1h-1v-1h-1v-3h1v-1h1zM619 644h3v1h1v1h1v3h-1v1h-1v1h-3v-1h-1v-1h-1v-3h1v-1h1zM623 644h3v1h1v1h1v3h-1v1h-1v1h-3v-1h-1v-1h-1v-3h1v-1h1zM626 644h3v1h1v1h1v3h-1v1h-1v1h-3v-1h-1v-1h-1v-3h1v-1h1zM629 644h3v1h1v1h1v3h-1v1h-1v1h-3v-1h-1v-1h-1v-3h1v-1h1zM633 644h3v1h1v1h1v3h-1v1h-1v1h-3v-1h-1v-1h-1v-3h1v-1h1zM636 644h3v1h1v1h1v3h-1v1h-1v1h-3v-1h-1v-1h-1v-3h1v-1h1zM640 644h3v1h1v1h1v3h-1v1h-1v1h-3v-1h-1v-1h-1v-3h1v-1h1zM643 644h3v1h1v1h1v3h-1v1h-1v1h-3v-1h-1v-1h-1v-3h1v-1h1zM647 644h3v1h1v1h1v3h-1v1h-1v1h-3v-1h-1v-1h-1v-3h1v-1h1zM650 644h3v1h1v1h1v3h-1v1h-1v1h-3v-1h-1v-1h-1v-3h1v-1h1zM654 644h3v1h1v1h1v3h-1v1h-1v1h-3v-1h-1v-1h-1v-3h1v-1h1zM657 644h3v1h1v1h1v3h-1v1h-1v1h-3v-1h-1v-1h-1v-3h1v-1h1zM661 644h3v1h1v1h1v3h-1v1h-1v1h-3v-1h-1v-1h-1v-3h1v-1h1zM664 644h3v1h1v1h1v3h-1v1h-1v1h-3v-1h-1v-1h-1v-3h1v-1h1zM667 644h3v1h1v1h1v3h-1v1h-1v1h-3v-1h-1v-1h-1v-3h1v-1h1zM671 644h3v1h1v1h1v3h-1v1h-1v1h-3v-1h-1v-1h-1v-3h1v-1h1zM674 644h3v1h1v1h1v3h-1v1h-1v1h-3v-1h-1v-1h-1v-3h1v-1h1zM678 644h3v1h1v1h1v3h-1v1h-1v1h-3v-1h-1v-1h-1v-3h1v-1h1zM681 644h3v1h1v1h1v3h-1v1h-1v1h-3v-1h-1v-1h-1v-3h1v-1h1zM685 644h3v1h1v1h1v3h-1v1h-1v1h-3v-1h-1v-1h-1v-3h1v-1h1zM688 644h3v1h1v1h1v3h-1v1h-1v1h-3v-1h-1v-1h-1v-3h1v-1h1zM692 644h3v1h1v1h1v3h-1v1h-1v1h-3v-1h-1v-1h-1v-3h1v-1h1zM695 644h3v1h1v1h1v3h-1v1h-1v1h-3v-1h-1v-1h-1v-3h1v-1h1zM699 644h3v1h1v1h1v3h-1v1h-1v1h-3v-1h-1v-1h-1v-3h1v-1h1zM702 644h3v1h1v1h1v3h-1v1h-1v1h-3v-1h-1v-1h-1v-3h1v-1h1zM705 644h3v1h1v1h1v3h-1v1h-1v1h-3v-1h-1v-1h-1v-3h1v-1h1zM709 644h3v1h1v1h1v3h-1v1h-1v1h-3v-1h-1v-1h-1v-3h1v-1h1zM712 644h3v1h1v1h1v3h-1v1h-1v1h-3v-1h-1v-1h-1v-3h1v-1h1zM716 644h3v1h1v1h1v3h-1v1h-1v1h-3v-1h-1v-1h-1v-3h1v-1h1zM719 644h3v1h1v1h1v3h-1v1h-1v1h-3v-1h-1v-1h-1v-3h1v-1h1zM723 644h3v1h1v1h1v3h-1v1h-1v1h-3v-1h-1v-1h-1v-3h1v-1h1zM726 644h3v1h1v1h1v3h-1v1h-1v1h-3v-1h-1v-1h-1v-3h1v-1h1zM730 644h3v1h1v1h1v3h-1v1h-1v1h-3v-1h-1v-1h-1v-3h1v-1h1zM733 644h3v1h1v1h1v3h-1v1h-1v1h-3v-1h-1v-1h-1v-3h1v-1h1zM737 644h3v1h1v1h1v3h-1v1h-1v1h-3v-1h-1v-1h-1v-3h1v-1h1zM740 644h3v1h1v1h1v3h-1v1h-1v1h-3v-1h-1v-1h-1v-3h1v-1h1zM743 644h3v1h1v1h1v3h-1v1h-1v1h-3v-1h-1v-1h-1v-3h1v-1h1zM747 644h3v1h1v1h1v3h-1v1h-1v1h-3v-1h-1v-1h-1v-3h1v-1h1zM750 644h3v1h1v1h1v3h-1v1h-1v1h-3v-1h-1v-1h-1v-3h1v-1h1zM754 644h3v1h1v1h1v3h-1v1h-1v1h-3v-1h-1v-1h-1v-3h1v-1h1zM757 644h3v1h1v1h1v3h-1v1h-1v1h-3v-1h-1v-1h-1v-3h1v-1h1zM761 644h3v1h1v1h1v3h-1v1h-1v1h-3v-1h-1v-1h-1v-3h1v-1h1zM764 644h3v1h1v1h1v3h-1v1h-1v1h-3v-1h-1v-1h-1v-3h1v-1h1zM768 644h3v1h1v1h1v3h-1v1h-1v1h-3v-1h-1v-1h-1v-3h1v-1h1zM771 644h3v1h1v1h1v3h-1v1h-1v1h-3v-1h-1v-1h-1v-3h1v-1h1zM775 644h3v1h1v1h1v3h-1v1h-1v1h-3v-1h-1v-1h-1v-3h1v-1h1zM778 644h3v1h1v1h1v3h-1v1h-1v1h-3v-1h-1v-1h-1v-3h1v-1h1zM781 644h3v1h1v1h1v3h-1v1h-1v1h-3v-1h-1v-1h-1v-3h1v-1h1zM785 644h3v1h1v1h1v3h-1v1h-1v1h-3v-1h-1v-1h-1v-3h1v-1h1zM788 644h3v1h1v1h1v3h-1v1h-1v1h-3v-1h-1v-1h-1v-3h1v-1h1zM792 644h3v1h1v1h1v3h-1v1h-1v1h-3v-1h-1v-1h-1v-3h1v-1h1zM795 644h3v1h1v1h1v3h-1v1h-1v1h-3v-1h-1v-1h-1v-3h1v-1h1zM799 644h3v1h1v1h1v3h-1v1h-1v1h-3v-1h-1v-1h-1v-3h1v-1h1zM802 644h3v1h1v1h1v3h-1v1h-1v1h-3v-1h-1v-1h-1v-3h1v-1h1zM806 644h3v1h1v1h1v3h-1v1h-1v1h-3v-1h-1v-1h-1v-3h1v-1h1zM809 644h3v1h1v1h1v3h-1v1h-1v1h-3v-1h-1v-1h-1v-3h1v-1h1zM813 644h3v1h1v1h1v3h-1v1h-1v1h-3v-1h-1v-1h-1v-3h1v-1h1zM816 644h3v1h1v1h1v3h-1v1h-1v1h-3v-1h-1v-1h-1v-3h1v-1h1zM819 644h3v1h1v1h1v3h-1v1h-1v1h-3v-1h-1v-1h-1v-3h1v-1h1zM823 644h3v1h1v1h1v3h-1v1h-1v1h-3v-1h-1v-1h-1v-3h1v-1h1zM826 644h3v1h1v1h1v3h-1v1h-1v1h-3v-1h-1v-1h-1v-3h1v-1h1zM830 644h3v1h1v1h1v3h-1v1h-1v1h-3v-1h-1v-1h-1v-3h1v-1h1zM833 644h3v1h1v1h1v3h-1v1h-1v1h-3v-1h-1v-1h-1v-3h1v-1h1zM837 644h3v1h1v1h1v3h-1v1h-1v1h-3v-1h-1v-1h-1v-3h1v-1h1zM840 644h3v1h1v1h1v3h-1v1h-1v1h-3v-1h-1v-1h-1v-3h1v-1h1zM844 644h3v1h1v1h1v3h-1v1h-1v1h-3v-1h-1v-1h-1v-3h1v-1h1zM847 644h3v1h1v1h1v3h-1v1h-1v1h-3v-1h-1v-1h-1v-3h1v-1h1zM851 644h3v1h1v1h1v3h-1v1h-1v1h-3v-1h-1v-1h-1v-3h1v-1h1zM854 644h3v1h1v1h1v3h-1v1h-1v1h-3v-1h-1v-1h-1v-3h1v-1h1zM857 644h3v1h1v1h1v3h-1v1h-1v1h-3v-1h-1v-1h-1v-3h1v-1h1zM861 644h3v1h1v1h1v3h-1v1h-1v1h-3v-1h-1v-1h-1v-3h1v-1h1zM864 644h3v1h1v1h1v3h-1v1h-1v1h-3v-1h-1v-1h-1v-3h1v-1h1zM868 644h3v1h1v1h1v3h-1v1h-1v1h-3v-1h-1v-1h-1v-3h1v-1h1zM871 644h3v1h1v1h1v3h-1v1h-1v1h-3v-1h-1v-1h-1v-3h1v-1h1zM875 644h3v1h1v1h1v3h-1v1h-1v1h-3v-1h-1v-1h-1v-3h1v-1h1zM878 644h3v1h1v1h1v3h-1v1h-1v1h-3v-1h-1v-1h-1v-3h1v-1h1zM882 644h3v1h1v1h1v3h-1v1h-1v1h-3v-1h-1v-1h-1v-3h1v-1h1zM885 644h3v1h1v1h1v3h-1v1h-1v1h-3v-1h-1v-1h-1v-3h1v-1h1zM889 644h3v1h1v1h1v3h-1v1h-1v1h-3v-1h-1v-1h-1v-3h1v-1h1zM892 644h3v1h1v1h1v3h-1v1h-1v1h-3v-1h-1v-1h-1v-3h1v-1h1zM895 644h3v1h1v1h1v3h-1v1h-1v1h-3v-1h-1v-1h-1v-3h1v-1h1zM899 644h3v1h1v1h1v3h-1v1h-1v1h-3v-1h-1v-1h-1v-3h1v-1h1zM902 644h3v1h1v1h1v3h-1v1h-1v1h-3v-1h-1v-1h-1v-3h1v-1h1zM906 644h3v1h1v1h1v3h-1v1h-1v1h-3v-1h-1v-1h-1v-3h1v-1h1zM909 644h3v1h1v1h1v3h-1v1h-1v1h-3v-1h-1v-1h-1v-3h1v-1h1zM913 644h3v1h1v1h1v3h-1v1h-1v1h-3v-1h-1v-1h-1v-3h1v-1h1zM916 644h3v1h1v1h1v3h-1v1h-1v1h-3v-1h-1v-1h-1v-3h1v-1h1zM920 644h3v1h1v1h1v3h-1v1h-1v1h-3v-1h-1v-1h-1v-3h1v-1h1zM923 644h3v1h1v1h1v3h-1v1h-1v1h-3v-1h-1v-1h-1v-3h1v-1h1zM927 644h3v1h1v1h1v3h-1v1h-1v1h-3v-1h-1v-1h-1v-3h1v-1h1zM930 644h3v1h1v1h1v3h-1v1h-1v1h-3v-1h-1v-1h-1v-3h1v-1h1zM933 644h3v1h1v1h1v3h-1v1h-1v1h-3v-1h-1v-1h-1v-3h1v-1h1zM937 644h3v1h1v1h1v3h-1v1h-1v1h-3v-1h-1v-1h-1v-3h1v-1h1zM940 644h3v1h1v1h1v3h-1v1h-1v1h-3v-1h-1v-1h-1v-3h1v-1h1zM944 644h3v1h1v1h1v3h-1v1h-1v1h-3v-1h-1v-1h-1v-3h1v-1h1zM947 644h3v1h1v1h1v3h-1v1h-1v1h-3v-1h-1v-1h-1v-3h1v-1h1zM951 644h3v1h1v1h1v3h-1v1h-1v1h-3v-1h-1v-1h-1v-3h1v-1h1zM954 644h3v1h1v1h1v3h-1v1h-1v1h-3v-1h-1v-1h-1v-3h1v-1h1zM958 644h3v1h1v1h1v3h-1v1h-1v1h-3v-1h-1v-1h-1v-3h1v-1h1zM961 644h3v1h1v1h1v3h-1v1h-1v1h-3v-1h-1v-1h-1v-3h1v-1h1zM965 644h3v1h1v1h1v3h-1v1h-1v1h-3v-1h-1v-1h-1v-3h1v-1h1zM968 644h3v1h1v1h1v3h-1v1h-1v1h-3v-1h-1v-1h-1v-3h1v-1h1zM971 644h3v1h1v1h1v3h-1v1h-1v1h-3v-1h-1v-1h-1v-3h1v-1h1zM975 644h3v1h1v1h1v3h-1v1h-1v1h-3v-1h-1v-1h-1v-3h1v-1h1zM978 644h3v1h1v1h1v3h-1v1h-1v1h-3v-1h-1v-1h-1v-3h1v-1h1zM982 644h3v1h1v1h1v3h-1v1h-1v1h-3v-1h-1v-1h-1v-3h1v-1h1zM985 644h3v1h1v1h1v3h-1v1h-1v1h-3v-1h-1v-1h-1v-3h1v-1h1zM989 644h3v1h1v1h1v3h-1v1h-1v1h-3v-1h-1v-1h-1v-3h1v-1h1zM992 644h3v1h1v1h1v3h-1v1h-1v1h-3v-1h-1v-1h-1v-3h1v-1h1zM996 644h3v1h1v1h1v3h-1v1h-1v1h-3v-1h-1v-1h-1v-3h1v-1h1zM999 644h3v1h1v1h1v3h-1v1h-1v1h-3v-1h-1v-1h-1v-3h1v-1h1zM1003 644h3v1h1v1h1v3h-1v1h-1v1h-3v-1h-1v-1h-1v-3h1v-1h1zM1006 644h3v1h1v1h1v3h-1v1h-1v1h-3v-1h-1v-1h-1v-3h1v-1h1zM1009 644h3v1h1v1h1v3h-1v1h-1v1h-3v-1h-1v-1h-1v-3h1v-1h1zM1013 644h3v1h1v1h1v3h-1v1h-1v1h-3v-1h-1v-1h-1v-3h1v-1h1zM1016 644h3v1h1v1h1v3h-1v1h-1v1h-3v-1h-1v-1h-1v-3h1v-1h1zM1020 644h3v1h1v1h1v3h-1v1h-1v1h-3v-1h-1v-1h-1v-3h1v-1h1zM1023 644h3v1h1v1h1v3h-1v1h-1v1h-3v-1h-1v-1h-1v-3h1v-1h1zM1027 644h3v1h1v1h1v3h-1v1h-1v1h-3v-1h-1v-1h-1v-3h1v-1h1zM1030 644h3v1h1v1h1v3h-1v1h-1v1h-3v-1h-1v-1h-1v-3h1v-1h1zM1034 644h3v1h1v1h1v3h-1v1h-1v1h-3v-1h-1v-1h-1v-3h1v-1h1zM1037 644h3v1h1v1h1v3h-1v1h-1v1h-3v-1h-1v-1h-1v-3h1v-1h1zM1041 644h3v1h1v1h1v3h-1v1h-1v1h-3v-1h-1v-1h-1v-3h1v-1h1zM1044 644h3v1h1v1h1v3h-1v1h-1v1h-3v-1h-1v-1h-1v-3h1v-1h1zM1047 644h3v1h1v1h1v3h-1v1h-1v1h-3v-1h-1v-1h-1v-3h1v-1h1zM1051 644h3v1h1v1h1v3h-1v1h-1v1h-3v-1h-1v-1h-1v-3h1v-1h1zM1054 644h3v1h1v1h1v3h-1v1h-1v1h-3v-1h-1v-1h-1v-3h1v-1h1zM1058 644h3v1h1v1h1v3h-1v1h-1v1h-3v-1h-1v-1h-1v-3h1v-1h1zM1061 644h3v1h1v1h1v3h-1v1h-1v1h-3v-1h-1v-1h-1v-3h1v-1h1zM1065 644h3v1h1v1h1v3h-1v1h-1v1h-3v-1h-1v-1h-1v-3h1v-1h1zM1068 644h3v1h1v1h1v3h-1v1h-1v1h-3v-1h-1v-1h-1v-3h1v-1h1zM1072 644h3v1h1v1h1v3h-1v1h-1v1h-3v-1h-1v-1h-1v-3h1v-1h1zM1075 644h3v1h1v1h1v3h-1v1h-1v1h-3v-1h-1v-1h-1v-3h1v-1h1zM1079 644h3v1h1v1h1v3h-1v1h-1v1h-3v-1h-1v-1h-1v-3h1v-1h1zM1082 644h3v1h1v1h1v3h-1v1h-1v1h-3v-1h-1v-1h-1v-3h1v-1h1zM1085 644h3v1h1v1h1v3h-1v1h-1v1h-3v-1h-1v-1h-1v-3h1v-1h1zM1089 644h3v1h1v1h1v3h-1v1h-1v1h-3v-1h-1v-1h-1v-3h1v-1h1zM1092 644h3v1h1v1h1v3h-1v1h-1v1h-3v-1h-1v-1h-1v-3h1v-1h1zM1096 644h3v1h1v1h1v3h-1v1h-1v1h-3v-1h-1v-1h-1v-3h1v-1h1zM1099 644h3v1h1v1h1v3h-1v1h-1v1h-3v-1h-1v-1h-1v-3h1v-1h1zM1103 644h3v1h1v1h1v3h-1v1h-1v1h-3v-1h-1v-1h-1v-3h1v-1h1zM1106 644h3v1h1v1h1v3h-1v1h-1v1h-3v-1h-1v-1h-1v-3h1v-1h1zM1110 644h3v1h1v1h1v3h-1v1h-1v1h-3v-1h-1v-1h-1v-3h1v-1h1zM1113 644h3v1h1v1h1v3h-1v1h-1v1h-3v-1h-1v-1h-1v-3h1v-1h1zM1117 644h3v1h1v1h1v3h-1v1h-1v1h-3v-1h-1v-1h-1v-3h1v-1h1zM1120 644h3v1h1v1h1v3h-1v1h-1v1h-3v-1h-1v-1h-1v-3h1v-1h1zM1123 644h3v1h1v1h1v3h-1v1h-1v1h-3v-1h-1v-1h-1v-3h1v-1h1zM1127 644h3v1h1v1h1v3h-1v1h-1v1h-3v-1h-1v-1h-1v-3h1v-1h1zM1130 644h3v1h1v1h1v3h-1v1h-1v1h-3v-1h-1v-1h-1v-3h1v-1h1zM1134 644h3v1h1v1h1v3h-1v1h-1v1h-3v-1h-1v-1h-1v-3h1v-1h1zM1137 644h3v1h1v1h1v3h-1v1h-1v1h-3v-1h-1v-1h-1v-3h1v-1h1zM1141 644h3v1h1v1h1v3h-1v1h-1v1h-3v-1h-1v-1h-1v-3h1v-1h1zM1144 644h3v1h1v1h1v3h-1v1h-1v1h-3v-1h-1v-1h-1v-3h1v-1h1zM1148 644h3v1h1v1h1v3h-1v1h-1v1h-3v-1h-1v-1h-1v-3h1v-1h1zM1151 644h3v1h1v1h1v3h-1v1h-1v1h-3v-1h-1v-1h-1v-3h1v-1h1zM1155 644h3v1h1v1h1v3h-1v1h-1v1h-3v-1h-1v-1h-1v-3h1v-1h1zM1158 644h3v1h1v1h1v3h-1v1h-1v1h-3v-1h-1v-1h-1v-3h1v-1h1zM1161 644h3v1h1v1h1v3h-1v1h-1v1h-3v-1h-1v-1h-1v-3h1v-1h1zM1165 644h3v1h1v1h1v3h-1v1h-1v1h-3v-1h-1v-1h-1v-3h1v-1h1zM1168 644h3v1h1v1h1v3h-1v1h-1v1h-3v-1h-1v-1h-1v-3h1v-1h1zM1172 644h3v1h1v1h1v3h-1v1h-1v1h-3v-1h-1v-1h-1v-3h1v-1h1zM1175 644h3v1h1v1h1v3h-1v1h-1v1h-3v-1h-1v-1h-1v-3h1v-1h1zM1179 644h3v1h1v1h1v3h-1v1h-1v1h-3v-1h-1v-1h-1v-3h1v-1h1zM1182 644h3v1h1v1h1v3h-1v1h-1v1h-3v-1h-1v-1h-1v-3h1v-1h1zM1186 644h3v1h1v1h1v3h-1v1h-1v1h-3v-1h-1v-1h-1v-3h1v-1h1zM1189 644h3v1h1v1h1v3h-1v1h-1v1h-3v-1h-1v-1h-1v-3h1v-1h1zM1193 644h3v1h1v1h1v3h-1v1h-1v1h-3v-1h-1v-1h-1v-3h1v-1h1zM1196 644h3v1h1v1h1v3h-1v1h-1v1h-3v-1h-1v-1h-1v-3h1v-1h1zM1199 644h3v1h1v1h1v3h-1v1h-1v1h-3v-1h-1v-1h-1v-3h1v-1h1zM1203 644h3v1h1v1h1v3h-1v1h-1v1h-3v-1h-1v-1h-1v-3h1v-1h1zM1206 644h3v1h1v1h1v3h-1v1h-1v1h-3v-1h-1v-1h-1v-3h1v-1h1zM1210 644h3v1h1v1h1v3h-1v1h-1v1h-3v-1h-1v-1h-1v-3h1v-1h1zM1213 644h3v1h1v1h1v3h-1v1h-1v1h-3v-1h-1v-1h-1v-3h1v-1h1zM1217 644h3v1h1v1h1v3h-1v1h-1v1h-3v-1h-1v-1h-1v-3h1v-1h1zM1220 644h3v1h1v1h1v3h-1v1h-1v1h-3v-1h-1v-1h-1v-3h1v-1h1zM1224 644h3v1h1v1h1v3h-1v1h-1v1h-3v-1h-1v-1h-1v-3h1v-1h1zM1227 644h3v1h1v1h1v3h-1v1h-1v1h-3v-1h-1v-1h-1v-3h1v-1h1zM1231 644h3v1h1v1h1v3h-1v1h-1v1h-3v-1h-1v-1h-1v-3h1v-1h1zM1234 644h3v1h1v1h1v3h-1v1h-1v1h-3v-1h-1v-1h-1v-3h1v-1h1zM1237 644h3v1h1v1h1v3h-1v1h-1v1h-3v-1h-1v-1h-1v-3h1v-1h1zM1241 644h3v1h1v1h1v3h-1v1h-1v1h-3v-1h-1v-1h-1v-3h1v-1h1zM1244 644h3v1h1v1h1v3h-1v1h-1v1h-3v-1h-1v-1h-1v-3h1v-1h1zM1248 644h3v1h1v1h1v3h-1v1h-1v1h-3v-1h-1v-1h-1v-3h1v-1h1zM1251 644h3v1h1v1h1v3h-1v1h-1v1h-3v-1h-1v-1h-1v-3h1v-1h1zM1255 644h3v1h1v1h1v3h-1v1h-1v1h-3v-1h-1v-1h-1v-3h1v-1h1zM1258 644h3v1h1v1h1v3h-1v1h-1v1h-3v-1h-1v-1h-1v-3h1v-1h1zM1262 644h3v1h1v1h1v3h-1v1h-1v1h-3v-1h-1v-1h-1v-3h1v-1h1zM1265 644h3v1h1v1h1v3h-1v1h-1v1h-3v-1h-1v-1h-1v-3h1v-1h1zM1269 644h3v1h1v1h1v3h-1v1h-1v1h-3v-1h-1v-1h-1v-3h1v-1h1zM1272 644h3v1h1v1h1v3h-1v1h-1v1h-3v-1h-1v-1h-1v-3h1v-1h1zM1275 644h3v1h1v1h1v3h-1v1h-1v1h-3v-1h-1v-1h-1v-3h1v-1h1zM1279 644h3v1h1v1h1v3h-1v1h-1v1h-3v-1h-1v-1h-1v-3h1v-1h1zM1282 644h3v1h1v1h1v3h-1v1h-1v1h-3v-1h-1v-1h-1v-3h1v-1h1zM1286 644h3v1h1v1h1v3h-1v1h-1v1h-3v-1h-1v-1h-1v-3h1v-1h1zM1289 644h3v1h1v1h1v3h-1v1h-1v1h-3v-1h-1v-1h-1v-3h1v-1h1zM1293 644h3v1h1v1h1v3h-1v1h-1v1h-3v-1h-1v-1h-1v-3h1v-1h1zM1296 644h3v1h1v1h1v3h-1v1h-1v1h-3v-1h-1v-1h-1v-3h1v-1h1zM1300 644h3v1h1v1h1v3h-1v1h-1v1h-3v-1h-1v-1h-1v-3h1v-1h1zM1303 644h3v1h1v1h1v3h-1v1h-1v1h-3v-1h-1v-1h-1v-3h1v-1h1zM1307 644h3v1h1v1h1v3h-1v1h-1v1h-3v-1h-1v-1h-1v-3h1v-1h1zM1310 644h3v1h1v1h1v3h-1v1h-1v1h-3v-1h-1v-1h-1v-3h1v-1h1zM1313 644h3v1h1v1h1v3h-1v1h-1v1h-3v-1h-1v-1h-1v-3h1v-1h1zM1317 644h3v1h1v1h1v3h-1v1h-1v1h-3v-1h-1v-1h-1v-3h1v-1h1zM1320 644h3v1h1v1h1v3h-1v1h-1v1h-3v-1h-1v-1h-1v-3h1v-1h1zM1324 644h3v1h1v1h1v3h-1v1h-1v1h-3v-1h-1v-1h-1v-3h1v-1h1zM1327 644h3v1h1v1h1v3h-1v1h-1v1h-3v-1h-1v-1h-1v-3h1v-1h1zM1331 644h3v1h1v1h1v3h-1v1h-1v1h-3v-1h-1v-1h-1v-3h1v-1h1zM1334 644h3v1h1v1h1v3h-1v1h-1v1h-3v-1h-1v-1h-1v-3h1v-1h1zM1338 644h3v1h1v1h1v3h-1v1h-1v1h-3v-1h-1v-1h-1v-3h1v-1h1zM1341 644h3v1h1v1h1v3h-1v1h-1v1h-3v-1h-1v-1h-1v-3h1v-1h1zM1345 644h3v1h1v1h1v3h-1v1h-1v1h-3v-1h-1v-1h-1v-3h1v-1h1zM1348 644h3v1h1v1h1v3h-1v1h-1v1h-3v-1h-1v-1h-1v-3h1v-1h1zM1351 644h3v1h1v1h1v3h-1v1h-1v1h-3v-1h-1v-1h-1v-3h1v-1h1zM1355 644h3v1h1v1h1v3h-1v1h-1v1h-3v-1h-1v-1h-1v-3h1v-1h1zM1358 644h3v1h1v1h1v3h-1v1h-1v1h-3v-1h-1v-1h-1v-3h1v-1h1zM1362 644h3v1h1v1h1v3h-1v1h-1v1h-3v-1h-1v-1h-1v-3h1v-1h1zM1365 644h3v1h1v1h1v3h-1v1h-1v1h-3v-1h-1v-1h-1v-3h1v-1h1zM1369 644h3v1h1v1h1v3h-1v1h-1v1h-3v-1h-1v-1h-1v-3h1v-1h1zM1372 644h3v1h1v1h1v3h-1v1h-1v1h-3v-1h-1v-1h-1v-3h1v-1h1zM1376 644h3v1h1v1h1v3h-1v1h-1v1h-3v-1h-1v-1h-1v-3h1v-1h1zM1379 644h3v1h1v1h1v3h-1v1h-1v1h-3v-1h-1v-1h-1v-3h1v-1h1zM1383 644h3v1h1v1h1v3h-1v1h-1v1h-3v-1h-1v-1h-1v-3h1v-1h1zM1386 644h3v1h1v1h1v3h-1v1h-1v1h-3v-1h-1v-1h-1v-3h1v-1h1zM1389 644h3v1h1v1h1v3h-1v1h-1v1h-3v-1h-1v-1h-1v-3h1v-1h1zM1393 644h3v1h1v1h1v3h-1v1h-1v1h-3v-1h-1v-1h-1v-3h1v-1h1zM1396 644h3v1h1v1h1v3h-1v1h-1v1h-3v-1h-1v-1h-1v-3h1v-1h1zM1400 644h3v1h1v1h1v3h-1v1h-1v1h-3v-1h-1v-1h-1v-3h1v-1h1zM1403 644h3v1h1v1h1v3h-1v1h-1v1h-3v-1h-1v-1h-1v-3h1v-1h1zM1407 644h3v1h1v1h1v3h-1v1h-1v1h-3v-1h-1v-1h-1v-3h1v-1h1zM1410 644h3v1h1v1h1v3h-1v1h-1v1h-3v-1h-1v-1h-1v-3h1v-1h1zM1414 644h3v1h1v1h1v3h-1v1h-1v1h-3v-1h-1v-1h-1v-3h1v-1h1zM1417 644h3v1h1v1h1v3h-1v1h-1v1h-3v-1h-1v-1h-1v-3h1v-1h1zM1421 644h3v1h1v1h1v3h-1v1h-1v1h-3v-1h-1v-1h-1v-3h1v-1h1zM1424 644h3v1h1v1h1v3h-1v1h-1v1h-3v-1h-1v-1h-1v-3h1v-1h1zM1427 644h3v1h1v1h1v3h-1v1h-1v1h-3v-1h-1v-1h-1v-3h1v-1h1zM1431 644h3v1h1v1h1v3h-1v1h-1v1h-3v-1h-1v-1h-1v-3h1v-1h1zM1434 644h3v1h1v1h1v3h-1v1h-1v1h-3v-1h-1v-1h-1v-3h1v-1h1zM1438 644h3v1h1v1h1v3h-1v1h-1v1h-3v-1h-1v-1h-1v-3h1v-1h1zM1441 644h3v1h1v1h1v3h-1v1h-1v1h-3v-1h-1v-1h-1v-3h1v-1h1zM1445 644h3v1h1v1h1v3h-1v1h-1v1h-3v-1h-1v-1h-1v-3h1v-1h1zM1448 644h3v1h1v1h1v3h-1v1h-1v1h-3v-1h-1v-1h-1v-3h1v-1h1zM1452 644h3v1h1v1h1v3h-1v1h-1v1h-3v-1h-1v-1h-1v-3h1v-1h1zM1455 644h3v1h1v1h1v3h-1v1h-1v1h-3v-1h-1v-1h-1v-3h1v-1h1zM1459 644h3v1h1v1h1v3h-1v1h-1v1h-3v-1h-1v-1h-1v-3h1v-1h1zM1462 644h3v1h1v1h1v3h-1v1h-1v1h-3v-1h-1v-1h-1v-3h1v-1h1zM1465 644h3v1h1v1h1v3h-1v1h-1v1h-3v-1h-1v-1h-1v-3h1v-1h1zM1469 644h3v1h1v1h1v3h-1v1h-1v1h-3v-1h-1v-1h-1v-3h1v-1h1zM1472 644h3v1h1v1h1v3h-1v1h-1v1h-3v-1h-1v-1h-1v-3h1v-1h1zM1476 644h3v1h1v1h1v3h-1v1h-1v1h-3v-1h-1v-1h-1v-3h1v-1h1zM1479 644h3v1h1v1h1v3h-1v1h-1v1h-3v-1h-1v-1h-1v-3h1v-1h1zM1483 644h3v1h1v1h1v3h-1v1h-1v1h-3v-1h-1v-1h-1v-3h1v-1h1zM1486 644h3v1h1v1h1v3h-1v1h-1v1h-3v-1h-1v-1h-1v-3h1v-1h1zM1490 644h3v1h1v1h1v3h-1v1h-1v1h-3v-1h-1v-1h-1v-3h1v-1h1zM1493 644h3v1h1v1h1v3h-1v1h-1v1h-3v-1h-1v-1h-1v-3h1v-1h1zM1497 644h3v1h1v1h1v3h-1v1h-1v1h-3v-1h-1v-1h-1v-3h1v-1h1zM1500 644h3v1h1v1h1v3h-1v1h-1v1h-3v-1h-1v-1h-1v-3h1v-1h1zM1503 644h3v1h1v1h1v3h-1v1h-1v1h-3v-1h-1v-1h-1v-3h1v-1h1zM1507 644h3v1h1v1h1v3h-1v1h-1v1h-3v-1h-1v-1h-1v-3h1v-1h1zM1510 644h3v1h1v1h1v3h-1v1h-1v1h-3v-1h-1v-1h-1v-3h1v-1h1zM1514 644h3v1h1v1h1v3h-1v1h-1v1h-3v-1h-1v-1h-1v-3h1v-1h1zM1517 644h3v1h1v1h1v3h-1v1h-1v1h-3v-1h-1v-1h-1v-3h1v-1h1zM1521 644h3v1h1v1h1v3h-1v1h-1v1h-3v-1h-1v-1h-1v-3h1v-1h1zM1524 644h3v1h1v1h1v3h-1v1h-1v1h-3v-1h-1v-1h-1v-3h1v-1h1zM1528 644h3v1h1v1h1v3h-1v1h-1v1h-3v-1h-1v-1h-1v-3h1v-1h1zM1531 644h3v1h1v1h1v3h-1v1h-1v1h-3v-1h-1v-1h-1v-3h1v-1h1zM1534 644h3v1h1v1h1v3h-1v1h-1v1h-3v-1h-1v-1h-1v-3h1v-1h1zM1538 644h3v1h1v1h1v3h-1v1h-1v1h-3v-1h-1v-1h-1v-3h1v-1h1zM1541 644h3v1h1v1h1v3h-1v1h-1v1h-3v-1h-1v-1h-1v-3h1v-1h1zM1545 644h3v1h1v1h1v3h-1v1h-1v1h-3v-1h-1v-1h-1v-3h1v-1h1zM1548 644h3v1h1v1h1v3h-1v1h-1v1h-3v-1h-1v-1h-1v-3h1v-1h1zM1552 644h3v1h1v1h1v3h-1v1h-1v1h-3v-1h-1v-1h-1v-3h1v-1h1zM1555 644h3v1h1v1h1v3h-1v1h-1v1h-3v-1h-1v-1h-1v-3h1v-1h1zM1559 644h3v1h1v1h1v3h-1v1h-1v1h-3v-1h-1v-1h-1v-3h1v-1h1zM1562 644h3v1h1v1h1v3h-1v1h-1v1h-3v-1h-1v-1h-1v-3h1v-1h1zM1566 644h3v1h1v1h1v3h-1v1h-1v1h-3v-1h-1v-1h-1v-3h1v-1h1zM1569 644h3v1h1v1h1v3h-1v1h-1v1h-3v-1h-1v-1h-1v-3h1v-1h1zM1572 644h3v1h1v1h1v3h-1v1h-1v1h-3v-1h-1v-1h-1v-3h1v-1h1zM1576 644h3v1h1v1h1v3h-1v1h-1v1h-3v-1h-1v-1h-1v-3h1v-1h1zM1579 644h3v1h1v1h1v3h-1v1h-1v1h-3v-1h-1v-1h-1v-3h1v-1h1zM1583 644h3v1h1v1h1v3h-1v1h-1v1h-3v-1h-1v-1h-1v-3h1v-1h1zM1586 644h3v1h1v1h1v3h-1v1h-1v1h-3v-1h-1v-1h-1v-3h1v-1h1zM1590 644h3v1h1v1h1v3h-1v1h-1v1h-3v-1h-1v-1h-1v-3h1v-1h1zM1593 644h3v1h1v1h1v3h-1v1h-1v1h-3v-1h-1v-1h-1v-3h1v-1h1zM1597 644h3v1h1v1h1v3h-1v1h-1v1h-3v-1h-1v-1h-1v-3h1v-1h1zM1600 644h3v1h1v1h1v3h-1v1h-1v1h-3v-1h-1v-1h-1v-3h1v-1h1zM1604 644h3v1h1v1h1v3h-1v1h-1v1h-3v-1h-1v-1h-1v-3h1v-1h1zM1607 644h3v1h1v1h1v3h-1v1h-1v1h-3v-1h-1v-1h-1v-3h1v-1h1zM1610 644h3v1h1v1h1v3h-1v1h-1v1h-3v-1h-1v-1h-1v-3h1v-1h1zM1614 644h3v1h1v1h1v3h-1v1h-1v1h-3v-1h-1v-1h-1v-3h1v-1h1zM1617 644h3v1h1v1h1v3h-1v1h-1v1h-3v-1h-1v-1h-1v-3h1v-1h1zM1621 644h3v1h1v1h1v3h-1v1h-1v1h-3v-1h-1v-1h-1v-3h1v-1h1zM1624 644h3v1h1v1h1v3h-1v1h-1v1h-3v-1h-1v-1h-1v-3h1v-1h1zM1628 644h3v1h1v1h1v3h-1v1h-1v1h-3v-1h-1v-1h-1v-3h1v-1h1zM1631 644h3v1h1v1h1v3h-1v1h-1v1h-3v-1h-1v-1h-1v-3h1v-1h1zM1635 644h3v1h1v1h1v3h-1v1h-1v1h-3v-1h-1v-1h-1v-3h1v-1h1zM1638 644h3v1h1v1h1v3h-1v1h-1v1h-3v-1h-1v-1h-1v-3h1v-1h1zM1642 644h3v1h1v1h1v3h-1v1h-1v1h-3v-1h-1v-1h-1v-3h1v-1h1zM1645 644h3v1h1v1h1v3h-1v1h-1v1h-3v-1h-1v-1h-1v-3h1v-1h1zM1648 644h3v1h1v1h1v3h-1v1h-1v1h-3v-1h-1v-1h-1v-3h1v-1h1zM1652 644h3v1h1v1h1v3h-1v1h-1v1h-3v-1h-1v-1h-1v-3h1v-1h1zM1655 644h3v1h1v1h1v3h-1v1h-1v1h-3v-1h-1v-1h-1v-3h1v-1h1zM1659 644h3v1h1v1h1v3h-1v1h-1v1h-3v-1h-1v-1h-1v-3h1v-1h1zM1662 644h3v1h1v1h1v3h-1v1h-1v1h-3v-1h-1v-1h-1v-3h1v-1h1zM1666 644h3v1h1v1h1v3h-1v1h-1v1h-3v-1h-1v-1h-1v-3h1v-1h1zM1669 644h3v1h1v1h1v3h-1v1h-1v1h-3v-1h-1v-1h-1v-3h1v-1h1zM1673 644h3v1h1v1h1v3h-1v1h-1v1h-3v-1h-1v-1h-1v-3h1v-1h1zM1676 644h3v1h1v1h1v3h-1v1h-1v1h-3v-1h-1v-1h-1v-3h1v-1h1zM1680 644h3v1h1v1h1v3h-1v1h-1v1h-3v-1h-1v-1h-1v-3h1v-1h1zM1683 644h3v1h1v1h1v3h-1v1h-1v1h-3v-1h-1v-1h-1v-3h1v-1h1zM1686 644h3v1h1v1h1v3h-1v1h-1v1h-3v-1h-1v-1h-1v-3h1v-1h1zM1690 644h3v1h1v1h1v3h-1v1h-1v1h-3v-1h-1v-1h-1v-3h1v-1h1zM1693 644h3v1h1v1h1v3h-1v1h-1v1h-3v-1h-1v-1h-1v-3h1v-1h1zM1697 644h3v1h1v1h1v3h-1v1h-1v1h-3v-1h-1v-1h-1v-3h1v-1h1zM1700 644h3v1h1v1h1v3h-1v1h-1v1h-3v-1h-1v-1h-1v-3h1v-1h1zM1704 644h3v1h1v1h1v3h-1v1h-1v1h-3v-1h-1v-1h-1v-3h1v-1h1zM1707 644h3v1h1v1h1v3h-1v1h-1v1h-3v-1h-1v-1h-1v-3h1v-1h1zM1711 644h3v1h1v1h1v3h-1v1h-1v1h-3v-1h-1v-1h-1v-3h1v-1h1zM1714 644h3v1h1v1h1v3h-1v1h-1v1h-3v-1h-1v-1h-1v-3h1v-1h1zM1718 644h3v1h1v1h1v3h-1v1h-1v1h-3v-1h-1v-1h-1v-3h1v-1h1zM1721 644h3v1h1v1h1v3h-1v1h-1v1h-3v-1h-1v-1h-1v-3h1v-1h1zM1724 644h3v1h1v1h1v3h-1v1h-1v1h-3v-1h-1v-1h-1v-3h1v-1h1zM1728 644h3v1h1v1h1v3h-1v1h-1v1h-3v-1h-1v-1h-1v-3h1v-1h1zM1731 644h3v1h1v1h1v3h-1v1h-1v1h-3v-1h-1v-1h-1v-3h1v-1h1zM1735 644h3v1h1v1h1v3h-1v1h-1v1h-3v-1h-1v-1h-1v-3h1v-1h1zM1738 644h3v1h1v1h1v3h-1v1h-1v1h-3v-1h-1v-1h-1v-3h1v-1h1zM1742 644h3v1h1v1h1v3h-1v1h-1v1h-3v-1h-1v-1h-1v-3h1v-1h1zM1745 644h3v1h1v1h1v3h-1v1h-1v1h-3v-1h-1v-1h-1v-3h1v-1h1zM1749 644h3v1h1v1h1v3h-1v1h-1v1h-3v-1h-1v-1h-1v-3h1v-1h1zM1752 644h3v1h1v1h1v3h-1v1h-1v1h-3v-1h-1v-1h-1v-3h1v-1h1zM1756 644h3v1h1v1h1v3h-1v1h-1v1h-3v-1h-1v-1h-1v-3h1v-1h1zM1759 644h3v1h1v1h1v3h-1v1h-1v1h-3v-1h-1v-1h-1v-3h1v-1h1zM1762 644h3v1h1v1h1v3h-1v1h-1v1h-3v-1h-1v-1h-1v-3h1v-1h1zM1766 644h3v1h1v1h1v3h-1v1h-1v1h-3v-1h-1v-1h-1v-3h1v-1h1zM1769 644h3v1h1v1h1v3h-1v1h-1v1h-3v-1h-1v-1h-1v-3h1v-1h1zM1773 644h3v1h1v1h1v3h-1v1h-1v1h-3v-1h-1v-1h-1v-3h1v-1h1zM1776 644h3v1h1v1h1v3h-1v1h-1v1h-3v-1h-1v-1h-1v-3h1v-1h1zM1780 629h3v1h1v1h1v3h-1v1h-1v1h-3v-1h-1v-1h-1v-3h1v-1h1zM1783 629h3v1h1v1h1v3h-1v1h-1v1h-3v-1h-1v-1h-1v-3h1v-1h1z" fill="#ED7D31"/>
<polyline points="1621.8,165.5 1629.5,165.5" fill="none" stroke="#4472C4" stroke-width="2.25" stroke-linejoin="round" stroke-linecap="round"/>
<path d="M1620 162h3v1h1v1h1v3h-1v1h-1v1h-3v-1h-1v-1h-1v-3h1v-1h1zM1628 162h3v1h1v1h1v3h-1v1h-1v1h-3v-1h-1v-1h-1v-3h1v-1h1z" fill="#4472C4"/>
<polyline points="174.5,570.3 178.1,570.3 181.6,570.3 185.2,570.3 188.7,570.3 192.3,570.3 195.9,570.3 199.4,570.3 203,570.3 206.5,570.3 210.1,570.3 213.3,571.9 216.6,573.5 220.4,573.5 224.1,573.5 227.9,573.5 231.1,570.3 234.3,577.5 237.6,573.2 240.8,582.9 244.4,580.6 248.1,578.3 251.3,580.8 255,578.6 258.6,576.4 261.8,576.2 265.1,576.1 268.3,575.9 273.1,579.1 278,584 282.8,587.2 285.3,580.3 289.3,580.3 293.3,588.8 296.6,577 300.6,584.8 303.8,579.1 307.1,578.3 310.3,577.5 313.9,577.7 317.4,577.9 321,578.1 324.5,578.3 328.1,578.5 331.7,578.7 335.2,578.9 338.8,579.1 342.3,579.3 345.9,579.5 349.1,582.7 352.6,582.7 356.1,582.7 359.6,582.7 363,582.7 366.5,582.7 370,582.7 373.5,582.7 377,582.7 380.5,582.7 383.9,582.7 387.4,582.7 390.9,582.7 394.4,582.7 396.8,585.6 400.8,582.4 402.4,592.6 406.4,594.4 410.5,596.1 413.8,591.3 417.4,592.9 421,594.5 424.3,578.3 427.5,583.2 430.7,535.5 434.1,535.5 437.6,535.5 441.1,535.5 444.5,535.5 448.5,531.5 451.4,534 454.2,536.6 457.7,536.5 461.2,536.4 464.7,536.3 469.5,539.9 472.9,539.9 476.2,539.9 479.6,539.9 482.9,539.9 486.3,539.9 489.7,539.9 493,539.9 496.4,539.9 499.8,539.9 503.1,539.9 506.5,539.9 509.8,539.9 513.2,539.9 518,541.2 521.9,541.2 525.8,541.2 529.6,541.2 533.5,541.2 537.4,541.2 542.3,542 546.1,542 549.8,542 553.6,542 557.7,544 561.7,546 564.9,544 568.1,542 573,537.9 575.4,548.4 579.5,545.2 582.7,547.6 585.9,546 590,547.5 594,548.9 597.9,548.9 601.8,548.9 605.6,548.9 609.5,548.9 613.4,548.9 616.6,554.9 619.9,538.3 623.7,538.3 627.4,538.3 631.2,538.3 633.6,544.4 637.1,544.4 640.5,544.4 644,544.4 647.5,544.4 651,544.4 654.4,544.4 657.9,544.4 661.4,544.4 664.8,544.4 668.3,544.4 673.2,546 677,546.4 680.7,546.9 684.5,547.3 688.3,547.3 692,547.3 695.8,547.3 699.6,547.3 703.3,547.3 707.1,547.3 712,548.4 716,548.4 720.1,548.4 723.3,549.6 726.5,550.9 730.1,552.1 733.8,553.3 737.9,547.6 741.9,550.9 745.9,548.4 750.5,548.8 755,549.2 759,549.2 762.9,549.2 767.8,552.5 771,552.5 774.3,552.5 777.5,552.5 783.1,558.9 786.4,550.5 790.4,556.5 793.6,551.2 797.2,551.2 800.7,551.2 804.3,551.2 807.8,551.2 811.4,551.2 814.7,553.8 818.3,553.3 822,552.8 825.6,552.2 829.2,551.7 834,555.7 837.5,555.7 841.1,555.7 844.6,555.7 848.1,555.7 851.6,555.7 855.2,555.7 858.7,555.7 862.2,555.7 865.7,555.7 869.3,555.7 872.8,555.7 877.7,557 880.9,557 884.2,557 887.4,557 890.7,557 893.9,557 898.7,558.9 903.5,557.3 907.6,552.5 910,561.4 913.2,554.9 917.3,553.3 920.5,561.4 924.6,563.8 928.6,561.8 932.6,559.8 935.5,560.8 938.3,561.9 941.5,550.9 945.1,551.5 948.8,552.2 952,559.3 955.2,559.3 958.5,559.3 961.8,559.3 965,559.3 966.6,561.4 969,552.5 972.4,552.5 975.7,552.5 979.1,552.5 982.5,552.5 985.8,552.5 989.2,552.5 994.1,554.9 997.5,554.9 1000.9,554.9 1004.3,554.9 1007.7,554.9 1011.1,554.9 1014.5,554.9 1017.9,554.9 1021.2,554.9 1024.6,554.9 1028,554.9 1031.4,554.9 1034.8,554.9 1038.2,554.9 1041.6,554.9 1045,554.9 1049.8,554.1 1054.7,556.5 1059.5,559.8 1062.8,556.5 1066,563 1069.2,557.3 1073.2,557.3 1077.3,557.3 1080.6,559.8 1083.8,555.7 1087,557.4 1090.3,559 1093.2,565.7 1097.5,557 1100.8,563.8 1104.8,549.2 1108.2,549.2 1111.5,549.2 1114.9,549.2 1118.3,549.2 1121.6,549.2 1125,549.2 1129,559 1132.5,559 1135.9,559.1 1139.4,559.1 1142.9,559.1 1146.3,559.2 1149.8,559.2 1153.2,559.2 1156.7,559.3 1160.2,559.3 1163.6,559.4 1167.1,559.4 1170.6,559.4 1174,559.5 1177.5,559.5 1180.8,561.9 1184.3,561.9 1187.7,561.9 1191.2,561.9 1194.6,561.9 1198.1,561.9 1201.5,561.9 1205,561.9 1208.2,562.3 1211.5,562.6 1214.7,563 1218,564 1221.2,565.1 1226,562.2 1230.9,566.2 1235,565.4 1239,564.6 1242.2,557 1245.4,564.6 1249.5,565.7 1251.9,550.1 1255.1,549.9 1258.3,549.7 1261.6,549.6 1264.8,549.4 1268,549.2 1271.9,549.7 1275.8,550.2 1279.6,550.7 1283.5,551.2 1287.4,551.7 1290.7,553.3 1294.7,561.9 1297.1,558.1 1300.5,558.1 1303.8,558.1 1307.2,558.1 1310.5,558.1 1313.9,558.1 1317.3,558.1 1320.6,558.1 1324,558.1 1327.4,558.1 1330.7,558.1 1334.1,558.1 1337.4,558.1 1340.8,558.1 1344.8,561.9 1348.3,561.9 1351.7,561.9 1355.2,561.9 1358.7,561.9 1362.2,561.9 1365.6,561.9 1369.1,561.9 1373.9,563 1377.1,563 1380.4,563 1383.6,563 1388.5,565.4 1391.8,567.2 1395,569 1397.4,564.1 1401.4,569 1404.7,565.5 1407.9,561.9 1411.1,563.2 1414.3,564.6 1419.2,559.8 1422.5,560.3 1425.7,560.9 1428.1,556 1432.5,555 1437,554.1 1441.8,552.5 1446.7,555.7 1449.9,556.5 1453.1,557.3 1456.3,556.6 1459.6,556 1463.6,564.6 1468,562.8 1472.5,560.9 1476.4,560.9 1480.3,560.9 1484.1,560.9 1488,560.9 1491.9,560.9 1494.4,559.3 1500,564.1 1503.5,564 1506.9,563.9 1510.4,563.9 1513.9,563.8 1517.3,563.7 1520.8,563.6 1524.2,563.5 1527.7,563.5 1531.2,563.4 1534.6,563.3 1538.1,563.2 1541.6,563.2 1545,563.1 1548.5,563 1553.3,566.2 1556.2,568.7 1559,571.1 1562.7,567.9 1566.3,564.6 1569.5,568.7 1572.7,572.7 1576.8,572.3 1580.8,571.9 1583.2,566.2 1586.8,566.2 1590.5,566.3 1594.1,566.3 1597.8,566.4 1601.4,566.4 1605,566.4 1608.7,566.5 1612.3,566.5 1616,566.6 1619.6,566.6 1621.2,575.9 1626.1,577.5 1630.1,574.3 1632.6,568.6 1636,568.6 1639.4,568.6 1642.9,568.6 1646.3,568.6 1649.7,568.6 1653.1,568.6 1656.5,568.6 1660,568.6 1663.4,568.6 1666.8,568.5 1670.2,568.5 1673.6,568.5 1677.1,568.5 1680.5,568.5 1683.9,568.5 1687.3,568.5 1690.7,568.5 1694.2,568.5 1697.6,568.5 1701,568.5 1704.7,570.4 1708,570.4 1711.3,570.4 1714.7,570.4 1718,570.4 1721.3,570.4 1725.9,572.2 1731.4,577.8 1735.6,577.1 1739.7,576.4 1742.5,577.8 1745.7,573.8 1748.9,569.9 1753.5,569.9 1758.1,574.5 1763.6,579.1 1766.4,575.5 1771,579.1 1774.7,577.3 1777.5,569.9 1780.7,569.9 1784.4,574.5" fill="none" stroke="#255E91" stroke-width="2.25" stroke-linejoin="round" stroke-linecap="round"/>
<path d="M173 567h3v1h1v1h1v3h-1v1h-1v1h-3v-1h-1v-1h-1v-3h1v-1h1zM177 567h3v1h1v1h1v3h-1v1h-1v1h-3v-1h-1v-1h-1v-3h1v-1h1zM180 567h3v1h1v1h1v3h-1v1h-1v1h-3v-1h-1v-1h-1v-3h1v-1h1zM184 567h3v1h1v1h1v3h-1v1h-1v1h-3v-1h-1v-1h-1v-3h1v-1h1zM187 567h3v1h1v1h1v3h-1v1h-1v1h-3v-1h-1v-1h-1v-3h1v-1h1zM191 567h3v1h1v1h1v3h-1v1h-1v1h-3v-1h-1v-1h-1v-3h1v-1h1zM194 567h3v1h1v1h1v3h-1v1h-1v1h-3v-1h-1v-1h-1v-3h1v-1h1zM198 567h3v1h1v1h1v3h-1v1h-1v1h-3v-1h-1v-1h-1v-3h1v-1h1zM201 567h3v1h1v1h1v3h-1v1h-1v1h-3v-1h-1v-1h-1v-3h1v-1h1zM205 567h3v1h1v1h1v3h-1v1h-1v1h-3v-1h-1v-1h-1v-3h1v-1h1zM209 567h3v1h1v1h1v3h-1v1h-1v1h-3v-1h-1v-1h-1v-3h1v-1h1zM212 568h3v1h1v1h1v3h-1v1h-1v1h-3v-1h-1v-1h-1v-3h1v-1h1zM215 570h3v1h1v1h1v3h-1v1h-1v1h-3v-1h-1v-1h-1v-3h1v-1h1zM219 570h3v1h1v1h1v3h-1v1h-1v1h-3v-1h-1v-1h-1v-3h1v-1h1zM223 570h3v1h1v1h1v3h-1v1h-1v1h-3v-1h-1v-1h-1v-3h1v-1h1zM226 570h3v1h1v1h1v3h-1v1h-1v1h-3v-1h-1v-1h-1v-3h1v-1h1zM230 567h3v1h1v1h1v3h-1v1h-1v1h-3v-1h-1v-1h-1v-3h1v-1h1zM233 574h3v1h1v1h1v3h-1v1h-1v1h-3v-1h-1v-1h-1v-3h1v-1h1zM236 570h3v1h1v1h1v3h-1v1h-1v1h-3v-1h-1v-1h-1v-3h1v-1h1zM239 579h3v1h1v1h1v3h-1v1h-1v1h-3v-1h-1v-1h-1v-3h1v-1h1zM243 577h3v1h1v1h1v3h-1v1h-1v1h-3v-1h-1v-1h-1v-3h1v-1h1zM247 575h3v1h1v1h1v3h-1v1h-1v1h-3v-1h-1v-1h-1v-3h1v-1h1zM250 577h3v1h1v1h1v3h-1v1h-1v1h-3v-1h-1v-1h-1v-3h1v-1h1zM253 575h3v1h1v1h1v3h-1v1h-1v1h-3v-1h-1v-1h-1v-3h1v-1h1zM257 573h3v1h1v1h1v3h-1v1h-1v1h-3v-1h-1v-1h-1v-3h1v-1h1zM260 573h3v1h1v1h1v3h-1v1h-1v1h-3v-1h-1v-1h-1v-3h1v-1h1zM264 573h3v1h1v1h1v3h-1v1h-1v1h-3v-1h-1v-1h-1v-3h1v-1h1zM267 572h3v1h1v1h1v3h-1v1h-1v1h-3v-1h-1v-1h-1v-3h1v-1h1zM272 576h3v1h1v1h1v3h-1v1h-1v1h-3v-1h-1v-1h-1v-3h1v-1h1zM277 581h3v1h1v1h1v3h-1v1h-1v1h-3v-1h-1v-1h-1v-3h1v-1h1zM281 584h3v1h1v1h1v3h-1v1h-1v1h-3v-1h-1v-1h-1v-3h1v-1h1zM284 577h3v1h1v1h1v3h-1v1h-1v1h-3v-1h-1v-1h-1v-3h1v-1h1zM288 577h3v1h1v1h1v3h-1v1h-1v1h-3v-1h-1v-1h-1v-3h1v-1h1zM292 585h3v1h1v1h1v3h-1v1h-1v1h-3v-1h-1v-1h-1v-3h1v-1h1zM295 574h3v1h1v1h1v3h-1v1h-1v1h-3v-1h-1v-1h-1v-3h1v-1h1zM299 581h3v1h1v1h1v3h-1v1h-1v1h-3v-1h-1v-1h-1v-3h1v-1h1zM302 576h3v1h1v1h1v3h-1v1h-1v1h-3v-1h-1v-1h-1v-3h1v-1h1zM306 575h3v1h1v1h1v3h-1v1h-1v1h-3v-1h-1v-1h-1v-3h1v-1h1zM309 574h3v1h1v1h1v3h-1v1h-1v1h-3v-1h-1v-1h-1v-3h1v-1h1zM312 574h3v1h1v1h1v3h-1v1h-1v1h-3v-1h-1v-1h-1v-3h1v-1h1zM316 574h3v1h1v1h1v3h-1v1h-1v1h-3v-1h-1v-1h-1v-3h1v-1h1zM319 575h3v1h1v1h1v3h-1v1h-1v1h-3v-1h-1v-1h-1v-3h1v-1h1zM323 575h3v1h1v1h1v3h-1v1h-1v1h-3v-1h-1v-1h-1v-3h1v-1h1zM327 575h3v1h1v1h1v3h-1v1h-1v1h-3v-1h-1v-1h-1v-3h1v-1h1zM330 575h3v1h1v1h1v3h-1v1h-1v1h-3v-1h-1v-1h-1v-3h1v-1h1zM334 575h3v1h1v1h1v3h-1v1h-1v1h-3v-1h-1v-1h-1v-3h1v-1h1zM337 576h3v1h1v1h1v3h-1v1h-1v1h-3v-1h-1v-1h-1v-3h1v-1h1zM341 576h3v1h1v1h1v3h-1v1h-1v1h-3v-1h-1v-1h-1v-3h1v-1h1zM344 576h3v1h1v1h1v3h-1v1h-1v1h-3v-1h-1v-1h-1v-3h1v-1h1zM348 579h3v1h1v1h1v3h-1v1h-1v1h-3v-1h-1v-1h-1v-3h1v-1h1zM351 579h3v1h1v1h1v3h-1v1h-1v1h-3v-1h-1v-1h-1v-3h1v-1h1zM355 579h3v1h1v1h1v3h-1v1h-1v1h-3v-1h-1v-1h-1v-3h1v-1h1zM358 579h3v1h1v1h1v3h-1v1h-1v1h-3v-1h-1v-1h-1v-3h1v-1h1zM362 579h3v1h1v1h1v3h-1v1h-1v1h-3v-1h-1v-1h-1v-3h1v-1h1zM365 579h3v1h1v1h1v3h-1v1h-1v1h-3v-1h-1v-1h-1v-3h1v-1h1zM369 579h3v1h1v1h1v3h-1v1h-1v1h-3v-1h-1v-1h-1v-3h1v-1h1zM372 579h3v1h1v1h1v3h-1v1h-1v1h-3v-1h-1v-1h-1v-3h1v-1h1zM375 579h3v1h1v1h1v3h-1v1h-1v1h-3v-1h-1v-1h-1v-3h1v-1h1zM379 579h3v1h1v1h1v3h-1v1h-1v1h-3v-1h-1v-1h-1v-3h1v-1h1zM382 579h3v1h1v1h1v3h-1v1h-1v1h-3v-1h-1v-1h-1v-3h1v-1h1zM386 579h3v1h1v1h1v3h-1v1h-1v1h-3v-1h-1v-1h-1v-3h1v-1h1zM389 579h3v1h1v1h1v3h-1v1h-1v1h-3v-1h-1v-1h-1v-3h1v-1h1zM393 579h3v1h1v1h1v3h-1v1h-1v1h-3v-1h-1v-1h-1v-3h1v-1h1zM395 582h3v1h1v1h1v3h-1v1h-1v1h-3v-1h-1v-1h-1v-3h1v-1h1zM399 579h3v1h1v1h1v3h-1v1h-1v1h-3v-1h-1v-1h-1v-3h1v-1h1zM401 589h3v1h1v1h1v3h-1v1h-1v1h-3v-1h-1v-1h-1v-3h1v-1h1zM405 591h3v1h1v1h1v3h-1v1h-1v1h-3v-1h-1v-1h-1v-3h1v-1h1zM409 593h3v1h1v1h1v3h-1v1h-1v1h-3v-1h-1v-1h-1v-3h1v-1h1zM412 588h3v1h1v1h1v3h-1v1h-1v1h-3v-1h-1v-1h-1v-3h1v-1h1zM416 589h3v1h1v1h1v3h-1v1h-1v1h-3v-1h-1v-1h-1v-3h1v-1h1zM420 591h3v1h1v1h1v3h-1v1h-1v1h-3v-1h-1v-1h-1v-3h1v-1h1zM423 575h3v1h1v1h1v3h-1v1h-1v1h-3v-1h-1v-1h-1v-3h1v-1h1zM426 580h3v1h1v1h1v3h-1v1h-1v1h-3v-1h-1v-1h-1v-3h1v-1h1zM429 532h3v1h1v1h1v3h-1v1h-1v1h-3v-1h-1v-1h-1v-3h1v-1h1zM433 532h3v1h1v1h1v3h-1v1h-1v1h-3v-1h-1v-1h-1v-3h1v-1h1zM436 532h3v1h1v1h1v3h-1v1h-1v1h-3v-1h-1v-1h-1v-3h1v-1h1zM440 532h3v1h1v1h1v3h-1v1h-1v1h-3v-1h-1v-1h-1v-3h1v-1h1zM443 532h3v1h1v1h1v3h-1v1h-1v1h-3v-1h-1v-1h-1v-3h1v-1h1zM447 528h3v1h1v1h1v3h-1v1h-1v1h-3v-1h-1v-1h-1v-3h1v-1h1zM450 531h3v1h1v1h1v3h-1v1h-1v1h-3v-1h-1v-1h-1v-3h1v-1h1zM453 533h3v1h1v1h1v3h-1v1h-1v1h-3v-1h-1v-1h-1v-3h1v-1h1zM456 533h3v1h1v1h1v3h-1v1h-1v1h-3v-1h-1v-1h-1v-3h1v-1h1zM460 533h3v1h1v1h1v3h-1v1h-1v1h-3v-1h-1v-1h-1v-3h1v-1h1zM463 533h3v1h1v1h1v3h-1v1h-1v1h-3v-1h-1v-1h-1v-3h1v-1h1zM468 536h3v1h1v1h1v3h-1v1h-1v1h-3v-1h-1v-1h-1v-3h1v-1h1zM471 536h3v1h1v1h1v3h-1v1h-1v1h-3v-1h-1v-1h-1v-3h1v-1h1zM475 536h3v1h1v1h1v3h-1v1h-1v1h-3v-1h-1v-1h-1v-3h1v-1h1zM478 536h3v1h1v1h1v3h-1v1h-1v1h-3v-1h-1v-1h-1v-3h1v-1h1zM481 536h3v1h1v1h1v3h-1v1h-1v1h-3v-1h-1v-1h-1v-3h1v-1h1zM485 536h3v1h1v1h1v3h-1v1h-1v1h-3v-1h-1v-1h-1v-3h1v-1h1zM488 536h3v1h1v1h1v3h-1v1h-1v1h-3v-1h-1v-1h-1v-3h1v-1h1zM492 536h3v1h1v1h1v3h-1v1h-1v1h-3v-1h-1v-1h-1v-3h1v-1h1zM495 536h3v1h1v1h1v3h-1v1h-1v1h-3v-1h-1v-1h-1v-3h1v-1h1zM498 536h3v1h1v1h1v3h-1v1h-1v1h-3v-1h-1v-1h-1v-3h1v-1h1zM502 536h3v1h1v1h1v3h-1v1h-1v1h-3v-1h-1v-1h-1v-3h1v-1h1zM505 536h3v1h1v1h1v3h-1v1h-1v1h-3v-1h-1v-1h-1v-3h1v-1h1zM508 536h3v1h1v1h1v3h-1v1h-1v1h-3v-1h-1v-1h-1v-3h1v-1h1zM512 536h3v1h1v1h1v3h-1v1h-1v1h-3v-1h-1v-1h-1v-3h1v-1h1zM517 538h3v1h1v1h1v3h-1v1h-1v1h-3v-1h-1v-1h-1v-3h1v-1h1zM520 538h3v1h1v1h1v3h-1v1h-1v1h-3v-1h-1v-1h-1v-3h1v-1h1zM524 538h3v1h1v1h1v3h-1v1h-1v1h-3v-1h-1v-1h-1v-3h1v-1h1zM528 538h3v1h1v1h1v3h-1v1h-1v1h-3v-1h-1v-1h-1v-3h1v-1h1zM532 538h3v1h1v1h1v3h-1v1h-1v1h-3v-1h-1v-1h-1v-3h1v-1h1zM536 538h3v1h1v1h1v3h-1v1h-1v1h-3v-1h-1v-1h-1v-3h1v-1h1zM541 539h3v1h1v1h1v3h-1v1h-1v1h-3v-1h-1v-1h-1v-3h1v-1h1zM545 539h3v1h1v1h1v3h-1v1h-1v1h-3v-1h-1v-1h-1v-3h1v-1h1zM548 539h3v1h1v1h1v3h-1v1h-1v1h-3v-1h-1v-1h-1v-3h1v-1h1zM552 539h3v1h1v1h1v3h-1v1h-1v1h-3v-1h-1v-1h-1v-3h1v-1h1zM556 541h3v1h1v1h1v3h-1v1h-1v1h-3v-1h-1v-1h-1v-3h1v-1h1zM560 543h3v1h1v1h1v3h-1v1h-1v1h-3v-1h-1v-1h-1v-3h1v-1h1zM563 541h3v1h1v1h1v3h-1v1h-1v1h-3v-1h-1v-1h-1v-3h1v-1h1zM567 539h3v1h1v1h1v3h-1v1h-1v1h-3v-1h-1v-1h-1v-3h1v-1h1zM572 534h3v1h1v1h1v3h-1v1h-1v1h-3v-1h-1v-1h-1v-3h1v-1h1zM574 545h3v1h1v1h1v3h-1v1h-1v1h-3v-1h-1v-1h-1v-3h1v-1h1zM578 542h3v1h1v1h1v3h-1v1h-1v1h-3v-1h-1v-1h-1v-3h1v-1h1zM581 544h3v1h1v1h1v3h-1v1h-1v1h-3v-1h-1v-1h-1v-3h1v-1h1zM584 543h3v1h1v1h1v3h-1v1h-1v1h-3v-1h-1v-1h-1v-3h1v-1h1zM588 544h3v1h1v1h1v3h-1v1h-1v1h-3v-1h-1v-1h-1v-3h1v-1h1zM593 545h3v1h1v1h1v3h-1v1h-1v1h-3v-1h-1v-1h-1v-3h1v-1h1zM596 545h3v1h1v1h1v3h-1v1h-1v1h-3v-1h-1v-1h-1v-3h1v-1h1zM600 545h3v1h1v1h1v3h-1v1h-1v1h-3v-1h-1v-1h-1v-3h1v-1h1zM604 545h3v1h1v1h1v3h-1v1h-1v1h-3v-1h-1v-1h-1v-3h1v-1h1zM608 545h3v1h1v1h1v3h-1v1h-1v1h-3v-1h-1v-1h-1v-3h1v-1h1zM612 545h3v1h1v1h1v3h-1v1h-1v1h-3v-1h-1v-1h-1v-3h1v-1h1zM615 551h3v1h1v1h1v3h-1v1h-1v1h-3v-1h-1v-1h-1v-3h1v-1h1zM618 535h3v1h1v1h1v3h-1v1h-1v1h-3v-1h-1v-1h-1v-3h1v-1h1zM622 535h3v1h1v1h1v3h-1v1h-1v1h-3v-1h-1v-1h-1v-3h1v-1h1zM626 535h3v1h1v1h1v3h-1v1h-1v1h-3v-1h-1v-1h-1v-3h1v-1h1zM630 535h3v1h1v1h1v3h-1v1h-1v1h-3v-1h-1v-1h-1v-3h1v-1h1zM632 541h3v1h1v1h1v3h-1v1h-1v1h-3v-1h-1v-1h-1v-3h1v-1h1zM636 541h3v1h1v1h1v3h-1v1h-1v1h-3v-1h-1v-1h-1v-3h1v-1h1zM639 541h3v1h1v1h1v3h-1v1h-1v1h-3v-1h-1v-1h-1v-3h1v-1h1zM643 541h3v1h1v1h1v3h-1v1h-1v1h-3v-1h-1v-1h-1v-3h1v-1h1zM646 541h3v1h1v1h1v3h-1v1h-1v1h-3v-1h-1v-1h-1v-3h1v-1h1zM649 541h3v1h1v1h1v3h-1v1h-1v1h-3v-1h-1v-1h-1v-3h1v-1h1zM653 541h3v1h1v1h1v3h-1v1h-1v1h-3v-1h-1v-1h-1v-3h1v-1h1zM656 541h3v1h1v1h1v3h-1v1h-1v1h-3v-1h-1v-1h-1v-3h1v-1h1zM660 541h3v1h1v1h1v3h-1v1h-1v1h-3v-1h-1v-1h-1v-3h1v-1h1zM663 541h3v1h1v1h1v3h-1v1h-1v1h-3v-1h-1v-1h-1v-3h1v-1h1zM667 541h3v1h1v1h1v3h-1v1h-1v1h-3v-1h-1v-1h-1v-3h1v-1h1zM672 543h3v1h1v1h1v3h-1v1h-1v1h-3v-1h-1v-1h-1v-3h1v-1h1zM675 543h3v1h1v1h1v3h-1v1h-1v1h-3v-1h-1v-1h-1v-3h1v-1h1zM679 543h3v1h1v1h1v3h-1v1h-1v1h-3v-1h-1v-1h-1v-3h1v-1h1zM683 544h3v1h1v1h1v3h-1v1h-1v1h-3v-1h-1v-1h-1v-3h1v-1h1zM687 544h3v1h1v1h1v3h-1v1h-1v1h-3v-1h-1v-1h-1v-3h1v-1h1zM691 544h3v1h1v1h1v3h-1v1h-1v1h-3v-1h-1v-1h-1v-3h1v-1h1zM694 544h3v1h1v1h1v3h-1v1h-1v1h-3v-1h-1v-1h-1v-3h1v-1h1zM698 544h3v1h1v1h1v3h-1v1h-1v1h-3v-1h-1v-1h-1v-3h1v-1h1zM702 544h3v1h1v1h1v3h-1v1h-1v1h-3v-1h-1v-1h-1v-3h1v-1h1zM706 544h3v1h1v1h1v3h-1v1h-1v1h-3v-1h-1v-1h-1v-3h1v-1h1zM711 545h3v1h1v1h1v3h-1v1h-1v1h-3v-1h-1v-1h-1v-3h1v-1h1zM715 545h3v1h1v1h1v3h-1v1h-1v1h-3v-1h-1v-1h-1v-3h1v-1h1zM719 545h3v1h1v1h1v3h-1v1h-1v1h-3v-1h-1v-1h-1v-3h1v-1h1zM722 546h3v1h1v1h1v3h-1v1h-1v1h-3v-1h-1v-1h-1v-3h1v-1h1zM725 547h3v1h1v1h1v3h-1v1h-1v1h-3v-1h-1v-1h-1v-3h1v-1h1zM729 549h3v1h1v1h1v3h-1v1h-1v1h-3v-1h-1v-1h-1v-3h1v-1h1zM732 550h3v1h1v1h1v3h-1v1h-1v1h-3v-1h-1v-1h-1v-3h1v-1h1zM736 544h3v1h1v1h1v3h-1v1h-1v1h-3v-1h-1v-1h-1v-3h1v-1h1zM740 547h3v1h1v1h1v3h-1v1h-1v1h-3v-1h-1v-1h-1v-3h1v-1h1zM744 545h3v1h1v1h1v3h-1v1h-1v1h-3v-1h-1v-1h-1v-3h1v-1h1zM749 545h3v1h1v1h1v3h-1v1h-1v1h-3v-1h-1v-1h-1v-3h1v-1h1zM754 546h3v1h1v1h1v3h-1v1h-1v1h-3v-1h-1v-1h-1v-3h1v-1h1zM757 546h3v1h1v1h1v3h-1v1h-1v1h-3v-1h-1v-1h-1v-3h1v-1h1zM761 546h3v1h1v1h1v3h-1v1h-1v1h-3v-1h-1v-1h-1v-3h1v-1h1zM766 549h3v1h1v1h1v3h-1v1h-1v1h-3v-1h-1v-1h-1v-3h1v-1h1zM770 549h3v1h1v1h1v3h-1v1h-1v1h-3v-1h-1v-1h-1v-3h1v-1h1zM773 549h3v1h1v1h1v3h-1v1h-1v1h-3v-1h-1v-1h-1v-3h1v-1h1zM776 549h3v1h1v1h1v3h-1v1h-1v1h-3v-1h-1v-1h-1v-3h1v-1h1zM782 555h3v1h1v1h1v3h-1v1h-1v1h-3v-1h-1v-1h-1v-3h1v-1h1zM785 547h3v1h1v1h1v3h-1v1h-1v1h-3v-1h-1v-1h-1v-3h1v-1h1zM789 553h3v1h1v1h1v3h-1v1h-1v1h-3v-1h-1v-1h-1v-3h1v-1h1zM792 548h3v1h1v1h1v3h-1v1h-1v1h-3v-1h-1v-1h-1v-3h1v-1h1zM796 548h3v1h1v1h1v3h-1v1h-1v1h-3v-1h-1v-1h-1v-3h1v-1h1zM799 548h3v1h1v1h1v3h-1v1h-1v1h-3v-1h-1v-1h-1v-3h1v-1h1zM803 548h3v1h1v1h1v3h-1v1h-1v1h-3v-1h-1v-1h-1v-3h1v-1h1zM806 548h3v1h1v1h1v3h-1v1h-1v1h-3v-1h-1v-1h-1v-3h1v-1h1zM810 548h3v1h1v1h1v3h-1v1h-1v1h-3v-1h-1v-1h-1v-3h1v-1h1zM813 550h3v1h1v1h1v3h-1v1h-1v1h-3v-1h-1v-1h-1v-3h1v-1h1zM817 550h3v1h1v1h1v3h-1v1h-1v1h-3v-1h-1v-1h-1v-3h1v-1h1zM820 549h3v1h1v1h1v3h-1v1h-1v1h-3v-1h-1v-1h-1v-3h1v-1h1zM824 549h3v1h1v1h1v3h-1v1h-1v1h-3v-1h-1v-1h-1v-3h1v-1h1zM828 548h3v1h1v1h1v3h-1v1h-1v1h-3v-1h-1v-1h-1v-3h1v-1h1zM833 552h3v1h1v1h1v3h-1v1h-1v1h-3v-1h-1v-1h-1v-3h1v-1h1zM836 552h3v1h1v1h1v3h-1v1h-1v1h-3v-1h-1v-1h-1v-3h1v-1h1zM840 552h3v1h1v1h1v3h-1v1h-1v1h-3v-1h-1v-1h-1v-3h1v-1h1zM843 552h3v1h1v1h1v3h-1v1h-1v1h-3v-1h-1v-1h-1v-3h1v-1h1zM847 552h3v1h1v1h1v3h-1v1h-1v1h-3v-1h-1v-1h-1v-3h1v-1h1zM850 552h3v1h1v1h1v3h-1v1h-1v1h-3v-1h-1v-1h-1v-3h1v-1h1zM854 552h3v1h1v1h1v3h-1v1h-1v1h-3v-1h-1v-1h-1v-3h1v-1h1zM857 552h3v1h1v1h1v3h-1v1h-1v1h-3v-1h-1v-1h-1v-3h1v-1h1zM861 552h3v1h1v1h1v3h-1v1h-1v1h-3v-1h-1v-1h-1v-3h1v-1h1zM864 552h3v1h1v1h1v3h-1v1h-1v1h-3v-1h-1v-1h-1v-3h1v-1h1zM868 552h3v1h1v1h1v3h-1v1h-1v1h-3v-1h-1v-1h-1v-3h1v-1h1zM871 552h3v1h1v1h1v3h-1v1h-1v1h-3v-1h-1v-1h-1v-3h1v-1h1zM876 554h3v1h1v1h1v3h-1v1h-1v1h-3v-1h-1v-1h-1v-3h1v-1h1zM879 554h3v1h1v1h1v3h-1v1h-1v1h-3v-1h-1v-1h-1v-3h1v-1h1zM883 554h3v1h1v1h1v3h-1v1h-1v1h-3v-1h-1v-1h-1v-3h1v-1h1zM886 554h3v1h1v1h1v3h-1v1h-1v1h-3v-1h-1v-1h-1v-3h1v-1h1zM889 554h3v1h1v1h1v3h-1v1h-1v1h-3v-1h-1v-1h-1v-3h1v-1h1zM892 554h3v1h1v1h1v3h-1v1h-1v1h-3v-1h-1v-1h-1v-3h1v-1h1zM897 555h3v1h1v1h1v3h-1v1h-1v1h-3v-1h-1v-1h-1v-3h1v-1h1zM902 554h3v1h1v1h1v3h-1v1h-1v1h-3v-1h-1v-1h-1v-3h1v-1h1zM906 549h3v1h1v1h1v3h-1v1h-1v1h-3v-1h-1v-1h-1v-3h1v-1h1zM909 558h3v1h1v1h1v3h-1v1h-1v1h-3v-1h-1v-1h-1v-3h1v-1h1zM912 551h3v1h1v1h1v3h-1v1h-1v1h-3v-1h-1v-1h-1v-3h1v-1h1zM916 550h3v1h1v1h1v3h-1v1h-1v1h-3v-1h-1v-1h-1v-3h1v-1h1zM919 558h3v1h1v1h1v3h-1v1h-1v1h-3v-1h-1v-1h-1v-3h1v-1h1zM923 560h3v1h1v1h1v3h-1v1h-1v1h-3v-1h-1v-1h-1v-3h1v-1h1zM927 558h3v1h1v1h1v3h-1v1h-1v1h-3v-1h-1v-1h-1v-3h1v-1h1zM931 556h3v1h1v1h1v3h-1v1h-1v1h-3v-1h-1v-1h-1v-3h1v-1h1zM934 557h3v1h1v1h1v3h-1v1h-1v1h-3v-1h-1v-1h-1v-3h1v-1h1zM937 558h3v1h1v1h1v3h-1v1h-1v1h-3v-1h-1v-1h-1v-3h1v-1h1zM940 547h3v1h1v1h1v3h-1v1h-1v1h-3v-1h-1v-1h-1v-3h1v-1h1zM944 548h3v1h1v1h1v3h-1v1h-1v1h-3v-1h-1v-1h-1v-3h1v-1h1zM947 549h3v1h1v1h1v3h-1v1h-1v1h-3v-1h-1v-1h-1v-3h1v-1h1zM951 556h3v1h1v1h1v3h-1v1h-1v1h-3v-1h-1v-1h-1v-3h1v-1h1zM954 556h3v1h1v1h1v3h-1v1h-1v1h-3v-1h-1v-1h-1v-3h1v-1h1zM957 556h3v1h1v1h1v3h-1v1h-1v1h-3v-1h-1v-1h-1v-3h1v-1h1zM960 556h3v1h1v1h1v3h-1v1h-1v1h-3v-1h-1v-1h-1v-3h1v-1h1zM964 556h3v1h1v1h1v3h-1v1h-1v1h-3v-1h-1v-1h-1v-3h1v-1h1zM965 558h3v1h1v1h1v3h-1v1h-1v1h-3v-1h-1v-1h-1v-3h1v-1h1zM968 549h3v1h1v1h1v3h-1v1h-1v1h-3v-1h-1v-1h-1v-3h1v-1h1zM971 549h3v1h1v1h1v3h-1v1h-1v1h-3v-1h-1v-1h-1v-3h1v-1h1zM974 549h3v1h1v1h1v3h-1v1h-1v1h-3v-1h-1v-1h-1v-3h1v-1h1zM978 549h3v1h1v1h1v3h-1v1h-1v1h-3v-1h-1v-1h-1v-3h1v-1h1zM981 549h3v1h1v1h1v3h-1v1h-1v1h-3v-1h-1v-1h-1v-3h1v-1h1zM984 549h3v1h1v1h1v3h-1v1h-1v1h-3v-1h-1v-1h-1v-3h1v-1h1zM988 549h3v1h1v1h1v3h-1v1h-1v1h-3v-1h-1v-1h-1v-3h1v-1h1zM993 551h3v1h1v1h1v3h-1v1h-1v1h-3v-1h-1v-1h-1v-3h1v-1h1zM996 551h3v1h1v1h1v3h-1v1h-1v1h-3v-1h-1v-1h-1v-3h1v-1h1zM999 551h3v1h1v1h1v3h-1v1h-1v1h-3v-1h-1v-1h-1v-3h1v-1h1zM1003 551h3v1h1v1h1v3h-1v1h-1v1h-3v-1h-1v-1h-1v-3h1v-1h1zM1006 551h3v1h1v1h1v3h-1v1h-1v1h-3v-1h-1v-1h-1v-3h1v-1h1zM1010 551h3v1h1v1h1v3h-1v1h-1v1h-3v-1h-1v-1h-1v-3h1v-1h1zM1013 551h3v1h1v1h1v3h-1v1h-1v1h-3v-1h-1v-1h-1v-3h1v-1h1zM1016 551h3v1h1v1h1v3h-1v1h-1v1h-3v-1h-1v-1h-1v-3h1v-1h1zM1020 551h3v1h1v1h1v3h-1v1h-1v1h-3v-1h-1v-1h-1v-3h1v-1h1zM1023 551h3v1h1v1h1v3h-1v1h-1v1h-3v-1h-1v-1h-1v-3h1v-1h1zM1027 551h3v1h1v1h1v3h-1v1h-1v1h-3v-1h-1v-1h-1v-3h1v-1h1zM1030 551h3v1h1v1h1v3h-1v1h-1v1h-3v-1h-1v-1h-1v-3h1v-1h1zM1033 551h3v1h1v1h1v3h-1v1h-1v1h-3v-1h-1v-1h-1v-3h1v-1h1zM1037 551h3v1h1v1h1v3h-1v1h-1v1h-3v-1h-1v-1h-1v-3h1v-1h1zM1040 551h3v1h1v1h1v3h-1v1h-1v1h-3v-1h-1v-1h-1v-3h1v-1h1zM1044 551h3v1h1v1h1v3h-1v1h-1v1h-3v-1h-1v-1h-1v-3h1v-1h1zM1048 551h3v1h1v1h1v3h-1v1h-1v1h-3v-1h-1v-1h-1v-3h1v-1h1zM1053 553h3v1h1v1h1v3h-1v1h-1v1h-3v-1h-1v-1h-1v-3h1v-1h1zM1058 556h3v1h1v1h1v3h-1v1h-1v1h-3v-1h-1v-1h-1v-3h1v-1h1zM1061 553h3v1h1v1h1v3h-1v1h-1v1h-3v-1h-1v-1h-1v-3h1v-1h1zM1065 560h3v1h1v1h1v3h-1v1h-1v1h-3v-1h-1v-1h-1v-3h1v-1h1zM1068 554h3v1h1v1h1v3h-1v1h-1v1h-3v-1h-1v-1h-1v-3h1v-1h1zM1072 554h3v1h1v1h1v3h-1v1h-1v1h-3v-1h-1v-1h-1v-3h1v-1h1zM1076 554h3v1h1v1h1v3h-1v1h-1v1h-3v-1h-1v-1h-1v-3h1v-1h1zM1079 556h3v1h1v1h1v3h-1v1h-1v1h-3v-1h-1v-1h-1v-3h1v-1h1zM1082 552h3v1h1v1h1v3h-1v1h-1v1h-3v-1h-1v-1h-1v-3h1v-1h1zM1086 554h3v1h1v1h1v3h-1v1h-1v1h-3v-1h-1v-1h-1v-3h1v-1h1zM1089 556h3v1h1v1h1v3h-1v1h-1v1h-3v-1h-1v-1h-1v-3h1v-1h1zM1092 562h3v1h1v1h1v3h-1v1h-1v1h-3v-1h-1v-1h-1v-3h1v-1h1zM1096 554h3v1h1v1h1v3h-1v1h-1v1h-3v-1h-1v-1h-1v-3h1v-1h1zM1099 560h3v1h1v1h1v3h-1v1h-1v1h-3v-1h-1v-1h-1v-3h1v-1h1zM1103 546h3v1h1v1h1v3h-1v1h-1v1h-3v-1h-1v-1h-1v-3h1v-1h1zM1107 546h3v1h1v1h1v3h-1v1h-1v1h-3v-1h-1v-1h-1v-3h1v-1h1zM1110 546h3v1h1v1h1v3h-1v1h-1v1h-3v-1h-1v-1h-1v-3h1v-1h1zM1113 546h3v1h1v1h1v3h-1v1h-1v1h-3v-1h-1v-1h-1v-3h1v-1h1zM1117 546h3v1h1v1h1v3h-1v1h-1v1h-3v-1h-1v-1h-1v-3h1v-1h1zM1120 546h3v1h1v1h1v3h-1v1h-1v1h-3v-1h-1v-1h-1v-3h1v-1h1zM1124 546h3v1h1v1h1v3h-1v1h-1v1h-3v-1h-1v-1h-1v-3h1v-1h1zM1128 556h3v1h1v1h1v3h-1v1h-1v1h-3v-1h-1v-1h-1v-3h1v-1h1zM1131 556h3v1h1v1h1v3h-1v1h-1v1h-3v-1h-1v-1h-1v-3h1v-1h1zM1134 556h3v1h1v1h1v3h-1v1h-1v1h-3v-1h-1v-1h-1v-3h1v-1h1zM1138 556h3v1h1v1h1v3h-1v1h-1v1h-3v-1h-1v-1h-1v-3h1v-1h1zM1141 556h3v1h1v1h1v3h-1v1h-1v1h-3v-1h-1v-1h-1v-3h1v-1h1zM1145 556h3v1h1v1h1v3h-1v1h-1v1h-3v-1h-1v-1h-1v-3h1v-1h1zM1148 556h3v1h1v1h1v3h-1v1h-1v1h-3v-1h-1v-1h-1v-3h1v-1h1zM1152 556h3v1h1v1h1v3h-1v1h-1v1h-3v-1h-1v-1h-1v-3h1v-1h1zM1155 556h3v1h1v1h1v3h-1v1h-1v1h-3v-1h-1v-1h-1v-3h1v-1h1zM1159 556h3v1h1v1h1v3h-1v1h-1v1h-3v-1h-1v-1h-1v-3h1v-1h1zM1162 556h3v1h1v1h1v3h-1v1h-1v1h-3v-1h-1v-1h-1v-3h1v-1h1zM1166 556h3v1h1v1h1v3h-1v1h-1v1h-3v-1h-1v-1h-1v-3h1v-1h1zM1169 556h3v1h1v1h1v3h-1v1h-1v1h-3v-1h-1v-1h-1v-3h1v-1h1zM1173 556h3v1h1v1h1v3h-1v1h-1v1h-3v-1h-1v-1h-1v-3h1v-1h1zM1176 556h3v1h1v1h1v3h-1v1h-1v1h-3v-1h-1v-1h-1v-3h1v-1h1zM1179 558h3v1h1v1h1v3h-1v1h-1v1h-3v-1h-1v-1h-1v-3h1v-1h1zM1183 558h3v1h1v1h1v3h-1v1h-1v1h-3v-1h-1v-1h-1v-3h1v-1h1zM1186 558h3v1h1v1h1v3h-1v1h-1v1h-3v-1h-1v-1h-1v-3h1v-1h1zM1190 558h3v1h1v1h1v3h-1v1h-1v1h-3v-1h-1v-1h-1v-3h1v-1h1zM1193 558h3v1h1v1h1v3h-1v1h-1v1h-3v-1h-1v-1h-1v-3h1v-1h1zM1197 558h3v1h1v1h1v3h-1v1h-1v1h-3v-1h-1v-1h-1v-3h1v-1h1zM1200 558h3v1h1v1h1v3h-1v1h-1v1h-3v-1h-1v-1h-1v-3h1v-1h1zM1204 558h3v1h1v1h1v3h-1v1h-1v1h-3v-1h-1v-1h-1v-3h1v-1h1zM1207 559h3v1h1v1h1v3h-1v1h-1v1h-3v-1h-1v-1h-1v-3h1v-1h1zM1210 559h3v1h1v1h1v3h-1v1h-1v1h-3v-1h-1v-1h-1v-3h1v-1h1zM1213 560h3v1h1v1h1v3h-1v1h-1v1h-3v-1h-1v-1h-1v-3h1v-1h1zM1216 561h3v1h1v1h1v3h-1v1h-1v1h-3v-1h-1v-1h-1v-3h1v-1h1zM1220 562h3v1h1v1h1v3h-1v1h-1v1h-3v-1h-1v-1h-1v-3h1v-1h1zM1225 559h3v1h1v1h1v3h-1v1h-1v1h-3v-1h-1v-1h-1v-3h1v-1h1zM1229 563h3v1h1v1h1v3h-1v1h-1v1h-3v-1h-1v-1h-1v-3h1v-1h1zM1233 562h3v1h1v1h1v3h-1v1h-1v1h-3v-1h-1v-1h-1v-3h1v-1h1zM1238 561h3v1h1v1h1v3h-1v1h-1v1h-3v-1h-1v-1h-1v-3h1v-1h1zM1241 554h3v1h1v1h1v3h-1v1h-1v1h-3v-1h-1v-1h-1v-3h1v-1h1zM1244 561h3v1h1v1h1v3h-1v1h-1v1h-3v-1h-1v-1h-1v-3h1v-1h1zM1248 562h3v1h1v1h1v3h-1v1h-1v1h-3v-1h-1v-1h-1v-3h1v-1h1zM1250 547h3v1h1v1h1v3h-1v1h-1v1h-3v-1h-1v-1h-1v-3h1v-1h1zM1254 546h3v1h1v1h1v3h-1v1h-1v1h-3v-1h-1v-1h-1v-3h1v-1h1zM1257 546h3v1h1v1h1v3h-1v1h-1v1h-3v-1h-1v-1h-1v-3h1v-1h1zM1260 546h3v1h1v1h1v3h-1v1h-1v1h-3v-1h-1v-1h-1v-3h1v-1h1zM1263 546h3v1h1v1h1v3h-1v1h-1v1h-3v-1h-1v-1h-1v-3h1v-1h1zM1267 546h3v1h1v1h1v3h-1v1h-1v1h-3v-1h-1v-1h-1v-3h1v-1h1zM1270 546h3v1h1v1h1v3h-1v1h-1v1h-3v-1h-1v-1h-1v-3h1v-1h1zM1274 547h3v1h1v1h1v3h-1v1h-1v1h-3v-1h-1v-1h-1v-3h1v-1h1zM1278 547h3v1h1v1h1v3h-1v1h-1v1h-3v-1h-1v-1h-1v-3h1v-1h1zM1282 548h3v1h1v1h1v3h-1v1h-1v1h-3v-1h-1v-1h-1v-3h1v-1h1zM1286 548h3v1h1v1h1v3h-1v1h-1v1h-3v-1h-1v-1h-1v-3h1v-1h1zM1289 550h3v1h1v1h1v3h-1v1h-1v1h-3v-1h-1v-1h-1v-3h1v-1h1zM1293 558h3v1h1v1h1v3h-1v1h-1v1h-3v-1h-1v-1h-1v-3h1v-1h1zM1296 555h3v1h1v1h1v3h-1v1h-1v1h-3v-1h-1v-1h-1v-3h1v-1h1zM1299 555h3v1h1v1h1v3h-1v1h-1v1h-3v-1h-1v-1h-1v-3h1v-1h1zM1302 555h3v1h1v1h1v3h-1v1h-1v1h-3v-1h-1v-1h-1v-3h1v-1h1zM1306 555h3v1h1v1h1v3h-1v1h-1v1h-3v-1h-1v-1h-1v-3h1v-1h1zM1309 555h3v1h1v1h1v3h-1v1h-1v1h-3v-1h-1v-1h-1v-3h1v-1h1zM1312 555h3v1h1v1h1v3h-1v1h-1v1h-3v-1h-1v-1h-1v-3h1v-1h1zM1316 555h3v1h1v1h1v3h-1v1h-1v1h-3v-1h-1v-1h-1v-3h1v-1h1zM1319 555h3v1h1v1h1v3h-1v1h-1v1h-3v-1h-1v-1h-1v-3h1v-1h1zM1322 555h3v1h1v1h1v3h-1v1h-1v1h-3v-1h-1v-1h-1v-3h1v-1h1zM1326 555h3v1h1v1h1v3h-1v1h-1v1h-3v-1h-1v-1h-1v-3h1v-1h1zM1329 555h3v1h1v1h1v3h-1v1h-1v1h-3v-1h-1v-1h-1v-3h1v-1h1zM1333 555h3v1h1v1h1v3h-1v1h-1v1h-3v-1h-1v-1h-1v-3h1v-1h1zM1336 555h3v1h1v1h1v3h-1v1h-1v1h-3v-1h-1v-1h-1v-3h1v-1h1zM1339 555h3v1h1v1h1v3h-1v1h-1v1h-3v-1h-1v-1h-1v-3h1v-1h1zM1343 558h3v1h1v1h1v3h-1v1h-1v1h-3v-1h-1v-1h-1v-3h1v-1h1zM1347 558h3v1h1v1h1v3h-1v1h-1v1h-3v-1h-1v-1h-1v-3h1v-1h1zM1350 558h3v1h1v1h1v3h-1v1h-1v1h-3v-1h-1v-1h-1v-3h1v-1h1zM1354 558h3v1h1v1h1v3h-1v1h-1v1h-3v-1h-1v-1h-1v-3h1v-1h1zM1357 558h3v1h1v1h1v3h-1v1h-1v1h-3v-1h-1v-1h-1v-3h1v-1h1zM1361 558h3v1h1v1h1v3h-1v1h-1v1h-3v-1h-1v-1h-1v-3h1v-1h1zM1364 558h3v1h1v1h1v3h-1v1h-1v1h-3v-1h-1v-1h-1v-3h1v-1h1zM1368 558h3v1h1v1h1v3h-1v1h-1v1h-3v-1h-1v-1h-1v-3h1v-1h1zM1372 560h3v1h1v1h1v3h-1v1h-1v1h-3v-1h-1v-1h-1v-3h1v-1h1zM1376 560h3v1h1v1h1v3h-1v1h-1v1h-3v-1h-1v-1h-1v-3h1v-1h1zM1379 560h3v1h1v1h1v3h-1v1h-1v1h-3v-1h-1v-1h-1v-3h1v-1h1zM1382 560h3v1h1v1h1v3h-1v1h-1v1h-3v-1h-1v-1h-1v-3h1v-1h1zM1387 562h3v1h1v1h1v3h-1v1h-1v1h-3v-1h-1v-1h-1v-3h1v-1h1zM1390 564h3v1h1v1h1v3h-1v1h-1v1h-3v-1h-1v-1h-1v-3h1v-1h1zM1394 566h3v1h1v1h1v3h-1v1h-1v1h-3v-1h-1v-1h-1v-3h1v-1h1zM1396 561h3v1h1v1h1v3h-1v1h-1v1h-3v-1h-1v-1h-1v-3h1v-1h1zM1400 566h3v1h1v1h1v3h-1v1h-1v1h-3v-1h-1v-1h-1v-3h1v-1h1zM1403 562h3v1h1v1h1v3h-1v1h-1v1h-3v-1h-1v-1h-1v-3h1v-1h1zM1406 558h3v1h1v1h1v3h-1v1h-1v1h-3v-1h-1v-1h-1v-3h1v-1h1zM1410 560h3v1h1v1h1v3h-1v1h-1v1h-3v-1h-1v-1h-1v-3h1v-1h1zM1413 561h3v1h1v1h1v3h-1v1h-1v1h-3v-1h-1v-1h-1v-3h1v-1h1zM1418 556h3v1h1v1h1v3h-1v1h-1v1h-3v-1h-1v-1h-1v-3h1v-1h1zM1421 557h3v1h1v1h1v3h-1v1h-1v1h-3v-1h-1v-1h-1v-3h1v-1h1zM1424 557h3v1h1v1h1v3h-1v1h-1v1h-3v-1h-1v-1h-1v-3h1v-1h1zM1427 553h3v1h1v1h1v3h-1v1h-1v1h-3v-1h-1v-1h-1v-3h1v-1h1zM1431 552h3v1h1v1h1v3h-1v1h-1v1h-3v-1h-1v-1h-1v-3h1v-1h1zM1436 551h3v1h1v1h1v3h-1v1h-1v1h-3v-1h-1v-1h-1v-3h1v-1h1zM1440 549h3v1h1v1h1v3h-1v1h-1v1h-3v-1h-1v-1h-1v-3h1v-1h1zM1445 552h3v1h1v1h1v3h-1v1h-1v1h-3v-1h-1v-1h-1v-3h1v-1h1zM1448 553h3v1h1v1h1v3h-1v1h-1v1h-3v-1h-1v-1h-1v-3h1v-1h1zM1452 554h3v1h1v1h1v3h-1v1h-1v1h-3v-1h-1v-1h-1v-3h1v-1h1zM1455 553h3v1h1v1h1v3h-1v1h-1v1h-3v-1h-1v-1h-1v-3h1v-1h1zM1458 553h3v1h1v1h1v3h-1v1h-1v1h-3v-1h-1v-1h-1v-3h1v-1h1zM1462 561h3v1h1v1h1v3h-1v1h-1v1h-3v-1h-1v-1h-1v-3h1v-1h1zM1467 559h3v1h1v1h1v3h-1v1h-1v1h-3v-1h-1v-1h-1v-3h1v-1h1zM1471 557h3v1h1v1h1v3h-1v1h-1v1h-3v-1h-1v-1h-1v-3h1v-1h1zM1475 557h3v1h1v1h1v3h-1v1h-1v1h-3v-1h-1v-1h-1v-3h1v-1h1zM1479 557h3v1h1v1h1v3h-1v1h-1v1h-3v-1h-1v-1h-1v-3h1v-1h1zM1483 557h3v1h1v1h1v3h-1v1h-1v1h-3v-1h-1v-1h-1v-3h1v-1h1zM1487 557h3v1h1v1h1v3h-1v1h-1v1h-3v-1h-1v-1h-1v-3h1v-1h1zM1490 557h3v1h1v1h1v3h-1v1h-1v1h-3v-1h-1v-1h-1v-3h1v-1h1zM1493 556h3v1h1v1h1v3h-1v1h-1v1h-3v-1h-1v-1h-1v-3h1v-1h1zM1499 561h3v1h1v1h1v3h-1v1h-1v1h-3v-1h-1v-1h-1v-3h1v-1h1zM1502 561h3v1h1v1h1v3h-1v1h-1v1h-3v-1h-1v-1h-1v-3h1v-1h1zM1505 560h3v1h1v1h1v3h-1v1h-1v1h-3v-1h-1v-1h-1v-3h1v-1h1zM1509 560h3v1h1v1h1v3h-1v1h-1v1h-3v-1h-1v-1h-1v-3h1v-1h1zM1512 560h3v1h1v1h1v3h-1v1h-1v1h-3v-1h-1v-1h-1v-3h1v-1h1zM1516 560h3v1h1v1h1v3h-1v1h-1v1h-3v-1h-1v-1h-1v-3h1v-1h1zM1519 560h3v1h1v1h1v3h-1v1h-1v1h-3v-1h-1v-1h-1v-3h1v-1h1zM1523 560h3v1h1v1h1v3h-1v1h-1v1h-3v-1h-1v-1h-1v-3h1v-1h1zM1526 560h3v1h1v1h1v3h-1v1h-1v1h-3v-1h-1v-1h-1v-3h1v-1h1zM1530 560h3v1h1v1h1v3h-1v1h-1v1h-3v-1h-1v-1h-1v-3h1v-1h1zM1533 560h3v1h1v1h1v3h-1v1h-1v1h-3v-1h-1v-1h-1v-3h1v-1h1zM1537 560h3v1h1v1h1v3h-1v1h-1v1h-3v-1h-1v-1h-1v-3h1v-1h1zM1540 560h3v1h1v1h1v3h-1v1h-1v1h-3v-1h-1v-1h-1v-3h1v-1h1zM1544 560h3v1h1v1h1v3h-1v1h-1v1h-3v-1h-1v-1h-1v-3h1v-1h1zM1547 560h3v1h1v1h1v3h-1v1h-1v1h-3v-1h-1v-1h-1v-3h1v-1h1zM1552 563h3v1h1v1h1v3h-1v1h-1v1h-3v-1h-1v-1h-1v-3h1v-1h1zM1555 565h3v1h1v1h1v3h-1v1h-1v1h-3v-1h-1v-1h-1v-3h1v-1h1zM1558 568h3v1h1v1h1v3h-1v1h-1v1h-3v-1h-1v-1h-1v-3h1v-1h1zM1561 564h3v1h1v1h1v3h-1v1h-1v1h-3v-1h-1v-1h-1v-3h1v-1h1zM1565 561h3v1h1v1h1v3h-1v1h-1v1h-3v-1h-1v-1h-1v-3h1v-1h1zM1568 565h3v1h1v1h1v3h-1v1h-1v1h-3v-1h-1v-1h-1v-3h1v-1h1zM1571 569h3v1h1v1h1v3h-1v1h-1v1h-3v-1h-1v-1h-1v-3h1v-1h1zM1575 569h3v1h1v1h1v3h-1v1h-1v1h-3v-1h-1v-1h-1v-3h1v-1h1zM1579 568h3v1h1v1h1v3h-1v1h-1v1h-3v-1h-1v-1h-1v-3h1v-1h1zM1582 563h3v1h1v1h1v3h-1v1h-1v1h-3v-1h-1v-1h-1v-3h1v-1h1zM1585 563h3v1h1v1h1v3h-1v1h-1v1h-3v-1h-1v-1h-1v-3h1v-1h1zM1589 563h3v1h1v1h1v3h-1v1h-1v1h-3v-1h-1v-1h-1v-3h1v-1h1zM1593 563h3v1h1v1h1v3h-1v1h-1v1h-3v-1h-1v-1h-1v-3h1v-1h1zM1596 563h3v1h1v1h1v3h-1v1h-1v1h-3v-1h-1v-1h-1v-3h1v-1h1zM1600 563h3v1h1v1h1v3h-1v1h-1v1h-3v-1h-1v-1h-1v-3h1v-1h1zM1604 563h3v1h1v1h1v3h-1v1h-1v1h-3v-1h-1v-1h-1v-3h1v-1h1zM1607 563h3v1h1v1h1v3h-1v1h-1v1h-3v-1h-1v-1h-1v-3h1v-1h1zM1611 563h3v1h1v1h1v3h-1v1h-1v1h-3v-1h-1v-1h-1v-3h1v-1h1zM1614 563h3v1h1v1h1v3h-1v1h-1v1h-3v-1h-1v-1h-1v-3h1v-1h1zM1618 563h3v1h1v1h1v3h-1v1h-1v1h-3v-1h-1v-1h-1v-3h1v-1h1zM1620 572h3v1h1v1h1v3h-1v1h-1v1h-3v-1h-1v-1h-1v-3h1v-1h1zM1625 574h3v1h1v1h1v3h-1v1h-1v1h-3v-1h-1v-1h-1v-3h1v-1h1zM1629 571h3v1h1v1h1v3h-1v1h-1v1h-3v-1h-1v-1h-1v-3h1v-1h1zM1631 565h3v1h1v1h1v3h-1v1h-1v1h-3v-1h-1v-1h-1v-3h1v-1h1zM1635 565h3v1h1v1h1v3h-1v1h-1v1h-3v-1h-1v-1h-1v-3h1v-1h1zM1638 565h3v1h1v1h1v3h-1v1h-1v1h-3v-1h-1v-1h-1v-3h1v-1h1zM1641 565h3v1h1v1h1v3h-1v1h-1v1h-3v-1h-1v-1h-1v-3h1v-1h1zM1645 565h3v1h1v1h1v3h-1v1h-1v1h-3v-1h-1v-1h-1v-3h1v-1h1zM1648 565h3v1h1v1h1v3h-1v1h-1v1h-3v-1h-1v-1h-1v-3h1v-1h1zM1652 565h3v1h1v1h1v3h-1v1h-1v1h-3v-1h-1v-1h-1v-3h1v-1h1zM1655 565h3v1h1v1h1v3h-1v1h-1v1h-3v-1h-1v-1h-1v-3h1v-1h1zM1658 565h3v1h1v1h1v3h-1v1h-1v1h-3v-1h-1v-1h-1v-3h1v-1h1zM1662 565h3v1h1v1h1v3h-1v1h-1v1h-3v-1h-1v-1h-1v-3h1v-1h1zM1665 565h3v1h1v1h1v3h-1v1h-1v1h-3v-1h-1v-1h-1v-3h1v-1h1zM1669 565h3v1h1v1h1v3h-1v1h-1v1h-3v-1h-1v-1h-1v-3h1v-1h1zM1672 565h3v1h1v1h1v3h-1v1h-1v1h-3v-1h-1v-1h-1v-3h1v-1h1zM1676 565h3v1h1v1h1v3h-1v1h-1v1h-3v-1h-1v-1h-1v-3h1v-1h1zM1679 565h3v1h1v1h1v3h-1v1h-1v1h-3v-1h-1v-1h-1v-3h1v-1h1zM1682 565h3v1h1v1h1v3h-1v1h-1v1h-3v-1h-1v-1h-1v-3h1v-1h1zM1686 565h3v1h1v1h1v3h-1v1h-1v1h-3v-1h-1v-1h-1v-3h1v-1h1zM1689 565h3v1h1v1h1v3h-1v1h-1v1h-3v-1h-1v-1h-1v-3h1v-1h1zM1693 565h3v1h1v1h1v3h-1v1h-1v1h-3v-1h-1v-1h-1v-3h1v-1h1zM1696 565h3v1h1v1h1v3h-1v1h-1v1h-3v-1h-1v-1h-1v-3h1v-1h1zM1700 565h3v1h1v1h1v3h-1v1h-1v1h-3v-1h-1v-1h-1v-3h1v-1h1zM1703 567h3v1h1v1h1v3h-1v1h-1v1h-3v-1h-1v-1h-1v-3h1v-1h1zM1707 567h3v1h1v1h1v3h-1v1h-1v1h-3v-1h-1v-1h-1v-3h1v-1h1zM1710 567h3v1h1v1h1v3h-1v1h-1v1h-3v-1h-1v-1h-1v-3h1v-1h1zM1713 567h3v1h1v1h1v3h-1v1h-1v1h-3v-1h-1v-1h-1v-3h1v-1h1zM1716 567h3v1h1v1h1v3h-1v1h-1v1h-3v-1h-1v-1h-1v-3h1v-1h1zM1720 567h3v1h1v1h1v3h-1v1h-1v1h-3v-1h-1v-1h-1v-3h1v-1h1zM1724 569h3v1h1v1h1v3h-1v1h-1v1h-3v-1h-1v-1h-1v-3h1v-1h1zM1730 574h3v1h1v1h1v3h-1v1h-1v1h-3v-1h-1v-1h-1v-3h1v-1h1zM1734 574h3v1h1v1h1v3h-1v1h-1v1h-3v-1h-1v-1h-1v-3h1v-1h1zM1738 573h3v1h1v1h1v3h-1v1h-1v1h-3v-1h-1v-1h-1v-3h1v-1h1zM1741 574h3v1h1v1h1v3h-1v1h-1v1h-3v-1h-1v-1h-1v-3h1v-1h1zM1744 570h3v1h1v1h1v3h-1v1h-1v1h-3v-1h-1v-1h-1v-3h1v-1h1zM1747 566h3v1h1v1h1v3h-1v1h-1v1h-3v-1h-1v-1h-1v-3h1v-1h1zM1752 566h3v1h1v1h1v3h-1v1h-1v1h-3v-1h-1v-1h-1v-3h1v-1h1zM1757 571h3v1h1v1h1v3h-1v1h-1v1h-3v-1h-1v-1h-1v-3h1v-1h1zM1762 576h3v1h1v1h1v3h-1v1h-1v1h-3v-1h-1v-1h-1v-3h1v-1h1zM1765 572h3v1h1v1h1v3h-1v1h-1v1h-3v-1h-1v-1h-1v-3h1v-1h1zM1770 576h3v1h1v1h1v3h-1v1h-1v1h-3v-1h-1v-1h-1v-3h1v-1h1zM1773 574h3v1h1v1h1v3h-1v1h-1v1h-3v-1h-1v-1h-1v-3h1v-1h1zM1776 566h3v1h1v1h1v3h-1v1h-1v1h-3v-1h-1v-1h-1v-3h1v-1h1zM1779 566h3v1h1v1h1v3h-1v1h-1v1h-3v-1h-1v-1h-1v-3h1v-1h1zM1783 571h3v1h1v1h1v3h-1v1h-1v1h-3v-1h-1v-1h-1v-3h1v-1h1z" fill="#255E91"/>
<polyline points="174.7,623.4 178.2,623.4 181.7,623.4 185.2,623.4 188.7,623.4 192.2,623.4 195.8,623.4 199.3,623.4 202.8,623.4 206.3,623.4 209.8,623.4 213.3,623.4 216.8,623.4 220.5,627 224,627 227.6,627 231.1,627 234.6,627 238.1,627 241.7,627 245.2,627 248.8,624.3 252.1,625.2 255.3,626.1 258.9,622 262.1,622 265.3,622 268.5,622 271.7,622 275.4,627 278.8,627 282.2,627 285.6,627 289,627 292.4,627 295.8,627 299.2,627 302.9,623.4 306.4,623.4 309.9,623.4 313.3,623.4 316.8,623.4 320.3,623.4 323.8,623.4 327.3,623.4 330.8,623.4 334.2,623.4 337.7,623.4 341.2,623.4 344.7,623.4 348.2,623.4 351.6,623.4 355.1,623.4 358.6,623.4 362.1,623.4 365.6,623.4 369.1,623.4 372.5,623.4 376,623.4 379.5,623.4 382.3,626.6 385.7,626.6 389,626.6 392.4,626.6 395.7,626.6 399.1,626.6 402.5,626.6 405.8,626.6 409.2,626.6 412.5,626.6 415.9,626.6 419.2,626.6 422.6,626.6 424,619.7 426.9,620.2 429.9,620.6 434.5,622.5 438.1,622.5 441.6,622.5 445.2,622.5 448.7,622.5 452.3,622.5 455.8,622.5 459.4,622.5 462.9,622.5 466.5,622.5 469.3,621.6 472.7,621.6 476.2,621.6 479.6,621.6 483.1,621.5 486.5,621.5 490,621.5 493.4,621.5 496.8,621.5 500.3,621.5 503.7,621.5 507.2,621.4 510.6,621.4 514.1,621.4 517.5,621.4 520.9,621.4 524.4,621.4 527.8,621.4 531.3,621.3 534.7,621.3 538.2,621.3 541.6,621.3 544.6,624.6 548.1,624.6 551.6,624.6 555.1,624.6 558.6,624.6 562.1,624.6 565.6,624.6 569.1,624.6 572.6,624.6 576.1,624.6 579.6,624.6 583.1,624.6 586.6,624.6 590.1,624.6 593.6,624.6 597.1,624.6 600.6,624.6 604.1,624.6 607.6,624.6 611.1,624.6 614.6,624.6 618.1,624.6 620.5,621.3 623.9,621.3 627.3,621.3 630.8,621.3 634.2,621.3 637.6,621.3 641,621.3 644.4,621.3 647.8,621.4 651.3,621.4 654.7,621.4 658.1,621.4 661.5,621.4 664.9,621.4 668.4,621.4 671.8,621.4 675.2,621.4 678.6,621.4 682,621.4 685.4,621.4 688.9,621.4 692.3,621.5 695.7,621.5 699.1,621.5 702.5,621.5 705.9,621.5 709.4,621.5 712.8,621.5 716.2,621.5 719.5,625.5 723,625.5 726.5,625.5 730.1,625.5 733.6,625.5 737.1,625.5 740.6,625.5 744.2,625.5 747.7,625.5 751.2,625.5 754.7,625.5 758.2,625.5 761.8,625.5 765.3,625.5 768.8,625.5 772.3,625.5 775.9,625.5 779.4,625.5 782.9,625.5 786.4,625.5 790,625.5 793.5,625.5 797,625.5 799.5,622.5 803,622.5 806.5,622.5 810,622.4 813.6,622.4 817.1,622.4 820.6,622.4 824.1,622.3 827.6,622.3 831.1,622.3 834.6,622.3 838.2,622.2 841.7,622.2 845.2,622.2 848.7,622.2 852.2,622.1 855.7,622.1 859.2,622.1 862.8,622.1 866.3,622 869.8,622 873.3,622 877.7,624.9 881.2,624.9 884.8,624.8 888.3,624.8 891.8,624.8 895.3,624.7 898.9,624.7 902.4,624.6 905.9,624.6 909.6,624.6 913.3,624.6 917,624.6 919,625.7 922.6,625.7 926.2,625.7 929.8,625.7 933.4,625.7 937,625.7 939,623.7 942.9,623.7 946.8,623.7 950.6,623.7 954.5,623.7 956.8,625.7 961,625.7 965.1,625.7 968.1,623.7 971.6,623.7 975.1,623.7 978.6,623.7 982.1,623.7 985.5,623.7 989,623.7 992.5,623.7 996,623.7 999.5,623.7 1003,623.7 1006.5,623.7 1010,623.7 1013.5,623.7 1017,623.7 1020.4,623.7 1023.9,623.7 1027.4,623.7 1030.9,623.7 1034.4,623.7 1038.7,625.4 1042.2,625.4 1045.6,625.4 1049.1,625.4 1052.6,625.4 1056,625.4 1059.5,625.4 1063,625.4 1066.5,625.4 1069.9,625.4 1073.4,625.4 1076.9,625.4 1080.3,625.4 1083.8,625.4 1086.7,623.2 1089.7,625.4 1093.1,625.4 1096.4,625.4 1099.8,625.4 1104.2,623.4 1107.6,623.4 1111.1,623.4 1114.5,623.4 1118,623.4 1121.4,623.3 1124.9,623.3 1128.3,623.3 1131.8,623.3 1135.2,623.3 1138.7,623.3 1142.1,623.3 1145.6,623.3 1149,623.3 1152.5,623.3 1155.9,623.2 1159.4,623.2 1162.8,623.2 1166.3,623.2 1169.7,623.2 1172.6,622 1176,622 1179.5,622 1182.9,622 1186.4,622 1189.8,622 1193.2,622 1196.7,622 1200.1,622 1203.5,622 1207,622 1210.4,622 1213.9,622 1217.3,622 1220.9,625.6 1224.5,625.6 1228,625.6 1231.5,625.6 1235.1,625.6 1238.7,625.6 1242.2,625.6 1245.8,625.6 1249.3,625.6 1252.2,622.7 1255.7,622.7 1259.2,622.7 1262.8,622.7 1266.3,622.7 1269.8,622.7 1273.3,622.7 1276.8,622.7 1280.3,622.7 1283.9,622.7 1287.4,622.7 1290.9,622.7 1294.4,622.7 1297.3,621.7 1300.7,621.7 1304.2,621.7 1307.6,621.7 1311,621.7 1314.4,621.7 1317.9,621.7 1321.3,621.7 1324.7,621.7 1328.2,621.7 1331.6,621.7 1335,621.7 1338.4,621.7 1341.9,621.7 1345.3,621.7 1348.2,623.8 1351.8,623.8 1355.5,623.8 1359.1,623.8 1362.8,623.8 1366.4,623.8 1370,623.8 1373.7,623.8 1377.3,623.8 1380.2,626.4 1383.7,626.4 1387.2,626.4 1390.7,626.4 1394.2,626.4 1397.7,626.4 1401.1,626.4 1404.6,626.4 1408.1,626.4 1411.6,626.4 1415.1,626.4 1417.3,622.7 1420.7,622.7 1424.1,622.7 1427.5,622.7 1431,622.7 1434.4,622.7 1437.8,622.7 1441.2,622.7 1444.6,622.7 1448,622.7 1451.4,622.7 1454.8,622.7 1458.2,622.7 1461.7,622.7 1465.1,622.7 1468.5,622.7 1471.9,622.7 1476.2,624.6 1479.4,624.2 1482.7,623.9 1485.9,623.5 1489.2,623.2 1492.4,622.8 1496.1,622.8 1499.7,622.8 1503.4,622.8 1507.1,622.8 1510.7,622.8 1514.4,622.8 1518,622.8 1521.7,622.8 1525.2,625.3 1528.6,625.4 1532.1,625.5 1535.5,625.6 1539,625.7 1542.4,625.8 1545.9,625.9 1549.3,626 1552.8,626.1 1556.2,626.2 1559.6,626.2 1563.1,626.2 1566.5,626.2 1570,626.2 1573.4,626.2 1576.9,626.2 1580.3,626.2 1585.5,622.8 1590.7,622.8 1594.1,626.2 1597.6,626.2 1601,626.2 1604.5,626.2 1607.9,626.2 1611.4,626.2 1614.8,626.2 1618.3,626.2 1621.7,626.2 1625.2,626.2 1628.6,623.6 1632,623.6 1635.5,623.6 1638.9,623.6 1642.4,623.6 1645.8,623.6 1649.3,623.6 1652.8,623.6 1656.2,623.6 1659.6,623.6 1663.1,623.6 1666.5,623.6 1670,623.6 1673.4,623.6 1676.9,623.6 1680.3,623.6 1683.8,623.6 1687.2,623.6 1690.7,623.6 1694.1,623.6 1697.6,623.6 1701,623.6 1704.5,623.6 1708,623.6 1711.4,623.6 1714.8,623.6 1718.3,623.6 1721.7,627.1 1725.2,627.1 1728.6,627.1 1732.1,627.1 1735.5,627.1 1739,627.1 1742.4,627.1 1745.9,627.1 1749.3,622.8 1752.9,622.7 1756.5,622.6 1760.2,622.5 1763.8,622.4 1767.4,622.3 1771,622.3 1774.6,622.2 1778.3,622.1 1781.9,622 1785.5,621.9" fill="none" stroke="#9E480E" stroke-width="2.25" stroke-linejoin="round" stroke-linecap="round"/>
<path d="M173 620h3v1h1v1h1v3h-1v1h-1v1h-3v-1h-1v-1h-1v-3h1v-1h1zM177 620h3v1h1v1h1v3h-1v1h-1v1h-3v-1h-1v-1h-1v-3h1v-1h1zM180 620h3v1h1v1h1v3h-1v1h-1v1h-3v-1h-1v-1h-1v-3h1v-1h1zM184 620h3v1h1v1h1v3h-1v1h-1v1h-3v-1h-1v-1h-1v-3h1v-1h1zM187 620h3v1h1v1h1v3h-1v1h-1v1h-3v-1h-1v-1h-1v-3h1v-1h1zM191 620h3v1h1v1h1v3h-1v1h-1v1h-3v-1h-1v-1h-1v-3h1v-1h1zM194 620h3v1h1v1h1v3h-1v1h-1v1h-3v-1h-1v-1h-1v-3h1v-1h1zM198 620h3v1h1v1h1v3h-1v1h-1v1h-3v-1h-1v-1h-1v-3h1v-1h1zM201 620h3v1h1v1h1v3h-1v1h-1v1h-3v-1h-1v-1h-1v-3h1v-1h1zM205 620h3v1h1v1h1v3h-1v1h-1v1h-3v-1h-1v-1h-1v-3h1v-1h1zM208 620h3v1h1v1h1v3h-1v1h-1v1h-3v-1h-1v-1h-1v-3h1v-1h1zM212 620h3v1h1v1h1v3h-1v1h-1v1h-3v-1h-1v-1h-1v-3h1v-1h1zM215 620h3v1h1v1h1v3h-1v1h-1v1h-3v-1h-1v-1h-1v-3h1v-1h1zM219 624h3v1h1v1h1v3h-1v1h-1v1h-3v-1h-1v-1h-1v-3h1v-1h1zM223 624h3v1h1v1h1v3h-1v1h-1v1h-3v-1h-1v-1h-1v-3h1v-1h1zM226 624h3v1h1v1h1v3h-1v1h-1v1h-3v-1h-1v-1h-1v-3h1v-1h1zM230 624h3v1h1v1h1v3h-1v1h-1v1h-3v-1h-1v-1h-1v-3h1v-1h1zM233 624h3v1h1v1h1v3h-1v1h-1v1h-3v-1h-1v-1h-1v-3h1v-1h1zM237 624h3v1h1v1h1v3h-1v1h-1v1h-3v-1h-1v-1h-1v-3h1v-1h1zM240 624h3v1h1v1h1v3h-1v1h-1v1h-3v-1h-1v-1h-1v-3h1v-1h1zM244 624h3v1h1v1h1v3h-1v1h-1v1h-3v-1h-1v-1h-1v-3h1v-1h1zM247 621h3v1h1v1h1v3h-1v1h-1v1h-3v-1h-1v-1h-1v-3h1v-1h1zM251 622h3v1h1v1h1v3h-1v1h-1v1h-3v-1h-1v-1h-1v-3h1v-1h1zM254 623h3v1h1v1h1v3h-1v1h-1v1h-3v-1h-1v-1h-1v-3h1v-1h1zM257 619h3v1h1v1h1v3h-1v1h-1v1h-3v-1h-1v-1h-1v-3h1v-1h1zM261 619h3v1h1v1h1v3h-1v1h-1v1h-3v-1h-1v-1h-1v-3h1v-1h1zM264 619h3v1h1v1h1v3h-1v1h-1v1h-3v-1h-1v-1h-1v-3h1v-1h1zM267 619h3v1h1v1h1v3h-1v1h-1v1h-3v-1h-1v-1h-1v-3h1v-1h1zM270 619h3v1h1v1h1v3h-1v1h-1v1h-3v-1h-1v-1h-1v-3h1v-1h1zM274 624h3v1h1v1h1v3h-1v1h-1v1h-3v-1h-1v-1h-1v-3h1v-1h1zM277 624h3v1h1v1h1v3h-1v1h-1v1h-3v-1h-1v-1h-1v-3h1v-1h1zM281 624h3v1h1v1h1v3h-1v1h-1v1h-3v-1h-1v-1h-1v-3h1v-1h1zM284 624h3v1h1v1h1v3h-1v1h-1v1h-3v-1h-1v-1h-1v-3h1v-1h1zM288 624h3v1h1v1h1v3h-1v1h-1v1h-3v-1h-1v-1h-1v-3h1v-1h1zM291 624h3v1h1v1h1v3h-1v1h-1v1h-3v-1h-1v-1h-1v-3h1v-1h1zM294 624h3v1h1v1h1v3h-1v1h-1v1h-3v-1h-1v-1h-1v-3h1v-1h1zM298 624h3v1h1v1h1v3h-1v1h-1v1h-3v-1h-1v-1h-1v-3h1v-1h1zM301 620h3v1h1v1h1v3h-1v1h-1v1h-3v-1h-1v-1h-1v-3h1v-1h1zM305 620h3v1h1v1h1v3h-1v1h-1v1h-3v-1h-1v-1h-1v-3h1v-1h1zM308 620h3v1h1v1h1v3h-1v1h-1v1h-3v-1h-1v-1h-1v-3h1v-1h1zM312 620h3v1h1v1h1v3h-1v1h-1v1h-3v-1h-1v-1h-1v-3h1v-1h1zM315 620h3v1h1v1h1v3h-1v1h-1v1h-3v-1h-1v-1h-1v-3h1v-1h1zM319 620h3v1h1v1h1v3h-1v1h-1v1h-3v-1h-1v-1h-1v-3h1v-1h1zM322 620h3v1h1v1h1v3h-1v1h-1v1h-3v-1h-1v-1h-1v-3h1v-1h1zM326 620h3v1h1v1h1v3h-1v1h-1v1h-3v-1h-1v-1h-1v-3h1v-1h1zM329 620h3v1h1v1h1v3h-1v1h-1v1h-3v-1h-1v-1h-1v-3h1v-1h1zM333 620h3v1h1v1h1v3h-1v1h-1v1h-3v-1h-1v-1h-1v-3h1v-1h1zM336 620h3v1h1v1h1v3h-1v1h-1v1h-3v-1h-1v-1h-1v-3h1v-1h1zM340 620h3v1h1v1h1v3h-1v1h-1v1h-3v-1h-1v-1h-1v-3h1v-1h1zM343 620h3v1h1v1h1v3h-1v1h-1v1h-3v-1h-1v-1h-1v-3h1v-1h1zM347 620h3v1h1v1h1v3h-1v1h-1v1h-3v-1h-1v-1h-1v-3h1v-1h1zM350 620h3v1h1v1h1v3h-1v1h-1v1h-3v-1h-1v-1h-1v-3h1v-1h1zM354 620h3v1h1v1h1v3h-1v1h-1v1h-3v-1h-1v-1h-1v-3h1v-1h1zM357 620h3v1h1v1h1v3h-1v1h-1v1h-3v-1h-1v-1h-1v-3h1v-1h1zM361 620h3v1h1v1h1v3h-1v1h-1v1h-3v-1h-1v-1h-1v-3h1v-1h1zM364 620h3v1h1v1h1v3h-1v1h-1v1h-3v-1h-1v-1h-1v-3h1v-1h1zM368 620h3v1h1v1h1v3h-1v1h-1v1h-3v-1h-1v-1h-1v-3h1v-1h1zM371 620h3v1h1v1h1v3h-1v1h-1v1h-3v-1h-1v-1h-1v-3h1v-1h1zM375 620h3v1h1v1h1v3h-1v1h-1v1h-3v-1h-1v-1h-1v-3h1v-1h1zM378 620h3v1h1v1h1v3h-1v1h-1v1h-3v-1h-1v-1h-1v-3h1v-1h1zM381 623h3v1h1v1h1v3h-1v1h-1v1h-3v-1h-1v-1h-1v-3h1v-1h1zM384 623h3v1h1v1h1v3h-1v1h-1v1h-3v-1h-1v-1h-1v-3h1v-1h1zM388 623h3v1h1v1h1v3h-1v1h-1v1h-3v-1h-1v-1h-1v-3h1v-1h1zM391 623h3v1h1v1h1v3h-1v1h-1v1h-3v-1h-1v-1h-1v-3h1v-1h1zM394 623h3v1h1v1h1v3h-1v1h-1v1h-3v-1h-1v-1h-1v-3h1v-1h1zM398 623h3v1h1v1h1v3h-1v1h-1v1h-3v-1h-1v-1h-1v-3h1v-1h1zM401 623h3v1h1v1h1v3h-1v1h-1v1h-3v-1h-1v-1h-1v-3h1v-1h1zM404 623h3v1h1v1h1v3h-1v1h-1v1h-3v-1h-1v-1h-1v-3h1v-1h1zM408 623h3v1h1v1h1v3h-1v1h-1v1h-3v-1h-1v-1h-1v-3h1v-1h1zM411 623h3v1h1v1h1v3h-1v1h-1v1h-3v-1h-1v-1h-1v-3h1v-1h1zM414 623h3v1h1v1h1v3h-1v1h-1v1h-3v-1h-1v-1h-1v-3h1v-1h1zM418 623h3v1h1v1h1v3h-1v1h-1v1h-3v-1h-1v-1h-1v-3h1v-1h1zM421 623h3v1h1v1h1v3h-1v1h-1v1h-3v-1h-1v-1h-1v-3h1v-1h1zM423 616h3v1h1v1h1v3h-1v1h-1v1h-3v-1h-1v-1h-1v-3h1v-1h1zM425 617h3v1h1v1h1v3h-1v1h-1v1h-3v-1h-1v-1h-1v-3h1v-1h1zM428 617h3v1h1v1h1v3h-1v1h-1v1h-3v-1h-1v-1h-1v-3h1v-1h1zM433 619h3v1h1v1h1v3h-1v1h-1v1h-3v-1h-1v-1h-1v-3h1v-1h1zM437 619h3v1h1v1h1v3h-1v1h-1v1h-3v-1h-1v-1h-1v-3h1v-1h1zM440 619h3v1h1v1h1v3h-1v1h-1v1h-3v-1h-1v-1h-1v-3h1v-1h1zM444 619h3v1h1v1h1v3h-1v1h-1v1h-3v-1h-1v-1h-1v-3h1v-1h1zM447 619h3v1h1v1h1v3h-1v1h-1v1h-3v-1h-1v-1h-1v-3h1v-1h1zM451 619h3v1h1v1h1v3h-1v1h-1v1h-3v-1h-1v-1h-1v-3h1v-1h1zM454 619h3v1h1v1h1v3h-1v1h-1v1h-3v-1h-1v-1h-1v-3h1v-1h1zM458 619h3v1h1v1h1v3h-1v1h-1v1h-3v-1h-1v-1h-1v-3h1v-1h1zM461 619h3v1h1v1h1v3h-1v1h-1v1h-3v-1h-1v-1h-1v-3h1v-1h1zM465 619h3v1h1v1h1v3h-1v1h-1v1h-3v-1h-1v-1h-1v-3h1v-1h1zM468 618h3v1h1v1h1v3h-1v1h-1v1h-3v-1h-1v-1h-1v-3h1v-1h1zM471 618h3v1h1v1h1v3h-1v1h-1v1h-3v-1h-1v-1h-1v-3h1v-1h1zM475 618h3v1h1v1h1v3h-1v1h-1v1h-3v-1h-1v-1h-1v-3h1v-1h1zM478 618h3v1h1v1h1v3h-1v1h-1v1h-3v-1h-1v-1h-1v-3h1v-1h1zM482 618h3v1h1v1h1v3h-1v1h-1v1h-3v-1h-1v-1h-1v-3h1v-1h1zM485 618h3v1h1v1h1v3h-1v1h-1v1h-3v-1h-1v-1h-1v-3h1v-1h1zM488 618h3v1h1v1h1v3h-1v1h-1v1h-3v-1h-1v-1h-1v-3h1v-1h1zM492 618h3v1h1v1h1v3h-1v1h-1v1h-3v-1h-1v-1h-1v-3h1v-1h1zM495 618h3v1h1v1h1v3h-1v1h-1v1h-3v-1h-1v-1h-1v-3h1v-1h1zM499 618h3v1h1v1h1v3h-1v1h-1v1h-3v-1h-1v-1h-1v-3h1v-1h1zM502 618h3v1h1v1h1v3h-1v1h-1v1h-3v-1h-1v-1h-1v-3h1v-1h1zM506 618h3v1h1v1h1v3h-1v1h-1v1h-3v-1h-1v-1h-1v-3h1v-1h1zM509 618h3v1h1v1h1v3h-1v1h-1v1h-3v-1h-1v-1h-1v-3h1v-1h1zM513 618h3v1h1v1h1v3h-1v1h-1v1h-3v-1h-1v-1h-1v-3h1v-1h1zM516 618h3v1h1v1h1v3h-1v1h-1v1h-3v-1h-1v-1h-1v-3h1v-1h1zM519 618h3v1h1v1h1v3h-1v1h-1v1h-3v-1h-1v-1h-1v-3h1v-1h1zM523 618h3v1h1v1h1v3h-1v1h-1v1h-3v-1h-1v-1h-1v-3h1v-1h1zM526 618h3v1h1v1h1v3h-1v1h-1v1h-3v-1h-1v-1h-1v-3h1v-1h1zM530 618h3v1h1v1h1v3h-1v1h-1v1h-3v-1h-1v-1h-1v-3h1v-1h1zM533 618h3v1h1v1h1v3h-1v1h-1v1h-3v-1h-1v-1h-1v-3h1v-1h1zM537 618h3v1h1v1h1v3h-1v1h-1v1h-3v-1h-1v-1h-1v-3h1v-1h1zM540 618h3v1h1v1h1v3h-1v1h-1v1h-3v-1h-1v-1h-1v-3h1v-1h1zM543 621h3v1h1v1h1v3h-1v1h-1v1h-3v-1h-1v-1h-1v-3h1v-1h1zM547 621h3v1h1v1h1v3h-1v1h-1v1h-3v-1h-1v-1h-1v-3h1v-1h1zM550 621h3v1h1v1h1v3h-1v1h-1v1h-3v-1h-1v-1h-1v-3h1v-1h1zM554 621h3v1h1v1h1v3h-1v1h-1v1h-3v-1h-1v-1h-1v-3h1v-1h1zM557 621h3v1h1v1h1v3h-1v1h-1v1h-3v-1h-1v-1h-1v-3h1v-1h1zM561 621h3v1h1v1h1v3h-1v1h-1v1h-3v-1h-1v-1h-1v-3h1v-1h1zM564 621h3v1h1v1h1v3h-1v1h-1v1h-3v-1h-1v-1h-1v-3h1v-1h1zM568 621h3v1h1v1h1v3h-1v1h-1v1h-3v-1h-1v-1h-1v-3h1v-1h1zM571 621h3v1h1v1h1v3h-1v1h-1v1h-3v-1h-1v-1h-1v-3h1v-1h1zM575 621h3v1h1v1h1v3h-1v1h-1v1h-3v-1h-1v-1h-1v-3h1v-1h1zM578 621h3v1h1v1h1v3h-1v1h-1v1h-3v-1h-1v-1h-1v-3h1v-1h1zM582 621h3v1h1v1h1v3h-1v1h-1v1h-3v-1h-1v-1h-1v-3h1v-1h1zM585 621h3v1h1v1h1v3h-1v1h-1v1h-3v-1h-1v-1h-1v-3h1v-1h1zM589 621h3v1h1v1h1v3h-1v1h-1v1h-3v-1h-1v-1h-1v-3h1v-1h1zM592 621h3v1h1v1h1v3h-1v1h-1v1h-3v-1h-1v-1h-1v-3h1v-1h1zM596 621h3v1h1v1h1v3h-1v1h-1v1h-3v-1h-1v-1h-1v-3h1v-1h1zM599 621h3v1h1v1h1v3h-1v1h-1v1h-3v-1h-1v-1h-1v-3h1v-1h1zM603 621h3v1h1v1h1v3h-1v1h-1v1h-3v-1h-1v-1h-1v-3h1v-1h1zM606 621h3v1h1v1h1v3h-1v1h-1v1h-3v-1h-1v-1h-1v-3h1v-1h1zM610 621h3v1h1v1h1v3h-1v1h-1v1h-3v-1h-1v-1h-1v-3h1v-1h1zM613 621h3v1h1v1h1v3h-1v1h-1v1h-3v-1h-1v-1h-1v-3h1v-1h1zM617 621h3v1h1v1h1v3h-1v1h-1v1h-3v-1h-1v-1h-1v-3h1v-1h1zM619 618h3v1h1v1h1v3h-1v1h-1v1h-3v-1h-1v-1h-1v-3h1v-1h1zM622 618h3v1h1v1h1v3h-1v1h-1v1h-3v-1h-1v-1h-1v-3h1v-1h1zM626 618h3v1h1v1h1v3h-1v1h-1v1h-3v-1h-1v-1h-1v-3h1v-1h1zM629 618h3v1h1v1h1v3h-1v1h-1v1h-3v-1h-1v-1h-1v-3h1v-1h1zM633 618h3v1h1v1h1v3h-1v1h-1v1h-3v-1h-1v-1h-1v-3h1v-1h1zM636 618h3v1h1v1h1v3h-1v1h-1v1h-3v-1h-1v-1h-1v-3h1v-1h1zM640 618h3v1h1v1h1v3h-1v1h-1v1h-3v-1h-1v-1h-1v-3h1v-1h1zM643 618h3v1h1v1h1v3h-1v1h-1v1h-3v-1h-1v-1h-1v-3h1v-1h1zM646 618h3v1h1v1h1v3h-1v1h-1v1h-3v-1h-1v-1h-1v-3h1v-1h1zM650 618h3v1h1v1h1v3h-1v1h-1v1h-3v-1h-1v-1h-1v-3h1v-1h1zM653 618h3v1h1v1h1v3h-1v1h-1v1h-3v-1h-1v-1h-1v-3h1v-1h1zM657 618h3v1h1v1h1v3h-1v1h-1v1h-3v-1h-1v-1h-1v-3h1v-1h1zM660 618h3v1h1v1h1v3h-1v1h-1v1h-3v-1h-1v-1h-1v-3h1v-1h1zM663 618h3v1h1v1h1v3h-1v1h-1v1h-3v-1h-1v-1h-1v-3h1v-1h1zM667 618h3v1h1v1h1v3h-1v1h-1v1h-3v-1h-1v-1h-1v-3h1v-1h1zM670 618h3v1h1v1h1v3h-1v1h-1v1h-3v-1h-1v-1h-1v-3h1v-1h1zM674 618h3v1h1v1h1v3h-1v1h-1v1h-3v-1h-1v-1h-1v-3h1v-1h1zM677 618h3v1h1v1h1v3h-1v1h-1v1h-3v-1h-1v-1h-1v-3h1v-1h1zM681 618h3v1h1v1h1v3h-1v1h-1v1h-3v-1h-1v-1h-1v-3h1v-1h1zM684 618h3v1h1v1h1v3h-1v1h-1v1h-3v-1h-1v-1h-1v-3h1v-1h1zM687 618h3v1h1v1h1v3h-1v1h-1v1h-3v-1h-1v-1h-1v-3h1v-1h1zM691 618h3v1h1v1h1v3h-1v1h-1v1h-3v-1h-1v-1h-1v-3h1v-1h1zM694 618h3v1h1v1h1v3h-1v1h-1v1h-3v-1h-1v-1h-1v-3h1v-1h1zM698 618h3v1h1v1h1v3h-1v1h-1v1h-3v-1h-1v-1h-1v-3h1v-1h1zM701 618h3v1h1v1h1v3h-1v1h-1v1h-3v-1h-1v-1h-1v-3h1v-1h1zM704 618h3v1h1v1h1v3h-1v1h-1v1h-3v-1h-1v-1h-1v-3h1v-1h1zM708 618h3v1h1v1h1v3h-1v1h-1v1h-3v-1h-1v-1h-1v-3h1v-1h1zM711 618h3v1h1v1h1v3h-1v1h-1v1h-3v-1h-1v-1h-1v-3h1v-1h1zM715 618h3v1h1v1h1v3h-1v1h-1v1h-3v-1h-1v-1h-1v-3h1v-1h1zM718 622h3v1h1v1h1v3h-1v1h-1v1h-3v-1h-1v-1h-1v-3h1v-1h1zM722 622h3v1h1v1h1v3h-1v1h-1v1h-3v-1h-1v-1h-1v-3h1v-1h1zM725 622h3v1h1v1h1v3h-1v1h-1v1h-3v-1h-1v-1h-1v-3h1v-1h1zM729 622h3v1h1v1h1v3h-1v1h-1v1h-3v-1h-1v-1h-1v-3h1v-1h1zM732 622h3v1h1v1h1v3h-1v1h-1v1h-3v-1h-1v-1h-1v-3h1v-1h1zM736 622h3v1h1v1h1v3h-1v1h-1v1h-3v-1h-1v-1h-1v-3h1v-1h1zM739 622h3v1h1v1h1v3h-1v1h-1v1h-3v-1h-1v-1h-1v-3h1v-1h1zM743 622h3v1h1v1h1v3h-1v1h-1v1h-3v-1h-1v-1h-1v-3h1v-1h1zM746 622h3v1h1v1h1v3h-1v1h-1v1h-3v-1h-1v-1h-1v-3h1v-1h1zM750 622h3v1h1v1h1v3h-1v1h-1v1h-3v-1h-1v-1h-1v-3h1v-1h1zM753 622h3v1h1v1h1v3h-1v1h-1v1h-3v-1h-1v-1h-1v-3h1v-1h1zM757 622h3v1h1v1h1v3h-1v1h-1v1h-3v-1h-1v-1h-1v-3h1v-1h1zM760 622h3v1h1v1h1v3h-1v1h-1v1h-3v-1h-1v-1h-1v-3h1v-1h1zM764 622h3v1h1v1h1v3h-1v1h-1v1h-3v-1h-1v-1h-1v-3h1v-1h1zM767 622h3v1h1v1h1v3h-1v1h-1v1h-3v-1h-1v-1h-1v-3h1v-1h1zM771 622h3v1h1v1h1v3h-1v1h-1v1h-3v-1h-1v-1h-1v-3h1v-1h1zM774 622h3v1h1v1h1v3h-1v1h-1v1h-3v-1h-1v-1h-1v-3h1v-1h1zM778 622h3v1h1v1h1v3h-1v1h-1v1h-3v-1h-1v-1h-1v-3h1v-1h1zM781 622h3v1h1v1h1v3h-1v1h-1v1h-3v-1h-1v-1h-1v-3h1v-1h1zM785 622h3v1h1v1h1v3h-1v1h-1v1h-3v-1h-1v-1h-1v-3h1v-1h1zM788 622h3v1h1v1h1v3h-1v1h-1v1h-3v-1h-1v-1h-1v-3h1v-1h1zM792 622h3v1h1v1h1v3h-1v1h-1v1h-3v-1h-1v-1h-1v-3h1v-1h1zM796 622h3v1h1v1h1v3h-1v1h-1v1h-3v-1h-1v-1h-1v-3h1v-1h1zM798 619h3v1h1v1h1v3h-1v1h-1v1h-3v-1h-1v-1h-1v-3h1v-1h1zM802 619h3v1h1v1h1v3h-1v1h-1v1h-3v-1h-1v-1h-1v-3h1v-1h1zM805 619h3v1h1v1h1v3h-1v1h-1v1h-3v-1h-1v-1h-1v-3h1v-1h1zM809 619h3v1h1v1h1v3h-1v1h-1v1h-3v-1h-1v-1h-1v-3h1v-1h1zM812 619h3v1h1v1h1v3h-1v1h-1v1h-3v-1h-1v-1h-1v-3h1v-1h1zM816 619h3v1h1v1h1v3h-1v1h-1v1h-3v-1h-1v-1h-1v-3h1v-1h1zM819 619h3v1h1v1h1v3h-1v1h-1v1h-3v-1h-1v-1h-1v-3h1v-1h1zM823 619h3v1h1v1h1v3h-1v1h-1v1h-3v-1h-1v-1h-1v-3h1v-1h1zM826 619h3v1h1v1h1v3h-1v1h-1v1h-3v-1h-1v-1h-1v-3h1v-1h1zM830 619h3v1h1v1h1v3h-1v1h-1v1h-3v-1h-1v-1h-1v-3h1v-1h1zM833 619h3v1h1v1h1v3h-1v1h-1v1h-3v-1h-1v-1h-1v-3h1v-1h1zM837 619h3v1h1v1h1v3h-1v1h-1v1h-3v-1h-1v-1h-1v-3h1v-1h1zM840 619h3v1h1v1h1v3h-1v1h-1v1h-3v-1h-1v-1h-1v-3h1v-1h1zM844 619h3v1h1v1h1v3h-1v1h-1v1h-3v-1h-1v-1h-1v-3h1v-1h1zM847 619h3v1h1v1h1v3h-1v1h-1v1h-3v-1h-1v-1h-1v-3h1v-1h1zM851 619h3v1h1v1h1v3h-1v1h-1v1h-3v-1h-1v-1h-1v-3h1v-1h1zM854 619h3v1h1v1h1v3h-1v1h-1v1h-3v-1h-1v-1h-1v-3h1v-1h1zM858 619h3v1h1v1h1v3h-1v1h-1v1h-3v-1h-1v-1h-1v-3h1v-1h1zM861 619h3v1h1v1h1v3h-1v1h-1v1h-3v-1h-1v-1h-1v-3h1v-1h1zM865 619h3v1h1v1h1v3h-1v1h-1v1h-3v-1h-1v-1h-1v-3h1v-1h1zM868 619h3v1h1v1h1v3h-1v1h-1v1h-3v-1h-1v-1h-1v-3h1v-1h1zM872 619h3v1h1v1h1v3h-1v1h-1v1h-3v-1h-1v-1h-1v-3h1v-1h1zM876 621h3v1h1v1h1v3h-1v1h-1v1h-3v-1h-1v-1h-1v-3h1v-1h1zM880 621h3v1h1v1h1v3h-1v1h-1v1h-3v-1h-1v-1h-1v-3h1v-1h1zM883 621h3v1h1v1h1v3h-1v1h-1v1h-3v-1h-1v-1h-1v-3h1v-1h1zM887 621h3v1h1v1h1v3h-1v1h-1v1h-3v-1h-1v-1h-1v-3h1v-1h1zM890 621h3v1h1v1h1v3h-1v1h-1v1h-3v-1h-1v-1h-1v-3h1v-1h1zM894 621h3v1h1v1h1v3h-1v1h-1v1h-3v-1h-1v-1h-1v-3h1v-1h1zM897 621h3v1h1v1h1v3h-1v1h-1v1h-3v-1h-1v-1h-1v-3h1v-1h1zM901 621h3v1h1v1h1v3h-1v1h-1v1h-3v-1h-1v-1h-1v-3h1v-1h1zM904 621h3v1h1v1h1v3h-1v1h-1v1h-3v-1h-1v-1h-1v-3h1v-1h1zM908 621h3v1h1v1h1v3h-1v1h-1v1h-3v-1h-1v-1h-1v-3h1v-1h1zM912 621h3v1h1v1h1v3h-1v1h-1v1h-3v-1h-1v-1h-1v-3h1v-1h1zM916 621h3v1h1v1h1v3h-1v1h-1v1h-3v-1h-1v-1h-1v-3h1v-1h1zM918 622h3v1h1v1h1v3h-1v1h-1v1h-3v-1h-1v-1h-1v-3h1v-1h1zM921 622h3v1h1v1h1v3h-1v1h-1v1h-3v-1h-1v-1h-1v-3h1v-1h1zM925 622h3v1h1v1h1v3h-1v1h-1v1h-3v-1h-1v-1h-1v-3h1v-1h1zM928 622h3v1h1v1h1v3h-1v1h-1v1h-3v-1h-1v-1h-1v-3h1v-1h1zM932 622h3v1h1v1h1v3h-1v1h-1v1h-3v-1h-1v-1h-1v-3h1v-1h1zM936 622h3v1h1v1h1v3h-1v1h-1v1h-3v-1h-1v-1h-1v-3h1v-1h1zM938 620h3v1h1v1h1v3h-1v1h-1v1h-3v-1h-1v-1h-1v-3h1v-1h1zM941 620h3v1h1v1h1v3h-1v1h-1v1h-3v-1h-1v-1h-1v-3h1v-1h1zM945 620h3v1h1v1h1v3h-1v1h-1v1h-3v-1h-1v-1h-1v-3h1v-1h1zM949 620h3v1h1v1h1v3h-1v1h-1v1h-3v-1h-1v-1h-1v-3h1v-1h1zM953 620h3v1h1v1h1v3h-1v1h-1v1h-3v-1h-1v-1h-1v-3h1v-1h1zM955 622h3v1h1v1h1v3h-1v1h-1v1h-3v-1h-1v-1h-1v-3h1v-1h1zM959 622h3v1h1v1h1v3h-1v1h-1v1h-3v-1h-1v-1h-1v-3h1v-1h1zM964 622h3v1h1v1h1v3h-1v1h-1v1h-3v-1h-1v-1h-1v-3h1v-1h1zM967 620h3v1h1v1h1v3h-1v1h-1v1h-3v-1h-1v-1h-1v-3h1v-1h1zM970 620h3v1h1v1h1v3h-1v1h-1v1h-3v-1h-1v-1h-1v-3h1v-1h1zM974 620h3v1h1v1h1v3h-1v1h-1v1h-3v-1h-1v-1h-1v-3h1v-1h1zM977 620h3v1h1v1h1v3h-1v1h-1v1h-3v-1h-1v-1h-1v-3h1v-1h1zM981 620h3v1h1v1h1v3h-1v1h-1v1h-3v-1h-1v-1h-1v-3h1v-1h1zM984 620h3v1h1v1h1v3h-1v1h-1v1h-3v-1h-1v-1h-1v-3h1v-1h1zM988 620h3v1h1v1h1v3h-1v1h-1v1h-3v-1h-1v-1h-1v-3h1v-1h1zM991 620h3v1h1v1h1v3h-1v1h-1v1h-3v-1h-1v-1h-1v-3h1v-1h1zM995 620h3v1h1v1h1v3h-1v1h-1v1h-3v-1h-1v-1h-1v-3h1v-1h1zM998 620h3v1h1v1h1v3h-1v1h-1v1h-3v-1h-1v-1h-1v-3h1v-1h1zM1001 620h3v1h1v1h1v3h-1v1h-1v1h-3v-1h-1v-1h-1v-3h1v-1h1zM1005 620h3v1h1v1h1v3h-1v1h-1v1h-3v-1h-1v-1h-1v-3h1v-1h1zM1008 620h3v1h1v1h1v3h-1v1h-1v1h-3v-1h-1v-1h-1v-3h1v-1h1zM1012 620h3v1h1v1h1v3h-1v1h-1v1h-3v-1h-1v-1h-1v-3h1v-1h1zM1015 620h3v1h1v1h1v3h-1v1h-1v1h-3v-1h-1v-1h-1v-3h1v-1h1zM1019 620h3v1h1v1h1v3h-1v1h-1v1h-3v-1h-1v-1h-1v-3h1v-1h1zM1022 620h3v1h1v1h1v3h-1v1h-1v1h-3v-1h-1v-1h-1v-3h1v-1h1zM1026 620h3v1h1v1h1v3h-1v1h-1v1h-3v-1h-1v-1h-1v-3h1v-1h1zM1029 620h3v1h1v1h1v3h-1v1h-1v1h-3v-1h-1v-1h-1v-3h1v-1h1zM1033 620h3v1h1v1h1v3h-1v1h-1v1h-3v-1h-1v-1h-1v-3h1v-1h1zM1037 622h3v1h1v1h1v3h-1v1h-1v1h-3v-1h-1v-1h-1v-3h1v-1h1zM1041 622h3v1h1v1h1v3h-1v1h-1v1h-3v-1h-1v-1h-1v-3h1v-1h1zM1044 622h3v1h1v1h1v3h-1v1h-1v1h-3v-1h-1v-1h-1v-3h1v-1h1zM1048 622h3v1h1v1h1v3h-1v1h-1v1h-3v-1h-1v-1h-1v-3h1v-1h1zM1051 622h3v1h1v1h1v3h-1v1h-1v1h-3v-1h-1v-1h-1v-3h1v-1h1zM1055 622h3v1h1v1h1v3h-1v1h-1v1h-3v-1h-1v-1h-1v-3h1v-1h1zM1058 622h3v1h1v1h1v3h-1v1h-1v1h-3v-1h-1v-1h-1v-3h1v-1h1zM1061 622h3v1h1v1h1v3h-1v1h-1v1h-3v-1h-1v-1h-1v-3h1v-1h1zM1065 622h3v1h1v1h1v3h-1v1h-1v1h-3v-1h-1v-1h-1v-3h1v-1h1zM1068 622h3v1h1v1h1v3h-1v1h-1v1h-3v-1h-1v-1h-1v-3h1v-1h1zM1072 622h3v1h1v1h1v3h-1v1h-1v1h-3v-1h-1v-1h-1v-3h1v-1h1zM1075 622h3v1h1v1h1v3h-1v1h-1v1h-3v-1h-1v-1h-1v-3h1v-1h1zM1079 622h3v1h1v1h1v3h-1v1h-1v1h-3v-1h-1v-1h-1v-3h1v-1h1zM1082 622h3v1h1v1h1v3h-1v1h-1v1h-3v-1h-1v-1h-1v-3h1v-1h1zM1085 620h3v1h1v1h1v3h-1v1h-1v1h-3v-1h-1v-1h-1v-3h1v-1h1zM1088 622h3v1h1v1h1v3h-1v1h-1v1h-3v-1h-1v-1h-1v-3h1v-1h1zM1092 622h3v1h1v1h1v3h-1v1h-1v1h-3v-1h-1v-1h-1v-3h1v-1h1zM1095 622h3v1h1v1h1v3h-1v1h-1v1h-3v-1h-1v-1h-1v-3h1v-1h1zM1098 622h3v1h1v1h1v3h-1v1h-1v1h-3v-1h-1v-1h-1v-3h1v-1h1zM1103 620h3v1h1v1h1v3h-1v1h-1v1h-3v-1h-1v-1h-1v-3h1v-1h1zM1106 620h3v1h1v1h1v3h-1v1h-1v1h-3v-1h-1v-1h-1v-3h1v-1h1zM1110 620h3v1h1v1h1v3h-1v1h-1v1h-3v-1h-1v-1h-1v-3h1v-1h1zM1113 620h3v1h1v1h1v3h-1v1h-1v1h-3v-1h-1v-1h-1v-3h1v-1h1zM1116 620h3v1h1v1h1v3h-1v1h-1v1h-3v-1h-1v-1h-1v-3h1v-1h1zM1120 620h3v1h1v1h1v3h-1v1h-1v1h-3v-1h-1v-1h-1v-3h1v-1h1zM1123 620h3v1h1v1h1v3h-1v1h-1v1h-3v-1h-1v-1h-1v-3h1v-1h1zM1127 620h3v1h1v1h1v3h-1v1h-1v1h-3v-1h-1v-1h-1v-3h1v-1h1zM1130 620h3v1h1v1h1v3h-1v1h-1v1h-3v-1h-1v-1h-1v-3h1v-1h1zM1134 620h3v1h1v1h1v3h-1v1h-1v1h-3v-1h-1v-1h-1v-3h1v-1h1zM1137 620h3v1h1v1h1v3h-1v1h-1v1h-3v-1h-1v-1h-1v-3h1v-1h1zM1141 620h3v1h1v1h1v3h-1v1h-1v1h-3v-1h-1v-1h-1v-3h1v-1h1zM1144 620h3v1h1v1h1v3h-1v1h-1v1h-3v-1h-1v-1h-1v-3h1v-1h1zM1148 620h3v1h1v1h1v3h-1v1h-1v1h-3v-1h-1v-1h-1v-3h1v-1h1zM1151 620h3v1h1v1h1v3h-1v1h-1v1h-3v-1h-1v-1h-1v-3h1v-1h1zM1154 620h3v1h1v1h1v3h-1v1h-1v1h-3v-1h-1v-1h-1v-3h1v-1h1zM1158 620h3v1h1v1h1v3h-1v1h-1v1h-3v-1h-1v-1h-1v-3h1v-1h1zM1161 620h3v1h1v1h1v3h-1v1h-1v1h-3v-1h-1v-1h-1v-3h1v-1h1zM1165 620h3v1h1v1h1v3h-1v1h-1v1h-3v-1h-1v-1h-1v-3h1v-1h1zM1168 620h3v1h1v1h1v3h-1v1h-1v1h-3v-1h-1v-1h-1v-3h1v-1h1zM1171 619h3v1h1v1h1v3h-1v1h-1v1h-3v-1h-1v-1h-1v-3h1v-1h1zM1175 619h3v1h1v1h1v3h-1v1h-1v1h-3v-1h-1v-1h-1v-3h1v-1h1zM1178 619h3v1h1v1h1v3h-1v1h-1v1h-3v-1h-1v-1h-1v-3h1v-1h1zM1181 619h3v1h1v1h1v3h-1v1h-1v1h-3v-1h-1v-1h-1v-3h1v-1h1zM1185 619h3v1h1v1h1v3h-1v1h-1v1h-3v-1h-1v-1h-1v-3h1v-1h1zM1188 619h3v1h1v1h1v3h-1v1h-1v1h-3v-1h-1v-1h-1v-3h1v-1h1zM1192 619h3v1h1v1h1v3h-1v1h-1v1h-3v-1h-1v-1h-1v-3h1v-1h1zM1195 619h3v1h1v1h1v3h-1v1h-1v1h-3v-1h-1v-1h-1v-3h1v-1h1zM1199 619h3v1h1v1h1v3h-1v1h-1v1h-3v-1h-1v-1h-1v-3h1v-1h1zM1202 619h3v1h1v1h1v3h-1v1h-1v1h-3v-1h-1v-1h-1v-3h1v-1h1zM1205 619h3v1h1v1h1v3h-1v1h-1v1h-3v-1h-1v-1h-1v-3h1v-1h1zM1209 619h3v1h1v1h1v3h-1v1h-1v1h-3v-1h-1v-1h-1v-3h1v-1h1zM1212 619h3v1h1v1h1v3h-1v1h-1v1h-3v-1h-1v-1h-1v-3h1v-1h1zM1216 619h3v1h1v1h1v3h-1v1h-1v1h-3v-1h-1v-1h-1v-3h1v-1h1zM1219 622h3v1h1v1h1v3h-1v1h-1v1h-3v-1h-1v-1h-1v-3h1v-1h1zM1223 622h3v1h1v1h1v3h-1v1h-1v1h-3v-1h-1v-1h-1v-3h1v-1h1zM1227 622h3v1h1v1h1v3h-1v1h-1v1h-3v-1h-1v-1h-1v-3h1v-1h1zM1230 622h3v1h1v1h1v3h-1v1h-1v1h-3v-1h-1v-1h-1v-3h1v-1h1zM1234 622h3v1h1v1h1v3h-1v1h-1v1h-3v-1h-1v-1h-1v-3h1v-1h1zM1237 622h3v1h1v1h1v3h-1v1h-1v1h-3v-1h-1v-1h-1v-3h1v-1h1zM1241 622h3v1h1v1h1v3h-1v1h-1v1h-3v-1h-1v-1h-1v-3h1v-1h1zM1244 622h3v1h1v1h1v3h-1v1h-1v1h-3v-1h-1v-1h-1v-3h1v-1h1zM1248 622h3v1h1v1h1v3h-1v1h-1v1h-3v-1h-1v-1h-1v-3h1v-1h1zM1251 619h3v1h1v1h1v3h-1v1h-1v1h-3v-1h-1v-1h-1v-3h1v-1h1zM1254 619h3v1h1v1h1v3h-1v1h-1v1h-3v-1h-1v-1h-1v-3h1v-1h1zM1258 619h3v1h1v1h1v3h-1v1h-1v1h-3v-1h-1v-1h-1v-3h1v-1h1zM1261 619h3v1h1v1h1v3h-1v1h-1v1h-3v-1h-1v-1h-1v-3h1v-1h1zM1265 619h3v1h1v1h1v3h-1v1h-1v1h-3v-1h-1v-1h-1v-3h1v-1h1zM1268 619h3v1h1v1h1v3h-1v1h-1v1h-3v-1h-1v-1h-1v-3h1v-1h1zM1272 619h3v1h1v1h1v3h-1v1h-1v1h-3v-1h-1v-1h-1v-3h1v-1h1zM1275 619h3v1h1v1h1v3h-1v1h-1v1h-3v-1h-1v-1h-1v-3h1v-1h1zM1279 619h3v1h1v1h1v3h-1v1h-1v1h-3v-1h-1v-1h-1v-3h1v-1h1zM1282 619h3v1h1v1h1v3h-1v1h-1v1h-3v-1h-1v-1h-1v-3h1v-1h1zM1286 619h3v1h1v1h1v3h-1v1h-1v1h-3v-1h-1v-1h-1v-3h1v-1h1zM1289 619h3v1h1v1h1v3h-1v1h-1v1h-3v-1h-1v-1h-1v-3h1v-1h1zM1293 619h3v1h1v1h1v3h-1v1h-1v1h-3v-1h-1v-1h-1v-3h1v-1h1zM1296 618h3v1h1v1h1v3h-1v1h-1v1h-3v-1h-1v-1h-1v-3h1v-1h1zM1299 618h3v1h1v1h1v3h-1v1h-1v1h-3v-1h-1v-1h-1v-3h1v-1h1zM1303 618h3v1h1v1h1v3h-1v1h-1v1h-3v-1h-1v-1h-1v-3h1v-1h1zM1306 618h3v1h1v1h1v3h-1v1h-1v1h-3v-1h-1v-1h-1v-3h1v-1h1zM1310 618h3v1h1v1h1v3h-1v1h-1v1h-3v-1h-1v-1h-1v-3h1v-1h1zM1313 618h3v1h1v1h1v3h-1v1h-1v1h-3v-1h-1v-1h-1v-3h1v-1h1zM1316 618h3v1h1v1h1v3h-1v1h-1v1h-3v-1h-1v-1h-1v-3h1v-1h1zM1320 618h3v1h1v1h1v3h-1v1h-1v1h-3v-1h-1v-1h-1v-3h1v-1h1zM1323 618h3v1h1v1h1v3h-1v1h-1v1h-3v-1h-1v-1h-1v-3h1v-1h1zM1327 618h3v1h1v1h1v3h-1v1h-1v1h-3v-1h-1v-1h-1v-3h1v-1h1zM1330 618h3v1h1v1h1v3h-1v1h-1v1h-3v-1h-1v-1h-1v-3h1v-1h1zM1334 618h3v1h1v1h1v3h-1v1h-1v1h-3v-1h-1v-1h-1v-3h1v-1h1zM1337 618h3v1h1v1h1v3h-1v1h-1v1h-3v-1h-1v-1h-1v-3h1v-1h1zM1340 618h3v1h1v1h1v3h-1v1h-1v1h-3v-1h-1v-1h-1v-3h1v-1h1zM1344 618h3v1h1v1h1v3h-1v1h-1v1h-3v-1h-1v-1h-1v-3h1v-1h1zM1347 620h3v1h1v1h1v3h-1v1h-1v1h-3v-1h-1v-1h-1v-3h1v-1h1zM1350 620h3v1h1v1h1v3h-1v1h-1v1h-3v-1h-1v-1h-1v-3h1v-1h1zM1354 620h3v1h1v1h1v3h-1v1h-1v1h-3v-1h-1v-1h-1v-3h1v-1h1zM1358 620h3v1h1v1h1v3h-1v1h-1v1h-3v-1h-1v-1h-1v-3h1v-1h1zM1361 620h3v1h1v1h1v3h-1v1h-1v1h-3v-1h-1v-1h-1v-3h1v-1h1zM1365 620h3v1h1v1h1v3h-1v1h-1v1h-3v-1h-1v-1h-1v-3h1v-1h1zM1369 620h3v1h1v1h1v3h-1v1h-1v1h-3v-1h-1v-1h-1v-3h1v-1h1zM1372 620h3v1h1v1h1v3h-1v1h-1v1h-3v-1h-1v-1h-1v-3h1v-1h1zM1376 620h3v1h1v1h1v3h-1v1h-1v1h-3v-1h-1v-1h-1v-3h1v-1h1zM1379 623h3v1h1v1h1v3h-1v1h-1v1h-3v-1h-1v-1h-1v-3h1v-1h1zM1382 623h3v1h1v1h1v3h-1v1h-1v1h-3v-1h-1v-1h-1v-3h1v-1h1zM1386 623h3v1h1v1h1v3h-1v1h-1v1h-3v-1h-1v-1h-1v-3h1v-1h1zM1389 623h3v1h1v1h1v3h-1v1h-1v1h-3v-1h-1v-1h-1v-3h1v-1h1zM1393 623h3v1h1v1h1v3h-1v1h-1v1h-3v-1h-1v-1h-1v-3h1v-1h1zM1396 623h3v1h1v1h1v3h-1v1h-1v1h-3v-1h-1v-1h-1v-3h1v-1h1zM1400 623h3v1h1v1h1v3h-1v1h-1v1h-3v-1h-1v-1h-1v-3h1v-1h1zM1403 623h3v1h1v1h1v3h-1v1h-1v1h-3v-1h-1v-1h-1v-3h1v-1h1zM1407 623h3v1h1v1h1v3h-1v1h-1v1h-3v-1h-1v-1h-1v-3h1v-1h1zM1410 623h3v1h1v1h1v3h-1v1h-1v1h-3v-1h-1v-1h-1v-3h1v-1h1zM1414 623h3v1h1v1h1v3h-1v1h-1v1h-3v-1h-1v-1h-1v-3h1v-1h1zM1416 619h3v1h1v1h1v3h-1v1h-1v1h-3v-1h-1v-1h-1v-3h1v-1h1zM1419 619h3v1h1v1h1v3h-1v1h-1v1h-3v-1h-1v-1h-1v-3h1v-1h1zM1423 619h3v1h1v1h1v3h-1v1h-1v1h-3v-1h-1v-1h-1v-3h1v-1h1zM1426 619h3v1h1v1h1v3h-1v1h-1v1h-3v-1h-1v-1h-1v-3h1v-1h1zM1429 619h3v1h1v1h1v3h-1v1h-1v1h-3v-1h-1v-1h-1v-3h1v-1h1zM1433 619h3v1h1v1h1v3h-1v1h-1v1h-3v-1h-1v-1h-1v-3h1v-1h1zM1436 619h3v1h1v1h1v3h-1v1h-1v1h-3v-1h-1v-1h-1v-3h1v-1h1zM1440 619h3v1h1v1h1v3h-1v1h-1v1h-3v-1h-1v-1h-1v-3h1v-1h1zM1443 619h3v1h1v1h1v3h-1v1h-1v1h-3v-1h-1v-1h-1v-3h1v-1h1zM1447 619h3v1h1v1h1v3h-1v1h-1v1h-3v-1h-1v-1h-1v-3h1v-1h1zM1450 619h3v1h1v1h1v3h-1v1h-1v1h-3v-1h-1v-1h-1v-3h1v-1h1zM1453 619h3v1h1v1h1v3h-1v1h-1v1h-3v-1h-1v-1h-1v-3h1v-1h1zM1457 619h3v1h1v1h1v3h-1v1h-1v1h-3v-1h-1v-1h-1v-3h1v-1h1zM1460 619h3v1h1v1h1v3h-1v1h-1v1h-3v-1h-1v-1h-1v-3h1v-1h1zM1464 619h3v1h1v1h1v3h-1v1h-1v1h-3v-1h-1v-1h-1v-3h1v-1h1zM1467 619h3v1h1v1h1v3h-1v1h-1v1h-3v-1h-1v-1h-1v-3h1v-1h1zM1470 619h3v1h1v1h1v3h-1v1h-1v1h-3v-1h-1v-1h-1v-3h1v-1h1zM1475 621h3v1h1v1h1v3h-1v1h-1v1h-3v-1h-1v-1h-1v-3h1v-1h1zM1478 621h3v1h1v1h1v3h-1v1h-1v1h-3v-1h-1v-1h-1v-3h1v-1h1zM1481 620h3v1h1v1h1v3h-1v1h-1v1h-3v-1h-1v-1h-1v-3h1v-1h1zM1484 620h3v1h1v1h1v3h-1v1h-1v1h-3v-1h-1v-1h-1v-3h1v-1h1zM1488 620h3v1h1v1h1v3h-1v1h-1v1h-3v-1h-1v-1h-1v-3h1v-1h1zM1491 619h3v1h1v1h1v3h-1v1h-1v1h-3v-1h-1v-1h-1v-3h1v-1h1zM1495 619h3v1h1v1h1v3h-1v1h-1v1h-3v-1h-1v-1h-1v-3h1v-1h1zM1498 619h3v1h1v1h1v3h-1v1h-1v1h-3v-1h-1v-1h-1v-3h1v-1h1zM1502 619h3v1h1v1h1v3h-1v1h-1v1h-3v-1h-1v-1h-1v-3h1v-1h1zM1506 619h3v1h1v1h1v3h-1v1h-1v1h-3v-1h-1v-1h-1v-3h1v-1h1zM1509 619h3v1h1v1h1v3h-1v1h-1v1h-3v-1h-1v-1h-1v-3h1v-1h1zM1513 619h3v1h1v1h1v3h-1v1h-1v1h-3v-1h-1v-1h-1v-3h1v-1h1zM1517 619h3v1h1v1h1v3h-1v1h-1v1h-3v-1h-1v-1h-1v-3h1v-1h1zM1520 619h3v1h1v1h1v3h-1v1h-1v1h-3v-1h-1v-1h-1v-3h1v-1h1zM1524 622h3v1h1v1h1v3h-1v1h-1v1h-3v-1h-1v-1h-1v-3h1v-1h1zM1527 622h3v1h1v1h1v3h-1v1h-1v1h-3v-1h-1v-1h-1v-3h1v-1h1zM1531 622h3v1h1v1h1v3h-1v1h-1v1h-3v-1h-1v-1h-1v-3h1v-1h1zM1534 622h3v1h1v1h1v3h-1v1h-1v1h-3v-1h-1v-1h-1v-3h1v-1h1zM1537 622h3v1h1v1h1v3h-1v1h-1v1h-3v-1h-1v-1h-1v-3h1v-1h1zM1541 622h3v1h1v1h1v3h-1v1h-1v1h-3v-1h-1v-1h-1v-3h1v-1h1zM1544 622h3v1h1v1h1v3h-1v1h-1v1h-3v-1h-1v-1h-1v-3h1v-1h1zM1548 623h3v1h1v1h1v3h-1v1h-1v1h-3v-1h-1v-1h-1v-3h1v-1h1zM1551 623h3v1h1v1h1v3h-1v1h-1v1h-3v-1h-1v-1h-1v-3h1v-1h1zM1555 623h3v1h1v1h1v3h-1v1h-1v1h-3v-1h-1v-1h-1v-3h1v-1h1zM1558 623h3v1h1v1h1v3h-1v1h-1v1h-3v-1h-1v-1h-1v-3h1v-1h1zM1562 623h3v1h1v1h1v3h-1v1h-1v1h-3v-1h-1v-1h-1v-3h1v-1h1zM1565 623h3v1h1v1h1v3h-1v1h-1v1h-3v-1h-1v-1h-1v-3h1v-1h1zM1568 623h3v1h1v1h1v3h-1v1h-1v1h-3v-1h-1v-1h-1v-3h1v-1h1zM1572 623h3v1h1v1h1v3h-1v1h-1v1h-3v-1h-1v-1h-1v-3h1v-1h1zM1575 623h3v1h1v1h1v3h-1v1h-1v1h-3v-1h-1v-1h-1v-3h1v-1h1zM1579 623h3v1h1v1h1v3h-1v1h-1v1h-3v-1h-1v-1h-1v-3h1v-1h1zM1584 619h3v1h1v1h1v3h-1v1h-1v1h-3v-1h-1v-1h-1v-3h1v-1h1zM1589 619h3v1h1v1h1v3h-1v1h-1v1h-3v-1h-1v-1h-1v-3h1v-1h1zM1593 623h3v1h1v1h1v3h-1v1h-1v1h-3v-1h-1v-1h-1v-3h1v-1h1zM1596 623h3v1h1v1h1v3h-1v1h-1v1h-3v-1h-1v-1h-1v-3h1v-1h1zM1600 623h3v1h1v1h1v3h-1v1h-1v1h-3v-1h-1v-1h-1v-3h1v-1h1zM1603 623h3v1h1v1h1v3h-1v1h-1v1h-3v-1h-1v-1h-1v-3h1v-1h1zM1606 623h3v1h1v1h1v3h-1v1h-1v1h-3v-1h-1v-1h-1v-3h1v-1h1zM1610 623h3v1h1v1h1v3h-1v1h-1v1h-3v-1h-1v-1h-1v-3h1v-1h1zM1613 623h3v1h1v1h1v3h-1v1h-1v1h-3v-1h-1v-1h-1v-3h1v-1h1zM1617 623h3v1h1v1h1v3h-1v1h-1v1h-3v-1h-1v-1h-1v-3h1v-1h1zM1620 623h3v1h1v1h1v3h-1v1h-1v1h-3v-1h-1v-1h-1v-3h1v-1h1zM1624 623h3v1h1v1h1v3h-1v1h-1v1h-3v-1h-1v-1h-1v-3h1v-1h1zM1627 620h3v1h1v1h1v3h-1v1h-1v1h-3v-1h-1v-1h-1v-3h1v-1h1zM1631 620h3v1h1v1h1v3h-1v1h-1v1h-3v-1h-1v-1h-1v-3h1v-1h1zM1634 620h3v1h1v1h1v3h-1v1h-1v1h-3v-1h-1v-1h-1v-3h1v-1h1zM1637 620h3v1h1v1h1v3h-1v1h-1v1h-3v-1h-1v-1h-1v-3h1v-1h1zM1641 620h3v1h1v1h1v3h-1v1h-1v1h-3v-1h-1v-1h-1v-3h1v-1h1zM1644 620h3v1h1v1h1v3h-1v1h-1v1h-3v-1h-1v-1h-1v-3h1v-1h1zM1648 620h3v1h1v1h1v3h-1v1h-1v1h-3v-1h-1v-1h-1v-3h1v-1h1zM1651 620h3v1h1v1h1v3h-1v1h-1v1h-3v-1h-1v-1h-1v-3h1v-1h1zM1655 620h3v1h1v1h1v3h-1v1h-1v1h-3v-1h-1v-1h-1v-3h1v-1h1zM1658 620h3v1h1v1h1v3h-1v1h-1v1h-3v-1h-1v-1h-1v-3h1v-1h1zM1662 620h3v1h1v1h1v3h-1v1h-1v1h-3v-1h-1v-1h-1v-3h1v-1h1zM1665 620h3v1h1v1h1v3h-1v1h-1v1h-3v-1h-1v-1h-1v-3h1v-1h1zM1669 620h3v1h1v1h1v3h-1v1h-1v1h-3v-1h-1v-1h-1v-3h1v-1h1zM1672 620h3v1h1v1h1v3h-1v1h-1v1h-3v-1h-1v-1h-1v-3h1v-1h1zM1675 620h3v1h1v1h1v3h-1v1h-1v1h-3v-1h-1v-1h-1v-3h1v-1h1zM1679 620h3v1h1v1h1v3h-1v1h-1v1h-3v-1h-1v-1h-1v-3h1v-1h1zM1682 620h3v1h1v1h1v3h-1v1h-1v1h-3v-1h-1v-1h-1v-3h1v-1h1zM1686 620h3v1h1v1h1v3h-1v1h-1v1h-3v-1h-1v-1h-1v-3h1v-1h1zM1689 620h3v1h1v1h1v3h-1v1h-1v1h-3v-1h-1v-1h-1v-3h1v-1h1zM1693 620h3v1h1v1h1v3h-1v1h-1v1h-3v-1h-1v-1h-1v-3h1v-1h1zM1696 620h3v1h1v1h1v3h-1v1h-1v1h-3v-1h-1v-1h-1v-3h1v-1h1zM1700 620h3v1h1v1h1v3h-1v1h-1v1h-3v-1h-1v-1h-1v-3h1v-1h1zM1703 620h3v1h1v1h1v3h-1v1h-1v1h-3v-1h-1v-1h-1v-3h1v-1h1zM1706 620h3v1h1v1h1v3h-1v1h-1v1h-3v-1h-1v-1h-1v-3h1v-1h1zM1710 620h3v1h1v1h1v3h-1v1h-1v1h-3v-1h-1v-1h-1v-3h1v-1h1zM1713 620h3v1h1v1h1v3h-1v1h-1v1h-3v-1h-1v-1h-1v-3h1v-1h1zM1717 620h3v1h1v1h1v3h-1v1h-1v1h-3v-1h-1v-1h-1v-3h1v-1h1zM1720 624h3v1h1v1h1v3h-1v1h-1v1h-3v-1h-1v-1h-1v-3h1v-1h1zM1724 624h3v1h1v1h1v3h-1v1h-1v1h-3v-1h-1v-1h-1v-3h1v-1h1zM1727 624h3v1h1v1h1v3h-1v1h-1v1h-3v-1h-1v-1h-1v-3h1v-1h1zM1731 624h3v1h1v1h1v3h-1v1h-1v1h-3v-1h-1v-1h-1v-3h1v-1h1zM1734 624h3v1h1v1h1v3h-1v1h-1v1h-3v-1h-1v-1h-1v-3h1v-1h1zM1737 624h3v1h1v1h1v3h-1v1h-1v1h-3v-1h-1v-1h-1v-3h1v-1h1zM1741 624h3v1h1v1h1v3h-1v1h-1v1h-3v-1h-1v-1h-1v-3h1v-1h1zM1744 624h3v1h1v1h1v3h-1v1h-1v1h-3v-1h-1v-1h-1v-3h1v-1h1zM1748 619h3v1h1v1h1v3h-1v1h-1v1h-3v-1h-1v-1h-1v-3h1v-1h1zM1751 619h3v1h1v1h1v3h-1v1h-1v1h-3v-1h-1v-1h-1v-3h1v-1h1zM1755 619h3v1h1v1h1v3h-1v1h-1v1h-3v-1h-1v-1h-1v-3h1v-1h1zM1759 619h3v1h1v1h1v3h-1v1h-1v1h-3v-1h-1v-1h-1v-3h1v-1h1zM1762 619h3v1h1v1h1v3h-1v1h-1v1h-3v-1h-1v-1h-1v-3h1v-1h1zM1766 619h3v1h1v1h1v3h-1v1h-1v1h-3v-1h-1v-1h-1v-3h1v-1h1zM1770 619h3v1h1v1h1v3h-1v1h-1v1h-3v-1h-1v-1h-1v-3h1v-1h1zM1773 619h3v1h1v1h1v3h-1v1h-1v1h-3v-1h-1v-1h-1v-3h1v-1h1zM1777 619h3v1h1v1h1v3h-1v1h-1v1h-3v-1h-1v-1h-1v-3h1v-1h1zM1780 618h3v1h1v1h1v3h-1v1h-1v1h-3v-1h-1v-1h-1v-3h1v-1h1zM1784 618h3v1h1v1h1v3h-1v1h-1v1h-3v-1h-1v-1h-1v-3h1v-1h1z" fill="#9E480E"/>
<polyline points="174.7,638.2 178.2,638.2 181.6,638.2 185.1,638.2 188.6,638.2 192.1,638.2 195.5,638.2 199,638.2 202.5,638.2 206,638.2 209.4,638.2 212.9,638.2 216.4,638.2 219.9,638.2 223.3,638.2 226.8,638.2 230.3,638.2 233.8,638.2 237.2,638.2 240.7,638.2 244.2,638.2 247.6,638.2 251.1,638.2 254.6,638.2 258.1,638.2 261.5,638.2 265,638.2 268.5,638.2 272,638.2 275.4,638.2 278.9,638.2 282.4,638.2 285.9,638.2 289.3,638.2 292.8,638.2 296.5,636.8 300.1,635.3 302.9,644.4 306.4,644.4 309.8,644.4 313.3,644.4 316.7,644.4 320.2,644.4 323.7,644.4 327.1,644.4 330.6,644.4 334,644.4 337.5,644.4 341,644.4 344.4,644.4 347.9,644.4 351.3,644.4 354.8,644.4 358.3,644.4 361.7,644.4 365.2,644.4 368.6,644.4 372.1,644.4 375.6,644.4 379,644.4 382.5,644.4 385.9,644.4 389.4,644.4 392.9,644.4 396.3,644.4 399.8,644.4 403.2,644.4 406.7,644.4 410.2,644.4 413.6,644.4 417.1,644.4 420.5,644.4 424,644.4 426.2,637.1 429.9,647.2 433.3,647.2 436.8,647.2 440.2,647.2 443.6,647.2 447.1,647.2 450.5,647.2 453.9,647.2 457.3,647.2 460.8,647.2 464.2,647.2 467.6,647.2 471.1,647.2 474.5,647.2 477.9,647.2 481.4,647.2 484.8,647.2 488.2,647.2 491.6,647.2 495.1,647.2 498.5,647.2 501.9,647.2 505.4,647.2 508.8,647.2 512.2,647.2 515.7,647.2 519.1,647.2 522.5,647.2 526,647.2 529.4,647.2 532.8,647.2 536.2,647.2 539.7,647.2 543.1,647.2 546.5,647.2 550,647.2 553.4,647.2 556.8,647.2 560.3,647.2 563.7,647.2 567.1,647.2 570.6,647.2 574,647.2 577.4,647.2 580.8,647.2 584.3,647.2 587.7,647.2 591.1,647.2 594.6,647.2 598,647.2 601.4,647.2 604.9,647.2 608.3,647.2 611.7,647.2 615.1,647.2 618.6,647.2 622,647.2 625.4,647.2 628.9,647.2 632.3,647.2 634.1,625.3 637.6,625.3 641.1,625.3 644.6,625.3 648.1,625.3 651.6,625.3 655,625.3 658.5,625.3 662,625.3 665.5,625.3 669,625.3 672.5,625.3 676,625.3 679.5,625.3 683,625.3 686.5,625.3 690,625.3 693.5,625.3 696.9,625.3 700.4,625.3 703.9,625.3 707.4,625.3 710.9,625.3 714.4,625.3 717.9,625.3 721.4,625.3 724.9,625.3 728.4,625.3 731.9,625.3 735.3,625.3 738.8,625.3 742.3,625.3 745.8,625.3 749.3,625.3 752.8,625.3 756.3,625.3 759.8,625.3 763.3,625.3 766.8,625.3 770.3,625.3 773.8,625.3 777.2,625.3 780.7,625.3 784.2,625.3 787.7,625.3 791.2,625.3 794.7,625.3 798.4,623.8 799.1,631.5 802.6,631.5 806.1,631.5 809.6,631.5 813.1,631.5 816.6,631.5 820,631.5 823.5,631.5 827,631.5 830.5,631.5 834,631.5 837.5,631.5 841,631.5 844.5,631.5 848,631.5 851.5,631.5 855,631.5 858.4,631.5 861.9,631.5 865.4,631.5 868.9,631.5 872.4,631.5 875.9,631.5 879.4,631.5 882.9,631.5 886.4,631.5 889.9,631.5 893.4,631.5 896.9,631.5 900.3,631.5 903.8,631.5 907.3,631.5 910.8,631.5 914.3,631.5 917.8,631.5 921.3,631.5 924.8,631.5 928.3,631.5 931.8,631.5 935.3,631.5 938.7,631.5 942.2,631.5 945.7,631.5 949.2,631.5 952.7,631.5 956.2,631.5 958.7,632.9 963.1,628.6 966,637.3 969.5,637.3 973,637.3 976.5,637.3 979.9,637.3 983.4,637.3 986.9,637.3 990.4,637.3 993.9,637.3 997.4,637.3 1000.8,637.3 1004.3,637.3 1007.8,637.3 1011.3,637.3 1014.8,637.3 1018.3,637.3 1021.7,637.3 1025.2,637.3 1028.7,637.3 1032.2,637.3 1035.7,637.3 1039.2,637.3 1042.7,637.3 1046.1,637.3 1049.6,637.3 1053.1,637.3 1056.6,637.3 1060.1,637.3 1063.6,637.3 1067,637.3 1070.5,637.3 1074,637.3 1077.5,637.3 1081,637.3 1084.5,637.3 1087.9,637.3 1091.4,637.3 1094.9,637.3 1098.4,637.3 1102.7,632.2 1106.4,632.2 1110.2,632.2 1113.9,632.2 1117.7,632.2 1121.4,632.2 1125.2,632.2 1128.9,632.2" fill="none" stroke="#636363" stroke-width="2.25" stroke-linejoin="round" stroke-linecap="round"/>
<polyline points="1252.2,638.7 1255.8,638.7 1259.3,638.7 1262.9,638.7 1266.5,638.7 1270.1,638.7 1273.6,638.7 1277.2,638.7 1280.8,638.7 1284.4,638.7 1287.9,638.7 1291.5,638.7 1294.4,633.6" fill="none" stroke="#636363" stroke-width="2.25" stroke-linejoin="round" stroke-linecap="round"/>
<polyline points="1418,639.3 1421.7,639.3 1425.3,639.3 1429,639.3 1431,638.7 1434.6,638.7 1438.2,638.7 1441.9,638.7 1445.5,638.7 1449.1,638.7 1452.8,638.7 1456.4,638.7 1460,638.7 1462,637.6 1465.5,637.6 1469,637.6 1472.4,637.6 1475.9,637.6 1479.4,637.6 1482.9,637.6 1486.3,637.6 1489.8,637.6 1493.3,637.6 1496.8,637.6 1500.3,637.6 1503.7,637.6 1507.2,637.6 1510.7,637.6 1514.2,637.6 1517.7,637.6 1521.1,637.6 1524.6,637.6 1528.1,637.6 1531.6,637.6 1535,637.6 1538.5,637.6 1542,637.6 1545.5,637.6 1549,637.6 1552.4,637.6 1555.9,637.6 1559.4,637.6 1562.9,637.6 1566.3,637.6 1569.8,637.6 1573.3,637.6 1576.8,637.6 1580.3,637.6 1583.7,637.6 1587.2,637.6 1590.7,637.6 1594.2,637.6 1597.7,637.6 1601.1,637.6 1604.6,637.6 1608.1,637.6 1611.6,637.6 1615,637.6 1618.5,637.6 1622,637.6 1625.2,635.8 1627.8,644.3 1631.3,644.3 1634.7,644.3 1638.2,644.3 1641.7,644.3 1645.2,644.3 1648.6,644.3 1652.1,644.3 1655.6,644.3 1659.1,644.3 1662.5,644.3 1666,644.3 1669.5,644.3 1673,644.3 1676.4,644.3 1679.9,644.3 1683.4,644.3 1686.8,644.3 1690.3,644.3 1693.8,644.3 1697.3,644.3 1700.7,644.3 1704.2,644.3 1707.7,644.3 1711.2,644.3 1714.6,644.3 1718.1,644.3 1721.6,644.3 1725.1,644.3 1728.5,644.3 1732,644.3 1735.5,644.3 1739,644.3 1742.4,644.3 1745.9,644.3 1749.3,639.1 1753,639 1756.7,638.9 1760.4,638.8 1764.1,638.6 1767.8,638.5 1771.5,638.4 1775.2,638.3 1777.8,635.7 1781.7,636.5 1785.5,637.4" fill="none" stroke="#636363" stroke-width="2.25" stroke-linejoin="round" stroke-linecap="round"/>
<path d="M173 635h3v1h1v1h1v3h-1v1h-1v1h-3v-1h-1v-1h-1v-3h1v-1h1zM177 635h3v1h1v1h1v3h-1v1h-1v1h-3v-1h-1v-1h-1v-3h1v-1h1zM180 635h3v1h1v1h1v3h-1v1h-1v1h-3v-1h-1v-1h-1v-3h1v-1h1zM184 635h3v1h1v1h1v3h-1v1h-1v1h-3v-1h-1v-1h-1v-3h1v-1h1zM187 635h3v1h1v1h1v3h-1v1h-1v1h-3v-1h-1v-1h-1v-3h1v-1h1zM191 635h3v1h1v1h1v3h-1v1h-1v1h-3v-1h-1v-1h-1v-3h1v-1h1zM194 635h3v1h1v1h1v3h-1v1h-1v1h-3v-1h-1v-1h-1v-3h1v-1h1zM198 635h3v1h1v1h1v3h-1v1h-1v1h-3v-1h-1v-1h-1v-3h1v-1h1zM201 635h3v1h1v1h1v3h-1v1h-1v1h-3v-1h-1v-1h-1v-3h1v-1h1zM204 635h3v1h1v1h1v3h-1v1h-1v1h-3v-1h-1v-1h-1v-3h1v-1h1zM208 635h3v1h1v1h1v3h-1v1h-1v1h-3v-1h-1v-1h-1v-3h1v-1h1zM211 635h3v1h1v1h1v3h-1v1h-1v1h-3v-1h-1v-1h-1v-3h1v-1h1zM215 635h3v1h1v1h1v3h-1v1h-1v1h-3v-1h-1v-1h-1v-3h1v-1h1zM218 635h3v1h1v1h1v3h-1v1h-1v1h-3v-1h-1v-1h-1v-3h1v-1h1zM222 635h3v1h1v1h1v3h-1v1h-1v1h-3v-1h-1v-1h-1v-3h1v-1h1zM225 635h3v1h1v1h1v3h-1v1h-1v1h-3v-1h-1v-1h-1v-3h1v-1h1zM229 635h3v1h1v1h1v3h-1v1h-1v1h-3v-1h-1v-1h-1v-3h1v-1h1zM232 635h3v1h1v1h1v3h-1v1h-1v1h-3v-1h-1v-1h-1v-3h1v-1h1zM236 635h3v1h1v1h1v3h-1v1h-1v1h-3v-1h-1v-1h-1v-3h1v-1h1zM239 635h3v1h1v1h1v3h-1v1h-1v1h-3v-1h-1v-1h-1v-3h1v-1h1zM243 635h3v1h1v1h1v3h-1v1h-1v1h-3v-1h-1v-1h-1v-3h1v-1h1zM246 635h3v1h1v1h1v3h-1v1h-1v1h-3v-1h-1v-1h-1v-3h1v-1h1zM250 635h3v1h1v1h1v3h-1v1h-1v1h-3v-1h-1v-1h-1v-3h1v-1h1zM253 635h3v1h1v1h1v3h-1v1h-1v1h-3v-1h-1v-1h-1v-3h1v-1h1zM257 635h3v1h1v1h1v3h-1v1h-1v1h-3v-1h-1v-1h-1v-3h1v-1h1zM260 635h3v1h1v1h1v3h-1v1h-1v1h-3v-1h-1v-1h-1v-3h1v-1h1zM264 635h3v1h1v1h1v3h-1v1h-1v1h-3v-1h-1v-1h-1v-3h1v-1h1zM267 635h3v1h1v1h1v3h-1v1h-1v1h-3v-1h-1v-1h-1v-3h1v-1h1zM270 635h3v1h1v1h1v3h-1v1h-1v1h-3v-1h-1v-1h-1v-3h1v-1h1zM274 635h3v1h1v1h1v3h-1v1h-1v1h-3v-1h-1v-1h-1v-3h1v-1h1zM277 635h3v1h1v1h1v3h-1v1h-1v1h-3v-1h-1v-1h-1v-3h1v-1h1zM281 635h3v1h1v1h1v3h-1v1h-1v1h-3v-1h-1v-1h-1v-3h1v-1h1zM284 635h3v1h1v1h1v3h-1v1h-1v1h-3v-1h-1v-1h-1v-3h1v-1h1zM288 635h3v1h1v1h1v3h-1v1h-1v1h-3v-1h-1v-1h-1v-3h1v-1h1zM291 635h3v1h1v1h1v3h-1v1h-1v1h-3v-1h-1v-1h-1v-3h1v-1h1zM295 633h3v1h1v1h1v3h-1v1h-1v1h-3v-1h-1v-1h-1v-3h1v-1h1zM299 632h3v1h1v1h1v3h-1v1h-1v1h-3v-1h-1v-1h-1v-3h1v-1h1zM301 641h3v1h1v1h1v3h-1v1h-1v1h-3v-1h-1v-1h-1v-3h1v-1h1zM305 641h3v1h1v1h1v3h-1v1h-1v1h-3v-1h-1v-1h-1v-3h1v-1h1zM308 641h3v1h1v1h1v3h-1v1h-1v1h-3v-1h-1v-1h-1v-3h1v-1h1zM312 641h3v1h1v1h1v3h-1v1h-1v1h-3v-1h-1v-1h-1v-3h1v-1h1zM315 641h3v1h1v1h1v3h-1v1h-1v1h-3v-1h-1v-1h-1v-3h1v-1h1zM319 641h3v1h1v1h1v3h-1v1h-1v1h-3v-1h-1v-1h-1v-3h1v-1h1zM322 641h3v1h1v1h1v3h-1v1h-1v1h-3v-1h-1v-1h-1v-3h1v-1h1zM326 641h3v1h1v1h1v3h-1v1h-1v1h-3v-1h-1v-1h-1v-3h1v-1h1zM329 641h3v1h1v1h1v3h-1v1h-1v1h-3v-1h-1v-1h-1v-3h1v-1h1zM333 641h3v1h1v1h1v3h-1v1h-1v1h-3v-1h-1v-1h-1v-3h1v-1h1zM336 641h3v1h1v1h1v3h-1v1h-1v1h-3v-1h-1v-1h-1v-3h1v-1h1zM339 641h3v1h1v1h1v3h-1v1h-1v1h-3v-1h-1v-1h-1v-3h1v-1h1zM343 641h3v1h1v1h1v3h-1v1h-1v1h-3v-1h-1v-1h-1v-3h1v-1h1zM346 641h3v1h1v1h1v3h-1v1h-1v1h-3v-1h-1v-1h-1v-3h1v-1h1zM350 641h3v1h1v1h1v3h-1v1h-1v1h-3v-1h-1v-1h-1v-3h1v-1h1zM353 641h3v1h1v1h1v3h-1v1h-1v1h-3v-1h-1v-1h-1v-3h1v-1h1zM357 641h3v1h1v1h1v3h-1v1h-1v1h-3v-1h-1v-1h-1v-3h1v-1h1zM360 641h3v1h1v1h1v3h-1v1h-1v1h-3v-1h-1v-1h-1v-3h1v-1h1zM364 641h3v1h1v1h1v3h-1v1h-1v1h-3v-1h-1v-1h-1v-3h1v-1h1zM367 641h3v1h1v1h1v3h-1v1h-1v1h-3v-1h-1v-1h-1v-3h1v-1h1zM371 641h3v1h1v1h1v3h-1v1h-1v1h-3v-1h-1v-1h-1v-3h1v-1h1zM374 641h3v1h1v1h1v3h-1v1h-1v1h-3v-1h-1v-1h-1v-3h1v-1h1zM378 641h3v1h1v1h1v3h-1v1h-1v1h-3v-1h-1v-1h-1v-3h1v-1h1zM381 641h3v1h1v1h1v3h-1v1h-1v1h-3v-1h-1v-1h-1v-3h1v-1h1zM384 641h3v1h1v1h1v3h-1v1h-1v1h-3v-1h-1v-1h-1v-3h1v-1h1zM388 641h3v1h1v1h1v3h-1v1h-1v1h-3v-1h-1v-1h-1v-3h1v-1h1zM391 641h3v1h1v1h1v3h-1v1h-1v1h-3v-1h-1v-1h-1v-3h1v-1h1zM395 641h3v1h1v1h1v3h-1v1h-1v1h-3v-1h-1v-1h-1v-3h1v-1h1zM398 641h3v1h1v1h1v3h-1v1h-1v1h-3v-1h-1v-1h-1v-3h1v-1h1zM402 641h3v1h1v1h1v3h-1v1h-1v1h-3v-1h-1v-1h-1v-3h1v-1h1zM405 641h3v1h1v1h1v3h-1v1h-1v1h-3v-1h-1v-1h-1v-3h1v-1h1zM409 641h3v1h1v1h1v3h-1v1h-1v1h-3v-1h-1v-1h-1v-3h1v-1h1zM412 641h3v1h1v1h1v3h-1v1h-1v1h-3v-1h-1v-1h-1v-3h1v-1h1zM416 641h3v1h1v1h1v3h-1v1h-1v1h-3v-1h-1v-1h-1v-3h1v-1h1zM419 641h3v1h1v1h1v3h-1v1h-1v1h-3v-1h-1v-1h-1v-3h1v-1h1zM423 641h3v1h1v1h1v3h-1v1h-1v1h-3v-1h-1v-1h-1v-3h1v-1h1zM425 634h3v1h1v1h1v3h-1v1h-1v1h-3v-1h-1v-1h-1v-3h1v-1h1zM428 644h3v1h1v1h1v3h-1v1h-1v1h-3v-1h-1v-1h-1v-3h1v-1h1zM432 644h3v1h1v1h1v3h-1v1h-1v1h-3v-1h-1v-1h-1v-3h1v-1h1zM435 644h3v1h1v1h1v3h-1v1h-1v1h-3v-1h-1v-1h-1v-3h1v-1h1zM439 644h3v1h1v1h1v3h-1v1h-1v1h-3v-1h-1v-1h-1v-3h1v-1h1zM442 644h3v1h1v1h1v3h-1v1h-1v1h-3v-1h-1v-1h-1v-3h1v-1h1zM446 644h3v1h1v1h1v3h-1v1h-1v1h-3v-1h-1v-1h-1v-3h1v-1h1zM449 644h3v1h1v1h1v3h-1v1h-1v1h-3v-1h-1v-1h-1v-3h1v-1h1zM452 644h3v1h1v1h1v3h-1v1h-1v1h-3v-1h-1v-1h-1v-3h1v-1h1zM456 644h3v1h1v1h1v3h-1v1h-1v1h-3v-1h-1v-1h-1v-3h1v-1h1zM459 644h3v1h1v1h1v3h-1v1h-1v1h-3v-1h-1v-1h-1v-3h1v-1h1zM463 644h3v1h1v1h1v3h-1v1h-1v1h-3v-1h-1v-1h-1v-3h1v-1h1zM466 644h3v1h1v1h1v3h-1v1h-1v1h-3v-1h-1v-1h-1v-3h1v-1h1zM470 644h3v1h1v1h1v3h-1v1h-1v1h-3v-1h-1v-1h-1v-3h1v-1h1zM473 644h3v1h1v1h1v3h-1v1h-1v1h-3v-1h-1v-1h-1v-3h1v-1h1zM476 644h3v1h1v1h1v3h-1v1h-1v1h-3v-1h-1v-1h-1v-3h1v-1h1zM480 644h3v1h1v1h1v3h-1v1h-1v1h-3v-1h-1v-1h-1v-3h1v-1h1zM483 644h3v1h1v1h1v3h-1v1h-1v1h-3v-1h-1v-1h-1v-3h1v-1h1zM487 644h3v1h1v1h1v3h-1v1h-1v1h-3v-1h-1v-1h-1v-3h1v-1h1zM490 644h3v1h1v1h1v3h-1v1h-1v1h-3v-1h-1v-1h-1v-3h1v-1h1zM494 644h3v1h1v1h1v3h-1v1h-1v1h-3v-1h-1v-1h-1v-3h1v-1h1zM497 644h3v1h1v1h1v3h-1v1h-1v1h-3v-1h-1v-1h-1v-3h1v-1h1zM500 644h3v1h1v1h1v3h-1v1h-1v1h-3v-1h-1v-1h-1v-3h1v-1h1zM504 644h3v1h1v1h1v3h-1v1h-1v1h-3v-1h-1v-1h-1v-3h1v-1h1zM507 644h3v1h1v1h1v3h-1v1h-1v1h-3v-1h-1v-1h-1v-3h1v-1h1zM511 644h3v1h1v1h1v3h-1v1h-1v1h-3v-1h-1v-1h-1v-3h1v-1h1zM514 644h3v1h1v1h1v3h-1v1h-1v1h-3v-1h-1v-1h-1v-3h1v-1h1zM518 644h3v1h1v1h1v3h-1v1h-1v1h-3v-1h-1v-1h-1v-3h1v-1h1zM521 644h3v1h1v1h1v3h-1v1h-1v1h-3v-1h-1v-1h-1v-3h1v-1h1zM524 644h3v1h1v1h1v3h-1v1h-1v1h-3v-1h-1v-1h-1v-3h1v-1h1zM528 644h3v1h1v1h1v3h-1v1h-1v1h-3v-1h-1v-1h-1v-3h1v-1h1zM531 644h3v1h1v1h1v3h-1v1h-1v1h-3v-1h-1v-1h-1v-3h1v-1h1zM535 644h3v1h1v1h1v3h-1v1h-1v1h-3v-1h-1v-1h-1v-3h1v-1h1zM538 644h3v1h1v1h1v3h-1v1h-1v1h-3v-1h-1v-1h-1v-3h1v-1h1zM542 644h3v1h1v1h1v3h-1v1h-1v1h-3v-1h-1v-1h-1v-3h1v-1h1zM545 644h3v1h1v1h1v3h-1v1h-1v1h-3v-1h-1v-1h-1v-3h1v-1h1zM548 644h3v1h1v1h1v3h-1v1h-1v1h-3v-1h-1v-1h-1v-3h1v-1h1zM552 644h3v1h1v1h1v3h-1v1h-1v1h-3v-1h-1v-1h-1v-3h1v-1h1zM555 644h3v1h1v1h1v3h-1v1h-1v1h-3v-1h-1v-1h-1v-3h1v-1h1zM559 644h3v1h1v1h1v3h-1v1h-1v1h-3v-1h-1v-1h-1v-3h1v-1h1zM562 644h3v1h1v1h1v3h-1v1h-1v1h-3v-1h-1v-1h-1v-3h1v-1h1zM566 644h3v1h1v1h1v3h-1v1h-1v1h-3v-1h-1v-1h-1v-3h1v-1h1zM569 644h3v1h1v1h1v3h-1v1h-1v1h-3v-1h-1v-1h-1v-3h1v-1h1zM572 644h3v1h1v1h1v3h-1v1h-1v1h-3v-1h-1v-1h-1v-3h1v-1h1zM576 644h3v1h1v1h1v3h-1v1h-1v1h-3v-1h-1v-1h-1v-3h1v-1h1zM579 644h3v1h1v1h1v3h-1v1h-1v1h-3v-1h-1v-1h-1v-3h1v-1h1zM583 644h3v1h1v1h1v3h-1v1h-1v1h-3v-1h-1v-1h-1v-3h1v-1h1zM586 644h3v1h1v1h1v3h-1v1h-1v1h-3v-1h-1v-1h-1v-3h1v-1h1zM590 644h3v1h1v1h1v3h-1v1h-1v1h-3v-1h-1v-1h-1v-3h1v-1h1zM593 644h3v1h1v1h1v3h-1v1h-1v1h-3v-1h-1v-1h-1v-3h1v-1h1zM596 644h3v1h1v1h1v3h-1v1h-1v1h-3v-1h-1v-1h-1v-3h1v-1h1zM600 644h3v1h1v1h1v3h-1v1h-1v1h-3v-1h-1v-1h-1v-3h1v-1h1zM603 644h3v1h1v1h1v3h-1v1h-1v1h-3v-1h-1v-1h-1v-3h1v-1h1zM607 644h3v1h1v1h1v3h-1v1h-1v1h-3v-1h-1v-1h-1v-3h1v-1h1zM610 644h3v1h1v1h1v3h-1v1h-1v1h-3v-1h-1v-1h-1v-3h1v-1h1zM614 644h3v1h1v1h1v3h-1v1h-1v1h-3v-1h-1v-1h-1v-3h1v-1h1zM617 644h3v1h1v1h1v3h-1v1h-1v1h-3v-1h-1v-1h-1v-3h1v-1h1zM621 644h3v1h1v1h1v3h-1v1h-1v1h-3v-1h-1v-1h-1v-3h1v-1h1zM624 644h3v1h1v1h1v3h-1v1h-1v1h-3v-1h-1v-1h-1v-3h1v-1h1zM627 644h3v1h1v1h1v3h-1v1h-1v1h-3v-1h-1v-1h-1v-3h1v-1h1zM631 644h3v1h1v1h1v3h-1v1h-1v1h-3v-1h-1v-1h-1v-3h1v-1h1zM633 622h3v1h1v1h1v3h-1v1h-1v1h-3v-1h-1v-1h-1v-3h1v-1h1zM636 622h3v1h1v1h1v3h-1v1h-1v1h-3v-1h-1v-1h-1v-3h1v-1h1zM640 622h3v1h1v1h1v3h-1v1h-1v1h-3v-1h-1v-1h-1v-3h1v-1h1zM643 622h3v1h1v1h1v3h-1v1h-1v1h-3v-1h-1v-1h-1v-3h1v-1h1zM647 622h3v1h1v1h1v3h-1v1h-1v1h-3v-1h-1v-1h-1v-3h1v-1h1zM650 622h3v1h1v1h1v3h-1v1h-1v1h-3v-1h-1v-1h-1v-3h1v-1h1zM654 622h3v1h1v1h1v3h-1v1h-1v1h-3v-1h-1v-1h-1v-3h1v-1h1zM657 622h3v1h1v1h1v3h-1v1h-1v1h-3v-1h-1v-1h-1v-3h1v-1h1zM661 622h3v1h1v1h1v3h-1v1h-1v1h-3v-1h-1v-1h-1v-3h1v-1h1zM664 622h3v1h1v1h1v3h-1v1h-1v1h-3v-1h-1v-1h-1v-3h1v-1h1zM668 622h3v1h1v1h1v3h-1v1h-1v1h-3v-1h-1v-1h-1v-3h1v-1h1zM671 622h3v1h1v1h1v3h-1v1h-1v1h-3v-1h-1v-1h-1v-3h1v-1h1zM674 622h3v1h1v1h1v3h-1v1h-1v1h-3v-1h-1v-1h-1v-3h1v-1h1zM678 622h3v1h1v1h1v3h-1v1h-1v1h-3v-1h-1v-1h-1v-3h1v-1h1zM681 622h3v1h1v1h1v3h-1v1h-1v1h-3v-1h-1v-1h-1v-3h1v-1h1zM685 622h3v1h1v1h1v3h-1v1h-1v1h-3v-1h-1v-1h-1v-3h1v-1h1zM688 622h3v1h1v1h1v3h-1v1h-1v1h-3v-1h-1v-1h-1v-3h1v-1h1zM692 622h3v1h1v1h1v3h-1v1h-1v1h-3v-1h-1v-1h-1v-3h1v-1h1zM695 622h3v1h1v1h1v3h-1v1h-1v1h-3v-1h-1v-1h-1v-3h1v-1h1zM699 622h3v1h1v1h1v3h-1v1h-1v1h-3v-1h-1v-1h-1v-3h1v-1h1zM702 622h3v1h1v1h1v3h-1v1h-1v1h-3v-1h-1v-1h-1v-3h1v-1h1zM706 622h3v1h1v1h1v3h-1v1h-1v1h-3v-1h-1v-1h-1v-3h1v-1h1zM709 622h3v1h1v1h1v3h-1v1h-1v1h-3v-1h-1v-1h-1v-3h1v-1h1zM713 622h3v1h1v1h1v3h-1v1h-1v1h-3v-1h-1v-1h-1v-3h1v-1h1zM716 622h3v1h1v1h1v3h-1v1h-1v1h-3v-1h-1v-1h-1v-3h1v-1h1zM720 622h3v1h1v1h1v3h-1v1h-1v1h-3v-1h-1v-1h-1v-3h1v-1h1zM723 622h3v1h1v1h1v3h-1v1h-1v1h-3v-1h-1v-1h-1v-3h1v-1h1zM727 622h3v1h1v1h1v3h-1v1h-1v1h-3v-1h-1v-1h-1v-3h1v-1h1zM730 622h3v1h1v1h1v3h-1v1h-1v1h-3v-1h-1v-1h-1v-3h1v-1h1zM734 622h3v1h1v1h1v3h-1v1h-1v1h-3v-1h-1v-1h-1v-3h1v-1h1zM737 622h3v1h1v1h1v3h-1v1h-1v1h-3v-1h-1v-1h-1v-3h1v-1h1zM741 622h3v1h1v1h1v3h-1v1h-1v1h-3v-1h-1v-1h-1v-3h1v-1h1zM744 622h3v1h1v1h1v3h-1v1h-1v1h-3v-1h-1v-1h-1v-3h1v-1h1zM748 622h3v1h1v1h1v3h-1v1h-1v1h-3v-1h-1v-1h-1v-3h1v-1h1zM751 622h3v1h1v1h1v3h-1v1h-1v1h-3v-1h-1v-1h-1v-3h1v-1h1zM755 622h3v1h1v1h1v3h-1v1h-1v1h-3v-1h-1v-1h-1v-3h1v-1h1zM758 622h3v1h1v1h1v3h-1v1h-1v1h-3v-1h-1v-1h-1v-3h1v-1h1zM762 622h3v1h1v1h1v3h-1v1h-1v1h-3v-1h-1v-1h-1v-3h1v-1h1zM765 622h3v1h1v1h1v3h-1v1h-1v1h-3v-1h-1v-1h-1v-3h1v-1h1zM769 622h3v1h1v1h1v3h-1v1h-1v1h-3v-1h-1v-1h-1v-3h1v-1h1zM772 622h3v1h1v1h1v3h-1v1h-1v1h-3v-1h-1v-1h-1v-3h1v-1h1zM776 622h3v1h1v1h1v3h-1v1h-1v1h-3v-1h-1v-1h-1v-3h1v-1h1zM779 622h3v1h1v1h1v3h-1v1h-1v1h-3v-1h-1v-1h-1v-3h1v-1h1zM783 622h3v1h1v1h1v3h-1v1h-1v1h-3v-1h-1v-1h-1v-3h1v-1h1zM786 622h3v1h1v1h1v3h-1v1h-1v1h-3v-1h-1v-1h-1v-3h1v-1h1zM790 622h3v1h1v1h1v3h-1v1h-1v1h-3v-1h-1v-1h-1v-3h1v-1h1zM793 622h3v1h1v1h1v3h-1v1h-1v1h-3v-1h-1v-1h-1v-3h1v-1h1zM797 620h3v1h1v1h1v3h-1v1h-1v1h-3v-1h-1v-1h-1v-3h1v-1h1zM798 628h3v1h1v1h1v3h-1v1h-1v1h-3v-1h-1v-1h-1v-3h1v-1h1zM801 628h3v1h1v1h1v3h-1v1h-1v1h-3v-1h-1v-1h-1v-3h1v-1h1zM805 628h3v1h1v1h1v3h-1v1h-1v1h-3v-1h-1v-1h-1v-3h1v-1h1zM808 628h3v1h1v1h1v3h-1v1h-1v1h-3v-1h-1v-1h-1v-3h1v-1h1zM812 628h3v1h1v1h1v3h-1v1h-1v1h-3v-1h-1v-1h-1v-3h1v-1h1zM815 628h3v1h1v1h1v3h-1v1h-1v1h-3v-1h-1v-1h-1v-3h1v-1h1zM819 628h3v1h1v1h1v3h-1v1h-1v1h-3v-1h-1v-1h-1v-3h1v-1h1zM822 628h3v1h1v1h1v3h-1v1h-1v1h-3v-1h-1v-1h-1v-3h1v-1h1zM826 628h3v1h1v1h1v3h-1v1h-1v1h-3v-1h-1v-1h-1v-3h1v-1h1zM829 628h3v1h1v1h1v3h-1v1h-1v1h-3v-1h-1v-1h-1v-3h1v-1h1zM833 628h3v1h1v1h1v3h-1v1h-1v1h-3v-1h-1v-1h-1v-3h1v-1h1zM836 628h3v1h1v1h1v3h-1v1h-1v1h-3v-1h-1v-1h-1v-3h1v-1h1zM839 628h3v1h1v1h1v3h-1v1h-1v1h-3v-1h-1v-1h-1v-3h1v-1h1zM843 628h3v1h1v1h1v3h-1v1h-1v1h-3v-1h-1v-1h-1v-3h1v-1h1zM846 628h3v1h1v1h1v3h-1v1h-1v1h-3v-1h-1v-1h-1v-3h1v-1h1zM850 628h3v1h1v1h1v3h-1v1h-1v1h-3v-1h-1v-1h-1v-3h1v-1h1zM853 628h3v1h1v1h1v3h-1v1h-1v1h-3v-1h-1v-1h-1v-3h1v-1h1zM857 628h3v1h1v1h1v3h-1v1h-1v1h-3v-1h-1v-1h-1v-3h1v-1h1zM860 628h3v1h1v1h1v3h-1v1h-1v1h-3v-1h-1v-1h-1v-3h1v-1h1zM864 628h3v1h1v1h1v3h-1v1h-1v1h-3v-1h-1v-1h-1v-3h1v-1h1zM867 628h3v1h1v1h1v3h-1v1h-1v1h-3v-1h-1v-1h-1v-3h1v-1h1zM871 628h3v1h1v1h1v3h-1v1h-1v1h-3v-1h-1v-1h-1v-3h1v-1h1zM874 628h3v1h1v1h1v3h-1v1h-1v1h-3v-1h-1v-1h-1v-3h1v-1h1zM878 628h3v1h1v1h1v3h-1v1h-1v1h-3v-1h-1v-1h-1v-3h1v-1h1zM881 628h3v1h1v1h1v3h-1v1h-1v1h-3v-1h-1v-1h-1v-3h1v-1h1zM885 628h3v1h1v1h1v3h-1v1h-1v1h-3v-1h-1v-1h-1v-3h1v-1h1zM888 628h3v1h1v1h1v3h-1v1h-1v1h-3v-1h-1v-1h-1v-3h1v-1h1zM892 628h3v1h1v1h1v3h-1v1h-1v1h-3v-1h-1v-1h-1v-3h1v-1h1zM895 628h3v1h1v1h1v3h-1v1h-1v1h-3v-1h-1v-1h-1v-3h1v-1h1zM899 628h3v1h1v1h1v3h-1v1h-1v1h-3v-1h-1v-1h-1v-3h1v-1h1zM902 628h3v1h1v1h1v3h-1v1h-1v1h-3v-1h-1v-1h-1v-3h1v-1h1zM906 628h3v1h1v1h1v3h-1v1h-1v1h-3v-1h-1v-1h-1v-3h1v-1h1zM909 628h3v1h1v1h1v3h-1v1h-1v1h-3v-1h-1v-1h-1v-3h1v-1h1zM913 628h3v1h1v1h1v3h-1v1h-1v1h-3v-1h-1v-1h-1v-3h1v-1h1zM916 628h3v1h1v1h1v3h-1v1h-1v1h-3v-1h-1v-1h-1v-3h1v-1h1zM920 628h3v1h1v1h1v3h-1v1h-1v1h-3v-1h-1v-1h-1v-3h1v-1h1zM923 628h3v1h1v1h1v3h-1v1h-1v1h-3v-1h-1v-1h-1v-3h1v-1h1zM927 628h3v1h1v1h1v3h-1v1h-1v1h-3v-1h-1v-1h-1v-3h1v-1h1zM930 628h3v1h1v1h1v3h-1v1h-1v1h-3v-1h-1v-1h-1v-3h1v-1h1zM934 628h3v1h1v1h1v3h-1v1h-1v1h-3v-1h-1v-1h-1v-3h1v-1h1zM937 628h3v1h1v1h1v3h-1v1h-1v1h-3v-1h-1v-1h-1v-3h1v-1h1zM941 628h3v1h1v1h1v3h-1v1h-1v1h-3v-1h-1v-1h-1v-3h1v-1h1zM944 628h3v1h1v1h1v3h-1v1h-1v1h-3v-1h-1v-1h-1v-3h1v-1h1zM948 628h3v1h1v1h1v3h-1v1h-1v1h-3v-1h-1v-1h-1v-3h1v-1h1zM951 628h3v1h1v1h1v3h-1v1h-1v1h-3v-1h-1v-1h-1v-3h1v-1h1zM955 628h3v1h1v1h1v3h-1v1h-1v1h-3v-1h-1v-1h-1v-3h1v-1h1zM957 629h3v1h1v1h1v3h-1v1h-1v1h-3v-1h-1v-1h-1v-3h1v-1h1zM962 625h3v1h1v1h1v3h-1v1h-1v1h-3v-1h-1v-1h-1v-3h1v-1h1zM965 634h3v1h1v1h1v3h-1v1h-1v1h-3v-1h-1v-1h-1v-3h1v-1h1zM968 634h3v1h1v1h1v3h-1v1h-1v1h-3v-1h-1v-1h-1v-3h1v-1h1zM971 634h3v1h1v1h1v3h-1v1h-1v1h-3v-1h-1v-1h-1v-3h1v-1h1zM975 634h3v1h1v1h1v3h-1v1h-1v1h-3v-1h-1v-1h-1v-3h1v-1h1zM978 634h3v1h1v1h1v3h-1v1h-1v1h-3v-1h-1v-1h-1v-3h1v-1h1zM982 634h3v1h1v1h1v3h-1v1h-1v1h-3v-1h-1v-1h-1v-3h1v-1h1zM985 634h3v1h1v1h1v3h-1v1h-1v1h-3v-1h-1v-1h-1v-3h1v-1h1zM989 634h3v1h1v1h1v3h-1v1h-1v1h-3v-1h-1v-1h-1v-3h1v-1h1zM992 634h3v1h1v1h1v3h-1v1h-1v1h-3v-1h-1v-1h-1v-3h1v-1h1zM996 634h3v1h1v1h1v3h-1v1h-1v1h-3v-1h-1v-1h-1v-3h1v-1h1zM999 634h3v1h1v1h1v3h-1v1h-1v1h-3v-1h-1v-1h-1v-3h1v-1h1zM1003 634h3v1h1v1h1v3h-1v1h-1v1h-3v-1h-1v-1h-1v-3h1v-1h1zM1006 634h3v1h1v1h1v3h-1v1h-1v1h-3v-1h-1v-1h-1v-3h1v-1h1zM1010 634h3v1h1v1h1v3h-1v1h-1v1h-3v-1h-1v-1h-1v-3h1v-1h1zM1013 634h3v1h1v1h1v3h-1v1h-1v1h-3v-1h-1v-1h-1v-3h1v-1h1zM1017 634h3v1h1v1h1v3h-1v1h-1v1h-3v-1h-1v-1h-1v-3h1v-1h1zM1020 634h3v1h1v1h1v3h-1v1h-1v1h-3v-1h-1v-1h-1v-3h1v-1h1zM1024 634h3v1h1v1h1v3h-1v1h-1v1h-3v-1h-1v-1h-1v-3h1v-1h1zM1027 634h3v1h1v1h1v3h-1v1h-1v1h-3v-1h-1v-1h-1v-3h1v-1h1zM1031 634h3v1h1v1h1v3h-1v1h-1v1h-3v-1h-1v-1h-1v-3h1v-1h1zM1034 634h3v1h1v1h1v3h-1v1h-1v1h-3v-1h-1v-1h-1v-3h1v-1h1zM1038 634h3v1h1v1h1v3h-1v1h-1v1h-3v-1h-1v-1h-1v-3h1v-1h1zM1041 634h3v1h1v1h1v3h-1v1h-1v1h-3v-1h-1v-1h-1v-3h1v-1h1zM1045 634h3v1h1v1h1v3h-1v1h-1v1h-3v-1h-1v-1h-1v-3h1v-1h1zM1048 634h3v1h1v1h1v3h-1v1h-1v1h-3v-1h-1v-1h-1v-3h1v-1h1zM1052 634h3v1h1v1h1v3h-1v1h-1v1h-3v-1h-1v-1h-1v-3h1v-1h1zM1055 634h3v1h1v1h1v3h-1v1h-1v1h-3v-1h-1v-1h-1v-3h1v-1h1zM1059 634h3v1h1v1h1v3h-1v1h-1v1h-3v-1h-1v-1h-1v-3h1v-1h1zM1062 634h3v1h1v1h1v3h-1v1h-1v1h-3v-1h-1v-1h-1v-3h1v-1h1zM1066 634h3v1h1v1h1v3h-1v1h-1v1h-3v-1h-1v-1h-1v-3h1v-1h1zM1069 634h3v1h1v1h1v3h-1v1h-1v1h-3v-1h-1v-1h-1v-3h1v-1h1zM1073 634h3v1h1v1h1v3h-1v1h-1v1h-3v-1h-1v-1h-1v-3h1v-1h1zM1076 634h3v1h1v1h1v3h-1v1h-1v1h-3v-1h-1v-1h-1v-3h1v-1h1zM1079 634h3v1h1v1h1v3h-1v1h-1v1h-3v-1h-1v-1h-1v-3h1v-1h1zM1083 634h3v1h1v1h1v3h-1v1h-1v1h-3v-1h-1v-1h-1v-3h1v-1h1zM1086 634h3v1h1v1h1v3h-1v1h-1v1h-3v-1h-1v-1h-1v-3h1v-1h1zM1090 634h3v1h1v1h1v3h-1v1h-1v1h-3v-1h-1v-1h-1v-3h1v-1h1zM1093 634h3v1h1v1h1v3h-1v1h-1v1h-3v-1h-1v-1h-1v-3h1v-1h1zM1097 634h3v1h1v1h1v3h-1v1h-1v1h-3v-1h-1v-1h-1v-3h1v-1h1zM1101 629h3v1h1v1h1v3h-1v1h-1v1h-3v-1h-1v-1h-1v-3h1v-1h1zM1105 629h3v1h1v1h1v3h-1v1h-1v1h-3v-1h-1v-1h-1v-3h1v-1h1zM1109 629h3v1h1v1h1v3h-1v1h-1v1h-3v-1h-1v-1h-1v-3h1v-1h1zM1112 629h3v1h1v1h1v3h-1v1h-1v1h-3v-1h-1v-1h-1v-3h1v-1h1zM1116 629h3v1h1v1h1v3h-1v1h-1v1h-3v-1h-1v-1h-1v-3h1v-1h1zM1120 629h3v1h1v1h1v3h-1v1h-1v1h-3v-1h-1v-1h-1v-3h1v-1h1zM1124 629h3v1h1v1h1v3h-1v1h-1v1h-3v-1h-1v-1h-1v-3h1v-1h1zM1127 629h3v1h1v1h1v3h-1v1h-1v1h-3v-1h-1v-1h-1v-3h1v-1h1zM1251 635h3v1h1v1h1v3h-1v1h-1v1h-3v-1h-1v-1h-1v-3h1v-1h1zM1254 635h3v1h1v1h1v3h-1v1h-1v1h-3v-1h-1v-1h-1v-3h1v-1h1zM1258 635h3v1h1v1h1v3h-1v1h-1v1h-3v-1h-1v-1h-1v-3h1v-1h1zM1261 635h3v1h1v1h1v3h-1v1h-1v1h-3v-1h-1v-1h-1v-3h1v-1h1zM1265 635h3v1h1v1h1v3h-1v1h-1v1h-3v-1h-1v-1h-1v-3h1v-1h1zM1269 635h3v1h1v1h1v3h-1v1h-1v1h-3v-1h-1v-1h-1v-3h1v-1h1zM1272 635h3v1h1v1h1v3h-1v1h-1v1h-3v-1h-1v-1h-1v-3h1v-1h1zM1276 635h3v1h1v1h1v3h-1v1h-1v1h-3v-1h-1v-1h-1v-3h1v-1h1zM1279 635h3v1h1v1h1v3h-1v1h-1v1h-3v-1h-1v-1h-1v-3h1v-1h1zM1283 635h3v1h1v1h1v3h-1v1h-1v1h-3v-1h-1v-1h-1v-3h1v-1h1zM1286 635h3v1h1v1h1v3h-1v1h-1v1h-3v-1h-1v-1h-1v-3h1v-1h1zM1290 635h3v1h1v1h1v3h-1v1h-1v1h-3v-1h-1v-1h-1v-3h1v-1h1zM1293 630h3v1h1v1h1v3h-1v1h-1v1h-3v-1h-1v-1h-1v-3h1v-1h1zM1417 636h3v1h1v1h1v3h-1v1h-1v1h-3v-1h-1v-1h-1v-3h1v-1h1zM1420 636h3v1h1v1h1v3h-1v1h-1v1h-3v-1h-1v-1h-1v-3h1v-1h1zM1424 636h3v1h1v1h1v3h-1v1h-1v1h-3v-1h-1v-1h-1v-3h1v-1h1zM1428 636h3v1h1v1h1v3h-1v1h-1v1h-3v-1h-1v-1h-1v-3h1v-1h1zM1430 635h3v1h1v1h1v3h-1v1h-1v1h-3v-1h-1v-1h-1v-3h1v-1h1zM1433 635h3v1h1v1h1v3h-1v1h-1v1h-3v-1h-1v-1h-1v-3h1v-1h1zM1437 635h3v1h1v1h1v3h-1v1h-1v1h-3v-1h-1v-1h-1v-3h1v-1h1zM1440 635h3v1h1v1h1v3h-1v1h-1v1h-3v-1h-1v-1h-1v-3h1v-1h1zM1444 635h3v1h1v1h1v3h-1v1h-1v1h-3v-1h-1v-1h-1v-3h1v-1h1zM1448 635h3v1h1v1h1v3h-1v1h-1v1h-3v-1h-1v-1h-1v-3h1v-1h1zM1451 635h3v1h1v1h1v3h-1v1h-1v1h-3v-1h-1v-1h-1v-3h1v-1h1zM1455 635h3v1h1v1h1v3h-1v1h-1v1h-3v-1h-1v-1h-1v-3h1v-1h1zM1459 635h3v1h1v1h1v3h-1v1h-1v1h-3v-1h-1v-1h-1v-3h1v-1h1zM1461 634h3v1h1v1h1v3h-1v1h-1v1h-3v-1h-1v-1h-1v-3h1v-1h1zM1464 634h3v1h1v1h1v3h-1v1h-1v1h-3v-1h-1v-1h-1v-3h1v-1h1zM1467 634h3v1h1v1h1v3h-1v1h-1v1h-3v-1h-1v-1h-1v-3h1v-1h1zM1471 634h3v1h1v1h1v3h-1v1h-1v1h-3v-1h-1v-1h-1v-3h1v-1h1zM1474 634h3v1h1v1h1v3h-1v1h-1v1h-3v-1h-1v-1h-1v-3h1v-1h1zM1478 634h3v1h1v1h1v3h-1v1h-1v1h-3v-1h-1v-1h-1v-3h1v-1h1zM1481 634h3v1h1v1h1v3h-1v1h-1v1h-3v-1h-1v-1h-1v-3h1v-1h1zM1485 634h3v1h1v1h1v3h-1v1h-1v1h-3v-1h-1v-1h-1v-3h1v-1h1zM1488 634h3v1h1v1h1v3h-1v1h-1v1h-3v-1h-1v-1h-1v-3h1v-1h1zM1492 634h3v1h1v1h1v3h-1v1h-1v1h-3v-1h-1v-1h-1v-3h1v-1h1zM1495 634h3v1h1v1h1v3h-1v1h-1v1h-3v-1h-1v-1h-1v-3h1v-1h1zM1499 634h3v1h1v1h1v3h-1v1h-1v1h-3v-1h-1v-1h-1v-3h1v-1h1zM1502 634h3v1h1v1h1v3h-1v1h-1v1h-3v-1h-1v-1h-1v-3h1v-1h1zM1506 634h3v1h1v1h1v3h-1v1h-1v1h-3v-1h-1v-1h-1v-3h1v-1h1zM1509 634h3v1h1v1h1v3h-1v1h-1v1h-3v-1h-1v-1h-1v-3h1v-1h1zM1513 634h3v1h1v1h1v3h-1v1h-1v1h-3v-1h-1v-1h-1v-3h1v-1h1zM1516 634h3v1h1v1h1v3h-1v1h-1v1h-3v-1h-1v-1h-1v-3h1v-1h1zM1520 634h3v1h1v1h1v3h-1v1h-1v1h-3v-1h-1v-1h-1v-3h1v-1h1zM1523 634h3v1h1v1h1v3h-1v1h-1v1h-3v-1h-1v-1h-1v-3h1v-1h1zM1527 634h3v1h1v1h1v3h-1v1h-1v1h-3v-1h-1v-1h-1v-3h1v-1h1zM1530 634h3v1h1v1h1v3h-1v1h-1v1h-3v-1h-1v-1h-1v-3h1v-1h1zM1534 634h3v1h1v1h1v3h-1v1h-1v1h-3v-1h-1v-1h-1v-3h1v-1h1zM1537 634h3v1h1v1h1v3h-1v1h-1v1h-3v-1h-1v-1h-1v-3h1v-1h1zM1541 634h3v1h1v1h1v3h-1v1h-1v1h-3v-1h-1v-1h-1v-3h1v-1h1zM1544 634h3v1h1v1h1v3h-1v1h-1v1h-3v-1h-1v-1h-1v-3h1v-1h1zM1547 634h3v1h1v1h1v3h-1v1h-1v1h-3v-1h-1v-1h-1v-3h1v-1h1zM1551 634h3v1h1v1h1v3h-1v1h-1v1h-3v-1h-1v-1h-1v-3h1v-1h1zM1554 634h3v1h1v1h1v3h-1v1h-1v1h-3v-1h-1v-1h-1v-3h1v-1h1zM1558 634h3v1h1v1h1v3h-1v1h-1v1h-3v-1h-1v-1h-1v-3h1v-1h1zM1561 634h3v1h1v1h1v3h-1v1h-1v1h-3v-1h-1v-1h-1v-3h1v-1h1zM1565 634h3v1h1v1h1v3h-1v1h-1v1h-3v-1h-1v-1h-1v-3h1v-1h1zM1568 634h3v1h1v1h1v3h-1v1h-1v1h-3v-1h-1v-1h-1v-3h1v-1h1zM1572 634h3v1h1v1h1v3h-1v1h-1v1h-3v-1h-1v-1h-1v-3h1v-1h1zM1575 634h3v1h1v1h1v3h-1v1h-1v1h-3v-1h-1v-1h-1v-3h1v-1h1zM1579 634h3v1h1v1h1v3h-1v1h-1v1h-3v-1h-1v-1h-1v-3h1v-1h1zM1582 634h3v1h1v1h1v3h-1v1h-1v1h-3v-1h-1v-1h-1v-3h1v-1h1zM1586 634h3v1h1v1h1v3h-1v1h-1v1h-3v-1h-1v-1h-1v-3h1v-1h1zM1589 634h3v1h1v1h1v3h-1v1h-1v1h-3v-1h-1v-1h-1v-3h1v-1h1zM1593 634h3v1h1v1h1v3h-1v1h-1v1h-3v-1h-1v-1h-1v-3h1v-1h1zM1596 634h3v1h1v1h1v3h-1v1h-1v1h-3v-1h-1v-1h-1v-3h1v-1h1zM1600 634h3v1h1v1h1v3h-1v1h-1v1h-3v-1h-1v-1h-1v-3h1v-1h1zM1603 634h3v1h1v1h1v3h-1v1h-1v1h-3v-1h-1v-1h-1v-3h1v-1h1zM1607 634h3v1h1v1h1v3h-1v1h-1v1h-3v-1h-1v-1h-1v-3h1v-1h1zM1610 634h3v1h1v1h1v3h-1v1h-1v1h-3v-1h-1v-1h-1v-3h1v-1h1zM1614 634h3v1h1v1h1v3h-1v1h-1v1h-3v-1h-1v-1h-1v-3h1v-1h1zM1617 634h3v1h1v1h1v3h-1v1h-1v1h-3v-1h-1v-1h-1v-3h1v-1h1zM1621 634h3v1h1v1h1v3h-1v1h-1v1h-3v-1h-1v-1h-1v-3h1v-1h1zM1624 632h3v1h1v1h1v3h-1v1h-1v1h-3v-1h-1v-1h-1v-3h1v-1h1zM1626 641h3v1h1v1h1v3h-1v1h-1v1h-3v-1h-1v-1h-1v-3h1v-1h1zM1630 641h3v1h1v1h1v3h-1v1h-1v1h-3v-1h-1v-1h-1v-3h1v-1h1zM1633 641h3v1h1v1h1v3h-1v1h-1v1h-3v-1h-1v-1h-1v-3h1v-1h1zM1637 641h3v1h1v1h1v3h-1v1h-1v1h-3v-1h-1v-1h-1v-3h1v-1h1zM1640 641h3v1h1v1h1v3h-1v1h-1v1h-3v-1h-1v-1h-1v-3h1v-1h1zM1644 641h3v1h1v1h1v3h-1v1h-1v1h-3v-1h-1v-1h-1v-3h1v-1h1zM1647 641h3v1h1v1h1v3h-1v1h-1v1h-3v-1h-1v-1h-1v-3h1v-1h1zM1651 641h3v1h1v1h1v3h-1v1h-1v1h-3v-1h-1v-1h-1v-3h1v-1h1zM1654 641h3v1h1v1h1v3h-1v1h-1v1h-3v-1h-1v-1h-1v-3h1v-1h1zM1658 641h3v1h1v1h1v3h-1v1h-1v1h-3v-1h-1v-1h-1v-3h1v-1h1zM1661 641h3v1h1v1h1v3h-1v1h-1v1h-3v-1h-1v-1h-1v-3h1v-1h1zM1665 641h3v1h1v1h1v3h-1v1h-1v1h-3v-1h-1v-1h-1v-3h1v-1h1zM1668 641h3v1h1v1h1v3h-1v1h-1v1h-3v-1h-1v-1h-1v-3h1v-1h1zM1671 641h3v1h1v1h1v3h-1v1h-1v1h-3v-1h-1v-1h-1v-3h1v-1h1zM1675 641h3v1h1v1h1v3h-1v1h-1v1h-3v-1h-1v-1h-1v-3h1v-1h1zM1678 641h3v1h1v1h1v3h-1v1h-1v1h-3v-1h-1v-1h-1v-3h1v-1h1zM1682 641h3v1h1v1h1v3h-1v1h-1v1h-3v-1h-1v-1h-1v-3h1v-1h1zM1685 641h3v1h1v1h1v3h-1v1h-1v1h-3v-1h-1v-1h-1v-3h1v-1h1zM1689 641h3v1h1v1h1v3h-1v1h-1v1h-3v-1h-1v-1h-1v-3h1v-1h1zM1692 641h3v1h1v1h1v3h-1v1h-1v1h-3v-1h-1v-1h-1v-3h1v-1h1zM1696 641h3v1h1v1h1v3h-1v1h-1v1h-3v-1h-1v-1h-1v-3h1v-1h1zM1699 641h3v1h1v1h1v3h-1v1h-1v1h-3v-1h-1v-1h-1v-3h1v-1h1zM1703 641h3v1h1v1h1v3h-1v1h-1v1h-3v-1h-1v-1h-1v-3h1v-1h1zM1706 641h3v1h1v1h1v3h-1v1h-1v1h-3v-1h-1v-1h-1v-3h1v-1h1zM1710 641h3v1h1v1h1v3h-1v1h-1v1h-3v-1h-1v-1h-1v-3h1v-1h1zM1713 641h3v1h1v1h1v3h-1v1h-1v1h-3v-1h-1v-1h-1v-3h1v-1h1zM1717 641h3v1h1v1h1v3h-1v1h-1v1h-3v-1h-1v-1h-1v-3h1v-1h1zM1720 641h3v1h1v1h1v3h-1v1h-1v1h-3v-1h-1v-1h-1v-3h1v-1h1zM1724 641h3v1h1v1h1v3h-1v1h-1v1h-3v-1h-1v-1h-1v-3h1v-1h1zM1727 641h3v1h1v1h1v3h-1v1h-1v1h-3v-1h-1v-1h-1v-3h1v-1h1zM1731 641h3v1h1v1h1v3h-1v1h-1v1h-3v-1h-1v-1h-1v-3h1v-1h1zM1734 641h3v1h1v1h1v3h-1v1h-1v1h-3v-1h-1v-1h-1v-3h1v-1h1zM1737 641h3v1h1v1h1v3h-1v1h-1v1h-3v-1h-1v-1h-1v-3h1v-1h1zM1741 641h3v1h1v1h1v3h-1v1h-1v1h-3v-1h-1v-1h-1v-3h1v-1h1zM1744 641h3v1h1v1h1v3h-1v1h-1v1h-3v-1h-1v-1h-1v-3h1v-1h1zM1748 636h3v1h1v1h1v3h-1v1h-1v1h-3v-1h-1v-1h-1v-3h1v-1h1zM1752 635h3v1h1v1h1v3h-1v1h-1v1h-3v-1h-1v-1h-1v-3h1v-1h1zM1755 635h3v1h1v1h1v3h-1v1h-1v1h-3v-1h-1v-1h-1v-3h1v-1h1zM1759 635h3v1h1v1h1v3h-1v1h-1v1h-3v-1h-1v-1h-1v-3h1v-1h1zM1763 635h3v1h1v1h1v3h-1v1h-1v1h-3v-1h-1v-1h-1v-3h1v-1h1zM1766 635h3v1h1v1h1v3h-1v1h-1v1h-3v-1h-1v-1h-1v-3h1v-1h1zM1770 635h3v1h1v1h1v3h-1v1h-1v1h-3v-1h-1v-1h-1v-3h1v-1h1zM1774 635h3v1h1v1h1v3h-1v1h-1v1h-3v-1h-1v-1h-1v-3h1v-1h1zM1776 632h3v1h1v1h1v3h-1v1h-1v1h-3v-1h-1v-1h-1v-3h1v-1h1zM1780 633h3v1h1v1h1v3h-1v1h-1v1h-3v-1h-1v-1h-1v-3h1v-1h1zM1784 634h3v1h1v1h1v3h-1v1h-1v1h-3v-1h-1v-1h-1v-3h1v-1h1z" fill="#636363"/>
<path d="M1414 162h3v1h1v1h1v3h-1v1h-1v1h-3v-1h-1v-1h-1v-3h1v-1h1z" fill="#997300"/>
<polyline points="957.6,165.5 969.2,165.5" fill="none" stroke="#264478" stroke-width="2.25" stroke-linejoin="round" stroke-linecap="round"/>
<path d="M956 162h3v1h1v1h1v3h-1v1h-1v1h-3v-1h-1v-1h-1v-3h1v-1h1zM968 162h3v1h1v1h1v3h-1v1h-1v1h-3v-1h-1v-1h-1v-3h1v-1h1z" fill="#264478"/>
<polyline points="902.1,165.5 940.7,165.5" fill="none" stroke="#43682B" stroke-width="2.25" stroke-linejoin="round" stroke-linecap="round"/>
<path d="M901 162h3v1h1v1h1v3h-1v1h-1v1h-3v-1h-1v-1h-1v-3h1v-1h1zM939 162h3v1h1v1h1v3h-1v1h-1v1h-3v-1h-1v-1h-1v-3h1v-1h1z" fill="#43682B"/>
<polyline points="780.7,165.5 796.3,165.5" fill="none" stroke="#7CAFDD" stroke-width="2.25" stroke-linejoin="round" stroke-linecap="round"/>
<path d="M779 162h3v1h1v1h1v3h-1v1h-1v1h-3v-1h-1v-1h-1v-3h1v-1h1zM795 162h3v1h1v1h1v3h-1v1h-1v1h-3v-1h-1v-1h-1v-3h1v-1h1z" fill="#7CAFDD"/>
<path d="M633 162h3v1h1v1h1v3h-1v1h-1v1h-3v-1h-1v-1h-1v-3h1v-1h1z" fill="#F1975A"/>
<polyline points="174.7,642.3 178.2,642.3 181.7,642.3 185.2,642.3 188.7,642.3 192.2,642.3 195.7,642.3 199.2,642.3 202.7,642.3 206.2,642.3 209.7,642.3 213.2,642.3 216.8,642.3 220.3,642.3 223.8,642.3 227.3,642.3 230.8,642.3 234.3,642.3 237.8,642.3 241.3,642.3 244.8,642.3 248.3,642.3 251.8,642.3 255.3,642.3 258,638.6 261.7,638.6 265.3,638.6 269,638.6 272.7,638.6 276.3,638.6 280,638.6 283,639 286.5,639.1 290,639.2 291.9,641.4 296.4,641.4 301,641.4 305.6,643.3 309.1,643.3 312.6,643.3 316.1,643.3 319.6,643.3 323.1,643.3 326.6,643.3 330.1,643.3 333.6,643.3 337.1,643.3 340.6,643.3 344.1,643.3 347.6,643.3 351.1,643.3 354.6,643.3 358,643.4 361.5,643.4 365,643.4 368.5,643.4 372,643.4 375.5,643.4 379,643.4 382.5,643.4 386,643.4 389.5,643.4 393,643.4 396.5,643.4 400,643.4 403.5,643.4 407,643.4 410.6,641.8 414.3,640.3 417.7,640.8 421,641.2 424.4,641.7" fill="none" stroke="#FFC000" stroke-width="2.25" stroke-linejoin="round" stroke-linecap="round"/>
<path d="M173 639h3v1h1v1h1v3h-1v1h-1v1h-3v-1h-1v-1h-1v-3h1v-1h1zM177 639h3v1h1v1h1v3h-1v1h-1v1h-3v-1h-1v-1h-1v-3h1v-1h1zM180 639h3v1h1v1h1v3h-1v1h-1v1h-3v-1h-1v-1h-1v-3h1v-1h1zM184 639h3v1h1v1h1v3h-1v1h-1v1h-3v-1h-1v-1h-1v-3h1v-1h1zM187 639h3v1h1v1h1v3h-1v1h-1v1h-3v-1h-1v-1h-1v-3h1v-1h1zM191 639h3v1h1v1h1v3h-1v1h-1v1h-3v-1h-1v-1h-1v-3h1v-1h1zM194 639h3v1h1v1h1v3h-1v1h-1v1h-3v-1h-1v-1h-1v-3h1v-1h1zM198 639h3v1h1v1h1v3h-1v1h-1v1h-3v-1h-1v-1h-1v-3h1v-1h1zM201 639h3v1h1v1h1v3h-1v1h-1v1h-3v-1h-1v-1h-1v-3h1v-1h1zM205 639h3v1h1v1h1v3h-1v1h-1v1h-3v-1h-1v-1h-1v-3h1v-1h1zM208 639h3v1h1v1h1v3h-1v1h-1v1h-3v-1h-1v-1h-1v-3h1v-1h1zM212 639h3v1h1v1h1v3h-1v1h-1v1h-3v-1h-1v-1h-1v-3h1v-1h1zM215 639h3v1h1v1h1v3h-1v1h-1v1h-3v-1h-1v-1h-1v-3h1v-1h1zM219 639h3v1h1v1h1v3h-1v1h-1v1h-3v-1h-1v-1h-1v-3h1v-1h1zM222 639h3v1h1v1h1v3h-1v1h-1v1h-3v-1h-1v-1h-1v-3h1v-1h1zM226 639h3v1h1v1h1v3h-1v1h-1v1h-3v-1h-1v-1h-1v-3h1v-1h1zM229 639h3v1h1v1h1v3h-1v1h-1v1h-3v-1h-1v-1h-1v-3h1v-1h1zM233 639h3v1h1v1h1v3h-1v1h-1v1h-3v-1h-1v-1h-1v-3h1v-1h1zM236 639h3v1h1v1h1v3h-1v1h-1v1h-3v-1h-1v-1h-1v-3h1v-1h1zM240 639h3v1h1v1h1v3h-1v1h-1v1h-3v-1h-1v-1h-1v-3h1v-1h1zM243 639h3v1h1v1h1v3h-1v1h-1v1h-3v-1h-1v-1h-1v-3h1v-1h1zM247 639h3v1h1v1h1v3h-1v1h-1v1h-3v-1h-1v-1h-1v-3h1v-1h1zM250 639h3v1h1v1h1v3h-1v1h-1v1h-3v-1h-1v-1h-1v-3h1v-1h1zM254 639h3v1h1v1h1v3h-1v1h-1v1h-3v-1h-1v-1h-1v-3h1v-1h1zM257 635h3v1h1v1h1v3h-1v1h-1v1h-3v-1h-1v-1h-1v-3h1v-1h1zM260 635h3v1h1v1h1v3h-1v1h-1v1h-3v-1h-1v-1h-1v-3h1v-1h1zM264 635h3v1h1v1h1v3h-1v1h-1v1h-3v-1h-1v-1h-1v-3h1v-1h1zM268 635h3v1h1v1h1v3h-1v1h-1v1h-3v-1h-1v-1h-1v-3h1v-1h1zM271 635h3v1h1v1h1v3h-1v1h-1v1h-3v-1h-1v-1h-1v-3h1v-1h1zM275 635h3v1h1v1h1v3h-1v1h-1v1h-3v-1h-1v-1h-1v-3h1v-1h1zM279 635h3v1h1v1h1v3h-1v1h-1v1h-3v-1h-1v-1h-1v-3h1v-1h1zM282 636h3v1h1v1h1v3h-1v1h-1v1h-3v-1h-1v-1h-1v-3h1v-1h1zM285 636h3v1h1v1h1v3h-1v1h-1v1h-3v-1h-1v-1h-1v-3h1v-1h1zM289 636h3v1h1v1h1v3h-1v1h-1v1h-3v-1h-1v-1h-1v-3h1v-1h1zM290 638h3v1h1v1h1v3h-1v1h-1v1h-3v-1h-1v-1h-1v-3h1v-1h1zM295 638h3v1h1v1h1v3h-1v1h-1v1h-3v-1h-1v-1h-1v-3h1v-1h1zM300 638h3v1h1v1h1v3h-1v1h-1v1h-3v-1h-1v-1h-1v-3h1v-1h1zM304 640h3v1h1v1h1v3h-1v1h-1v1h-3v-1h-1v-1h-1v-3h1v-1h1zM308 640h3v1h1v1h1v3h-1v1h-1v1h-3v-1h-1v-1h-1v-3h1v-1h1zM311 640h3v1h1v1h1v3h-1v1h-1v1h-3v-1h-1v-1h-1v-3h1v-1h1zM315 640h3v1h1v1h1v3h-1v1h-1v1h-3v-1h-1v-1h-1v-3h1v-1h1zM318 640h3v1h1v1h1v3h-1v1h-1v1h-3v-1h-1v-1h-1v-3h1v-1h1zM322 640h3v1h1v1h1v3h-1v1h-1v1h-3v-1h-1v-1h-1v-3h1v-1h1zM325 640h3v1h1v1h1v3h-1v1h-1v1h-3v-1h-1v-1h-1v-3h1v-1h1zM329 640h3v1h1v1h1v3h-1v1h-1v1h-3v-1h-1v-1h-1v-3h1v-1h1zM332 640h3v1h1v1h1v3h-1v1h-1v1h-3v-1h-1v-1h-1v-3h1v-1h1zM336 640h3v1h1v1h1v3h-1v1h-1v1h-3v-1h-1v-1h-1v-3h1v-1h1zM339 640h3v1h1v1h1v3h-1v1h-1v1h-3v-1h-1v-1h-1v-3h1v-1h1zM343 640h3v1h1v1h1v3h-1v1h-1v1h-3v-1h-1v-1h-1v-3h1v-1h1zM346 640h3v1h1v1h1v3h-1v1h-1v1h-3v-1h-1v-1h-1v-3h1v-1h1zM350 640h3v1h1v1h1v3h-1v1h-1v1h-3v-1h-1v-1h-1v-3h1v-1h1zM353 640h3v1h1v1h1v3h-1v1h-1v1h-3v-1h-1v-1h-1v-3h1v-1h1zM357 640h3v1h1v1h1v3h-1v1h-1v1h-3v-1h-1v-1h-1v-3h1v-1h1zM360 640h3v1h1v1h1v3h-1v1h-1v1h-3v-1h-1v-1h-1v-3h1v-1h1zM364 640h3v1h1v1h1v3h-1v1h-1v1h-3v-1h-1v-1h-1v-3h1v-1h1zM367 640h3v1h1v1h1v3h-1v1h-1v1h-3v-1h-1v-1h-1v-3h1v-1h1zM371 640h3v1h1v1h1v3h-1v1h-1v1h-3v-1h-1v-1h-1v-3h1v-1h1zM374 640h3v1h1v1h1v3h-1v1h-1v1h-3v-1h-1v-1h-1v-3h1v-1h1zM378 640h3v1h1v1h1v3h-1v1h-1v1h-3v-1h-1v-1h-1v-3h1v-1h1zM381 640h3v1h1v1h1v3h-1v1h-1v1h-3v-1h-1v-1h-1v-3h1v-1h1zM385 640h3v1h1v1h1v3h-1v1h-1v1h-3v-1h-1v-1h-1v-3h1v-1h1zM388 640h3v1h1v1h1v3h-1v1h-1v1h-3v-1h-1v-1h-1v-3h1v-1h1zM392 640h3v1h1v1h1v3h-1v1h-1v1h-3v-1h-1v-1h-1v-3h1v-1h1zM395 640h3v1h1v1h1v3h-1v1h-1v1h-3v-1h-1v-1h-1v-3h1v-1h1zM399 640h3v1h1v1h1v3h-1v1h-1v1h-3v-1h-1v-1h-1v-3h1v-1h1zM402 640h3v1h1v1h1v3h-1v1h-1v1h-3v-1h-1v-1h-1v-3h1v-1h1zM406 640h3v1h1v1h1v3h-1v1h-1v1h-3v-1h-1v-1h-1v-3h1v-1h1zM409 638h3v1h1v1h1v3h-1v1h-1v1h-3v-1h-1v-1h-1v-3h1v-1h1zM413 637h3v1h1v1h1v3h-1v1h-1v1h-3v-1h-1v-1h-1v-3h1v-1h1zM416 637h3v1h1v1h1v3h-1v1h-1v1h-3v-1h-1v-1h-1v-3h1v-1h1zM420 638h3v1h1v1h1v3h-1v1h-1v1h-3v-1h-1v-1h-1v-3h1v-1h1zM423 638h3v1h1v1h1v3h-1v1h-1v1h-3v-1h-1v-1h-1v-3h1v-1h1z" fill="#FFC000"/>
<polyline points="410.2,165.5 423.4,165.5" fill="none" stroke="#FFCD33" stroke-width="2.25" stroke-linejoin="round" stroke-linecap="round"/>
<path d="M409 162h3v1h1v1h1v3h-1v1h-1v1h-3v-1h-1v-1h-1v-3h1v-1h1zM422 162h3v1h1v1h1v3h-1v1h-1v1h-3v-1h-1v-1h-1v-3h1v-1h1z" fill="#FFCD33"/>
<path d="M428 162h3v1h1v1h1v3h-1v1h-1v1h-3v-1h-1v-1h-1v-3h1v-1h1z" fill="#698ED0"/>
<path d="M434.8 149.5L411 165M430 165.5L457.6 172.4M791.9 153.1L781 165M904.8 154L902.6 165" stroke="#A6A6A6" stroke-width="1" fill="none"/>
<text x="401.1" y="144.7" font-size="10.8" fill="#595959" text-anchor="start" textLength="65.3" lengthAdjust="spacingAndGlyphs">getnzb_DL_1</text>
<text x="425.8" y="185.5" font-size="10.8" fill="#595959" text-anchor="start" textLength="63" lengthAdjust="spacingAndGlyphs">PMS_restart</text>
<text x="594.7" y="156.9" font-size="10.8" fill="#595959" text-anchor="start" textLength="95.3" lengthAdjust="spacingAndGlyphs">Plex_Tunner_crash</text>
<text x="741" y="147.8" font-size="10.8" fill="#595959" text-anchor="start" textLength="99.6" lengthAdjust="spacingAndGlyphs">SABnzb_1.1.1_DL_3</text>
<text x="854.1" y="148.7" font-size="10.8" fill="#595959" text-anchor="start" textLength="99.6" lengthAdjust="spacingAndGlyphs">SABnzb_1.1.1_DL_2</text>
<text x="944.3" y="155.8" font-size="10.8" fill="#595959" text-anchor="start" textLength="99" lengthAdjust="spacingAndGlyphs">SABnzb_1.1.1_DL_1</text>
<text x="1378" y="155.9" font-size="10.8" fill="#595959" text-anchor="start" textLength="75.8" lengthAdjust="spacingAndGlyphs">SabNZB restart</text>
<text x="1592.2" y="152.8" font-size="10.8" fill="#595959" text-anchor="start" textLength="176.8" lengthAdjust="spacingAndGlyphs">SabNZB_DL 01-01 19:11:34 20:15:07</text>
<rect x="7.1" y="116" width="26.5" height="2" fill="#5B9BD5"/>
<circle cx="21" cy="117" r="3.3" fill="#5B9BD5"/>
<text x="36.6" y="120" font-size="10.8" fill="#595959" text-anchor="start" textLength="72.8" lengthAdjust="spacingAndGlyphs">Memory usage</text>
<rect x="7.1" y="138" width="26.5" height="2" fill="#ED7D31"/>
<circle cx="21" cy="139.1" r="3.3" fill="#ED7D31"/>
<text x="36.6" y="142" font-size="10.8" fill="#595959" text-anchor="start" textLength="38.4" lengthAdjust="spacingAndGlyphs">kodi.bin</text>
<rect x="7.1" y="161" width="26.5" height="2" fill="#A5A5A5"/>
<circle cx="21" cy="162.1" r="3.3" fill="#A5A5A5"/>
<text x="36.6" y="165" font-size="10.8" fill="#595959" text-anchor="start" textLength="33.7" lengthAdjust="spacingAndGlyphs">python</text>
<rect x="7.1" y="183" width="26.5" height="2" fill="#7030A0"/>
<circle cx="21" cy="184.1" r="3.3" fill="#ED7D31"/>
<text x="36.6" y="187" font-size="10.8" fill="#595959" text-anchor="start" textLength="51.5" lengthAdjust="spacingAndGlyphs">tvheadend</text>
<rect x="7.1" y="206" width="26.5" height="2" fill="#4472C4"/>
<circle cx="21" cy="207.1" r="3.3" fill="#4472C4"/>
<text x="36.6" y="210" font-size="10.8" fill="#595959" text-anchor="start" textLength="177" lengthAdjust="spacingAndGlyphs">SabNZB_DL 01-01 19:11:34 20:15:07</text>
<rect x="7.1" y="228" width="26.5" height="2" fill="#255E91"/>
<circle cx="21" cy="229.1" r="3.3" fill="#255E91"/>
<text x="36.6" y="232" font-size="10.8" fill="#595959" text-anchor="start" textLength="53.4" lengthAdjust="spacingAndGlyphs">Plex Media</text>
<rect x="7.1" y="251" width="26.5" height="2" fill="#9E480E"/>
<circle cx="21" cy="252.1" r="3.3" fill="#9E480E"/>
<text x="36.6" y="255" font-size="10.8" fill="#595959" text-anchor="start" textLength="50.3" lengthAdjust="spacingAndGlyphs">Plex Script</text>
<rect x="7.1" y="273" width="26.5" height="2" fill="#636363"/>
<circle cx="21" cy="274.1" r="3.3" fill="#636363"/>
<text x="36.6" y="277" font-size="10.8" fill="#595959" text-anchor="start" textLength="50.3" lengthAdjust="spacingAndGlyphs">Plex Tuner</text>
<rect x="7.1" y="296" width="26.5" height="2" fill="#997300"/>
<circle cx="21" cy="297.1" r="3.3" fill="#997300"/>
<text x="36.6" y="300" font-size="10.8" fill="#595959" text-anchor="start" textLength="72.1" lengthAdjust="spacingAndGlyphs">SabNZB restart</text>
<rect x="7.1" y="318" width="26.5" height="2" fill="#264478"/>
<circle cx="21" cy="319.1" r="3.3" fill="#264478"/>
<text x="36.6" y="322" font-size="10.8" fill="#595959" text-anchor="start" textLength="95.8" lengthAdjust="spacingAndGlyphs">SABnzb_1.1.1_DL_1</text>
<rect x="7.1" y="341" width="26.5" height="2" fill="#43682B"/>
<circle cx="21" cy="342.1" r="3.3" fill="#43682B"/>
<text x="36.6" y="345" font-size="10.8" fill="#595959" text-anchor="start" textLength="96" lengthAdjust="spacingAndGlyphs">SABnzb_1.1.1_DL_2</text>
<rect x="7.1" y="363" width="26.5" height="2" fill="#7CAFDD"/>
<circle cx="21" cy="364.1" r="3.3" fill="#7CAFDD"/>
<text x="36.6" y="367" font-size="10.8" fill="#595959" text-anchor="start" textLength="96" lengthAdjust="spacingAndGlyphs">SABnzb_1.1.1_DL_3</text>
<rect x="7.1" y="386" width="26.5" height="2" fill="#F1975A"/>
<circle cx="21" cy="387.1" r="3.3" fill="#F1975A"/>
<text x="36.6" y="390" font-size="10.8" fill="#595959" text-anchor="start" textLength="92.4" lengthAdjust="spacingAndGlyphs">Plex_Tunner_crash</text>
<rect x="7.1" y="408" width="26.5" height="2" fill="#FFC000"/>
<circle cx="21" cy="409.1" r="3.3" fill="#FFC000"/>
<text x="36.6" y="412" font-size="10.8" fill="#595959" text-anchor="start" textLength="31.8" lengthAdjust="spacingAndGlyphs">nzbget</text>
<rect x="7.1" y="431" width="26.5" height="2" fill="#FFCD33"/>
<circle cx="21" cy="432.1" r="3.3" fill="#FFCD33"/>
<text x="36.6" y="435" font-size="10.8" fill="#595959" text-anchor="start" textLength="61.7" lengthAdjust="spacingAndGlyphs">getnzb_DL_1</text>
<rect x="7.1" y="453" width="26.5" height="2" fill="#698ED0"/>
<circle cx="21" cy="454.1" r="3.3" fill="#698ED0"/>
<text x="36.6" y="457" font-size="10.8" fill="#595959" text-anchor="start" textLength="60.3" lengthAdjust="spacingAndGlyphs">PMS_restart</text>
</svg></body></html>
